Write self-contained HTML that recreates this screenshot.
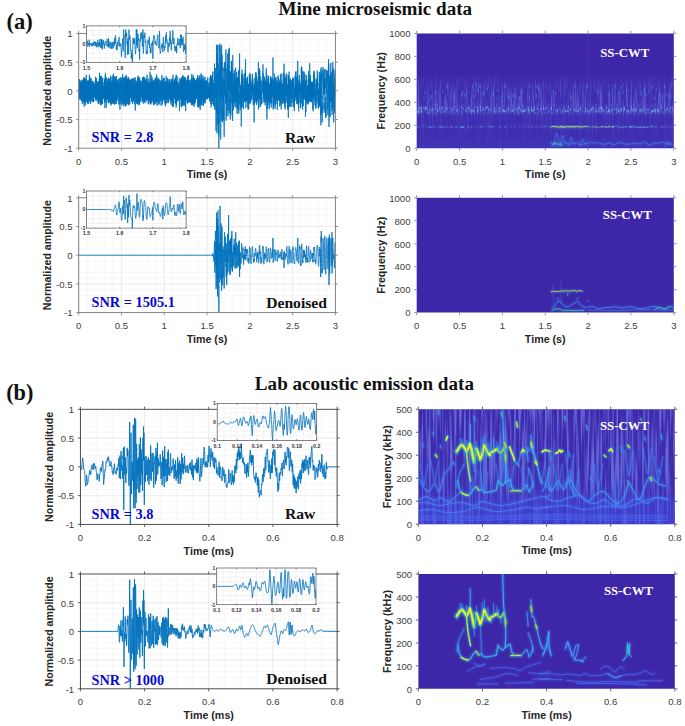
<!DOCTYPE html>
<html lang="en"><head><meta charset="utf-8"><title>Mine microseismic and lab acoustic emission data</title>
<style>html,body{margin:0;padding:0;background:#fff}svg{display:block}</style></head><body>
<svg width="685" height="726" viewBox="0 0 685 726" role="img" aria-label="Raw and denoised waveforms with SS-CWT spectrograms">
<rect width="685" height="726" fill="#fff"/>
<text x="375.3" y="14.8" font-family='"Liberation Serif", serif' font-size="19.1" font-weight="bold" fill="#111" text-anchor="middle" >Mine microseismic data</text>
<text x="364.4" y="390.4" font-family='"Liberation Serif", serif' font-size="19.1" font-weight="bold" fill="#111" text-anchor="middle" >Lab acoustic emission data</text>
<text x="6.5" y="28.6" font-family='"Liberation Serif", serif' font-size="22.5" font-weight="bold" fill="#111" text-anchor="start" >(a)</text>
<text x="6.2" y="400.1" font-family='"Liberation Serif", serif' font-size="22.3" font-weight="bold" fill="#111" text-anchor="start" >(b)</text>
<g>
<rect x="78.7" y="33.4" width="256.7" height="114.8" fill="#fff"/>
<path d="M87.26 33.4V148.2M95.81 33.4V148.2M104.37 33.4V148.2M112.93 33.4V148.2M121.48 33.4V148.2M130.04 33.4V148.2M138.6 33.4V148.2M147.15 33.4V148.2M155.71 33.4V148.2M164.27 33.4V148.2M172.82 33.4V148.2M181.38 33.4V148.2M189.94 33.4V148.2M198.49 33.4V148.2M207.05 33.4V148.2M215.61 33.4V148.2M224.16 33.4V148.2M232.72 33.4V148.2M241.28 33.4V148.2M249.83 33.4V148.2M258.39 33.4V148.2M266.95 33.4V148.2M275.5 33.4V148.2M284.06 33.4V148.2M292.62 33.4V148.2M301.17 33.4V148.2M309.73 33.4V148.2M318.29 33.4V148.2M326.84 33.4V148.2M78.7 39.14H335.4M78.7 44.88H335.4M78.7 50.62H335.4M78.7 56.36H335.4M78.7 62.1H335.4M78.7 67.84H335.4M78.7 73.58H335.4M78.7 79.32H335.4M78.7 85.06H335.4M78.7 90.8H335.4M78.7 96.54H335.4M78.7 102.28H335.4M78.7 108.02H335.4M78.7 113.76H335.4M78.7 119.5H335.4M78.7 125.24H335.4M78.7 130.98H335.4M78.7 136.72H335.4M78.7 142.46H335.4" stroke="#f3f3f3" stroke-width="0.6" fill="none"/>
<path d="M78.7 33.4V148.2M121.48 33.4V148.2M164.27 33.4V148.2M207.05 33.4V148.2M249.83 33.4V148.2M292.62 33.4V148.2M335.4 33.4V148.2M78.7 119.5H335.4M78.7 90.8H335.4M78.7 62.1H335.4" stroke="#e6e6e6" stroke-width="0.7" fill="none"/>
<clipPath id="c1"><rect x="78.7" y="32.9" width="256.7" height="115.8"/></clipPath>
<polyline points="78.7,99.3 78.74,97.66 78.79,91.56 78.83,87.16 78.87,90.26 78.91,96.17 78.96,96.64 79,89.96 79.04,83.84 79.09,88.43 79.13,99.9 79.17,99.47 79.21,84.32 79.26,79.04 79.3,86.59 79.34,89.85 79.38,81.25 79.43,80.07 79.47,87.92 79.51,90.86 79.56,88.73 79.6,93.35 79.64,97.01 79.68,91.93 79.73,86.59 79.77,85.19 79.81,82.68 79.86,83.06 79.9,88.64 79.94,87.95 79.98,81.64 80.03,83.61 80.07,93.58 80.11,97.29 80.15,97.22 80.2,98.26 80.24,92.5 80.28,81.84 80.33,83.59 80.37,97.41 80.41,99.42 80.45,86.38 80.5,80.52 80.54,88.63 80.58,97.95 80.63,96.35 80.67,90.9 80.71,90.11 80.75,91.65 80.8,91.31 80.84,88.66 80.88,84.6 80.92,82.93 80.97,86.76 81.01,91.94 81.05,91.76 81.1,90.15 81.14,90.15 81.18,88.71 81.22,90.59 81.27,99.06 81.31,101.02 81.35,91.53 81.4,85.79 81.44,94.06 81.48,99.18 81.52,96.34 81.57,97.73 81.61,100.92 81.65,93.56 81.69,82.57 81.74,86.09 81.78,95.06 81.82,91.09 81.87,82.02 81.91,80.41 81.95,82.23 81.99,84.58 82.04,90.83 82.08,98.68 82.12,98.98 82.17,89.4 82.21,83.57 82.25,93.94 82.29,103.92 82.34,98.49 82.38,80.52 82.42,79.74 82.46,93.89 82.51,100.01 82.55,95.04 82.59,91.09 82.64,90.64 82.68,88.71 82.72,89.28 82.76,93.06 82.81,90.84 82.85,82.68 82.89,80.05 82.94,82.58 82.98,83.97 83.02,86.36 83.06,96.93 83.11,101.81 83.15,91.86 83.19,81.17 83.24,89.32 83.28,101 83.32,93.74 83.36,79.32 83.41,79.26 83.45,84.42 83.49,83.94 83.53,88.09 83.58,100.87 83.62,101.82 83.66,87 83.71,80.17 83.75,91.47 83.79,101.24 83.83,91.46 83.88,77.32 83.92,79.3 83.96,96.92 84.01,102.49 84.05,98.57 84.09,101.95 84.13,106.61 84.18,103.97 84.22,87.9 84.26,83.35 84.3,90.93 84.35,89.83 84.39,80.45 84.43,78.66 84.48,84.36 84.52,91.65 84.56,96.91 84.6,102.72 84.65,103.39 84.69,90.47 84.73,77.65 84.78,81.78 84.82,97.01 84.86,93.59 84.9,79.21 84.95,79.33 84.99,94.12 85.03,102.83 85.07,101.79 85.12,95.34 85.16,85.41 85.2,80.11 85.25,81.79 85.29,88.05 85.33,91.42 85.37,89.51 85.42,88.37 85.46,94.86 85.5,103.45 85.55,105.2 85.59,101.58 85.63,93.7 85.67,84.94 85.72,78.81 85.76,80.26 85.8,91.83 85.84,95.74 85.89,86.25 85.93,85.66 85.97,99.39 86.02,101.73 86.06,86.86 86.1,80.01 86.14,87.22 86.19,85.26 86.23,75.07 86.27,74.77 86.32,88.39 86.36,101.6 86.4,98.83 86.44,95.43 86.49,97.36 86.53,96.41 86.57,92.38 86.61,89.37 86.66,86.58 86.7,85.08 86.74,85.93 86.79,86.41 86.83,88.53 86.87,95.89 86.91,100.04 86.96,95.59 87,86.96 87.04,82.83 87.09,82.31 87.13,84.45 87.17,88.32 87.21,91.77 87.26,96.36 87.3,100.08 87.34,98.68 87.39,96.29 87.43,100.58 87.47,102.64 87.51,93.62 87.56,82.56 87.6,85.48 87.64,90.93 87.68,88.8 87.73,94.63 87.77,104.14 87.81,100.19 87.86,81.11 87.9,81.07 87.94,99.44 87.98,102.49 88.03,87.56 88.07,79.91 88.11,88.71 88.16,99.46 88.2,98.53 88.24,93.89 88.28,94.51 88.33,93.87 88.37,85.22 88.41,80.8 88.45,87.52 88.5,95.1 88.54,89.18 88.58,83.59 88.63,93.52 88.67,103.66 88.71,100.75 88.75,87.61 88.8,84.51 88.84,90.29 88.88,92.25 88.93,88.93 88.97,85.6 89.01,85.14 89.05,90.55 89.1,98.15 89.14,99.92 89.18,99.39 89.22,99.9 89.27,93.99 89.31,82.09 89.35,82.58 89.4,74.61 89.44,95.38 89.48,82.68 89.52,78.64 89.57,85.23 89.61,97.39 89.65,100.72 89.7,91.76 89.74,79.95 89.78,80.79 89.82,89.74 89.87,90.29 89.91,83.67 89.95,81.01 89.99,81.87 90.04,88.93 90.08,100.88 90.12,102.1 90.17,90.94 90.21,85.68 90.25,95.01 90.29,99.51 90.34,95.12 90.38,91.83 90.42,90.31 90.47,86.27 90.51,88.98 90.55,101 90.59,104.12 90.64,92.36 90.68,77.65 90.72,79.37 90.76,94.6 90.81,99.36 90.85,90.22 90.89,84.29 90.94,87.82 90.98,92.96 91.02,97.7 91.06,101.53 91.11,98.41 91.15,85.5 91.19,78.86 91.24,79.84 91.28,83.63 91.32,87.73 91.36,90.07 91.41,87.94 91.45,85.89 91.49,90.49 91.53,96.46 91.58,94.88 91.62,89.92 91.66,89.21 91.71,88.15 91.75,84.41 91.79,85.85 91.83,93.78 91.88,98.11 91.92,97.58 91.96,98.09 92.01,100.59 92.05,100.69 92.09,94.36 92.13,84.87 92.18,84.93 92.22,94.49 92.26,97.35 92.31,87.97 92.35,81.97 92.39,87.21 92.43,95.73 92.48,99.49 92.52,101.36 92.56,98.4 92.6,86.26 92.65,81.18 92.69,89.28 92.73,98.16 92.78,97.28 92.82,93 92.86,88.18 92.9,83.91 92.95,88.49 92.99,100.69 93.03,102.19 93.08,89.93 93.12,81.21 93.16,86.31 93.2,93.38 93.25,90.36 93.29,86.24 93.33,87.86 93.37,87.42 93.42,82.98 93.46,86.14 93.5,98.96 93.55,101.84 93.59,93.36 93.63,90.2 93.67,99.37 93.72,102.05 93.76,96.03 93.8,90.47 93.85,88.95 93.89,86.09 93.93,86.44 93.97,91.77 94.02,93.34 94.06,91.29 94.1,94.05 94.14,97.57 94.19,94.07 94.23,88.78 94.27,90.5 94.32,92.1 94.36,87.17 94.4,86.28 94.44,94.29 94.49,96.81 94.53,90.16 94.57,89.72 94.62,97.11 94.66,97.09 94.7,89.38 94.74,84.83 94.79,83.36 94.83,83.28 94.87,88.1 94.91,94.14 94.96,94.85 95,93.69 95.04,91.32 95.09,85.71 95.13,85.31 95.17,94.47 95.21,97.89 95.26,87.42 95.3,80.41 95.34,86.58 95.39,95.29 95.43,90.61 95.47,83.48 95.51,87.17 95.56,91.77 95.6,82.6 95.64,76.84 95.68,84.11 95.73,100.44 95.77,100.46 95.81,93.73 95.86,96.5 95.9,98.03 95.94,86.62 95.98,81.35 96.03,92.71 96.07,99.68 96.11,87.78 96.16,78.47 96.2,82.94 96.24,93.75 96.28,97.74 96.33,99.22 96.37,95.78 96.41,82.92 96.46,78.47 96.5,86.29 96.54,95.41 96.58,93.2 96.63,92.9 96.67,98.66 96.71,99.01 96.75,93.25 96.8,91.97 96.84,96.54 96.88,97.26 96.93,91.49 96.97,85.81 97.01,85.09 97.05,87.08 97.1,91.57 97.14,98.94 97.18,101.34 97.23,93.62 97.27,84.41 97.31,89.38 97.35,98.82 97.4,96.64 97.44,87.9 97.48,86.36 97.52,87.97 97.57,86.5 97.61,89.84 97.65,99.01 97.7,98.72 97.74,85.76 97.78,81.37 97.82,90.09 97.87,94.17 97.91,87.7 97.95,86.87 98,89.69 98.04,84.41 98.08,82.02 98.12,92.73 98.17,102.77 98.21,103.54 98.25,100.41 98.29,93.02 98.34,85.88 98.38,90.59 98.42,101.27 98.47,101.15 98.51,89.05 98.55,81.76 98.59,85.92 98.64,96.23 98.68,103.3 98.72,104.17 98.77,95.33 98.81,81.76 98.85,84.12 98.89,95.7 98.94,92.75 98.98,81.88 99.02,85.06 99.06,96.12 99.11,92.89 99.15,86.08 99.19,94.76 99.24,100.84 99.28,88.73 99.32,78.46 99.36,83.79 99.41,92.87 99.45,87.15 99.49,81.6 99.54,72.88 99.58,95.61 99.62,97.46 99.66,96.42 99.71,95.39 99.75,91.26 99.79,85.16 99.83,86.64 99.88,98.05 99.92,101.87 99.96,90.83 100.01,80.44 100.05,88.12 100.09,102.58 100.13,103.56 100.18,93.88 100.22,81.02 100.26,77.1 100.31,79.65 100.35,90.22 100.39,96.83 100.43,90.51 100.48,78.99 100.52,75.98 100.56,81.92 100.61,100.69 100.65,105.28 100.69,95.13 100.73,76.78 100.78,75.67 100.82,90.86 100.86,104.56 100.9,99.7 100.95,84.2 100.99,82.69 101.03,86.09 101.08,84.93 101.12,92.08 101.16,104.1 101.2,102.3 101.25,81.62 101.29,76.32 101.33,89.22 101.38,104.8 101.42,104.55 101.46,93.69 101.5,83.04 101.55,83.52 101.59,92.14 101.63,100.28 101.67,98.56 101.72,83.55 101.76,76.66 101.8,81.5 101.85,92.93 101.89,91.69 101.93,86.77 101.97,87.63 102.02,85.16 102.06,81.64 102.1,90.68 102.15,102.88 102.19,98.43 102.23,80.62 102.27,79.58 102.32,95.82 102.36,104.15 102.4,101.09 102.44,92.29 102.49,86.87 102.53,85.33 102.57,87.8 102.62,93.95 102.66,93.57 102.7,82.7 102.74,77.91 102.79,83.78 102.83,94.83 102.87,95.01 102.92,90.56 102.96,90.67 103,92.16 103.04,91.9 103.09,92.69 103.13,92.9 103.17,88.88 103.21,86.51 103.26,92.6 103.3,98.84 103.34,95.39 103.39,88.36 103.43,91.88 103.47,98.7 103.51,95.01 103.56,85.86 103.6,88.22 103.64,97.53 103.69,97.07 103.73,88.54 103.77,86.35 103.81,91.39 103.86,94.95 103.9,94.68 103.94,91.36 103.98,85.42 104.03,82.25 104.07,85.19 104.11,91.92 104.16,95.76 104.2,95.45 104.24,91.72 104.28,85.96 104.33,85.07 104.37,94.61 104.41,102.63 104.46,98.52 104.5,83.35 104.54,79.51 104.58,87.02 104.63,97.48 104.67,101.11 104.71,97.4 104.76,84.57 104.8,79.32 104.84,87.63 104.88,108.12 104.93,98.63 104.97,93.37 105.01,89.68 105.05,82.38 105.1,78.6 105.14,87.63 105.18,101.45 105.23,94.95 105.27,76.38 105.31,74.82 105.35,86.31 105.4,101.36 105.44,99.72 105.48,72.75 105.53,93.99 105.57,96.41 105.61,95.8 105.65,95.58 105.7,97.53 105.74,96.87 105.78,89.02 105.82,81.66 105.87,84.48 105.91,94.79 105.95,95.86 106,86.57 106.04,80.95 106.08,80.56 106.12,81.8 106.17,86.46 106.21,90.11 106.25,82.59 106.3,77.29 106.34,85.63 106.38,107.44 106.42,104.39 106.47,92.84 106.51,85.73 106.55,91.92 106.59,98.08 106.64,98.74 106.68,95.59 106.72,89.31 106.77,87.05 106.81,92.85 106.85,97.4 106.89,96.3 106.94,96.38 106.98,94.86 107.02,83.57 107.07,78.62 107.11,88.64 107.15,100.04 107.19,93.71 107.24,83.35 107.28,86.21 107.32,94.29 107.36,95.18 107.41,91.36 107.45,88.89 107.49,88.74 107.54,87.35 107.58,83.39 107.62,82.77 107.66,90.83 107.71,99.58 107.75,97.92 107.79,87.47 107.84,82.05 107.88,86.47 107.92,96.03 107.96,97.86 108.01,88.28 108.05,79.88 108.09,83.63 108.13,98.37 108.18,102.9 108.22,96.21 108.26,85.85 108.31,83.2 108.35,84.72 108.39,90.2 108.43,96.71 108.48,92.6 108.52,79.93 108.56,77.89 108.61,88.35 108.65,99.42 108.69,97.93 108.73,90.89 108.78,85.21 108.82,80.94 108.86,80.81 108.91,91.64 108.95,103.37 108.99,101.41 109.03,84.48 109.08,78.62 109.12,88.94 109.16,102.08 109.2,102.33 109.25,92.91 109.29,81.19 109.33,78.67 109.38,87.39 109.42,101.57 109.46,101.23 109.5,86.44 109.55,80.79 109.59,90.91 109.63,97.7 109.68,88.84 109.72,82.67 109.76,89.7 109.8,94.5 109.85,87.03 109.89,84.83 109.93,94.56 109.97,98.44 110.02,92.85 110.06,93.11 110.1,99.29 110.15,95.93 110.19,83.9 110.23,82.88 110.27,94.29 110.32,99.91 110.36,92.83 110.4,83.68 110.45,84.81 110.49,90.01 110.53,89.84 110.57,91.65 110.62,99.41 110.66,96.4 110.7,78.09 110.74,75.64 110.79,94.68 110.83,105.5 110.87,91.36 110.92,77.22 110.96,85.79 111,97.07 111.04,88.1 111.09,88.08 111.13,103.76 111.17,104.25 111.22,85.29 111.26,81.11 111.3,99.53 111.34,103.89 111.39,92.39 111.43,85.86 111.47,91.35 111.51,89.42 111.56,85.93 111.6,95.82 111.64,102.44 111.69,95.84 111.73,88.83 111.77,95.72 111.81,97.19 111.86,86.98 111.9,84.26 111.94,88.46 111.99,84.35 112.03,82.25 112.07,95.04 112.11,102.65 112.16,95.6 112.2,87.52 112.24,92.43 112.28,96.77 112.33,95.15 112.37,91.09 112.41,83.84 112.46,81.49 112.5,93.03 112.54,103.44 112.58,101.37 112.63,96.33 112.67,100.65 112.71,100.5 112.76,83.79 112.8,75.64 112.84,78.71 112.88,86.3 112.93,82.4 112.97,79.6 113.01,89.29 113.06,100.5 113.1,97.87 113.14,90.72 113.18,95.83 113.23,101.81 113.27,90.9 113.31,74.63 113.35,73.78 113.4,85.03 113.44,103.8 113.48,103.94 113.53,99.35 113.57,98.93 113.61,99.78 113.65,98.75 113.7,97.29 113.74,90.79 113.78,79.87 113.83,77.12 113.87,81.41 113.91,87.55 113.95,90.62 114,98.17 114.04,103.72 114.08,99.67 114.12,83.67 114.17,78.2 114.21,82.23 114.25,84.56 114.3,78.59 114.34,78.06 114.38,92.65 114.42,104.77 114.47,103.18 114.51,93.94 114.55,90.94 114.6,94.63 114.64,93.89 114.68,83.88 114.72,76 114.77,75.99 114.81,87.7 114.85,101.71 114.89,101.29 114.94,96.91 114.98,99.25 115.02,101.52 115.07,95.04 115.11,83.02 115.15,80.72 115.19,87.95 115.24,96.47 115.28,96.72 115.32,93.02 115.37,94.05 115.41,98.81 115.45,99.26 115.49,92.97 115.54,85.09 115.58,81.06 115.62,78.32 115.66,77.06 115.71,82.1 115.75,98.85 115.79,103.94 115.84,95.97 115.88,86.8 115.92,93.24 115.96,97.19 116.01,87.14 116.05,82.29 116.09,92.53 116.14,98.83 116.18,89.15 116.22,81.57 116.26,90.38 116.31,103.18 116.35,103.68 116.39,91.53 116.43,78.05 116.48,75.91 116.52,78.55 116.56,87.29 116.61,98.36 116.65,100.18 116.69,89.08 116.73,79.75 116.78,85.67 116.82,100.36 116.86,101.16 116.91,89.02 116.95,80.14 116.99,79.39 117.03,82.05 117.08,90.06 117.12,99.21 117.16,100.12 117.2,94.78 117.25,90.16 117.29,87.87 117.33,87.82 117.38,93.21 117.42,96.48 117.46,88.55 117.5,80.33 117.55,82.9 117.59,92.35 117.63,94.48 117.68,89.24 117.72,85.85 117.76,87.17 117.8,88.71 117.85,85.82 117.89,81.94 117.93,82.65 117.98,87.29 118.02,89.34 118.06,86.99 118.1,84.24 118.15,84.34 118.19,89.81 118.23,95.07 118.27,90.03 118.32,82.8 118.36,85.68 118.4,89.95 118.45,84.75 118.49,85.35 118.53,97.04 118.57,96.46 118.62,81.98 118.66,83.06 118.7,101.91 118.75,104.59 118.79,88.76 118.83,78.9 118.87,86.99 118.92,96.95 118.96,94.67 119,92.71 119.04,97.08 119.09,99.17 119.13,97.64 119.17,96.35 119.22,95.06 119.26,92.59 119.3,90.68 119.34,87.38 119.39,81.03 119.43,78.1 119.47,82.81 119.52,96.46 119.56,101.97 119.6,97.28 119.64,87.48 119.69,85.33 119.73,90.41 119.77,93.24 119.81,89.37 119.86,85.41 119.9,86.81 119.94,109.76 119.99,99.07 120.03,103.56 120.07,103.86 120.11,98.45 120.16,89.46 120.2,86.6 120.24,87.64 120.29,85.05 120.33,79.71 120.37,80.08 120.41,93.04 120.46,103.1 120.5,99.44 120.54,90.09 120.58,94.97 120.63,101.56 120.67,93.85 120.71,79.06 120.76,77.32 120.8,83.72 120.84,92.88 120.88,97.59 120.93,99.15 120.97,98.55 121.01,98.25 121.06,99.94 121.1,100.17 121.14,95.1 121.18,85.03 121.23,78.6 121.27,77.76 121.31,81.4 121.35,89.01 121.4,96 121.44,98.88 121.48,96.04 121.53,88.2 121.57,84.19 121.61,86.98 121.65,90.02 121.7,86.09 121.74,79.92 121.78,79.41 121.83,89.54 121.87,103.18 121.91,105.44 121.95,102.87 122,102.51 122.04,104.44 122.08,99.28 122.13,83.9 122.17,81.05 122.21,87.96 122.25,91.39 122.3,92.2 122.34,98.53 122.38,102.4 122.42,99.16 122.47,93.73 122.51,97.94 122.55,103.32 122.6,96.72 122.64,76.87 122.68,74.08 122.72,81.96 122.77,101.5 122.81,102.45 122.85,94.89 122.9,91.36 122.94,93.54 122.98,95.55 123.02,95.85 123.07,91.65 123.11,82.51 123.15,77.32 123.19,77.23 123.24,82.26 123.28,95.63 123.32,104 123.37,101.75 123.41,88.82 123.45,87.66 123.49,100.53 123.54,101.69 123.58,87.92 123.62,83.64 123.67,93.62 123.71,93.45 123.75,85.5 123.79,95.69 123.84,106.24 123.88,102.79 123.92,85.43 123.96,87.8 124.01,99.14 124.05,91.62 124.09,78.27 124.14,78.55 124.18,86.79 124.22,93.37 124.26,94.07 124.31,88.21 124.35,83.03 124.39,89.85 124.44,99.61 124.48,94.33 124.52,82.23 124.56,80.94 124.61,80.76 124.65,77.97 124.69,84.93 124.73,102.69 124.78,101.59 124.82,83.2 124.86,82.47 124.91,100.66 124.95,104.05 124.99,93.51 125.03,85.55 125.08,86.44 125.12,80.7 125.16,76.59 125.21,86.3 125.25,105.08 125.29,102.87 125.33,79.1 125.38,76.88 125.42,99.94 125.46,106.54 125.5,93.36 125.55,77.65 125.59,79.65 125.63,84.35 125.68,85.06 125.72,93.41 125.76,102.12 125.8,99.48 125.85,89.2 125.89,87.43 125.93,94.69 125.98,100.48 126.02,97.51 126.06,81.79 126.1,75.42 126.15,79.24 126.19,91.8 126.23,94.59 126.28,97.2 126.32,102.91 126.36,98.37 126.4,83.41 126.45,89.08 126.49,105.27 126.53,103.18 126.57,79.2 126.62,75.54 126.66,89.21 126.7,100.4 126.75,94.44 126.79,93.1 126.83,101.84 126.87,102.26 126.92,88.89 126.96,80.71 127,89.52 127.05,99.58 127.09,91.7 127.13,78.75 127.17,79.29 127.22,91.57 127.26,102.02 127.3,103.92 127.34,97.73 127.39,82.76 127.43,80.78 127.47,93.29 127.52,98.77 127.56,88.31 127.6,80.78 127.64,83.77 127.69,90.16 127.73,95.84 127.77,101.36 127.82,100.8 127.86,87.73 127.9,78.4 127.94,83.21 127.99,97.41 128.03,99.06 128.07,90.03 128.11,83.3 128.16,82.08 128.2,86.04 128.24,98.91 128.29,104.78 128.33,96.7 128.37,78.08 128.41,77.03 128.46,90.06 128.5,101.27 128.54,101.74 128.59,97.54 128.63,85.4 128.67,77.74 128.71,84.15 128.76,102.36 128.8,104.36 128.84,92.75 128.88,79.83 128.93,79.57 128.97,92.5 129.01,105.09 129.06,105.28 129.1,93.07 129.14,79.83 129.18,80.06 129.23,87.84 129.27,93.72 129.31,90.78 129.36,83.35 129.4,79.68 129.44,81.44 129.48,90.97 129.53,101.98 129.57,103.06 129.61,92.14 129.65,83.55 129.7,94.19 129.74,103.86 129.78,99.97 129.83,88.21 129.87,87.6 129.91,92.16 129.95,91.79 130,90.67 130.04,90.43 130.08,86.52 130.13,84.31 130.17,91.07 130.21,97.46 130.25,91.23 130.3,83.16 130.34,88.78 130.38,97.64 130.43,91.06 130.47,79.8 130.51,80.43 130.55,88.51 130.6,91.43 130.64,89.14 130.68,87.78 130.72,87.98 130.77,92.1 130.81,96.85 130.85,93.07 130.9,84.58 130.94,83.99 130.98,86.96 131.02,85.7 131.07,87.1 131.11,94.64 131.15,96.63 131.2,92.09 131.24,92.99 131.28,98.81 131.32,97.82 131.37,87.8 131.41,80.07 131.45,79.05 131.49,83.64 131.54,92.94 131.58,95.63 131.62,90.41 131.67,90.15 131.71,98.31 131.75,101.98 131.79,99.95 131.84,96.35 131.88,89.74 131.92,80.43 131.97,78.89 132.01,89.63 132.05,101.13 132.09,97.96 132.14,86.48 132.18,86.24 132.22,95.67 132.26,99.82 132.31,99.86 132.35,99.41 132.39,90.48 132.44,78.17 132.48,80.21 132.52,99.74 132.56,104.09 132.61,89.93 132.65,78.35 132.69,81.15 132.74,90.15 132.78,97.46 132.82,101.9 132.86,99.2 132.91,86.15 132.95,81.87 132.99,91.63 133.03,98.96 133.08,93.29 133.12,82.49 133.16,78.38 133.21,79.58 133.25,85.9 133.29,93.55 133.33,96.28 133.38,94.7 133.42,91.83 133.46,93.23 133.51,97.67 133.55,95.32 133.59,87.61 133.63,91.31 133.68,100.29 133.72,95.79 133.76,84.5 133.8,89.69 133.85,99.35 133.89,93.64 133.93,84.03 133.98,86.45 134.02,88.95 134.06,83.16 134.1,81.23 134.15,87.68 134.19,97.48 134.23,101.6 134.28,97.04 134.32,84.99 134.36,86.58 134.4,102.21 134.45,104.25 134.49,88.27 134.53,78.23 134.58,85.6 134.62,96.1 134.66,92.54 134.7,87.4 134.75,91.77 134.79,97.13 134.83,93.66 134.87,85.68 134.92,87 134.96,96.57 135,95.31 135.05,80.59 135.09,77.08 135.13,85.96 135.17,93.78 135.22,86.71 135.26,110.47 135.3,92.1 135.35,97.99 135.39,98.43 135.43,97.95 135.47,94.14 135.52,87.4 135.56,85.02 135.6,87 135.64,89.86 135.69,89.67 135.73,83.64 135.77,79.85 135.82,85.69 135.86,96.55 135.9,95.26 135.94,86.55 135.99,84.8 136.03,86.77 136.07,83.86 136.12,82.1 136.16,91.32 136.2,102.48 136.24,100.61 136.29,87.67 136.33,88.09 136.37,101.94 136.41,103.61 136.46,91.57 136.5,83.37 136.54,86.34 136.59,85.13 136.63,81.95 136.67,89.29 136.71,99.82 136.76,98.89 136.8,93.94 136.84,96.79 136.89,100.31 136.93,98.26 136.97,95.23 137.01,93.2 137.06,86.14 137.1,80.85 137.14,87.59 137.18,101.25 137.23,101.65 137.27,88.56 137.31,82.06 137.36,92.71 137.4,103.84 137.44,102.91 137.48,88.29 137.53,76.84 137.57,76.71 137.61,85.8 137.66,95.97 137.7,91.83 137.74,83.59 137.78,84.5 137.83,87.96 137.87,84.81 137.91,87 137.95,101.38 138,104.45 138.04,87.95 138.08,75.7 138.13,81.48 138.17,101.38 138.21,103.32 138.25,93.96 138.3,86.43 138.34,85.65 138.38,86.73 138.43,92.07 138.47,97.77 138.51,95.23 138.55,85.89 138.6,80.05 138.64,78.77 138.68,81.99 138.73,92.82 138.77,100.88 138.81,99.87 138.85,92.92 138.9,90.12 138.94,97.7 138.98,104.67 139.02,104.73 139.07,97.21 139.11,84.65 139.15,78.44 139.2,78.85 139.24,91.99 139.28,105.13 139.32,104.02 139.37,87.94 139.41,81.53 139.45,94.9 139.5,104.29 139.54,100.09 139.58,83.67 139.62,77.26 139.67,78.48 139.71,84.04 139.75,92.2 139.79,98.38 139.84,99.89 139.88,99.09 139.92,99.29 139.97,97.99 140.01,90.57 140.05,83.89 140.09,85.19 140.14,88.21 140.18,84.96 140.22,80.78 140.27,81.35 140.31,87.65 140.35,97.37 140.39,101.52 140.44,97.57 140.48,89 140.52,85.95 140.56,84.66 140.61,82.39 140.65,86.89 140.69,97.4 140.74,96.1 140.78,83.16 140.82,81.26 140.86,94.71 140.91,102.09 140.95,96.69 140.99,88.59 141.04,86.86 141.08,83.39 141.12,80.48 141.16,85.37 141.21,93.17 141.25,90.88 141.29,85.91 141.33,88.57 141.38,94.64 141.42,96.84 141.46,95.63 141.51,93.86 141.55,94.38 141.59,94.87 141.63,90.25 141.68,84.74 141.72,85.49 141.76,89.46 141.81,91.19 141.85,92.12 141.89,92.95 141.93,93.46 141.98,96.08 142.02,97.14 142.06,92.11 142.1,89.43 142.15,95.85 142.19,98.43 142.23,90.75 142.28,85.4 142.32,91.51 142.36,99.28 142.4,100.41 142.45,98.62 142.49,97.34 142.53,92.82 142.58,81.95 142.62,77.53 142.66,83.95 142.7,95.95 142.75,90.3 142.79,78.42 142.83,78.83 142.88,90.75 142.92,100.07 142.96,101.69 143,100.72 143.05,94.41 143.09,81.46 143.13,77.2 143.17,86.68 143.22,103.69 143.26,102.8 143.3,85.65 143.35,81.13 143.39,93.41 143.43,100.32 143.47,98.49 143.52,98.2 143.56,95.02 143.6,81.53 143.65,76.62 143.69,84.38 143.73,100.27 143.77,101.75 143.82,94.33 143.86,86.66 143.9,85.58 143.94,93.48 143.99,102.41 144.03,100.84 144.07,85.74 144.12,78.33 144.16,82.23 144.2,91.76 144.24,97.44 144.29,99.26 144.33,96.95 144.37,91.08 144.42,90.48 144.46,97.66 144.5,101.5 144.54,97.13 144.59,86.6 144.63,79.61 144.67,77.15 144.71,79.41 144.76,91.57 144.8,99.23 144.84,90.54 144.89,80.12 144.93,84.35 144.97,99.59 145.01,103.16 145.06,93.95 145.1,80.83 145.14,79.56 145.19,85.44 145.23,90.16 145.27,90.52 145.31,91.61 145.36,92.66 145.4,92.07 145.44,92.67 145.48,93.84 145.53,92.51 145.57,89.23 145.61,85.1 145.66,82.78 145.7,87.63 145.74,97.69 145.78,100.07 145.83,96.91 145.87,97.39 145.91,99.61 145.96,96.56 146,91.13 146.04,88.72 146.08,84.23 146.13,78.71 146.17,78.69 146.21,86.14 146.25,92.72 146.3,88.49 146.34,84.13 146.38,90.74 146.43,100.63 146.47,99.31 146.51,85.92 146.55,79.58 146.6,86.3 146.64,99.09 146.68,101.45 146.73,96.07 146.77,90.25 146.81,89.92 146.85,92.33 146.9,94.21 146.94,92.25 146.98,83.06 147.02,75.72 147.07,74.78 147.11,80.12 147.15,95.61 147.2,99.82 147.24,91.7 147.28,85.24 147.32,90.8 147.37,97.97 147.41,96.36 147.45,89.36 147.5,84.09 147.54,82.09 147.58,84.04 147.62,90 147.67,94.95 147.71,97.69 147.75,99.53 147.8,96.19 147.84,86.62 147.88,84.02 147.92,88.74 147.97,87.89 148.01,84.55 148.05,91.41 148.09,98.1 148.14,91.67 148.18,86.9 148.22,97.89 148.27,104.25 148.31,99.25 148.35,85.47 148.39,79.04 148.44,78.87 148.48,85.65 148.52,96.51 148.57,97.03 148.61,90.7 148.65,89.43 148.69,91.91 148.74,93.6 148.78,97.77 148.82,100.11 148.86,92.78 148.91,81.78 148.95,82.56 148.99,95.09 149.04,103.19 149.08,103.03 149.12,97.77 149.16,91.26 149.21,89.92 149.25,92.61 149.29,92.39 149.34,87.89 149.38,86.36 149.42,87.38 149.46,84.09 149.51,82.79 149.55,92.72 149.59,100.88 149.63,94.91 149.68,83.86 149.72,83.93 149.76,88.41 149.81,89.35 149.85,92.19 149.89,97.28 149.93,94.08 149.98,83.9 150.02,71.66 150.06,98.53 150.11,100.28 150.15,88.65 150.19,86.6 150.23,95.33 150.28,91.52 150.32,83.56 150.36,94.44 150.4,104.58 150.45,98.82 150.49,84.22 150.53,85.25 150.58,91.95 150.62,93.54 150.66,95.01 150.7,93.45 150.75,85.5 150.79,83.29 150.83,89.71 150.88,91.82 150.92,85.28 150.96,82.15 151,85.35 151.05,74.8 151.09,89.67 151.13,88.78 151.17,92.44 151.22,100.49 151.26,103.58 151.3,97.84 151.35,85.19 151.39,85.12 151.43,97.36 151.47,101.25 151.52,91.17 151.56,81.46 151.6,85.52 151.65,97.09 151.69,102.31 151.73,101.61 151.77,91.18 151.82,77.71 151.86,77.14 151.9,90.39 151.95,99.83 151.99,90.12 152.03,78.43 152.07,79.34 152.12,92.27 152.16,100.89 152.2,95.97 152.24,84.55 152.29,81.73 152.33,82.64 152.37,80.48 152.42,80.63 152.46,89.17 152.5,96.03 152.54,90.93 152.59,85.29 152.63,89.68 152.67,97.24 152.72,99.03 152.76,97.21 152.8,93.22 152.84,86.18 152.89,81.92 152.93,86.62 152.97,98.21 153.01,101.04 153.06,91.68 153.1,80.85 153.14,82.38 153.19,95.46 153.23,102.86 153.27,100.01 153.31,89 153.36,84.51 153.4,94.01 153.44,104.55 153.49,105.37 153.53,97.17 153.57,86.56 153.61,91.24 153.66,100.4 153.7,99.25 153.74,88.67 153.78,81.46 153.83,80.22 153.87,82.67 153.91,91.21 153.96,97.65 154,92.09 154.04,83.55 154.08,88.31 154.13,101.32 154.17,104.87 154.21,102.17 154.26,92.16 154.3,81.43 154.34,81.61 154.38,93.53 154.43,98.42 154.47,88.57 154.51,81.74 154.55,85.07 154.6,88.83 154.64,89.76 154.68,94.11 154.73,96.66 154.77,90.35 154.81,81.11 154.85,79.13 154.9,87.28 154.94,101.93 154.98,104.08 155.03,93.1 155.07,82.65 155.11,90.81 155.15,101.11 155.2,96.25 155.24,84.43 155.28,86.17 155.32,92.49 155.37,84.4 155.41,77.58 155.45,85.96 155.5,102.76 155.54,101.73 155.58,88.08 155.62,84.1 155.67,89.99 155.71,94.04 155.75,96.21 155.8,96.37 155.84,89.18 155.88,84.3 155.92,93.76 155.97,102.7 156.01,98.67 156.05,87.99 156.1,88.74 156.14,92.55 156.18,88.13 156.22,85.58 156.27,90.17 156.31,89.07 156.35,80.39 156.39,79.18 156.44,90.93 156.48,102.13 156.52,98.23 156.57,80.27 156.61,74.53 156.65,76.65 156.69,92.44 156.74,101.84 156.78,92.4 156.82,77.24 156.87,76.58 156.91,91.76 156.95,105.87 156.99,105.9 157.04,93.55 157.08,79.32 157.12,79.81 157.16,88.95 157.21,98.06 157.25,101.77 157.29,98.55 157.34,86.19 157.38,81.78 157.42,91.21 157.46,100.28 157.51,97.94 157.55,87.04 157.59,79.09 157.64,78.79 157.68,87.26 157.72,97.5 157.76,98.55 157.81,98.23 157.85,100.11 157.89,96.12 157.93,87.05 157.98,89.46 158.02,97.67 158.06,94.28 158.11,85.71 158.15,87.63 158.19,92.94 158.23,94.1 158.28,99.79 158.32,104.4 158.36,98.91 158.41,83.84 158.45,84.44 158.49,93.31 158.53,87.5 158.58,78.14 158.62,80.79 158.66,93.57 158.7,95.24 158.75,86.91 158.79,86.14 158.83,92.12 158.88,90.78 158.92,86.73 158.96,93.75 159,99.41 159.05,88.41 159.09,79.42 159.13,90.71 159.18,104.54 159.22,102.83 159.26,92.98 159.3,89.61 159.35,88.24 159.39,86.53 159.43,93.93 159.47,101.73 159.52,98.9 159.56,88.69 159.6,86.08 159.65,90.42 159.69,92.8 159.73,90.52 159.77,87.07 159.82,85.2 159.86,82.95 159.9,80.02 159.95,81.68 159.99,93 160.03,100.6 160.07,95.49 160.12,85.31 160.16,84.99 160.2,90.49 160.25,91.15 160.29,88.54 160.33,91.2 160.37,95.53 160.42,90.98 160.46,83.46 160.5,88.23 160.54,99.96 160.59,99.5 160.63,88.05 160.67,81.89 160.72,81.1 160.76,80.85 160.8,86.59 160.84,97.69 160.89,96.54 160.93,84.66 160.97,86.14 161.02,102.58 161.06,105.77 161.1,95.31 161.14,82.79 161.19,91.18 161.23,101.23 161.27,95.23 161.31,83.7 161.36,86.93 161.4,95.6 161.44,94.52 161.49,93.42 161.53,98.53 161.57,94.9 161.61,80.91 161.66,79.98 161.7,93.08 161.74,95.47 161.79,83.34 161.83,82.96 161.87,96.39 161.91,75.01 161.96,95.55 162,95.48 162.04,98.21 162.08,92.56 162.13,84.1 162.17,86.72 162.21,98.03 162.26,101.31 162.3,93.92 162.34,87.74 162.38,96.79 162.43,104.56 162.47,102.35 162.51,90.82 162.56,83.46 162.6,81.42 162.64,80.66 162.68,84.38 162.73,93.42 162.77,97.73 162.81,95.09 162.85,90.94 162.9,90.09 162.94,91.17 162.98,90.64 163.03,86.48 163.07,80.93 163.11,78.43 163.15,80.62 163.2,89.84 163.24,98.75 163.28,99.03 163.33,94.33 163.37,92.32 163.41,91.76 163.45,87.37 163.5,83.62 163.54,83.67 163.58,85.23 163.62,89.78 163.67,97.26 163.71,99.55 163.75,97.24 163.8,98.19 163.84,99.78 163.88,91.64 163.92,79.46 163.97,77.99 164.01,84.15 164.05,91.66 164.1,93.91 164.14,93.8 164.18,93.98 164.22,97.38 164.27,101.88 164.31,99.98 164.35,86.16 164.4,77.84 164.44,79.21 164.48,84.57 164.52,89.75 164.57,96.14 164.61,97.84 164.65,91.8 164.69,91.05 164.74,99.4 164.78,98.84 164.82,85.7 164.87,81.31 164.91,85.16 164.95,82.56 164.99,81.09 165.04,95.71 165.08,104.71 165.12,97.53 165.17,84.84 165.21,90.43 165.25,95.58 165.29,87.43 165.34,86.28 165.38,96.59 165.42,95.51 165.46,83.44 165.51,85.98 165.55,102.68 165.59,106.15 165.64,100.44 165.68,88.18 165.72,84.63 165.76,87 165.81,92.6 165.85,97.88 165.89,96.96 165.94,90.21 165.98,86.9 166.02,89.93 166.06,95.07 166.11,99.47 166.15,97.83 166.19,83.01 166.23,76.14 166.28,85.45 166.32,103.56 166.36,99.44 166.41,81.87 166.45,84.64 166.49,98.9 166.53,96.77 166.58,86.05 166.62,87.49 166.66,92.19 166.71,86.5 166.75,82.23 166.79,89.48 166.83,99.14 166.88,97.87 166.92,88.27 166.96,83 167,86.03 167.05,94.11 167.09,98.78 167.13,95.14 167.18,85.92 167.22,84.66 167.26,93.9 167.3,100.17 167.35,96.96 167.39,86.14 167.43,78.26 167.48,77.9 167.52,86.37 167.56,94.11 167.6,86.67 167.65,81.3 167.69,91.12 167.73,102.46 167.77,103.02 167.82,100.73 167.86,98.14 167.9,91.36 167.95,88.7 167.99,96.59 168.03,99.76 168.07,92.73 168.12,88.4 168.16,93 168.2,95.27 168.25,94.04 168.29,94.46 168.33,92.99 168.37,88.96 168.42,87.94 168.46,86.5 168.5,83.81 168.55,91.02 168.59,102.94 168.63,101.92 168.67,87.71 168.72,83.42 168.76,93.16 168.8,98.73 168.84,92.58 168.89,81.65 168.93,79.23 168.97,86.61 169.02,94.72 169.06,91.37 169.1,89.81 169.14,97.69 169.19,97.49 169.23,83.57 169.27,79.52 169.32,89.49 169.36,96.05 169.4,87.25 169.44,79.76 169.49,81.54 169.53,90.97 169.57,98.64 169.61,96.56 169.66,86.38 169.7,81.96 169.74,86.18 169.79,91.43 169.83,91.29 169.87,90.2 169.91,92.71 169.96,97.49 170,100.35 170.04,98.71 170.09,91.63 170.13,85.48 170.17,85.76 170.21,87.64 170.26,84.95 170.3,81.88 170.34,83.62 170.38,89.97 170.43,97.48 170.47,101.16 170.51,98.03 170.56,90.2 170.6,88.46 170.64,88.17 170.68,82.62 170.73,82.96 170.77,94.4 170.81,97.2 170.86,86.2 170.9,84.93 170.94,99.67 170.98,104.73 171.03,97.44 171.07,82.4 171.11,78.63 171.15,81.85 171.2,89.4 171.24,95.18 171.28,96.06 171.33,93.64 171.37,92.24 171.41,96.08 171.45,101.14 171.5,101.64 171.54,97.21 171.58,88.61 171.63,80.39 171.67,79.46 171.71,89.79 171.75,98.71 171.8,91.8 171.84,83.32 171.88,86.62 171.92,89.46 171.97,83.79 172.01,83.06 172.05,91.57 172.1,96.87 172.14,93.41 172.18,87.95 172.22,87.55 172.27,95.31 172.31,104.75 172.35,106.63 172.4,99.66 172.44,80.72 172.48,79.54 172.52,94.21 172.57,101.07 172.61,95.01 172.65,91.23 172.69,92.18 172.74,84.28 172.78,81.52 172.82,99.03 172.87,106.07 172.91,91.31 172.95,74.87 172.99,77.35 173.04,90.43 173.08,88.04 173.12,83.48 173.17,91.84 173.21,94.3 173.25,82.06 173.29,81.21 173.34,100.78 173.38,106.77 173.42,99.52 173.47,81.66 173.51,81.26 173.55,90.66 173.59,97.2 173.64,97.59 173.68,91.88 173.72,84.86 173.76,88.87 173.81,100.99 173.85,103.26 173.89,96.85 173.94,91.17 173.98,90.3 174.02,85.72 174.06,83.22 174.11,90.33 174.15,97.11 174.19,90.9 174.24,81.15 174.28,82.53 174.32,93.56 174.36,96.95 174.41,87.83 174.45,79.98 174.49,78.85 174.53,80.86 174.58,88.44 174.62,98.02 174.66,96.55 174.71,87.87 174.75,89.98 174.79,98.44 174.83,96.74 174.88,87.75 174.92,84.77 174.96,86.92 175.01,91.14 175.05,97.17 175.09,99.39 175.13,95.61 175.18,91.27 175.22,90.84 175.26,90.9 175.3,89.74 175.35,86.3 175.39,80.25 175.43,77.17 175.48,79.43 175.52,90.5 175.56,102.22 175.6,104.21 175.65,95.62 175.69,81.2 175.73,81.83 175.78,95.37 175.82,100.97 175.86,96.07 175.9,91.53 175.95,91.99 175.99,89.58 176.03,91.82 176.07,104.82 176.12,107.47 176.16,94.44 176.2,74.63 176.25,76.61 176.29,95.58 176.33,100.7 176.37,99.16 176.42,101.36 176.46,96.04 176.5,85.21 176.55,94.62 176.59,105.4 176.63,99.42 176.67,80.03 176.72,79.63 176.76,85.35 176.8,82.07 176.84,85.6 176.89,101.92 176.93,101.82 176.97,81.23 177.02,75.97 177.06,82.93 177.1,90.1 177.14,86.04 177.19,82.7 177.23,82.73 177.27,87.76 177.32,98.34 177.36,100.5 177.4,92.23 177.44,89.55 177.49,96.24 177.53,92.86 177.57,81.86 177.62,83.24 177.66,94.84 177.7,98.25 177.74,96.37 177.79,97.58 177.83,97.31 177.87,93.62 177.91,92.41 177.96,90.51 178,84.96 178.04,85.31 178.09,92.07 178.13,91.74 178.17,85.93 178.21,88.46 178.26,96.61 178.3,97.34 178.34,90.97 178.39,85.95 178.43,86.12 178.47,90.44 178.51,96.91 178.56,100.7 178.6,98.43 178.64,90.35 178.68,88.31 178.73,96.31 178.77,99.07 178.81,89.35 178.86,82.25 178.9,88.01 178.94,94.95 178.98,93.49 179.03,93.13 179.07,93.6 179.11,86.86 179.16,84.25 179.2,92.74 179.24,93.3 179.28,80.5 179.33,78.42 179.37,90.59 179.41,99.59 179.45,111.15 179.5,93.72 179.54,90.32 179.58,84.34 179.63,84.57 179.67,92.13 179.71,93.84 179.75,87.66 179.8,84.71 179.84,86.51 179.88,89.94 179.93,96.04 179.97,100.04 180.01,95.96 180.05,87.43 180.1,87.57 180.14,94.54 180.18,98.43 180.22,98.45 180.27,95.05 180.31,88.5 180.35,87.7 180.4,94.14 180.44,94.74 180.48,88.66 180.52,90.09 180.57,96.55 180.61,95.85 180.65,94.11 180.7,98.43 180.74,97.55 180.78,85.63 180.82,80.41 180.87,87.16 180.91,92.6 180.95,83.36 180.99,78.08 181.04,90.18 181.08,106.31 181.12,106.05 181.17,89.35 181.21,79.37 181.25,86.79 181.29,92.87 181.34,86.31 181.38,84.15 181.42,88.59 181.47,86.93 181.51,85.97 181.55,100.04 181.59,107.21 181.64,105.6 181.68,90.76 181.72,78.53 181.77,77.29 181.81,84.23 181.85,98.29 181.89,97.23 181.94,81.54 181.98,79.19 182.02,96.23 182.06,105.28 182.11,98.5 182.15,79.94 182.19,77.39 182.24,86.88 182.28,97.08 182.32,92.21 182.36,83.35 182.41,86.98 182.45,100.58 182.49,105.49 182.54,103.9 182.58,93.19 182.62,78.32 182.66,75.52 182.71,83.85 182.75,101.42 182.79,100.32 182.83,84.1 182.88,78.28 182.92,83.24 182.96,94.95 183.01,102.9 183.05,102.53 183.09,86.84 183.13,75.64 183.18,78.52 183.22,98.41 183.26,105.74 183.31,104.3 183.35,97.53 183.39,86.24 183.43,80.96 183.48,87.22 183.52,97.27 183.56,92.69 183.6,80.53 183.65,79.11 183.69,86.36 183.73,95.87 183.78,102.47 183.82,104.62 183.86,98.29 183.9,81.28 183.95,77.33 183.99,81.88 184.03,84.55 184.08,80.2 184.12,80.5 184.16,89.86 184.2,97.51 184.25,97.23 184.29,96.88 184.33,98.84 184.37,95.92 184.42,84.7 184.46,77.75 184.5,77.1 184.55,78.5 184.59,81.37 184.63,91.63 184.67,103.65 184.72,105.26 184.76,98.28 184.8,90.48 184.85,97 184.89,100.87 184.93,88.74 184.97,76.86 185.02,78.02 185.06,87.91 185.1,92.63 185.14,94.03 185.19,102.27 185.23,106.21 185.27,102.42 185.32,87.04 185.36,81.84 185.4,85.51 185.44,84.98 185.49,79.97 185.53,77.98 185.57,78.78 185.62,83.76 185.66,111.04 185.7,101.14 185.74,98.23 185.79,94.91 185.83,97.18 185.87,95.48 185.92,87.08 185.96,86.11 186,95.91 186.04,100.11 186.09,93.06 186.13,86.42 186.17,92.51 186.21,100.62 186.26,100.18 186.3,93.4 186.34,86.02 186.39,81.42 186.43,80.97 186.47,86.09 186.51,91.88 186.56,90.72 186.6,87.18 186.64,88.47 186.69,93.12 186.73,96.09 186.77,98.08 186.81,100.1 186.86,97.93 186.9,87.54 186.94,80.28 186.98,83.14 187.03,93.7 187.07,99.71 187.11,98.01 187.16,88.18 187.2,79.36 187.24,81.22 187.28,96.56 187.33,103.56 187.37,96.81 187.41,81.11 187.46,75.96 187.5,76.66 187.54,85.48 187.58,99.04 187.63,97.93 187.67,84.4 187.71,79.91 187.75,86.71 187.8,95.61 187.84,99.12 187.88,101.26 187.93,100.03 187.97,90.87 188.01,82.98 188.05,85.8 188.1,94.98 188.14,100.89 188.18,103.07 188.23,100.28 188.27,87.29 188.31,81.17 188.35,92.42 188.4,74.96 188.44,93.71 188.48,79.91 188.52,80.36 188.57,85.36 188.61,83.81 188.65,83.69 188.7,91.31 188.74,96.79 188.78,94.43 188.82,87.78 188.87,81.81 188.91,82.05 188.95,93.33 189,102.22 189.04,98.76 189.08,90.04 189.12,94.39 189.17,102.56 189.21,102.14 189.25,96.84 189.29,95.08 189.34,92.62 189.38,83.81 189.42,80.04 189.47,85.15 189.51,90.72 189.55,87.02 189.59,84.39 189.64,89.04 189.68,91.61 189.72,87.35 189.77,85.9 189.81,89.04 189.85,89.65 189.89,89.67 189.94,93.65 189.98,95.01 190.02,91.77 190.07,93.74 190.11,99.49 190.15,95.76 190.19,82.29 190.24,79.83 190.28,89.63 190.32,94.82 190.36,86.58 190.41,84.63 190.45,96.77 190.49,102.51 190.54,96.56 190.58,88.91 190.62,89.87 190.66,90.04 190.71,86.89 190.75,85.67 190.79,83.95 190.84,83.01 190.88,91.59 190.92,102.3 190.96,101.81 191.01,93.25 191.05,89.48 191.09,90.75 191.13,88.07 191.18,83.92 191.22,81.19 191.26,78.74 191.31,80.66 191.35,95.48 191.39,105.14 191.43,102.79 191.48,92.2 191.52,95.23 191.56,104.58 191.61,100.97 191.65,77.9 191.69,74.24 191.73,82.98 191.78,96.53 191.82,87.71 191.86,82.92 191.9,94.93 191.95,101.78 191.99,96.6 192.03,88.48 192.08,85.77 192.12,84.64 192.16,83.44 192.2,83.15 192.25,86.34 192.29,95.18 192.33,102.34 192.38,103.94 192.42,101.33 192.46,91.63 192.5,81.63 192.55,82.2 192.59,89.43 192.63,86.36 192.67,77.55 192.72,78.96 192.76,97.43 192.8,105.47 192.85,101.43 192.89,92.48 192.93,94.94 192.97,96.86 193.02,83.51 193.06,74.74 193.1,75.75 193.15,91.44 193.19,102.91 193.23,97.6 193.27,84.82 193.32,85.47 193.36,98.22 193.4,104.11 193.44,100.99 193.49,86.95 193.53,77.31 193.57,78.21 193.62,92.32 193.66,102.97 193.7,101.24 193.74,95.21 193.79,91.48 193.83,84.17 193.87,79.12 193.92,106.63 193.96,99 194,96.41 194.04,82.11 194.09,80.08 194.13,92.78 194.17,102.82 194.22,100.83 194.26,90.79 194.3,84.72 194.34,81.93 194.39,77.94 194.43,79.11 194.47,93.89 194.51,101.79 194.56,91.72 194.6,82.91 194.64,94.2 194.69,104.64 194.73,102.68 194.77,88.99 194.81,80.66 194.86,84.79 194.9,96.04 194.94,98.57 194.99,91.71 195.03,87.59 195.07,92.19 195.11,96.15 195.16,95.17 195.2,94.68 195.24,93.73 195.28,86.33 195.33,82.13 195.37,92.04 195.41,102.76 195.46,98.68 195.5,84.38 195.54,83.45 195.58,91.99 195.63,91.75 195.67,83.11 195.71,79.98 195.76,82.47 195.8,86.1 195.84,89.19 195.88,94.01 195.93,96.68 195.97,92.25 196.01,87.58 196.05,93.25 196.1,99.34 196.14,93 196.18,81.98 196.23,82.49 196.27,90.61 196.31,95.07 196.35,94.03 196.4,87.18 196.44,79 196.48,78.71 196.53,86.84 196.57,89.14 196.61,81.66 196.65,81.98 196.7,92.36 196.74,97.65 196.78,96.31 196.82,96.15 196.87,95.31 196.91,90.51 196.95,86.76 197,86.36 197.04,86.28 197.08,87.69 197.12,93.06 197.17,97.39 197.21,97.34 197.25,97.77 197.3,99.65 197.34,93.41 197.38,78.43 197.42,75.22 197.47,80.03 197.51,85.87 197.55,79.27 197.59,78.27 197.64,95.72 197.68,106.77 197.72,104.93 197.77,89.62 197.81,81.93 197.85,88.93 197.89,95.95 197.94,89.26 197.98,78.36 198.02,76.99 198.07,87.52 198.11,104.44 198.15,107.31 198.19,104.96 198.24,94.52 198.28,84.7 198.32,82.02 198.36,83.84 198.41,89.5 198.45,91.98 198.49,85.64 198.54,81.98 198.58,93.97 198.62,106.33 198.66,106.53 198.71,96.12 198.75,83.66 198.79,81.36 198.84,78.11 198.88,77.63 198.92,88 198.96,96.62 199.01,85.28 199.05,79.66 199.09,96.55 199.14,107.37 199.18,105.4 199.22,83.34 199.26,75.27 199.31,80.46 199.35,94.27 199.39,93.19 199.43,85.6 199.48,86.15 199.52,91.63 199.56,97.53 199.61,102.34 199.65,100.8 199.69,90.83 199.73,87.68 199.78,91.59 199.82,86.84 199.86,83.33 199.91,95.34 199.95,102.14 199.99,89.72 200.03,80.37 200.08,94.99 200.12,105.08 200.16,94.82 200.2,109.88 200.25,81.77 200.29,98.64 200.33,98.44 200.38,86.66 200.42,84.66 200.46,90.59 200.5,93.42 200.55,96.35 200.59,100.02 200.63,93.84 200.68,80.22 200.72,81.3 200.76,99.03 200.8,103.83 200.85,93.81 200.89,83.97 200.93,85.87 200.97,73.42 201.02,90.68 201.06,101.34 201.1,104.57 201.15,92.81 201.19,77.36 201.23,79.53 201.27,98.38 201.32,104.9 201.36,97 201.4,78.95 201.45,75.03 201.49,77.07 201.53,87.25 201.57,98.66 201.62,98.74 201.66,88.27 201.7,80.44 201.74,83.34 201.79,98.21 201.83,105.56 201.87,101.12 201.92,81.78 201.96,79.19 202,93.05 202.04,98.33 202.09,89.4 202.13,87.5 202.17,92.45 202.22,88.26 202.26,82.74 202.3,85.24 202.34,85.77 202.39,80.85 202.43,82.43 202.47,92.14 202.51,96.56 202.56,95.95 202.6,95.5 202.64,92.42 202.69,92.75 202.73,100.62 202.77,98.54 202.81,78.68 202.86,75.33 202.9,92.22 202.94,104.72 202.99,93.61 203.03,80.06 203.07,88.48 203.11,100.51 203.16,98.23 203.2,91.44 203.24,88.67 203.29,83.89 203.33,80.51 203.37,87.74 203.41,102.38 203.46,105.94 203.5,103.82 203.54,96.96 203.58,90.2 203.63,90.9 203.67,97.74 203.71,99.43 203.76,89.4 203.8,78.43 203.84,77.79 203.88,87.41 203.93,100.39 203.97,100.98 204.01,90.05 204.06,83.62 204.1,91.84 204.14,97.32 204.18,86.39 204.23,79.43 204.27,87.93 204.31,98.72 204.35,95.47 204.4,89.54 204.44,91.8 204.48,95.6 204.53,97.14 204.57,98.91 204.61,100.12 204.65,97.9 204.7,89.41 204.74,82.78 204.78,90.33 204.83,103.49 204.87,101.26 204.91,80.69 204.95,76.83 205,92.16 205.04,102.81 205.08,94.21 205.12,83.9 205.17,89.42 205.21,94.58 205.25,86.43 205.3,81.22 205.34,88.65 205.38,96.18 205.42,89.54 205.47,83.26 205.51,90.83 205.55,100.29 205.6,99.13 205.64,93.97 205.68,94.09 205.72,93.93 205.77,86.53 205.81,80.39 205.85,82.3 205.89,90.75 205.94,95.17 205.98,91.56 206.02,85.9 206.07,86.2 206.11,93.74 206.15,97.55 206.19,89.79 206.24,80.96 206.28,81.62 206.32,86.97 206.37,89.63 206.41,91.83 206.45,96.16 206.49,99.12 206.54,99.31 206.58,96.76 206.62,92.84 206.66,91.99 206.71,94.21 206.75,94.61 206.79,92.75 206.84,92.46 206.88,93.73 206.92,93.93 206.96,94.62 207.01,96.37 207.05,92.58 207.09,82.51 207.14,79.75 207.18,85.09 207.22,86.86 207.26,81.59 207.31,83.87 207.35,95.71 207.39,99.17 207.44,94.47 207.48,91.69 207.52,90.31 207.56,87.99 207.61,91.03 207.65,93.62 207.69,84.05 207.73,77.32 207.78,82.91 207.82,97.95 207.86,98.71 207.91,90.34 207.95,88.75 207.99,92.82 208.03,92.53 208.08,89.95 208.12,90.93 208.16,91.97 208.21,89.32 208.25,87.88 208.29,90.99 208.33,94.69 208.38,96.85 208.42,97.71 208.46,94 208.5,86.97 208.55,87.03 208.59,94.23 208.63,96.68 208.68,91.69 208.72,87.23 208.76,88.45 208.8,92.91 208.85,95.44 208.89,92.44 208.93,85.55 208.98,82.32 209.02,84.83 209.06,88.4 209.1,86.25 209.15,82.91 209.19,87.46 209.23,97.48 209.27,97.24 209.32,87.16 209.36,85.72 209.4,93.56 209.45,91.9 209.49,83.93 209.53,88.27 209.57,97.81 209.62,94.95 209.66,90.24 209.7,97.16 209.75,101.29 209.79,98.63 209.83,97.88 209.87,95.48 209.92,82.53 209.96,77.58 210,84.62 210.04,93.29 210.09,89.29 210.13,87.7 210.17,95.94 210.22,100.17 210.26,93.97 210.3,84.45 210.34,85.89 210.39,96.3 210.43,96.49 210.47,80.69 210.52,75.25 210.56,82.17 210.6,100.35 210.64,101.53 210.69,96.53 210.73,99.43 210.77,99.18 210.81,82.64 210.86,76.1 210.9,87.76 210.94,103.99 210.99,95.37 211.03,75.82 211.07,76.8 211.11,100.53 211.16,107.38 211.2,103.19 211.24,88.42 211.29,85.89 211.33,87.96 211.37,82.1 211.41,78.64 211.46,84.47 211.5,92.83 211.54,90.74 211.59,90.78 211.63,100.32 211.67,104.56 211.71,101.67 211.76,93.54 211.8,86.96 211.84,83.29 211.88,81.64 211.93,82.37 211.97,84.93 212.01,88.04 212.06,92.12 212.1,96.13 212.14,96.25 212.18,93.61 212.23,93.17 212.27,89.88 212.31,79.16 212.36,75.1 212.4,79.13 212.44,89.21 212.48,90.5 212.53,93.28 212.57,100.63 212.61,99.33 212.65,91.5 212.7,71.77 212.74,100.66 212.78,90.87 212.83,80.55 212.87,87.45 212.91,96.96 212.95,92.45 213,89.14 213.04,98.8 213.08,104 213.13,99.17 213.17,89.47 213.21,87.46 213.25,89.05 213.3,86.63 213.34,83.4 213.38,90.01 213.42,102.71 213.47,104.69 213.51,95.05 213.55,88.81 213.6,98.3 213.64,106.13 213.68,102.61 213.72,90.06 213.77,84.97 213.81,89.53 213.85,95.42 213.9,98.45 213.94,102.29 213.98,102.03 214.02,91.29 214.07,82.75 214.11,84.44 214.15,93.56 214.19,95.36 214.24,89.46 214.28,77.78 214.32,71.01 214.37,76.87 214.41,89.88 214.45,87.65 214.49,70.07 214.54,63.55 214.58,69.67 214.62,80.76 214.67,89.93 214.71,101.57 214.75,108.25 214.79,101.11 214.84,94.95 214.88,99.05 214.92,109.97 214.96,107.55 215.01,93.03 215.05,83.44 215.09,85.2 215.14,93.35 215.18,96.48 215.22,91.35 215.26,82.64 215.31,76.32 215.35,73.39 215.39,70.93 215.44,68.12 215.48,70.33 215.52,81.55 215.56,93.6 215.61,98 215.65,91.51 215.69,91.94 215.74,97.63 215.78,96.53 215.82,90.35 215.86,88.83 215.91,89.73 215.95,94 215.99,109.86 216.03,128.73 216.08,130.9 216.12,115.61 216.16,108.12 216.21,107.27 216.25,104.05 216.29,91.27 216.33,79.32 216.38,73.41 216.42,78.7 216.46,99.39 216.51,114.17 216.55,109.98 216.59,60.36 216.63,44.88 216.68,66.77 216.72,63.36 216.76,66.27 216.8,75.28 216.85,77.18 216.89,78.68 216.93,98.03 216.98,123.5 217.02,133.3 217.06,125.76 217.1,65.54 217.15,44.88 217.19,67.84 217.23,54.92 217.28,65.03 217.32,66.67 217.36,60.03 217.4,57.04 217.45,67.7 217.49,85 217.53,92.09 217.57,80.99 217.62,104.2 217.66,124.75 217.7,112.6 217.75,71.87 217.79,76.89 217.83,97.06 217.87,117.49 217.92,122.56 217.96,68.76 218,44.88 218.05,65.23 218.09,76.19 218.13,68.51 218.17,65.23 218.22,63.9 218.26,64.74 218.3,69.27 218.34,81.23 218.39,98.35 218.43,111.03 218.47,114.24 218.52,112.69 218.56,110.34 218.6,136.54 218.64,118.05 218.69,130.1 218.73,134.64 218.77,130.65 218.82,122.37 218.86,148.2 218.9,119.5 218.94,109.67 218.99,96.69 219.03,79.8 219.07,70.98 219.11,77.21 219.16,89.65 219.2,90.49 219.24,79.63 219.29,76.9 219.33,85.33 219.37,88.51 219.41,78.7 219.46,72.7 219.5,80.71 219.54,95.41 219.59,107.94 219.63,118.2 219.67,122.49 219.71,117.15 219.76,110.25 219.8,107.44 219.84,64.91 219.88,43.73 219.93,67.27 219.97,94.58 220.01,57.83 220.06,45.78 220.1,78.66 220.14,103.1 220.18,92.39 220.23,85.74 220.27,72.23 220.31,58.98 220.36,62.97 220.4,78.95 220.44,78.2 220.48,72.01 220.53,89.34 220.57,111.1 220.61,114.11 220.66,106.9 220.7,117.63 220.74,139.59 220.78,115.19 220.83,82.49 220.87,75.05 220.91,82.28 220.95,77.76 221,64.18 221.04,58.1 221.08,59.47 221.13,56.13 221.17,58.1 221.21,71.92 221.25,73.9 221.3,55.62 221.34,52.66 221.38,72.93 221.43,92.64 221.47,99.14 221.51,99.87 221.55,65.54 221.6,44.88 221.64,67.84 221.68,120.75 221.72,120.13 221.77,108.22 221.81,84.25 221.85,65.43 221.9,62.53 221.94,70.68 221.98,71.45 222.02,61.58 222.07,54.85 222.11,59.62 222.15,73.88 222.2,86.09 222.24,87.06 222.28,81.39 222.32,79.98 222.37,89.21 222.41,105.07 222.45,117.63 222.49,122.06 222.54,118.51 222.58,112.29 222.62,111.63 222.67,119.63 222.71,122.27 222.75,108.91 222.79,88.04 222.84,78.36 222.88,77.26 222.92,78.07 222.97,81.84 223.01,84.19 223.05,81.49 223.09,83.7 223.14,92.03 223.18,91.18 223.22,67.57 223.26,92.16 223.31,102.52 223.35,96.02 223.39,92.07 223.44,101.72 223.48,119.69 223.52,116.26 223.56,104.86 223.61,110.43 223.65,118.98 223.69,115.53 223.74,105.72 223.78,99.54 223.82,94.41 223.86,88 223.91,87.69 223.95,93.83 223.99,91.01 224.03,80.57 224.08,82.63 224.12,116.06 224.16,136.72 224.21,113.76 224.25,78.66 224.29,77.96 224.33,73.04 224.38,64.68 224.42,62.38 224.46,68.11 224.51,72.27 224.55,69.26 224.59,67.38 224.63,74.77 224.68,85.92 224.72,91.06 224.76,87.3 224.81,80.71 224.85,80.52 224.89,86.67 224.93,92.45 224.98,92.77 225.02,91.47 225.06,93.34 225.1,96.31 225.15,95.28 225.19,89.46 225.23,81.9 225.28,74.93 225.32,69.51 225.36,64.72 225.4,60.87 225.45,62.32 225.49,73.85 225.53,88.46 225.58,95.62 225.62,96.92 225.66,99.29 225.7,103.53 225.75,103.85 225.79,100.39 225.83,68.07 225.87,49.47 225.92,70.14 225.96,100.21 226,109.52 226.05,118.9 226.09,120.65 226.13,116.45 226.17,113 226.22,111.15 226.26,106.27 226.3,99.23 226.35,95.06 226.39,96.82 226.43,100.56 226.47,97.4 226.52,88.7 226.56,89.9 226.6,98.83 226.64,96.57 226.69,107.15 226.73,116.29 226.77,105.85 226.82,74.31 226.86,68.77 226.9,76.98 226.94,96.34 226.99,103.04 227.03,97.38 227.07,97.69 227.12,105.74 227.16,110.71 227.2,105.89 227.24,99.27 227.29,100.03 227.33,100.58 227.37,82.67 227.41,64.09 227.46,65.83 227.5,88.75 227.54,88.38 227.59,68.34 227.63,53.56 227.67,60.08 227.71,77.34 227.76,79.11 227.8,77.3 227.84,80.65 227.89,81.92 227.93,84.41 227.97,95.88 228.01,111.34 228.06,116.32 228.1,113.56 228.14,106.63 228.18,95.41 228.23,86.84 228.27,86.88 228.31,98.8 228.36,99.05 228.4,83.95 228.44,69.64 228.48,71.2 228.53,79.84 228.57,71.32 228.61,49.47 228.66,75.42 228.7,88.96 228.74,82.13 228.78,76.84 228.83,88.92 228.87,109.27 228.91,110.89 228.96,96.31 229,86.59 229.04,89.28 229.08,89.82 229.13,82.1 229.17,78.25 229.21,66.43 229.25,67.12 229.3,47.75 229.34,69.28 229.38,79.22 229.43,80.37 229.47,88.55 229.51,89.78 229.55,81.2 229.6,71.69 229.64,79.12 229.68,95.47 229.73,101.96 229.77,98.9 229.81,101.16 229.85,109.99 229.9,113.7 229.94,106.98 229.98,99.15 230.02,101.06 230.07,109.32 230.11,112.39 230.15,103.98 230.2,95.85 230.24,103.6 230.28,119.43 230.32,115.18 230.37,95.69 230.41,90.08 230.45,93.52 230.5,85.7 230.54,71.16 230.58,72.79 230.62,83.91 230.67,86.38 230.71,85.26 230.75,88.24 230.79,92.31 230.84,94.93 230.88,92.63 230.92,83.91 230.97,75 231.01,81.37 231.05,92.51 231.09,92.62 231.14,87.97 231.18,94.47 231.22,102.95 231.27,95.62 231.31,83.79 231.35,60.72 231.39,84.9 231.44,72.78 231.48,62.01 231.52,71.2 231.56,89.61 231.61,94.68 231.65,86.13 231.69,77.87 231.74,74.92 231.78,80.99 231.82,91.49 231.86,81.32 231.91,73.29 231.95,67.72 231.99,81.91 232.04,108.34 232.08,115.69 232.12,111.18 232.16,100.86 232.21,91.98 232.25,90.24 232.29,102.2 232.33,109.39 232.38,108.96 232.42,102.85 232.46,95.07 232.51,95.21 232.55,107.18 232.59,120.96 232.63,119.22 232.68,71.23 232.72,55.21 232.76,73.01 232.81,94.49 232.85,100.07 232.89,96.94 232.93,92.08 232.98,89.55 233.02,89.05 233.06,93.83 233.11,101.49 233.15,100.93 233.19,91.72 233.23,83.1 233.28,81.67 233.32,85.69 233.36,95.25 233.4,106.17 233.45,110.16 233.49,102.41 233.53,88.74 233.58,84 233.62,88.96 233.66,98.23 233.7,92.7 233.75,78.15 233.79,73.04 233.83,79.6 233.88,88.1 233.92,92.81 233.96,95.52 234,95.68 234.05,89.92 234.09,79.35 234.13,74.35 234.17,80.89 234.22,85.72 234.26,79.98 234.3,69.87 234.35,70.7 234.39,74.57 234.43,74.62 234.47,79.23 234.52,91.73 234.56,94.11 234.6,85.82 234.65,78.05 234.69,81.06 234.73,92.57 234.77,102.95 234.82,102.26 234.86,92.38 234.9,91.9 234.94,100.6 234.99,106.98 235.03,104.42 235.07,98.82 235.12,89.44 235.16,79.08 235.2,80.8 235.24,91.56 235.29,95.53 235.33,89.19 235.37,84.12 235.42,86.31 235.46,96.12 235.5,101.67 235.54,99.96 235.59,88.75 235.63,79.57 235.67,67.76 235.71,71.14 235.76,85.96 235.8,98.43 235.84,93.34 235.89,99.63 235.93,106.6 235.97,106.93 236.01,107.83 236.06,107.84 236.1,97.53 236.14,86.03 236.19,86.35 236.23,96.03 236.27,101.49 236.31,88.75 236.36,80.31 236.4,101.98 236.44,88.12 236.48,79.61 236.53,77.18 236.57,88.29 236.61,92.8 236.66,81.25 236.7,72.14 236.74,79.06 236.78,95.69 236.83,96.23 236.87,88.67 236.91,91.79 236.96,97.04 237,89.96 237.04,88.11 237.08,101.54 237.13,113.84 237.17,103.48 237.21,89.01 237.26,94.04 237.3,106.21 237.34,101.39 237.38,86.51 237.43,78.87 237.47,82.54 237.51,82.6 237.55,77.39 237.6,77.03 237.64,84.04 237.68,87.66 237.73,81.3 237.77,82.29 237.81,101.58 237.85,109.44 237.9,96.31 237.94,83.95 237.98,91.19 238.03,109.59 238.07,104.59 238.11,90.7 238.15,87.97 238.2,85.03 238.24,79.74 238.28,87.33 238.32,93.7 238.37,91.53 238.41,77.61 238.45,70.41 238.5,80.2 238.54,92.59 238.58,96.53 238.62,91.08 238.67,81.83 238.71,87.3 238.75,106.29 238.8,113.53 238.84,105.11 238.88,92.31 238.92,92.01 238.97,95.86 239.01,92.3 239.05,84.64 239.09,80.88 239.14,82.38 239.18,84.71 239.22,80.89 239.27,78.21 239.31,83.81 239.35,86.52 239.39,76.75 239.44,67.03 239.48,73.92 239.52,70.28 239.57,53.49 239.61,72.14 239.65,83.44 239.69,102.49 239.74,104.64 239.78,100.53 239.82,99.39 239.86,97.44 239.91,95.05 239.95,98.34 239.99,100.23 240.04,95.32 240.08,94.51 240.12,102.6 240.16,110.24 240.21,108.9 240.25,104.49 240.29,100.12 240.34,93.89 240.38,91.09 240.42,95.91 240.46,98.68 240.51,91.02 240.55,85.87 240.59,92.44 240.63,104.51 240.68,104.26 240.72,96.52 240.76,87.94 240.81,84.46 240.85,86.31 240.89,96.41 240.93,106.82 240.98,107.98 241.02,96.95 241.06,91.72 241.11,99.03 241.15,103.56 241.19,99.76 241.23,110.37 241.28,126.39 241.32,108.59 241.36,81.32 241.41,97.13 241.45,101.27 241.49,94.2 241.53,76.91 241.58,74.02 241.62,78.87 241.66,79.84 241.7,79.67 241.75,82.16 241.79,80.37 241.83,74.04 241.88,75.93 241.92,90.26 241.96,95.63 242,82.51 242.05,69.59 242.09,70.32 242.13,80.56 242.18,91.79 242.22,94.79 242.26,92.87 242.3,87.21 242.35,89.64 242.39,103.97 242.43,107.38 242.47,94.86 242.52,79.7 242.56,80.1 242.6,88.84 242.65,93.4 242.69,92.52 242.73,91.91 242.77,92.81 242.82,93.05 242.86,87.42 242.9,76.4 242.95,74.36 242.99,81.23 243.03,82.69 243.07,77.53 243.12,79.29 243.16,88.16 243.2,95.56 243.24,97.45 243.29,97.33 243.33,95.57 243.37,94.78 243.42,95.38 243.46,93.19 243.5,92.72 243.54,101.2 243.59,109.07 243.63,105.42 243.67,96.73 243.72,96.79 243.76,98.52 243.8,92.07 243.84,85.67 243.89,89.53 243.93,96.09 243.97,95.41 244.01,90.77 244.06,90.26 244.1,94.56 244.14,100.21 244.19,102.18 244.23,96.36 244.27,85.3 244.31,82.18 244.36,90.01 244.4,99.61 244.44,100.49 244.49,92.45 244.53,84.32 244.57,84.18 244.61,91.89 244.66,93.68 244.7,80.45 244.74,73.32 244.78,78.57 244.83,91.95 244.87,93.22 244.91,92.4 244.96,96.42 245,95.8 245.04,86.38 245.08,82.46 245.13,88.95 245.17,90.21 245.21,78.76 245.26,69.73 245.3,73.3 245.34,91.49 245.38,100.64 245.43,93.68 245.47,85.66 245.51,73.44 245.56,59.23 245.6,75.02 245.64,86.13 245.68,96.91 245.73,101.15 245.77,91.89 245.81,91.56 245.85,105.29 245.9,108.16 245.94,100.19 245.98,96.43 246.03,99.99 246.07,93.8 246.11,84.53 246.15,86.88 246.2,90.16 246.24,86.06 246.28,90.9 246.33,101.81 246.37,98.39 246.41,82.83 246.45,82.54 246.5,93.45 246.54,91.35 246.58,80.46 246.62,78.49 246.67,81.07 246.71,81.98 246.75,87.35 246.8,94.51 246.84,94.95 246.88,90.33 246.92,85.49 246.97,80.98 247.01,80.13 247.05,87.15 247.1,94.84 247.14,91.68 247.18,83.71 247.22,84.85 247.27,94.52 247.31,97.59 247.35,91.32 247.39,78.91 247.44,76.66 247.48,79.69 247.52,77.92 247.57,77.17 247.61,89.91 247.65,100.77 247.69,98.9 247.74,84.54 247.78,86.26 247.82,102.82 247.87,107.04 247.91,97.49 247.95,85.54 247.99,85.39 248.04,94.16 248.08,107.66 248.12,109.85 248.16,104.54 248.21,95.34 248.25,91.27 248.29,88.51 248.34,86.32 248.38,88.54 248.42,94.54 248.46,96.01 248.51,89.12 248.55,83.96 248.59,90.03 248.64,105.5 248.68,108.98 248.72,102.53 248.76,85.23 248.81,83.57 248.85,88.45 248.89,101.01 248.93,103.48 248.98,98.76 249.02,96.71 249.06,94.76 249.11,90.31 249.15,92.89 249.19,103.52 249.23,103.29 249.28,85.12 249.32,74.85 249.36,74.8 249.41,89.51 249.45,96.71 249.49,92.31 249.53,81.24 249.58,77.21 249.62,80.58 249.66,86.79 249.7,93.32 249.75,96.2 249.79,91.2 249.83,76.91 249.88,72.89 249.92,82.69 249.96,96.05 250,95.86 250.05,82.99 250.09,74.56 250.13,76.52 250.18,84.01 250.22,91.48 250.26,91.37 250.3,82.7 250.35,77.97 250.39,83.18 250.43,90.24 250.48,92.81 250.52,98.44 250.56,103.4 250.6,100.15 250.65,92.64 250.69,95.51 250.73,101.57 250.77,99.72 250.82,95.75 250.86,97.16 250.9,99.55 250.95,98.84 250.99,96.83 251.03,96.15 251.07,98.75 251.12,100.45 251.16,92.34 251.2,83.36 251.25,82.83 251.29,90.59 251.33,92.53 251.37,87.19 251.42,88.94 251.46,95.8 251.5,97.25 251.54,95.96 251.59,96.34 251.63,94.93 251.67,91.75 251.72,92.67 251.76,95.09 251.8,91.9 251.84,86.76 251.89,87.71 251.93,91.96 251.97,89.81 252.02,82.66 252.06,79.62 252.1,80.44 252.14,80.47 252.19,82.18 252.23,87.05 252.27,85.65 252.31,76 252.36,73.79 252.4,83.36 252.44,88.79 252.49,80.95 252.53,74.61 252.57,78.22 252.61,84.66 252.66,85.04 252.7,82.62 252.74,84.44 252.79,91.72 252.83,94.51 252.87,85.24 252.91,79.05 252.96,87.26 253,99.46 253.04,98.2 253.08,91.75 253.13,91.27 253.17,89.83 253.21,89.81 253.26,100.38 253.3,105.11 253.34,93.83 253.38,85.55 253.43,91.69 253.47,98.37 253.51,97.37 253.56,101.25 253.6,104.79 253.64,98.04 253.68,92.35 253.73,97.89 253.77,101.01 253.81,94.57 253.85,92.91 253.9,100.45 253.94,102.89 253.98,96.99 254.03,91.74 254.07,108.16 254.11,122.37 254.15,106.58 254.2,92.38 254.24,85.32 254.28,84.97 254.33,91.56 254.37,92.22 254.41,84.91 254.45,87.71 254.5,101.72 254.54,103.58 254.58,90.3 254.63,83.48 254.67,93.96 254.71,100.75 254.75,94.29 254.8,89.04 254.84,94.03 254.88,94.14 254.92,88.99 254.97,95.14 255.01,102.87 255.05,97.02 255.1,79.91 255.14,77.92 255.18,85.4 255.22,88.07 255.27,79.86 255.31,77.22 255.35,81.66 255.4,82.81 255.44,80.9 255.48,85.22 255.52,88.16 255.57,78.47 255.61,72.21 255.65,76.69 255.69,86.87 255.74,84.5 255.78,81.78 255.82,88.75 255.87,90.89 255.91,88.34 255.95,96.2 255.99,100.16 256.04,84.59 256.08,72.7 256.12,80.67 256.17,101.24 256.21,93.43 256.25,75.47 256.29,81.05 256.34,100.54 256.38,100.42 256.42,94.07 256.46,100.59 256.51,103.14 256.55,90.08 256.59,85.26 256.64,94.91 256.68,104.95 256.72,97.71 256.76,88.09 256.81,89.1 256.85,94.04 256.89,95.27 256.94,97.34 256.98,99.17 257.02,93.19 257.06,82.96 257.11,80.64 257.15,85.05 257.19,91.14 257.23,91.52 257.28,86.53 257.32,81.78 257.36,82.65 257.41,90.59 257.45,99.56 257.49,101.51 257.53,95.2 257.58,88.3 257.62,88.75 257.66,91.26 257.71,90.49 257.75,90.05 257.79,91.48 257.83,91.09 257.88,89.94 257.92,90.39 257.96,89.99 258,89.32 258.05,91.7 258.09,91.12 258.13,82.11 258.18,77.54 258.22,80.92 258.26,85.84 258.3,85.65 258.35,75.02 258.39,62.1 258.43,76.45 258.48,90.11 258.52,93.06 258.56,108.87 258.6,109.48 258.65,97.19 258.69,90.85 258.73,90.36 258.78,88.94 258.82,93.51 258.86,104.84 258.9,107.08 258.95,99.82 258.99,92.97 259.03,94.08 259.07,92.98 259.12,86.99 259.16,88.45 259.2,94.5 259.25,87.04 259.29,69.23 259.33,68.25 259.37,89.41 259.42,97.26 259.46,93.46 259.5,75.21 259.55,70.76 259.59,74.85 259.63,84.07 259.67,90.47 259.72,86.57 259.76,72.46 259.8,70.35 259.84,80.4 259.89,92.91 259.93,97.12 259.97,99.65 260.02,95.94 260.06,80.61 260.1,76.45 260.14,89.89 260.19,98.96 260.23,91.27 260.27,79.82 260.32,84.02 260.36,93.74 260.4,98.09 260.44,103.66 260.49,106.73 260.53,98.11 260.57,86.75 260.61,90.13 260.66,97.67 260.7,93.16 260.74,90.21 260.79,96.55 260.83,100.08 260.87,97.92 260.91,101.55 260.96,104.71 261,97.67 261.04,91 261.09,96.11 261.13,98.27 261.17,86.35 261.21,80.76 261.26,89.75 261.3,104.2 261.34,103.22 261.38,95 261.43,95.17 261.47,99.12 261.51,97.57 261.56,93.8 261.6,92.25 261.64,92.76 261.68,96.36 261.73,100.45 261.77,99.9 261.81,98.16 261.86,100.93 261.9,103.73 261.94,101.5 261.98,96.71 262.03,94.63 262.07,94.49 262.11,91.03 262.15,84.43 262.2,83.51 262.24,90.84 262.28,93.06 262.33,83.96 262.37,76.35 262.41,77.97 262.45,81.93 262.5,84.18 262.54,88.26 262.58,89.1 262.63,83.49 262.67,82.03 262.71,88.05 262.75,89.45 262.8,86 262.84,85.95 262.88,84.05 262.93,76.79 262.97,64.43 263.01,85.13 263.05,83.5 263.1,73.13 263.14,74.32 263.18,86.91 263.22,89.54 263.27,82.26 263.31,79.77 263.35,82.8 263.4,86.01 263.44,92.99 263.48,98.48 263.52,94.18 263.57,83.84 263.61,84.84 263.65,92.77 263.7,97.81 263.74,98.45 263.78,98.19 263.82,96.34 263.87,96.38 263.91,100.26 263.95,101.58 263.99,99.96 264.04,101.58 264.08,102.61 264.12,97.46 264.17,92.26 264.21,91.84 264.25,90.95 264.29,91.79 264.34,97.16 264.38,94.8 264.42,79.89 264.47,76.66 264.51,90.7 264.55,100.16 264.59,93.58 264.64,88.67 264.68,96.11 264.72,95.75 264.76,87.08 264.81,90.08 264.85,99.88 264.89,95.8 264.94,87.66 264.98,93.3 265.02,79.16 265.06,100.71 265.11,101.88 265.15,105.32 265.19,99.25 265.24,84.18 265.28,84.42 265.32,93.57 265.36,90.36 265.41,81.89 265.45,85.09 265.49,97.98 265.53,102.22 265.58,96.08 265.62,89.16 265.66,93.9 265.71,97.62 265.75,88.62 265.79,82.82 265.83,90.21 265.88,100.3 265.92,99.53 265.96,97.2 266.01,98.53 266.05,96.84 266.09,92.96 266.13,90.82 266.18,82.77 266.22,70.41 266.26,68.36 266.3,78.31 266.35,91.83 266.39,85.75 266.43,73.9 266.48,76.51 266.52,86.16 266.56,83.4 266.6,76.01 266.65,77.84 266.69,82.12 266.73,78.39 266.78,78.56 266.82,93.03 266.86,108.79 266.9,106.58 266.95,119.5 266.99,105.15 267.03,89.61 267.08,100.03 267.12,102.23 267.16,96.39 267.2,90.11 267.25,89.44 267.29,96.6 267.33,106.58 267.37,108.88 267.42,102.59 267.46,88.54 267.5,82.23 267.55,83.1 267.59,96.04 267.63,105.73 267.67,103.07 267.72,92.28 267.76,90.99 267.8,100.76 267.85,105.53 267.89,100.81 267.93,84.8 267.97,76.12 268.02,75.42 268.06,76.1 268.1,78.1 268.14,89.58 268.19,96.77 268.23,91.48 268.27,79.73 268.32,83.86 268.36,92.52 268.4,88.14 268.44,79.44 268.49,80.68 268.53,81.66 268.57,76 268.62,77.39 268.66,91.96 268.7,100.28 268.74,97.72 268.79,91.7 268.83,90.01 268.87,87.18 268.91,85.58 268.96,93.18 269,102.81 269.04,102.02 269.09,92.45 269.13,89.24 269.17,95.78 269.21,105.18 269.26,109.22 269.3,106.58 269.34,91.21 269.39,83.51 269.43,89.52 269.47,102.83 269.51,101.86 269.56,94.65 269.6,98.08 269.64,104.37 269.68,100.07 269.73,93.02 269.77,96.8 269.81,102.06 269.86,96.26 269.9,86.59 269.94,84.32 269.98,84.8 270.03,83.77 270.07,85.5 270.11,89.8 270.16,90.19 270.2,89.38 270.24,91.06 270.28,88.14 270.33,78.55 270.37,78.32 270.41,91.38 270.45,96.14 270.5,88.07 270.54,76.02 270.58,76.32 270.63,88.2 270.67,100.77 270.71,102.48 270.75,95.19 270.8,80.59 270.84,77.28 270.88,84.86 270.93,100.78 270.97,102.87 271.01,86.22 271.05,77.98 271.1,81.49 271.14,100.17 271.18,107.58 271.22,106.71 271.27,97.63 271.31,83.57 271.35,82.29 271.4,93.49 271.44,101.72 271.48,95.67 271.52,84.14 271.57,80.25 271.61,82.71 271.65,96.62 271.7,104 271.74,101.13 271.78,91.03 271.82,85.77 271.87,86.11 271.91,86.09 271.95,87.23 272,86.48 272.04,80.57 272.08,77.74 272.12,81.76 272.17,88.03 272.21,91.35 272.25,92.75 272.29,89.49 272.34,81.87 272.38,79.88 272.42,82.72 272.47,82.42 272.51,80.42 272.55,81.21 272.59,81.96 272.64,83.5 272.68,90.78 272.72,96.38 272.77,94.64 272.81,91.75 272.85,95.15 272.89,72.49 272.94,57.51 272.98,74.15 273.02,97.91 273.06,94.99 273.11,95.21 273.15,106.2 273.19,109.4 273.24,96.63 273.28,86.59 273.32,94.44 273.36,106.46 273.41,100.58 273.45,88.69 273.49,88.92 273.54,93.56 273.58,92.3 273.62,95.72 273.66,106.33 273.71,107.24 273.75,94.16 273.79,82.25 273.83,86.9 273.88,97.07 273.92,96.3 273.96,89.06 274.01,82.65 274.05,79.55 274.09,80.63 274.13,84.41 274.18,85.88 274.22,86.86 274.26,89.42 274.31,85.73 274.35,75.74 274.39,73.58 274.43,82.09 274.48,91.71 274.52,90.63 274.56,86.87 274.6,85.19 274.65,81.33 274.69,80.32 274.73,91.1 274.78,101.96 274.82,100.69 274.86,83.5 274.9,78.26 274.95,85.24 274.99,105.24 275.03,108.85 275.08,101.69 275.12,91.26 275.16,96.08 275.2,103.55 275.25,103.69 275.29,104.22 275.33,105.26 275.37,98.14 275.42,86.18 275.46,87.77 275.5,98.96 275.55,100.66 275.59,92.64 275.63,81.59 275.67,78.11 275.72,80.36 275.76,86.36 275.8,89.67 275.85,84.27 275.89,76.99 275.93,81.45 275.97,97.2 276.02,100.48 276.06,89.5 276.1,79.69 276.15,85.8 276.19,93.72 276.23,90.76 276.27,87.13 276.32,87.33 276.36,86.37 276.4,89.05 276.44,97.68 276.49,99.88 276.53,91.3 276.57,81.47 276.62,81.69 276.66,86.81 276.7,90.74 276.74,93.47 276.79,94.78 276.83,93.44 276.87,94.25 276.92,100.64 276.96,103.71 277,96.53 277.04,87.89 277.09,88.84 277.13,91.75 277.17,90.43 277.21,94.55 277.26,106.45 277.3,109.83 277.34,106.65 277.39,101.86 277.43,102 277.47,99.67 277.51,91.58 277.56,87.28 277.6,88.18 277.64,86.69 277.69,81.88 277.73,83.25 277.77,93.7 277.81,97.61 277.86,91.23 277.9,79.91 277.94,75.77 277.98,75.37 278.03,76.28 278.07,79.32 278.11,83.91 278.16,87.83 278.2,91.66 278.24,94.58 278.28,94.97 278.33,94.89 278.37,96.78 278.41,95.23 278.46,83.33 278.5,77.1 278.54,79.73 278.58,91.03 278.63,94.46 278.67,92.26 278.71,97.34 278.75,100.06 278.8,91.19 278.84,86.33 278.88,95.89 278.93,100.81 278.97,87.65 279.01,79.54 279.05,84.94 279.1,98.19 279.14,97.3 279.18,91.42 279.23,95.09 279.27,99.18 279.31,93.9 279.35,86.21 279.4,88.27 279.44,91.46 279.48,85.92 279.52,82.58 279.57,90.25 279.61,97.66 279.65,92.52 279.7,87.66 279.74,98.58 279.78,106.73 279.82,104.11 279.87,88.91 279.91,83.17 279.95,87.48 280,89.54 280.04,87.39 280.08,87.9 280.12,86.17 280.17,79.78 280.21,81.58 280.25,96.94 280.3,101.78 280.34,93.5 280.38,76.36 280.42,74.04 280.47,79.03 280.51,90.11 280.55,94.47 280.59,88.36 280.64,81.81 280.68,88.54 280.72,102.86 280.77,105.06 280.81,96.55 280.85,85.79 280.89,84.41 280.94,82.04 280.98,80.61 281.02,89.98 281.07,101.46 281.11,98.94 281.15,92.12 281.19,101.3 281.24,109.48 281.28,108.05 281.32,92.78 281.36,82.65 281.41,84.62 281.45,90.93 281.49,91.48 281.54,89.38 281.58,89.88 281.62,89.99 281.66,88.8 281.71,91.41 281.75,93.68 281.79,85.86 281.84,74.49 281.88,73.49 281.92,77.83 281.96,78.16 282.01,79.76 282.05,93.6 282.09,101.48 282.13,95.7 282.18,84.38 282.22,88.57 282.26,99.32 282.31,99.9 282.35,92.34 282.39,85.19 282.43,83.81 282.48,91.36 282.52,103.16 282.56,103.68 282.61,97.42 282.65,95.74 282.69,96.74 282.73,93.68 282.78,92.66 282.82,96.03 282.86,94.94 282.9,89.81 282.95,90.87 282.99,96.26 283.03,95.93 283.08,93.49 283.12,96.86 283.16,98.46 283.2,91.62 283.25,86.59 283.29,88.34 283.33,90.36 283.38,90.45 283.42,93.78 283.46,94.4 283.5,85.4 283.55,80.68 283.59,91.28 283.63,103.24 283.67,101.81 283.72,87.53 283.76,80.21 283.8,89.44 283.85,73.3 283.89,97.11 283.93,91.56 283.97,85.72 284.02,75.96 284.06,63.82 284.1,77.31 284.15,94.63 284.19,97.98 284.23,95.13 284.27,81.44 284.32,74.26 284.36,80.92 284.4,98.7 284.45,101.38 284.49,88.65 284.53,76.49 284.57,78.18 284.62,91.91 284.66,101.85 284.7,103.5 284.74,95.62 284.79,76.68 284.83,75.24 284.87,82.24 284.92,104.99 284.96,106.81 285,91.16 285.04,79.98 285.09,86.04 285.13,106.35 285.17,109.36 285.22,103.38 285.26,89.34 285.3,85.47 285.34,84.63 285.39,83.99 285.43,89.21 285.47,101.77 285.51,104 285.56,92.3 285.6,79.88 285.64,83.7 285.69,100.37 285.73,101.62 285.77,85.53 285.81,77.47 285.86,86.1 285.9,95.6 285.94,92.36 285.99,94.37 286.03,102.78 286.07,101.84 286.11,88.98 286.16,84.14 286.2,89.37 286.24,93.03 286.28,88.59 286.33,79.03 286.37,73.62 286.41,74.54 286.46,90.2 286.5,95.57 286.54,84.18 286.58,76 286.63,83.54 286.67,91.05 286.71,90.12 286.76,89.22 286.8,88.97 286.84,81.79 286.88,74.51 286.93,79.76 286.97,92.49 287.01,95.93 287.05,92.69 287.1,87.98 287.14,86.36 287.18,85.15 287.23,84.58 287.27,87.56 287.31,92.64 287.35,91.53 287.4,84.57 287.44,83.96 287.48,95.82 287.53,109.56 287.57,107.95 287.61,94.54 287.65,89.09 287.7,90.83 287.74,91.78 287.78,94.62 287.82,100.06 287.87,99.17 287.91,96.59 287.95,102.79 288,107.73 288.04,103.02 288.08,98.44 288.12,100.19 288.17,95.08 288.21,86.57 288.25,85.82 288.3,105.64 288.34,117.78 288.38,104.29 288.42,97.06 288.47,102.65 288.51,75.23 288.55,85.5 288.6,79.62 288.64,86.46 288.68,95.15 288.72,93.01 288.77,81.45 288.81,76.36 288.85,81 288.89,88.11 288.94,91.21 288.98,88.83 289.02,78.89 289.07,71.69 289.11,73.83 289.15,85.06 289.19,91.62 289.24,88.31 289.28,79.99 289.32,80.31 289.37,87.94 289.41,89.77 289.45,86.13 289.49,87.35 289.54,91.1 289.58,89.48 289.62,90.02 289.66,100.39 289.71,107.29 289.75,103.73 289.79,93.78 289.84,94.12 289.88,102.99 289.92,106.06 289.96,98.24 290.01,89.47 290.05,92.3 290.09,104.63 290.14,106.38 290.18,94.5 290.22,85.18 290.26,88.77 290.31,97.53 290.35,95.74 290.39,84.45 290.43,78.47 290.48,83.6 290.52,95.17 290.56,95.98 290.61,86.72 290.65,80.45 290.69,85.53 290.73,89.82 290.78,87.32 290.82,87.6 290.86,92.99 290.91,93.22 290.95,87.53 290.99,87.45 291.03,94.1 291.08,96.07 291.12,90.88 291.16,83.81 291.2,80.23 291.25,80.58 291.29,86.72 291.33,95.28 291.38,96.47 291.42,92.47 291.46,90.66 291.5,91.54 291.55,93.72 291.59,98.53 291.63,81.35 291.68,99.25 291.72,92.32 291.76,89.9 291.8,94.48 291.85,103.57 291.89,106.87 291.93,100.3 291.97,89.54 292.02,87.6 292.06,94.4 292.1,102.7 292.15,100.69 292.19,91.9 292.23,87.08 292.27,88.29 292.32,89.24 292.36,86.04 292.4,82.88 292.45,81.82 292.49,79.82 292.53,78.49 292.57,83.24 292.62,90.9 292.66,92.33 292.7,87.89 292.75,83.14 292.79,83.18 292.83,84.26 292.87,81.62 292.92,77.89 292.96,78.64 293,82.14 293.04,83.25 293.09,84.96 293.13,89.04 293.17,87.87 293.22,80.01 293.26,77.88 293.3,83.16 293.34,88.01 293.39,86.89 293.43,81.73 293.47,79.58 293.52,88.34 293.56,101.89 293.6,102.73 293.64,89.17 293.69,85.14 293.73,94.42 293.77,102.81 293.81,99.31 293.86,95.8 293.9,101.11 293.94,106.68 293.99,104.87 294.03,98.78 294.07,100.29 294.11,107.23 294.16,105.22 294.2,92.25 294.24,90.62 294.29,105.33 294.33,110.97 294.37,105.78 294.41,99.7 294.46,100.47 294.5,96.31 294.54,91.15 294.58,92.44 294.63,92.13 294.67,87.8 294.71,89.09 294.76,98.63 294.8,100.18 294.84,93.61 294.88,95.26 294.93,101.2 294.97,94.45 295.01,78.67 295.06,75.9 295.1,84 295.14,96.42 295.18,92.82 295.23,84.47 295.27,85.46 295.31,92.35 295.35,96.13 295.4,95.46 295.44,86.86 295.48,74.08 295.53,71.88 295.57,76.97 295.61,82.92 295.65,84.95 295.7,87.79 295.74,88.96 295.78,83.01 295.83,78.33 295.87,86.03 295.91,94 295.95,88.57 296,72.98 296.04,71.2 296.08,83.44 296.12,97.19 296.17,97.75 296.21,90.55 296.25,82.36 296.3,83.08 296.34,91.96 296.38,98.08 296.42,95.16 296.47,81.09 296.51,77.4 296.55,83.95 296.6,96.91 296.64,99.7 296.68,91.66 296.72,83.86 296.77,82.97 296.81,89.55 296.85,101.17 296.89,103.93 296.94,99.38 296.98,95.23 297.02,96.09 297.07,99.21 297.11,102.07 297.15,102.92 297.19,99.94 297.24,92.83 297.28,85.11 297.32,81.84 297.37,88.3 297.41,102.61 297.45,104.18 297.49,87.2 297.54,74.83 297.58,79.09 297.62,98.5 297.67,98.03 297.71,74.38 297.75,60.95 297.79,75.88 297.84,90.76 297.88,93.86 297.92,101.44 297.96,102.19 298.01,89.48 298.05,79.62 298.09,84.7 298.14,93.85 298.18,94.08 298.22,93.29 298.26,96.26 298.31,95.45 298.35,91.81 298.39,96.06 298.44,106.35 298.48,107.12 298.52,94.58 298.56,84.93 298.61,86.72 298.65,101.89 298.69,111.37 298.73,108.2 298.78,93.5 298.82,89.63 298.86,98.13 298.91,103.31 298.95,97.33 298.99,86.1 299.03,80.91 299.08,82.78 299.12,86.48 299.16,87.85 299.21,88.98 299.25,88.16 299.29,81.71 299.33,75.66 299.38,75.01 299.42,75.86 299.46,75.52 299.5,75.55 299.55,75.96 299.59,79.31 299.63,88.23 299.68,92.81 299.72,89.07 299.76,86.39 299.8,89.58 299.85,87.75 299.89,80.97 299.93,83.35 299.98,91.67 300.02,91.57 300.06,84.75 300.1,87.63 300.15,99.24 300.19,102.64 300.23,94.75 300.27,86.05 300.32,88.76 300.36,96.49 300.4,93.88 300.45,87.56 300.49,93.1 300.53,108.16 300.57,105.75 300.62,90.88 300.66,92.11 300.7,107.38 300.75,107.23 300.79,94.44 300.83,92.92 300.87,99.12 300.92,96.72 300.96,92.53 301,97.11 301.04,103.63 301.09,98.15 301.13,86.89 301.17,83.12 301.22,91.11 301.26,95.84 301.3,67.64 301.34,73.33 301.39,74.82 301.43,82.84 301.47,85.21 301.52,87.43 301.56,91.83 301.6,87.18 301.64,70.09 301.69,66.52 301.73,82.01 301.77,94.61 301.82,93.17 301.86,76.75 301.9,69.72 301.94,73.18 301.99,88.06 302.03,98.76 302.07,98.76 302.11,84.43 302.16,71.38 302.2,73.79 302.24,93.46 302.29,102.98 302.33,101.1 302.37,92.69 302.41,92.75 302.46,94.19 302.5,94.87 302.54,103.82 302.59,109.7 302.63,102.75 302.67,84.75 302.71,82.52 302.76,90.44 302.8,102.33 302.84,105.96 302.88,103.07 302.93,93.39 302.97,87.38 303.01,91.62 303.06,104.94 303.1,106.31 303.14,93.52 303.18,80.06 303.23,80.93 303.27,91.48 303.31,97.47 303.36,96.02 303.4,94.88 303.44,94.85 303.48,91.51 303.53,86 303.57,86.66 303.61,95.15 303.65,95.82 303.7,79.01 303.74,71.42 303.78,78.66 303.83,99.33 303.87,99.86 303.91,88.51 303.95,84.79 304,87.49 304.04,91.89 304.08,97.62 304.13,95.52 304.17,76.54 304.21,72.5 304.25,82.31 304.3,96.05 304.34,89.45 304.38,83.22 304.42,88.32 304.47,94.52 304.51,94.65 304.55,93.53 304.6,91.21 304.64,86.87 304.68,84.67 304.72,86.56 304.77,90.35 304.81,93.51 304.85,94.02 304.9,94.68 304.94,74.26 304.98,99.74 305.02,92.76 305.07,84.01 305.11,85.45 305.15,90.38 305.19,89.88 305.24,89.93 305.28,95.06 305.32,97.34 305.37,95.27 305.41,105.01 305.45,116.63 305.49,103.72 305.54,90.02 305.58,80.31 305.62,81.67 305.67,89.17 305.71,97.98 305.75,101.32 305.79,97.68 305.84,91.26 305.88,93.67 305.92,107.68 305.97,111.83 306.01,108.52 306.05,91.99 306.09,88.38 306.14,98.57 306.18,102.63 306.22,97.34 306.26,92.62 306.31,90.51 306.35,84.41 306.39,79.05 306.44,82.06 306.48,84.53 306.52,78.57 306.56,75.04 306.61,79.1 306.65,81.79 306.69,80.73 306.74,85.29 306.78,91.42 306.82,89.14 306.86,85.29 306.91,89.6 306.95,92.06 306.99,86.44 307.03,85.57 307.08,93.43 307.12,101.64 307.16,99.14 307.21,91.77 307.25,90.78 307.29,97.94 307.33,102.54 307.38,99.44 307.42,93.8 307.46,91.45 307.51,88.51 307.55,87.48 307.59,95.45 307.63,103.69 307.68,96.67 307.72,85.71 307.76,87.14 307.8,99.58 307.85,104.55 307.89,96.45 307.93,89.55 307.98,93.84 308.02,102.36 308.06,99.71 308.1,92.6 308.15,97.76 308.19,103.81 308.23,96.77 308.28,80.36 308.32,79.91 308.36,92.46 308.4,94.54 308.45,83.23 308.49,70.95 308.53,71.38 308.57,84.35 308.62,92.13 308.66,84.5 308.7,73.6 308.75,77.44 308.79,88.93 308.83,87.78 308.87,78.44 308.92,79.93 308.96,87.94 309,84.05 309.05,77.81 309.09,84.98 309.13,98.68 309.17,97.02 309.22,89.4 309.26,95.15 309.3,100.36 309.34,92.88 309.39,85.55 309.43,90.99 309.47,93.6 309.52,87.63 309.56,90.22 309.6,101 309.64,100.63 309.69,75.65 309.73,63.25 309.77,77.02 309.82,101.92 309.86,86.28 309.9,83.19 309.94,88.1 309.99,94.55 310.03,94.56 310.07,95.06 310.12,98.38 310.16,99.5 310.2,98.35 310.24,99.84 310.29,101.34 310.33,92.82 310.37,78.3 310.41,75.3 310.46,82.84 310.5,93.6 310.54,87.18 310.59,80.83 310.63,87.25 310.67,93.09 310.71,91.83 310.76,91.9 310.8,92.85 310.84,87.45 310.89,81.36 310.93,83.09 310.97,90.28 311.01,97.85 311.06,101.68 311.1,99.57 311.14,88.2 311.18,82.56 311.23,91.12 311.27,97.94 311.31,92.17 311.36,81.98 311.4,81.97 311.44,87.99 311.48,93.14 311.53,98.87 311.57,102.28 311.61,98.93 311.66,88 311.7,87.28 311.74,94.59 311.78,95.58 311.83,90.87 311.87,89.17 311.91,90.11 311.95,90.6 312,89.21 312.04,85.27 312.08,83.26 312.13,88.63 312.17,95.38 312.21,90.46 312.25,81.56 312.3,85.15 312.34,97.97 312.38,97.91 312.43,87.66 312.47,87.82 312.51,96.09 312.55,92.57 312.6,82.78 312.64,85.36 312.68,100.6 312.72,109.19 312.77,107.05 312.81,97.82 312.85,92.92 312.9,94.79 312.94,96.15 312.98,94.9 313.02,93.51 313.07,88.15 313.11,83 313.15,84.73 313.2,104.93 313.24,111.38 313.28,104.79 313.32,86.89 313.37,90.09 313.41,97.43 313.45,85.46 313.49,75.23 313.54,77.82 313.58,85.04 313.62,83.5 313.67,83.8 313.71,93.5 313.75,95.62 313.79,91.54 313.84,92.22 313.88,92.07 313.92,79.09 313.97,70.73 314.01,74.52 314.05,81.69 314.09,76.32 314.14,73.84 314.18,88.37 314.22,97.42 314.27,90.74 314.31,74.88 314.35,79.24 314.39,89.56 314.44,81.18 314.48,71.74 314.52,75.71 314.56,86.08 314.61,85.1 314.65,84.66 314.69,96.05 314.74,100.08 314.78,93.29 314.82,78.9 314.86,81.86 314.91,93.25 314.95,92.2 314.99,84.12 315.04,84.32 315.08,95.9 315.12,105.16 315.16,100.67 315.21,95.91 315.25,101.54 315.29,104.87 315.33,99.53 315.38,93.39 315.42,94.28 315.46,97.42 315.51,99.44 315.55,101.48 315.59,105.03 315.63,108.49 315.68,107.36 315.72,98.57 315.76,92.1 315.81,94.88 315.85,99.25 315.89,95.73 315.93,90.63 315.98,91.08 316.02,95.51 316.06,100.84 316.1,106.37 316.15,107.44 316.19,98.85 316.23,82.18 316.28,79.64 316.32,88.24 316.36,95.26 316.4,91.1 316.45,86.4 316.49,85.49 316.53,87.82 316.58,95.85 316.62,100.93 316.66,97.98 316.7,85.97 316.75,78.52 316.79,79.43 316.83,85.88 316.87,93.42 316.92,94.76 316.96,88.24 317,80.15 317.05,85.66 317.09,93.2 317.13,91.22 317.17,80.89 317.22,73.94 317.26,71.26 317.3,70.56 317.35,75.47 317.39,84.45 317.43,84.99 317.47,78.61 317.52,75.88 317.56,77.86 317.6,81.5 317.64,84.2 317.69,85.36 317.73,87.01 317.77,87.3 317.82,83.21 317.86,84.05 317.9,96.8 317.94,103.39 317.99,101.77 318.03,94.96 318.07,92.56 318.12,91.99 318.16,96.08 318.2,106.17 318.24,108.08 318.29,95.89 318.33,88.68 318.37,95.77 318.42,103.04 318.46,102.11 318.5,105.39 318.54,108.59 318.59,100.4 318.63,92.92 318.67,97.54 318.71,103.75 318.76,99.69 318.8,94.35 318.84,92.24 318.89,90.26 318.93,92.35 318.97,99.17 319.01,98.41 319.06,91.35 319.1,88.23 319.14,85.53 319.19,79.33 319.23,77.18 319.27,76.01 319.31,71.82 319.36,76.54 319.4,96.71 319.44,100.15 319.48,82.25 319.53,78.04 319.57,98.36 319.61,106.66 319.66,99.32 319.7,79.92 319.74,76.25 319.78,79.83 319.83,97.9 319.87,105.53 319.91,101.68 319.96,87.17 320,84.93 320.04,92.83 320.08,95.85 320.13,92.04 320.17,81.42 320.21,72.67 320.25,72.63 320.3,82.33 320.34,98.29 320.38,102.95 320.43,98.76 320.47,91.88 320.51,89.46 320.55,90.69 320.6,94.96 320.64,108.99 320.68,115.43 320.73,95.42 320.77,75.41 320.81,109.74 320.85,125.24 320.9,108.02 320.94,85.42 320.98,73.32 321.02,67.49 321.07,71.16 321.11,79.01 321.15,81.13 321.2,77.18 321.24,78.43 321.28,69.52 321.32,81.93 321.37,78.67 321.41,83.55 321.45,95.12 321.5,96.75 321.54,88.21 321.58,88.93 321.62,101.83 321.67,113.9 321.71,113.06 321.75,107.13 321.79,103.56 321.84,101.75 321.88,103.32 321.92,109.39 321.97,112.66 322.01,109.64 322.05,104.19 322.09,103.88 322.14,112.34 322.18,122.28 322.22,117.46 322.27,107.11 322.31,101.61 322.35,102.74 322.39,102.34 322.44,100.86 322.48,99.66 322.52,97.08 322.56,96.56 322.61,99.78 322.65,98.68 322.69,91.73 322.74,86.42 322.78,82.3 322.82,74.85 322.86,70.47 322.91,75.15 322.95,79.67 322.99,72.53 323.04,67.17 323.08,78.04 323.12,88.4 323.16,88.23 323.21,81.35 323.25,78 323.29,77.1 323.34,73.05 323.38,74.01 323.42,82.78 323.46,85.64 323.51,78.04 323.55,75.62 323.59,85.28 323.63,94.59 323.68,94.84 323.72,93.29 323.76,90.68 323.81,84.13 323.85,82.93 323.89,90.19 323.93,106.09 323.98,109.53 324.02,105.41 324.06,102.94 324.11,103.95 324.15,109.29 324.19,112.74 324.23,102.54 324.28,85.78 324.32,82.19 324.36,91.95 324.4,92.13 324.45,79.33 324.49,80.43 324.53,93.27 324.58,93.97 324.62,87.72 324.66,82.2 324.7,80.49 324.75,74.54 324.79,69.21 324.83,72.22 324.88,76.05 324.92,72.57 324.96,69.06 325,74.12 325.05,81.91 325.09,81.68 325.13,79.1 325.17,84.27 325.22,87.91 325.26,80.16 325.3,76.8 325.35,90.11 325.39,104.96 325.43,105.68 325.47,103.33 325.52,112.17 325.56,117.62 325.6,111.62 325.65,104.58 325.69,108.41 325.73,113.23 325.77,110.53 325.82,104.93 325.86,100.12 325.9,97.99 325.94,104.7 325.99,116.9 326.03,117.5 326.07,108.25 326.12,102.3 326.16,103.09 326.2,100.29 326.24,97.43 326.29,99.04 326.33,96.03 326.37,86.91 326.42,84.58 326.46,90.73 326.5,92.84 326.54,86.91 326.59,83.14 326.63,81.74 326.67,75.43 326.71,69.88 326.76,71.9 326.8,74.31 326.84,71.41 326.89,72.69 326.93,81.02 326.97,84.47 327.01,80.19 327.06,74.43 327.1,73.36 327.14,77 327.19,83.21 327.23,84.15 327.27,74.99 327.31,70.86 327.36,80.15 327.4,94.96 327.44,96.42 327.49,91.64 327.53,93.33 327.57,95.39 327.61,94.73 327.66,101.41 327.7,109.37 327.74,108.37 327.78,103.48 327.83,110.62 327.87,115.24 327.91,104.51 327.96,93.22 328,98.36 328.04,107.1 328.08,101.24 328.13,93.5 328.17,91.29 328.21,85.84 328.26,81.29 328.3,87.41 328.34,96.67 328.38,88.79 328.43,69.18 328.47,64.55 328.51,73.44 328.55,59.23 328.6,75.02 328.64,82.9 328.68,77.32 328.73,70.78 328.77,64.23 328.81,67.78 328.85,82.03 328.9,83.05 328.94,110.69 328.98,126.96 329.03,108.88 329.07,84.04 329.11,90.42 329.15,92.98 329.2,92.37 329.24,82.54 329.28,80.1 329.32,89.03 329.37,85.13 329.41,75.5 329.45,80.34 329.5,108.4 329.54,110.47 329.58,106.98 329.62,108.52 329.67,115.88 329.71,117.33 329.75,110.3 329.8,99.44 329.84,93.3 329.88,94.13 329.92,108.73 329.97,116.77 330.01,111.33 330.05,94.03 330.09,90.89 330.14,97.93 330.18,102.55 330.22,99.64 330.27,94.45 330.31,87.68 330.35,82.11 330.39,85.39 330.44,98.61 330.48,101.76 330.52,93.9 330.57,75.53 330.61,76.23 330.65,89.21 330.69,84.52 330.74,66.13 330.78,62.97 330.82,73.13 330.86,78.86 330.91,75.17 330.95,80.27 330.99,88.08 331.04,85.97 331.08,75.19 331.12,76.17 331.16,86.76 331.21,87.12 331.25,75.12 331.29,71.74 331.34,79.3 331.38,95.88 331.42,101.23 331.46,98.32 331.51,94.71 331.55,97.84 331.59,100.69 331.64,97.15 331.68,92.27 331.72,90.08 331.76,87.95 331.81,87.89 331.85,96.68 331.89,110.72 331.93,90.33 331.98,76.29 332.02,85.12 332.06,115 332.11,111.31 332.15,105.59 332.19,106.45 332.23,107.06 332.28,97.99 332.32,88.22 332.36,89.23 332.41,100.82 332.45,105.78 332.49,102.31 332.53,88.2 332.58,73.69 332.62,69.91 332.66,73.69 332.7,78.39 332.75,78.93 332.79,75.02 332.83,62.1 332.88,76.45 332.92,78.59 332.96,92.79 333,97.5 333.05,91.39 333.09,70.49 333.13,68.44 333.18,75.59 333.22,87.45 333.26,85.28 333.3,83 333.35,86.26 333.39,88.24 333.43,90.96 333.47,101.18 333.52,107.58 333.56,104.5 333.6,87.91 333.65,108.16 333.69,122.37 333.73,106.58 333.77,100.8 333.82,94.34 333.86,89.7 333.9,93.16 333.95,101.09 333.99,106.43 334.03,104.99 334.07,92.87 334.12,86.92 334.16,94.19 334.2,103.38 334.24,98.58 334.29,93.39 334.33,100.25 334.37,111.32 334.42,113.01 334.46,109.09 334.5,105.45 334.54,104.62 334.59,103.28 334.63,97.35 334.67,89.58 334.72,86.88 334.76,87.36 334.8,83.38 334.84,78.51 334.89,82.72 334.93,89.79 334.97,86.65 335.01,72.96 335.06,69.39 335.1,79.89 335.14,86.41 335.19,79.1 335.23,72.18 335.27,76.39 335.31,85.47 335.36,89.76 335.4,91.68" fill="none" stroke="#0072bd" stroke-width="0.8" stroke-linejoin="round" clip-path="url(#c1)"/>
<path d="M78.7 148.2v2.6M78.7 33.4v-2.6M121.48 148.2v2.6M121.48 33.4v-2.6M164.27 148.2v2.6M164.27 33.4v-2.6M207.05 148.2v2.6M207.05 33.4v-2.6M249.83 148.2v2.6M249.83 33.4v-2.6M292.62 148.2v2.6M292.62 33.4v-2.6M335.4 148.2v2.6M335.4 33.4v-2.6M78.7 148.2h-2.6M335.4 148.2h2.6M78.7 119.5h-2.6M335.4 119.5h2.6M78.7 90.8h-2.6M335.4 90.8h2.6M78.7 62.1h-2.6M335.4 62.1h2.6M78.7 33.4h-2.6M335.4 33.4h2.6" stroke="#7a7a7a" stroke-width="0.8" fill="none"/>
<rect x="78.7" y="33.4" width="256.7" height="114.8" fill="none" stroke="#7a7a7a" stroke-width="0.9"/>
<text x="78.7" y="164.5" font-family='"Liberation Sans", sans-serif' font-size="9.6" font-weight="normal" fill="#404040" text-anchor="middle" >0</text>
<text x="121.48" y="164.5" font-family='"Liberation Sans", sans-serif' font-size="9.6" font-weight="normal" fill="#404040" text-anchor="middle" >0.5</text>
<text x="164.27" y="164.5" font-family='"Liberation Sans", sans-serif' font-size="9.6" font-weight="normal" fill="#404040" text-anchor="middle" >1</text>
<text x="207.05" y="164.5" font-family='"Liberation Sans", sans-serif' font-size="9.6" font-weight="normal" fill="#404040" text-anchor="middle" >1.5</text>
<text x="249.83" y="164.5" font-family='"Liberation Sans", sans-serif' font-size="9.6" font-weight="normal" fill="#404040" text-anchor="middle" >2</text>
<text x="292.62" y="164.5" font-family='"Liberation Sans", sans-serif' font-size="9.6" font-weight="normal" fill="#404040" text-anchor="middle" >2.5</text>
<text x="335.4" y="164.5" font-family='"Liberation Sans", sans-serif' font-size="9.6" font-weight="normal" fill="#404040" text-anchor="middle" >3</text>
<text x="72.5" y="152" font-family='"Liberation Sans", sans-serif' font-size="9.6" font-weight="normal" fill="#404040" text-anchor="end" >-1</text>
<text x="72.5" y="123.3" font-family='"Liberation Sans", sans-serif' font-size="9.6" font-weight="normal" fill="#404040" text-anchor="end" >-0.5</text>
<text x="72.5" y="94.6" font-family='"Liberation Sans", sans-serif' font-size="9.6" font-weight="normal" fill="#404040" text-anchor="end" >0</text>
<text x="72.5" y="65.9" font-family='"Liberation Sans", sans-serif' font-size="9.6" font-weight="normal" fill="#404040" text-anchor="end" >0.5</text>
<text x="72.5" y="37.2" font-family='"Liberation Sans", sans-serif' font-size="9.6" font-weight="normal" fill="#404040" text-anchor="end" >1</text>
<text x="207.05" y="178.4" font-family='"Liberation Sans", sans-serif' font-size="10.7" font-weight="bold" fill="#262626" text-anchor="middle" >Time (s)</text>
<text x="51.5" y="90.8" font-family='"Liberation Sans", sans-serif' font-size="10.6" font-weight="bold" fill="#262626" text-anchor="middle" transform="rotate(-90 51.5 90.8)">Normalized amplitude</text>
</g>
<g>
<rect x="78.7" y="197.8" width="256.7" height="114.8" fill="#fff"/>
<path d="M87.26 197.8V312.6M95.81 197.8V312.6M104.37 197.8V312.6M112.93 197.8V312.6M121.48 197.8V312.6M130.04 197.8V312.6M138.6 197.8V312.6M147.15 197.8V312.6M155.71 197.8V312.6M164.27 197.8V312.6M172.82 197.8V312.6M181.38 197.8V312.6M189.94 197.8V312.6M198.49 197.8V312.6M207.05 197.8V312.6M215.61 197.8V312.6M224.16 197.8V312.6M232.72 197.8V312.6M241.28 197.8V312.6M249.83 197.8V312.6M258.39 197.8V312.6M266.95 197.8V312.6M275.5 197.8V312.6M284.06 197.8V312.6M292.62 197.8V312.6M301.17 197.8V312.6M309.73 197.8V312.6M318.29 197.8V312.6M326.84 197.8V312.6M78.7 203.54H335.4M78.7 209.28H335.4M78.7 215.02H335.4M78.7 220.76H335.4M78.7 226.5H335.4M78.7 232.24H335.4M78.7 237.98H335.4M78.7 243.72H335.4M78.7 249.46H335.4M78.7 255.2H335.4M78.7 260.94H335.4M78.7 266.68H335.4M78.7 272.42H335.4M78.7 278.16H335.4M78.7 283.9H335.4M78.7 289.64H335.4M78.7 295.38H335.4M78.7 301.12H335.4M78.7 306.86H335.4" stroke="#f3f3f3" stroke-width="0.6" fill="none"/>
<path d="M78.7 197.8V312.6M121.48 197.8V312.6M164.27 197.8V312.6M207.05 197.8V312.6M249.83 197.8V312.6M292.62 197.8V312.6M335.4 197.8V312.6M78.7 283.9H335.4M78.7 255.2H335.4M78.7 226.5H335.4" stroke="#e6e6e6" stroke-width="0.7" fill="none"/>
<clipPath id="c3"><rect x="78.7" y="197.3" width="256.7" height="115.8"/></clipPath>
<polyline points="78.7,255.2 211.84,255.19 211.88,255.17 211.93,255.13 211.97,255.1 212.01,255.09 212.06,255.12 212.1,255.17 212.14,255.24 212.18,255.29 212.23,255.29 212.27,255.21 212.31,255.05 212.36,254.86 212.4,254.69 212.44,254.59 212.48,254.59 212.53,254.71 212.57,254.96 212.61,255.28 212.65,255.59 212.7,255.79 212.74,255.74 212.78,255.35 212.83,254.7 212.87,254.01 212.91,253.53 212.95,253.42 213,253.78 213.04,254.59 213.08,255.63 213.13,256.52 213.17,256.98 213.21,256.92 213.25,256.41 213.3,255.68 213.34,255.1 213.38,254.98 213.42,255.43 213.47,256.33 213.51,257.38 213.55,258.21 213.6,258.61 213.64,258.58 213.68,258.25 213.72,257.95 213.77,258.01 213.81,258.62 213.85,259.66 213.9,260.77 213.94,261.63 213.98,261.82 214.02,261.06 214.07,259.16 214.11,256.29 214.15,253.12 214.19,250.42 214.24,248.5 214.28,247.21 214.32,246.2 214.37,245.11 214.41,243.81 214.45,242.44 214.49,241.4 214.54,241.13 214.58,242.24 214.62,245.64 214.67,252.1 214.71,260.36 214.75,267.2 214.79,271.12 214.84,272.59 214.88,272.06 214.92,269.56 214.96,265.38 215.01,260.83 215.05,257.55 215.09,256.15 215.14,255.93 215.18,255.42 215.22,253.09 215.26,248.21 215.31,241.73 215.35,235.9 215.39,232.25 215.44,230.93 215.48,232 215.52,236.29 215.56,244.6 215.61,254.88 215.65,262.55 215.69,265.33 215.74,263.44 215.78,258.32 215.82,252.98 215.86,251.01 215.91,254.74 215.95,264.44 215.99,276.08 216.03,284.19 216.08,288.01 216.12,289.05 216.16,287.68 216.21,282.32 216.25,270.62 216.29,255.6 216.33,245.36 216.38,242.94 216.42,247.5 216.46,256.68 216.51,265.41 216.55,269.14 216.59,231.84 216.63,212.72 216.68,233.96 216.72,230.9 216.76,226.31 216.8,227.29 216.85,235.07 216.89,252.04 216.93,271.67 216.98,283.14 217.02,286.56 217.06,284.06 217.1,273.26 217.15,251.75 217.19,231.33 217.23,221.74 217.28,218.86 217.32,219.2 217.36,222.47 217.4,229.7 217.45,239.74 217.49,247.47 217.53,248.99 217.57,244.69 217.62,277.93 217.66,296.53 217.7,275.86 217.75,236.35 217.79,246.56 217.83,261.01 217.87,273.21 217.92,279.18 217.96,230.58 218,210.43 218.05,232.81 218.09,242.21 218.13,230.64 218.17,225.67 218.22,225.46 218.26,229.56 218.3,238.88 218.34,252.4 218.39,265.2 218.43,273.5 218.47,277.53 218.52,279 218.56,279.56 218.6,280.5 218.64,282.4 218.69,284.88 218.73,287.05 218.77,288.16 218.82,286.77 218.86,312.6 218.9,283.9 218.94,270.41 218.99,259.16 219.03,249.67 219.07,244.29 219.11,242.99 219.16,244.6 219.2,247.54 219.24,250 219.29,250.65 219.33,249.28 219.37,246.83 219.41,244.91 219.46,245.12 219.5,248.57 219.54,255.52 219.59,264.68 219.63,273.31 219.67,279.28 219.71,282.17 219.76,282.44 219.8,280.44 219.84,276.54 219.88,271.58 219.93,266.92 219.97,263.72 220.01,228.05 220.06,205.84 220.1,230.52 220.14,258.3 220.18,253.85 220.23,247.65 220.27,241.08 220.31,235.81 220.36,232.91 220.4,232.77 220.44,235.75 220.48,242.3 220.53,252.1 220.57,263 220.61,271.92 220.66,277.31 220.7,279.18 220.74,277.71 220.78,272.49 220.83,263.24 220.87,251.11 220.91,239.43 220.95,231.03 221,226.22 221.04,223.99 221.08,223.4 221.13,223.88 221.17,225.07 221.21,226.63 221.25,228.27 221.3,229.95 221.34,231.99 221.38,235.14 221.43,240.5 221.47,249.05 221.51,260.26 221.55,274.77 221.6,290.79 221.64,272.99 221.68,281.94 221.72,278.34 221.77,269.49 221.81,255.08 221.85,240.53 221.9,231.48 221.94,227.61 221.98,226.86 222.02,228.18 222.07,231.23 222.11,235.41 222.15,239.46 222.2,242.28 222.24,243.92 222.28,245.61 222.32,249.06 222.37,255.71 222.41,265.37 222.45,274.99 222.49,281.37 222.54,284.37 222.58,285.22 222.62,284.59 222.67,282.14 222.71,276.66 222.75,267.42 222.79,257 222.84,249.52 222.88,246.24 222.92,246.24 222.97,248.07 223.01,250.2 223.05,251.4 223.09,251.28 223.14,250.35 223.18,249.78 223.22,250.75 223.26,254.08 223.31,259.72 223.35,266.39 223.39,272.07 223.44,275.66 223.48,277.25 223.52,277.25 223.56,275.9 223.61,273.43 223.65,270.36 223.69,267.54 223.74,265.66 223.78,264.79 223.82,264.4 223.86,263.73 223.91,262.16 223.95,259.44 223.99,255.85 224.03,252.11 224.08,249.08 224.12,273.51 224.16,288.49 224.21,271.85 224.25,245.45 224.29,244 224.33,241.44 224.38,238.22 224.42,235.23 224.46,233.13 224.51,232.16 224.55,232.36 224.59,233.83 224.63,236.79 224.68,241.13 224.72,245.95 224.76,249.9 224.81,252.11 224.85,252.66 224.89,252.37 224.93,252.26 224.98,253.13 225.02,255.22 225.06,258.07 225.1,260.62 225.15,261.68 225.19,260.4 225.23,256.4 225.28,250.26 225.32,243.83 225.36,239.1 225.4,236.79 225.45,236.83 225.49,239.27 225.53,244.33 225.58,251.42 225.62,258.47 225.66,263.45 225.7,265.82 225.75,266.1 225.79,265.18 225.83,264.18 225.87,264.19 225.92,265.79 225.96,268.72 226,272.04 226.05,274.75 226.09,276.35 226.13,276.8 226.17,276.1 226.22,274.24 226.26,271.25 226.3,267.51 226.35,263.8 226.39,260.83 226.43,258.83 226.47,257.53 226.52,256.38 226.56,254.86 226.6,252.66 226.64,249.87 226.69,271.62 226.73,285.05 226.77,270.12 226.82,243.22 226.86,244.99 226.9,248.71 226.94,254.28 226.99,260.79 227.03,266.75 227.07,271.06 227.12,273.47 227.16,274.18 227.2,273.28 227.24,270.52 227.29,265.53 227.33,258.46 227.37,250.62 227.41,243.84 227.46,239.07 227.5,236.16 227.54,234.58 227.59,233.89 227.63,233.84 227.67,234.35 227.71,235.49 227.76,237.47 227.8,240.65 227.84,245.38 227.89,251.59 227.93,258.39 227.97,264.39 228.01,268.62 228.06,270.92 228.1,271.52 228.14,270.62 228.18,268.31 228.23,264.74 228.27,260.31 228.31,255.65 228.36,251.34 228.4,247.69 228.44,244.74 228.48,242.48 228.53,240.91 228.57,233.1 228.61,215.02 228.66,235.11 228.7,244.38 228.74,248.52 228.78,253.49 228.83,258.16 228.87,261.39 228.91,262.64 228.96,261.89 229,259.47 229.04,256.15 229.08,253.01 229.13,251.02 229.17,250.59 229.21,251.53 229.25,253.14 229.3,254.39 229.34,254.27 229.38,252.27 229.43,248.7 229.47,244.7 229.51,241.69 229.55,240.57 229.6,241.89 229.64,246.31 229.68,254.07 229.73,263.1 229.77,269.96 229.81,273.52 229.85,274.51 229.9,273.57 229.94,270.91 229.98,267.13 230.02,263.88 230.07,263 230.11,265.07 230.15,268.91 230.2,272.46 230.24,274.41 230.28,274.44 230.32,272.07 230.37,265.97 230.41,255.86 230.45,245.9 230.5,240.19 230.54,238.57 230.58,240.16 230.62,244.95 230.67,252.1 230.71,258.41 230.75,261.04 230.79,259.29 230.84,253.7 230.88,246.7 230.92,241.65 230.97,239.8 231.01,241.16 231.05,246.26 231.09,254.84 231.14,263.16 231.18,267.63 231.22,267.83 231.27,263.6 231.31,254.78 231.35,244.89 231.39,238.7 231.44,236.31 231.48,236.35 231.52,238.47 231.56,242.88 231.61,248.54 231.65,252.67 231.69,253.33 231.74,250.63 231.78,246.37 231.82,241.94 231.86,231.09 231.91,243.15 231.95,247.79 231.99,255.77 232.04,263.99 232.08,269.21 232.12,271.29 232.16,271.09 232.21,269.01 232.25,265.41 232.29,261.59 232.33,259.46 232.38,260.09 232.42,263.12 232.46,266.97 232.51,269.96 232.55,271.43 232.59,271.38 232.63,269.73 232.68,266.24 232.72,261.2 232.76,256.12 232.81,252.73 232.85,251.71 232.89,252.82 232.93,255.3 232.98,258.01 233.02,259.84 233.06,260.21 233.11,259.06 233.15,256.83 233.19,254.39 233.23,252.79 233.28,252.76 233.32,254.57 233.36,257.87 233.4,261.61 233.45,264.54 233.49,265.89 233.53,265.36 233.58,262.73 233.62,258.08 233.66,252.52 233.7,247.9 233.75,245.34 233.79,244.94 233.83,246.44 233.88,249.38 233.92,252.69 233.96,254.83 234,254.7 234.05,252.03 234.09,247.63 234.13,243.25 234.17,240.27 234.22,238.9 234.26,238.86 234.3,240.05 234.35,242.45 234.39,245.63 234.43,248.42 234.47,249.67 234.52,249.15 234.56,247.6 234.6,246.22 234.65,246.06 234.69,247.84 234.73,251.99 234.77,257.91 234.82,263.53 234.86,267.04 234.9,268.19 234.94,267.16 234.99,263.85 235.03,258.54 235.07,252.92 235.12,249.11 235.16,247.83 235.2,248.85 235.24,251.6 235.29,254.93 235.33,257.46 235.37,258.31 235.42,257.4 235.46,255.33 235.5,253.21 235.54,252.24 235.59,253.15 235.63,256.1 235.67,242.57 235.71,232.24 235.76,243.72 235.8,268.53 235.84,268.42 235.89,267.18 235.93,265.17 235.97,263.13 236.01,261.95 236.06,262.12 236.1,263.33 236.14,264.79 236.19,265.64 236.23,265.26 236.27,263.19 236.31,259.17 236.36,253.73 236.4,248.51 236.44,244.92 236.48,243.19 236.53,242.97 236.57,243.91 236.61,245.69 236.66,247.8 236.7,249.6 236.74,250.73 236.78,251.3 236.83,251.78 236.87,252.79 236.91,254.83 236.96,257.96 237,261.65 237.04,264.89 237.08,267.02 237.13,267.85 237.17,267.38 237.21,265.46 237.26,261.94 237.3,257.14 237.34,252.26 237.38,248.56 237.43,246.44 237.47,245.65 237.51,245.83 237.55,246.63 237.6,247.8 237.64,249.11 237.68,250.5 237.73,252.07 237.77,253.97 237.81,256.34 237.85,259.06 237.9,261.74 237.94,263.88 237.98,265.13 238.03,265.26 238.07,264.07 238.11,261.31 238.15,256.95 238.2,251.79 238.24,247.24 238.28,244.18 238.32,242.48 238.37,241.72 238.41,241.58 238.45,241.94 238.5,242.89 238.54,244.66 238.58,247.58 238.62,251.72 238.67,256.47 238.71,260.74 238.75,263.77 238.8,265.55 238.84,266.39 238.88,266.56 238.92,266.18 238.97,265.2 239.01,263.48 239.05,260.88 239.09,257.43 239.14,253.47 239.18,249.56 239.22,246.21 239.27,243.66 239.31,241.94 239.35,240.93 239.39,240.5 239.44,240.57 239.48,241.19 239.52,267.2 239.57,277.01 239.61,266.11 239.65,252.07 239.69,255.29 239.74,257.51 239.78,258.83 239.82,259.64 239.86,260.39 239.91,261.51 239.95,263.22 239.99,265.3 240.04,267.21 240.08,268.53 240.12,269.16 240.16,269.16 240.21,268.54 240.25,267.2 240.29,265.15 240.34,262.87 240.38,261.14 240.42,260.39 240.46,260.52 240.51,260.96 240.55,261.09 240.59,260.43 240.63,258.78 240.68,256.45 240.72,254.2 240.76,252.79 240.81,252.56 240.85,253.66 240.89,256.12 240.93,259.41 240.98,262.2 241.02,263.55 241.06,263.45 241.11,262.22 241.15,260.11 241.19,257.4 241.23,254.72 241.28,252.7 241.32,251.57 241.36,251.12 241.41,250.87 241.45,250.28 241.49,249.02 241.53,247.17 241.58,245.32 241.62,244.07 241.66,243.59 241.7,243.71 241.75,244.16 241.79,244.8 241.83,245.6 241.88,246.51 241.92,247.39 241.96,248.06 242,248.48 242.05,248.81 242.09,249.32 242.13,250.2 242.18,251.59 242.22,253.44 242.26,255.36 242.3,256.89 242.35,257.8 242.39,258.14 242.43,258.05 242.47,257.64 242.52,257.01 242.56,256.24 242.6,255.4 242.65,254.47 242.69,253.38 242.73,252.07 242.77,250.61 242.82,249.21 242.86,248.11 242.9,247.5 242.95,247.52 242.99,248.27 243.03,249.82 243.07,252.08 243.12,254.53 243.16,256.52 243.2,257.77 243.24,258.45 243.29,258.83 243.33,259.18 243.37,259.74 243.42,260.68 243.46,262 243.5,263.4 243.54,264.43 243.59,264.74 243.63,264.17 243.67,262.55 243.72,260.04 243.76,257.4 243.8,255.53 243.84,254.59 243.89,254.34 243.93,254.6 243.97,255.35 244.01,256.58 244.06,258.05 244.1,259.23 244.14,259.63 244.19,259.07 244.23,257.75 244.27,256.23 244.31,255.26 244.36,255.32 244.4,256.29 244.44,257.56 244.49,258.5 244.53,258.92 244.57,258.84 244.61,258.17 244.66,256.64 244.7,254.07 244.74,251.27 244.78,249.53 244.83,249.08 244.87,249.49 244.91,250.32 244.96,251.15 245,251.54 245.04,251.11 245.08,249.9 245.13,248.36 245.17,247.07 245.21,246.36 245.26,246.41 245.3,247.55 245.34,250.3 245.38,254.04 245.43,256.86 245.47,258.33 245.51,259.02 245.56,259.23 245.6,259.06 245.64,258.51 245.68,257.79 245.73,257.46 245.77,257.86 245.81,258.77 245.85,259.7 245.9,260.25 245.94,260.17 245.98,259.42 246.03,258.14 246.07,256.66 246.11,255.31 246.15,254.38 246.2,254.11 246.24,254.51 246.28,255.27 246.33,255.83 246.37,255.81 246.41,255.15 246.45,253.95 246.5,252.45 246.54,250.98 246.58,249.84 246.62,249.19 246.67,249 246.71,249.2 246.75,249.66 246.8,250.26 246.84,250.88 246.88,251.46 246.92,252.01 246.97,252.55 247.01,253.03 247.05,253.36 247.1,253.45 247.14,253.25 247.18,252.69 247.22,251.77 247.27,250.73 247.31,249.91 247.35,249.43 247.39,249.23 247.44,249.26 247.48,249.51 247.52,249.89 247.57,250.32 247.61,250.76 247.65,251.31 247.69,252.11 247.74,253.21 247.78,254.61 247.82,256.36 247.87,258.42 247.91,260.3 247.95,261.48 247.99,262.04 248.04,262.18 248.08,261.9 248.12,261.09 248.16,259.96 248.21,259.11 248.25,258.79 248.29,258.89 248.34,259.29 248.38,259.74 248.42,259.95 248.46,259.74 248.51,259.18 248.55,258.53 248.59,258.15 248.64,258.25 248.68,258.87 248.72,260.11 248.76,261.8 248.81,263.04 248.85,263.48 248.89,263.47 248.93,263.28 248.98,263 249.02,262.59 249.06,261.95 249.11,261.09 249.15,260.17 249.19,259.18 249.23,257.88 249.28,256.16 249.32,254.21 249.36,252.27 249.41,250.31 249.45,248.48 249.49,247.31 249.53,246.81 249.58,246.69 249.62,246.79 249.66,247.18 249.7,247.94 249.75,248.77 249.79,249.24 249.83,249.24 249.88,248.88 249.92,248.44 249.96,248.3 250,248.55 250.05,249.11 250.09,249.92 250.13,250.79 250.18,251.37 250.22,251.53 250.26,251.38 250.3,250.97 250.35,250.64 250.39,251.11 250.43,252.44 250.48,254.18 250.52,255.91 250.56,257.42 250.6,258.77 250.65,259.96 250.69,260.85 250.73,261.34 250.77,261.52 250.82,261.58 250.86,261.69 250.9,261.95 250.95,262.46 250.99,263.24 251.03,263.79 251.07,263.69 251.12,263 251.16,261.85 251.2,260.44 251.25,258.96 251.29,257.51 251.33,256.36 251.37,255.73 251.42,255.53 251.46,255.6 251.5,255.82 251.54,256.05 251.59,256.23 251.63,256.42 251.67,256.63 251.72,256.82 251.76,256.92 251.8,256.83 251.84,256.44 251.89,255.62 251.93,254.29 251.97,252.63 252.02,251.02 252.06,249.78 252.1,248.92 252.14,248.27 252.19,247.66 252.23,247.06 252.27,246.6 252.31,246.36 252.36,246.32 252.4,246.42 252.44,246.62 252.49,246.94 252.53,247.4 252.57,248.04 252.61,248.91 252.66,250.06 252.7,251.4 252.74,252.69 252.79,253.67 252.83,254.19 252.87,254.25 252.91,254.01 252.96,253.74 253,253.71 253.04,254.09 253.08,254.91 253.13,256.05 253.17,257.32 253.21,258.48 253.26,259.33 253.3,259.8 253.34,260 253.38,260.05 253.43,260.13 253.47,260.36 253.51,260.79 253.56,261.37 253.6,261.97 253.64,262.42 253.68,262.59 253.73,262.4 253.77,261.81 253.81,260.91 253.85,259.94 253.9,259.17 253.94,258.81 253.98,259.01 254.03,259.69 254.07,260.56 254.11,261.29 254.15,261.64 254.2,261.52 254.24,260.91 254.28,259.85 254.33,258.54 254.37,257.31 254.41,256.47 254.45,256.17 254.5,256.31 254.54,256.64 254.58,256.88 254.63,256.84 254.67,256.4 254.71,255.52 254.75,254.41 254.8,253.49 254.84,253.02 254.88,253.03 254.92,253.49 254.97,254.31 255.01,255.23 255.05,255.83 255.1,255.84 255.14,255.22 255.18,254.02 255.22,252.44 255.27,250.89 255.31,249.7 255.35,248.92 255.4,248.51 255.44,248.41 255.48,248.58 255.52,248.87 255.57,249.1 255.61,249.18 255.65,249.09 255.69,248.94 255.74,248.83 255.78,248.83 255.82,248.97 255.87,249.31 255.91,249.89 255.95,250.56 255.99,251.16 256.04,251.68 256.08,252.15 256.12,252.54 256.17,252.74 256.21,252.89 256.25,253.23 256.29,253.81 256.34,254.57 256.38,255.54 256.42,256.77 256.46,258.22 256.51,259.72 256.55,260.97 256.59,261.82 256.64,262.22 256.68,262.23 256.72,261.91 256.76,261.29 256.81,260.38 256.85,259.27 256.89,258.15 256.94,257.24 256.98,256.63 257.02,256.28 257.06,256.01 257.11,255.61 257.15,254.95 257.19,254.11 257.23,253.34 257.28,252.89 257.32,252.91 257.36,253.46 257.41,254.5 257.45,255.83 257.49,257.12 257.53,258.07 257.58,258.51 257.62,258.37 257.66,257.63 257.71,256.38 257.75,254.85 257.79,253.42 257.83,252.37 257.88,251.82 257.92,251.73 257.96,251.99 258,252.44 258.05,252.92 258.09,253.3 258.13,253.56 258.18,253.79 258.22,254.1 258.26,254.6 258.3,255.49 258.35,256.93 258.39,258.73 258.43,260.38 258.48,261.58 258.52,262.36 258.56,262.87 258.6,263.17 258.65,263.2 258.69,262.9 258.73,262.34 258.78,261.7 258.82,261.19 258.86,261 258.9,261.03 258.95,260.9 258.99,260.2 259.03,258.74 259.07,256.57 259.12,253.97 259.16,251.5 259.2,249.43 259.25,247.69 259.29,246.43 259.33,245.83 259.37,245.74 259.42,245.94 259.46,246.22 259.5,246.37 259.55,246.24 259.59,245.88 259.63,245.5 259.67,245.29 259.72,245.37 259.76,245.88 259.8,247 259.84,248.84 259.89,251.04 259.93,252.85 259.97,253.87 260.02,254.01 260.06,253.39 260.1,252.35 260.14,251.45 260.19,251.22 260.23,251.9 260.27,253.49 260.32,255.68 260.36,257.87 260.4,259.49 260.44,260.35 260.49,260.61 260.53,260.59 260.57,260.57 260.61,260.72 260.66,261.09 260.7,261.67 260.74,262.39 260.79,263.1 260.83,263.59 260.87,263.68 260.91,263.31 260.96,262.44 261,261.11 261.04,259.55 261.09,258.17 261.13,257.35 261.17,257.22 261.21,257.6 261.26,258.19 261.3,258.73 261.34,259.1 261.38,259.28 261.43,259.36 261.47,259.46 261.51,259.7 261.56,260.16 261.6,260.78 261.64,261.45 261.68,262.03 261.73,262.43 261.77,262.6 261.81,262.5 261.86,262.09 261.9,261.32 261.94,260.2 261.98,258.83 262.03,257.33 262.07,255.84 262.11,254.44 262.15,253.17 262.2,252.03 262.24,251.03 262.28,250.2 262.33,249.54 262.37,249.03 262.41,248.58 262.45,248.15 262.5,247.73 262.54,247.39 262.58,247.27 262.63,247.34 262.67,247.54 262.71,247.79 262.75,248.09 262.8,248.36 262.84,248.45 262.88,248.23 262.93,247.72 262.97,246.99 263.01,246.36 263.05,246.05 263.1,245.96 263.14,245.98 263.18,246.11 263.22,246.4 263.27,246.99 263.31,247.86 263.35,248.77 263.4,249.7 263.44,250.86 263.48,252.48 263.52,254.64 263.57,257.04 263.61,259.23 263.65,261.08 263.7,262.58 263.74,263.6 263.78,264.11 263.82,264.27 263.87,264.17 263.91,263.81 263.95,263.19 263.99,262.47 264.04,261.81 264.08,261.22 264.12,260.56 264.17,259.62 264.21,258.27 264.25,256.7 264.29,255.24 264.34,254.1 264.38,253.26 264.42,252.74 264.47,252.68 264.51,253.15 264.55,254 264.59,255.06 264.64,256.12 264.68,257.04 264.72,257.73 264.76,258.22 264.81,258.57 264.85,258.86 264.89,259.15 264.94,259.45 264.98,259.69 265.02,259.75 265.06,259.47 265.11,258.82 265.15,257.84 265.19,256.67 265.24,255.45 265.28,254.42 265.32,253.9 265.36,253.94 265.41,254.34 265.45,254.92 265.49,255.53 265.53,256.11 265.58,256.55 265.62,256.79 265.66,256.88 265.71,256.94 265.75,257.07 265.79,257.32 265.83,257.63 265.88,257.87 265.92,257.8 265.96,257.14 266.01,255.78 266.05,253.91 266.09,251.91 266.13,250.04 266.18,248.47 266.22,247.4 266.26,246.87 266.3,246.69 266.35,246.78 266.39,247.18 266.43,247.84 266.48,248.36 266.52,248.6 266.56,248.75 266.6,248.94 266.65,249.34 266.69,250.2 266.73,251.91 266.78,254.49 266.82,257.31 266.86,259.56 266.9,260.97 266.95,261.69 266.99,261.9 267.03,261.72 267.08,261.18 267.12,260.74 267.16,260.71 267.2,260.89 267.25,261.07 267.29,261.2 267.33,261.34 267.37,261.52 267.42,261.45 267.46,260.92 267.5,260.07 267.55,259.19 267.59,258.59 267.63,258.43 267.67,258.57 267.72,258.78 267.76,258.87 267.8,258.64 267.85,257.82 267.89,256.32 267.93,254.38 267.97,252.42 268.02,250.83 268.06,249.78 268.1,249.19 268.14,248.92 268.19,248.9 268.23,249.11 268.27,249.28 268.32,249.25 268.36,249.09 268.4,248.87 268.44,248.6 268.49,248.41 268.53,248.56 268.57,249.21 268.62,250.35 268.66,251.79 268.7,253.23 268.74,254.41 268.79,255.27 268.83,255.87 268.87,256.32 268.91,256.74 268.96,257.28 269,257.99 269.04,258.83 269.09,259.69 269.13,260.36 269.17,260.77 269.21,260.99 269.26,261.11 269.3,261.09 269.34,260.83 269.39,260.56 269.43,260.54 269.47,260.73 269.51,261.04 269.56,261.53 269.6,262.09 269.64,262.42 269.68,262.39 269.73,262.03 269.77,261.29 269.81,260.17 269.86,258.84 269.9,257.38 269.94,255.81 269.98,254.29 270.03,253.05 270.07,252.06 270.11,251.24 270.16,250.56 270.2,249.88 270.24,249.04 270.28,248.27 270.33,247.89 270.37,247.82 270.41,247.96 270.45,248.44 270.5,249.4 270.54,250.48 270.58,251.33 270.63,252.07 270.67,252.76 270.71,253.16 270.75,253.19 270.8,253.3 270.84,253.64 270.88,254.09 270.93,254.68 270.97,255.5 271.01,256.54 271.05,257.49 271.1,258.1 271.14,258.29 271.18,258.2 271.22,258.06 271.27,257.89 271.31,257.68 271.35,257.54 271.4,257.75 271.44,258.19 271.48,258.25 271.52,258.01 271.57,257.64 271.61,257.12 271.65,256.29 271.7,255.11 271.74,253.93 271.78,253.09 271.82,252.61 271.87,252.47 271.91,252.56 271.95,252.63 272,252.52 272.04,252.15 272.08,251.49 272.12,250.71 272.17,250.05 272.21,249.53 272.25,249.2 272.29,249.19 272.34,249.5 272.38,249.84 272.42,250 272.47,250.04 272.51,250 272.55,249.84 272.59,249.74 272.64,249.97 272.68,250.65 272.72,251.84 272.77,253.56 272.81,255.58 272.85,257.57 272.89,245.73 272.94,237.98 272.98,246.59 273.02,262.03 273.06,262.04 273.11,261.97 273.15,262.02 273.19,262.21 273.24,262.48 273.28,262.68 273.32,262.72 273.36,262.54 273.41,262.11 273.45,261.45 273.49,260.81 273.54,260.34 273.58,259.94 273.62,259.49 273.66,258.98 273.71,258.48 273.75,258 273.79,257.3 273.83,256.41 273.88,255.5 273.92,254.62 273.96,253.72 274.01,252.8 274.05,251.95 274.09,251.29 274.13,250.84 274.18,250.57 274.22,250.38 274.26,250.23 274.31,250.08 274.35,249.89 274.39,249.57 274.43,249.2 274.48,249.09 274.52,249.3 274.56,249.69 274.6,250.21 274.65,250.89 274.69,251.76 274.73,252.77 274.78,253.85 274.82,254.94 274.86,256.02 274.9,257.05 274.95,257.98 274.99,258.74 275.03,259.33 275.08,259.83 275.12,260.33 275.16,260.73 275.2,260.86 275.25,260.66 275.29,260.15 275.33,259.36 275.37,258.37 275.42,257.34 275.46,256.28 275.5,255.18 275.55,254.12 275.59,253.18 275.63,252.33 275.67,251.59 275.72,251 275.76,250.57 275.8,250.24 275.85,250.05 275.89,250.07 275.93,250.39 275.97,251.03 276.02,251.9 276.06,252.8 276.1,253.55 276.15,254.02 276.19,254.16 276.23,254 276.27,253.69 276.32,253.46 276.36,253.41 276.4,253.5 276.44,253.65 276.49,253.81 276.53,253.88 276.57,253.8 276.62,253.54 276.66,253.21 276.7,252.94 276.74,252.94 276.79,253.37 276.83,254.31 276.87,255.72 276.92,257.37 276.96,258.9 277,260.06 277.04,260.79 277.09,261.15 277.13,261.24 277.17,261.16 277.21,261.04 277.26,260.95 277.3,260.95 277.34,261.02 277.39,261.14 277.43,261.21 277.47,261.07 277.51,260.58 277.56,259.61 277.6,258.13 277.64,256.33 277.69,254.54 277.73,253.07 277.77,252.04 277.81,251.4 277.86,251.04 277.9,250.85 277.94,250.7 277.98,250.54 278.03,250.36 278.07,250.16 278.11,249.99 278.16,249.9 278.2,250.02 278.24,250.42 278.28,251.14 278.33,252.09 278.37,253.13 278.41,254.09 278.46,254.87 278.5,255.44 278.54,255.83 278.58,256.12 278.63,256.41 278.67,256.76 278.71,257.16 278.75,257.54 278.8,257.89 278.84,258.17 278.88,258.26 278.93,258.06 278.97,257.62 279.01,257.03 279.05,256.35 279.1,255.69 279.14,255.18 279.18,254.86 279.23,254.71 279.27,254.66 279.31,254.7 279.35,254.76 279.4,254.78 279.48,254.76 279.52,254.84 279.57,255.1 279.61,255.52 279.65,256.01 279.7,256.5 279.74,256.93 279.78,257.25 279.82,257.28 279.87,256.94 279.91,256.24 279.95,255.26 280,254.19 280.04,253.22 280.08,252.49 280.12,252.04 280.17,251.9 280.21,252 280.25,252.16 280.3,252.24 280.34,252.23 280.38,252.16 280.42,252.07 280.47,252.02 280.51,252.13 280.55,252.5 280.59,253.16 280.64,254.02 280.68,254.92 280.72,255.66 280.77,256.11 280.81,256.19 280.85,255.94 280.89,255.55 280.94,255.25 280.98,255.24 281.02,255.59 281.07,256.34 281.11,257.35 281.15,258.36 281.19,259.12 281.24,259.47 281.28,259.4 281.32,258.97 281.36,258.24 281.41,257.29 281.45,256.24 281.49,255.25 281.54,254.42 281.58,253.69 281.62,253.01 281.66,252.31 281.71,251.54 281.75,250.71 281.79,249.99 281.84,249.51 281.88,249.35 281.92,249.49 281.96,249.87 282.01,250.57 282.05,251.71 282.09,253.36 282.13,255.24 282.18,256.86 282.22,257.93 282.26,258.45 282.31,258.62 282.35,258.67 282.39,258.82 282.43,258.99 282.48,259.09 282.52,259.14 282.56,259.08 282.61,258.89 282.65,258.62 282.69,258.35 282.73,258.12 282.78,257.89 282.82,257.63 282.86,257.59 282.9,258.01 282.95,258.88 282.99,259.79 283.03,260.11 283.08,259.95 283.12,259.86 283.16,259.73 283.2,259.41 283.25,258.93 283.29,258.37 283.33,257.74 283.38,257.07 283.42,256.45 283.46,256.01 283.5,255.75 283.55,255.42 283.59,254.79 283.63,253.9 283.67,253.21 283.72,253.06 283.76,252.72 283.8,252.38 283.85,252.33 283.89,252.56 283.93,252.9 283.97,253.09 284.02,262.15 284.06,267.83 284.1,261.51 284.15,251.56 284.19,251.27 284.23,251.1 284.27,251 284.32,251.01 284.36,251.32 284.4,252 284.45,252.77 284.49,253.31 284.53,253.49 284.57,253.36 284.62,253.14 284.66,253.19 284.7,253.7 284.74,254.38 284.79,255.07 284.83,255.8 284.87,256.53 284.92,257.14 284.96,257.57 285,257.86 285.04,258.07 285.09,258.29 285.13,258.53 285.17,258.79 285.22,259.05 285.26,259.29 285.3,259.44 285.34,259.44 285.39,259.23 285.43,258.78 285.47,258.12 285.51,257.3 285.56,256.41 285.6,255.54 285.64,254.78 285.69,254.2 285.73,253.87 285.77,253.75 285.81,253.76 285.86,253.79 285.9,253.98 285.94,254.52 285.99,255.24 286.03,255.92 286.07,256.43 286.11,256.76 286.16,256.91 286.2,256.78 286.24,256.24 286.28,255.29 286.33,254.04 286.37,252.66 286.41,251.31 286.46,250.12 286.5,249.17 286.54,248.49 286.58,248.02 286.63,247.65 286.67,247.27 286.71,246.86 286.76,246.5 286.8,246.31 286.84,246.3 286.88,246.48 286.93,246.87 286.97,247.52 287.01,248.5 287.05,249.75 287.1,251.04 287.14,252.19 287.18,253.22 287.23,254.28 287.27,255.51 287.31,256.93 287.35,258.45 287.4,259.83 287.44,260.91 287.48,261.65 287.53,262.09 287.57,262.31 287.61,262.39 287.65,262.43 287.7,262.49 287.74,262.63 287.78,262.87 287.82,263.2 287.87,263.58 287.91,263.94 287.95,264.2 288,264.34 288.04,264.37 288.08,264.27 288.12,264.04 288.17,263.62 288.21,263.01 288.25,262.25 288.3,261.41 288.34,260.55 288.38,259.63 288.42,258.54 288.47,257.19 288.51,255.53 288.55,253.68 288.6,251.87 288.64,250.39 288.68,249.37 288.72,248.75 288.77,248.39 288.81,248.16 288.85,247.93 288.89,247.66 288.94,247.33 288.98,246.98 289.02,246.68 289.07,246.48 289.11,246.39 289.15,246.4 289.19,246.48 289.24,246.61 289.28,246.79 289.32,247.11 289.37,247.69 289.41,248.68 289.45,250.08 289.49,251.7 289.54,253.38 289.58,255.09 289.62,256.89 289.66,258.75 289.71,260.5 289.75,261.88 289.79,262.75 289.84,263.16 289.88,263.25 289.92,263.18 289.96,263.04 290.01,262.85 290.05,262.54 290.09,262.01 290.14,261.2 290.18,260.22 290.22,259.23 290.26,258.3 290.31,257.32 290.35,256.13 290.39,254.68 290.43,253.06 290.48,251.55 290.52,250.43 290.56,249.78 290.61,249.52 290.65,249.56 290.69,249.86 290.73,250.43 290.78,251.24 290.82,252.15 290.86,252.91 290.91,253.3 290.95,253.26 290.99,252.96 291.03,252.63 291.08,252.49 291.12,252.61 291.16,252.97 291.2,253.52 291.25,254.16 291.29,254.79 291.33,255.32 291.38,255.74 291.42,256.09 291.46,256.52 291.5,257.16 291.55,258.08 291.59,259.21 291.63,260.38 291.68,261.35 291.72,261.98 291.76,262.33 291.8,262.53 291.85,262.7 291.89,262.88 291.93,263.09 291.97,263.22 292.02,263.07 292.06,262.54 292.1,261.64 292.15,260.42 292.19,258.96 292.23,257.26 292.27,255.39 292.32,253.44 292.36,251.63 292.4,250.16 292.45,249.14 292.49,248.5 292.53,248.09 292.57,247.79 292.62,247.5 292.66,247.17 292.7,246.84 292.75,246.61 292.79,246.52 292.83,246.52 292.87,246.55 292.92,246.57 292.96,246.54 293,246.49 293.04,246.51 293.09,246.71 293.13,247.2 293.17,248 293.22,249 293.26,250.01 293.3,250.79 293.34,251.28 293.39,251.59 293.43,251.94 293.47,252.58 293.52,253.66 293.56,255.2 293.6,257.05 293.64,258.9 293.69,260.44 293.73,261.52 293.77,262.16 293.81,262.48 293.86,262.65 293.9,262.8 293.94,263 293.99,263.23 294.03,263.36 294.07,263.33 294.11,263.21 294.16,263.08 294.2,262.99 294.24,262.91 294.29,262.86 294.33,262.84 294.37,262.88 294.41,263.02 294.46,263.26 294.5,263.55 294.54,263.82 294.58,264.02 294.63,264.05 294.67,263.86 294.71,263.34 294.76,262.45 294.8,261.23 294.84,259.87 294.88,258.59 294.93,257.53 294.97,256.67 295.01,255.87 295.06,254.98 295.1,253.87 295.14,252.57 295.18,251.24 295.23,250.07 295.27,249.17 295.31,248.52 295.35,248.07 295.4,247.77 295.44,247.59 295.48,247.5 295.53,247.48 295.57,247.51 295.61,247.59 295.65,247.66 295.7,247.69 295.74,247.66 295.78,247.61 295.83,247.55 295.87,247.52 295.91,247.58 295.95,247.78 296,248.11 296.04,248.5 296.08,248.88 296.12,249.2 296.17,249.49 296.21,249.73 296.25,249.93 296.3,250.08 296.34,250.29 296.38,250.8 296.42,251.75 296.47,253.11 296.51,254.76 296.55,256.43 296.6,257.88 296.64,258.9 296.68,259.47 296.72,259.68 296.77,259.77 296.81,259.9 296.85,260.1 296.89,260.38 296.94,260.72 296.98,261.08 297.02,261.35 297.07,261.34 297.11,260.94 297.15,260.12 297.19,259.03 297.24,257.86 297.28,256.8 297.32,255.99 297.37,255.49 297.41,255.22 297.45,255.02 297.49,254.68 297.54,254.08 297.58,253.22 297.62,252.29 297.67,251.5 297.71,245.73 297.75,237.98 297.79,246.59 297.84,252.02 297.88,252.83 297.92,253.53 297.96,254.01 298.01,254.29 298.05,254.53 298.09,254.9 298.14,255.61 298.18,256.74 298.22,258.22 298.26,259.8 298.31,261.15 298.35,262.05 298.39,262.45 298.44,262.43 298.48,262.2 298.52,262.02 298.56,262 298.61,262.2 298.65,262.6 298.69,263.06 298.73,263.37 298.78,263.31 298.82,262.74 298.86,261.51 298.91,259.58 298.95,257.09 298.99,254.54 299.03,252.49 299.08,251.23 299.12,250.54 299.16,250.06 299.21,249.52 299.25,248.81 299.29,247.91 299.33,246.91 299.38,246.03 299.42,245.51 299.46,245.43 299.5,245.78 299.55,246.47 299.59,247.33 299.63,248.2 299.68,248.95 299.72,249.31 299.76,249 299.8,248.17 299.85,247.39 299.89,247 299.93,247.15 299.98,248.02 300.02,249.75 300.06,252.05 300.1,254.33 300.15,256.15 300.19,257.22 300.23,257.52 300.27,257.37 300.32,257.49 300.36,258.45 300.4,260.34 300.45,262.6 300.49,264.46 300.53,265.53 300.57,265.87 300.62,265.62 300.66,264.92 300.7,264.23 300.75,263.84 300.79,263.62 300.83,263.47 300.87,263.45 300.92,263.77 300.96,264.59 301,265.31 301.04,265.36 301.09,264.62 301.13,262.67 301.17,258.98 301.22,254.14 301.26,250.13 301.3,247.94 301.34,247.19 301.39,247.28 301.43,247.63 301.47,247.77 301.52,247.39 301.56,246.4 301.6,245.23 301.64,244.38 301.69,243.91 301.73,243.76 301.77,243.93 301.82,244.63 301.86,245.85 301.9,246.96 301.94,247.85 301.99,248.67 302.03,249.29 302.07,249.49 302.11,249.36 302.16,249.36 302.2,249.92 302.24,251.31 302.29,253.64 302.33,256.6 302.37,259.46 302.41,261.47 302.46,262.41 302.5,262.49 302.54,262.08 302.59,261.51 302.63,260.93 302.67,260.58 302.71,260.64 302.76,261.02 302.8,261.58 302.84,262.21 302.88,262.75 302.93,262.96 302.97,262.67 303.01,261.75 303.06,260.33 303.1,258.72 303.14,257.29 303.18,256.34 303.23,256.08 303.27,256.46 303.31,257.17 303.36,257.8 303.4,257.99 303.44,257.49 303.48,256.24 303.53,254.44 303.57,252.5 303.61,250.91 303.65,250.05 303.7,250.04 303.74,250.71 303.78,251.7 303.83,252.72 303.87,253.5 303.91,253.74 303.95,253.15 304,251.97 304.04,250.85 304.08,250.14 304.13,249.96 304.17,250.43 304.21,251.64 304.25,253.39 304.3,255.05 304.34,256.03 304.38,256.04 304.42,255.21 304.47,254.16 304.51,253.14 304.55,252.27 304.6,251.75 304.64,251.77 304.68,252.64 304.72,254.4 304.77,255.9 304.81,256.73 304.85,256.96 304.9,256.57 304.94,255.63 304.98,254.69 305.02,254.28 305.07,254.64 305.11,255.7 305.15,256.8 305.19,257.7 305.24,258.41 305.28,258.86 305.32,258.84 305.37,257.9 305.41,256.43 305.45,255.73 305.49,255.61 305.54,255.95 305.58,256.85 305.62,258.44 305.67,260.3 305.71,261.65 305.75,262.33 305.79,262.41 305.84,262 305.88,261.44 305.92,261.03 305.97,260.88 306.01,261.01 306.05,261.08 306.09,260.61 306.14,259.62 306.18,258.14 306.22,256.07 306.26,253.33 306.31,250.19 306.35,247.8 306.39,246.5 306.44,245.9 306.48,245.76 306.52,246.01 306.56,246.61 306.61,247.3 306.65,247.91 306.69,248.47 306.74,249.06 306.78,249.84 306.82,250.93 306.86,252.45 306.91,254.43 306.95,256.64 306.99,258.7 307.03,260.41 307.08,261.62 307.12,262.22 307.16,262.09 307.21,261.24 307.25,260.23 307.29,259.36 307.33,258.59 307.38,258.03 307.42,257.9 307.46,258.33 307.51,259.17 307.55,260.06 307.59,260.78 307.63,261.22 307.68,261.45 307.72,261.6 307.76,261.78 307.8,262.04 307.85,262.3 307.89,262.49 307.93,262.6 307.98,262.61 308.02,262.4 308.06,261.77 308.1,260.54 308.15,258.77 308.19,256.55 308.23,253.9 308.28,251.23 308.32,249.18 308.36,247.96 308.4,247.37 308.45,247.09 308.49,246.9 308.53,246.71 308.57,246.55 308.62,246.45 308.66,246.43 308.7,246.53 308.75,246.79 308.79,247.26 308.83,247.89 308.87,248.57 308.92,249.32 308.96,250.25 309,251.41 309.05,252.69 309.09,253.83 309.13,254.64 309.17,255.07 309.22,255.2 309.26,255.17 309.3,255.15 309.34,255.26 309.39,255.55 309.43,255.99 309.47,256.51 309.52,257.05 309.56,257.54 309.6,257.94 309.64,258.28 309.69,258.63 309.73,259.07 309.77,259.63 309.82,260.27 309.86,260.9 309.9,261.44 309.94,261.82 309.99,262.04 310.03,262.12 310.07,262.09 310.12,261.9 310.16,261.49 310.2,260.78 310.24,259.75 310.29,258.47 310.33,257.06 310.37,255.65 310.41,254.33 310.46,253.14 310.5,252.13 310.54,251.32 310.59,250.72 310.63,250.34 310.67,250.15 310.71,250.14 310.76,250.31 310.8,250.67 310.84,251.21 310.89,251.85 310.93,252.49 310.97,253.02 311.01,253.35 311.06,253.46 311.1,253.42 311.14,253.29 311.18,253.17 311.23,253.12 311.27,253.15 311.31,253.24 311.36,253.34 311.4,253.42 311.44,253.44 311.48,253.47 311.53,253.57 311.57,253.87 311.61,254.46 311.66,255.36 311.7,256.47 311.74,257.59 311.78,258.48 311.83,258.98 311.87,259.01 311.91,258.58 311.95,257.74 312,256.69 312.04,255.76 312.08,255.17 312.13,254.9 312.17,254.85 312.21,254.9 312.25,254.91 312.3,254.7 312.34,254.23 312.38,253.65 312.43,253.24 312.47,253.31 312.51,254.09 312.55,255.58 312.6,257.52 312.64,259.51 312.68,261.09 312.72,262.02 312.77,262.32 312.81,262.16 312.85,261.64 312.9,260.92 312.94,260.35 312.98,260.24 313.02,260.54 313.07,261.11 313.11,261.7 313.15,261.96 313.2,261.53 313.24,260.29 313.28,258.33 313.32,256.09 313.37,254.21 313.41,253.15 313.45,253.05 313.49,253.71 313.54,254.69 313.58,255.37 313.62,255.28 313.67,254.16 313.71,252.22 313.75,250.1 313.79,248.48 313.84,247.57 313.88,247.28 313.92,247.46 313.97,248.01 314.01,248.74 314.05,249.31 314.09,249.36 314.14,248.89 314.18,248.22 314.22,247.66 314.27,247.28 314.31,247.05 314.35,246.99 314.39,247.16 314.44,247.69 314.48,248.58 314.52,249.59 314.56,250.3 314.61,250.46 314.65,250.22 314.69,249.97 314.74,250.08 314.78,250.85 314.82,252.53 314.86,255.13 314.91,257.98 314.95,260.12 314.99,261.28 315.04,261.68 315.08,261.53 315.12,260.97 315.16,260.18 315.21,259.56 315.25,259.51 315.29,260.18 315.33,261.29 315.38,262.35 315.42,263.07 315.46,263.45 315.51,263.65 315.55,263.77 315.59,263.84 315.68,263.86 315.72,263.97 315.76,264.14 315.81,264.23 315.85,264.07 315.89,263.71 315.93,263.32 315.98,262.97 316.02,262.58 316.06,261.97 316.1,260.97 316.15,259.61 316.19,258.2 316.23,257.09 316.28,256.44 316.32,256.18 316.36,256.09 316.4,255.94 316.45,255.6 316.49,255.08 316.53,254.45 316.58,253.72 316.62,252.94 316.66,252.23 316.7,251.58 316.75,250.89 316.79,250.05 316.83,249.09 316.87,248.14 316.92,247.31 316.96,246.71 317,246.38 317.05,246.23 317.09,246.13 317.13,245.97 317.17,245.73 317.22,245.47 317.26,245.29 317.3,245.28 317.35,245.48 317.39,245.93 317.43,246.6 317.47,247.3 317.52,247.91 317.56,248.43 317.6,248.89 317.64,249.27 317.69,249.54 317.73,249.74 317.77,250.07 317.82,250.69 317.86,251.57 317.9,252.64 317.94,253.83 317.99,255.05 318.03,256.22 318.07,257.32 318.12,258.37 318.16,259.41 318.2,260.48 318.24,261.52 318.29,262.46 318.33,263.36 318.37,264.22 318.42,265.05 318.46,265.75 318.5,266.22 318.54,266.47 318.59,266.52 318.63,266.34 318.67,265.9 318.71,265.26 318.76,264.65 318.8,264.16 318.84,263.71 318.89,263.11 318.93,262.12 318.97,260.42 319.01,257.87 319.06,254.84 319.1,251.92 319.14,249.53 319.19,247.87 319.23,247 319.27,246.82 319.31,247.28 319.36,248.49 319.4,250.28 319.44,251.94 319.48,253.28 319.53,254.47 319.57,255.5 319.61,256.11 319.66,256 319.7,255.59 319.74,255.4 319.78,255.3 319.83,255.28 319.87,255.44 319.91,255.44 319.96,254.94 320,254.02 320.04,252.73 320.08,251.07 320.13,249.69 320.17,249.14 320.21,249.3 320.25,250.17 320.3,252.17 320.34,255.04 320.38,257.35 320.43,259.04 320.47,260.27 320.51,260.85 320.55,260.35 320.6,258.35 320.64,267.2 320.68,277.01 320.73,266.11 320.77,246.78 320.81,245.28 320.85,244.12 320.9,243.1 320.94,241.99 320.98,240.34 321.02,238.37 321.07,237.18 321.11,236.71 321.15,236.55 321.2,236.63 321.24,241.94 321.28,231.09 321.32,243.15 321.37,244.16 321.41,248.99 321.45,254.94 321.5,260.25 321.54,263.89 321.58,266.2 321.62,267.83 321.67,269.31 321.71,270.88 321.75,272.24 321.79,273.1 321.84,273.42 321.88,273.25 321.92,272.58 321.97,271.52 322.01,270.51 322.05,269.85 322.09,269.6 322.14,269.78 322.18,270.38 322.22,271.25 322.27,272.07 322.31,272.56 322.35,272.62 322.39,272.24 322.44,271.44 322.48,270.25 322.52,268.61 322.56,266.41 322.61,263.55 322.65,260.1 322.69,256.29 322.74,252.42 322.78,248.74 322.82,245.49 322.86,242.77 322.91,240.65 322.95,239.19 322.99,238.37 323.04,238.13 323.08,238.39 323.12,239.02 323.16,239.84 323.21,240.64 323.25,241.29 323.29,241.74 323.34,242.03 323.38,242.33 323.42,242.86 323.46,243.85 323.51,245.41 323.55,247.58 323.59,250.29 323.63,253.29 323.68,256.16 323.72,258.47 323.76,259.98 323.81,260.94 323.85,261.99 323.89,263.45 323.93,265.18 323.98,266.89 324.02,268.35 324.06,269.39 324.11,269.83 324.15,269.54 324.19,268.41 324.23,266.37 324.28,263.31 324.32,259.34 324.36,255.07 324.4,251.42 324.45,248.94 324.49,247.3 324.53,245.82 324.58,244.23 324.62,242.55 324.66,240.74 324.7,238.81 324.75,237.16 324.79,236.21 324.83,236 324.88,236.42 324.92,237.48 324.96,239.11 325,241.05 325.05,242.84 325.09,244.14 325.13,244.94 325.17,245.56 325.22,246.41 325.26,247.89 325.3,250.45 325.35,254.52 325.39,259.65 325.43,264.34 325.47,267.94 325.52,270.56 325.56,272.35 325.6,273.51 325.65,274.17 325.69,274.33 325.73,273.93 325.77,273.17 325.82,272.5 325.86,272.11 325.9,271.9 325.94,271.7 325.99,271.41 326.03,270.97 326.07,270.34 326.12,269.4 326.16,267.95 326.2,265.87 326.24,263.3 326.29,260.91 326.33,259.35 326.37,258.36 326.42,257.16 326.46,255.58 326.5,253.6 326.54,251.24 326.59,248.56 326.63,245.63 326.67,242.56 326.71,239.91 326.76,238.32 326.8,237.76 326.84,237.91 326.89,238.49 326.93,239.23 326.97,239.89 327.01,240.31 327.06,240.48 327.1,240.52 327.14,240.66 327.19,241.12 327.23,242.09 327.27,243.74 327.31,246.18 327.36,249.32 327.4,252.75 327.44,255.88 327.49,258.22 327.53,259.62 327.57,260.24 327.61,260.62 327.66,261.43 327.7,262.89 327.74,264.66 327.78,266.28 327.83,267.51 327.87,268.32 327.91,268.77 327.96,268.87 328,268.49 328.04,267.44 328.08,265.7 328.13,263.49 328.17,261.13 328.21,258.8 328.26,256.48 328.3,254.04 328.34,251.38 328.38,248.62 328.43,246.03 328.47,243.84 328.51,242.11 328.55,240.75 328.6,239.66 328.64,238.79 328.68,238.16 328.73,237.75 328.77,237.51 328.81,237.37 328.85,237.35 328.9,237.48 328.94,271.62 328.98,285.05 329.03,270.12 329.07,242 329.11,244.68 329.15,247.89 329.2,251.32 329.24,254.71 329.28,257.96 329.32,261.09 329.37,243.83 329.41,234.54 329.45,244.87 329.5,271.82 329.54,273.25 329.58,274.07 329.62,274.38 329.67,274.26 329.71,273.74 329.75,272.85 329.8,271.68 329.84,270.43 329.88,269.3 329.92,268.4 329.97,267.73 330.01,267.21 330.05,266.72 330.09,266.11 330.14,265.1 330.18,263.41 330.22,261.13 330.27,258.64 330.31,256.34 330.35,254.47 330.39,253.08 330.44,252.1 330.48,251.34 330.52,250.55 330.57,249.46 330.61,247.94 330.65,246.03 330.69,243.9 330.74,241.78 330.78,239.94 330.82,238.73 330.86,238.31 330.91,238.6 330.95,239.48 330.99,240.86 331.04,242.66 331.08,244.7 331.12,246.59 331.16,247.92 331.21,248.66 331.25,249.05 331.29,249.55 331.34,250.63 331.38,252.4 331.42,254.63 331.46,257.02 331.51,259.33 331.55,261.33 331.59,262.64 331.64,263.04 331.68,262.7 331.72,262.02 331.76,261.61 331.81,262.02 331.85,263.42 331.89,265.6 331.93,242.57 331.98,232.24 332.02,243.72 332.06,273.39 332.11,273.15 332.15,272.05 332.19,270.08 332.23,267.36 332.28,264.4 332.32,261.86 332.36,259.96 332.41,258.49 332.45,256.95 332.49,254.77 332.53,251.71 332.58,248.14 332.62,244.6 332.66,241.5 332.7,239.22 332.75,238.03 332.79,237.89 332.83,238.63 332.88,240.22 332.92,242.54 332.96,244.93 333,246.64 333.05,247.55 333.09,248 333.13,248.31 333.18,248.8 333.22,249.75 333.26,251.4 333.3,253.66 333.35,256.08 333.39,258.03 333.43,259.11 333.47,259.3 333.52,258.79 333.56,257.79 333.6,256.42 333.65,255.08 333.69,254.5 333.73,254.77 333.77,255.47 333.82,256.28 333.86,257.11 333.9,257.94 333.95,258.74 333.99,259.45 334.03,260.14 334.07,260.93 334.12,261.92 334.16,263.07 334.2,264.25 334.24,265.4 334.29,266.52 334.33,267.51 334.37,268.1 334.42,268.17 334.46,267.74 334.5,266.84 334.54,265.5 334.59,263.77 334.63,261.72 334.67,259.29 334.72,256.44 334.76,253.32 334.8,250.27 334.84,247.67 334.89,245.63 334.93,244.12 334.97,243.07 335.01,242.46 335.06,242.26 335.1,242.45 335.14,242.96 335.19,243.67 335.23,244.47 335.27,245.29 335.31,246.16 335.36,247.21 335.4,248.57" fill="none" stroke="#0072bd" stroke-width="0.85" stroke-linejoin="round" clip-path="url(#c3)"/>
<path d="M78.7 312.6v2.6M78.7 197.8v-2.6M121.48 312.6v2.6M121.48 197.8v-2.6M164.27 312.6v2.6M164.27 197.8v-2.6M207.05 312.6v2.6M207.05 197.8v-2.6M249.83 312.6v2.6M249.83 197.8v-2.6M292.62 312.6v2.6M292.62 197.8v-2.6M335.4 312.6v2.6M335.4 197.8v-2.6M78.7 312.6h-2.6M335.4 312.6h2.6M78.7 283.9h-2.6M335.4 283.9h2.6M78.7 255.2h-2.6M335.4 255.2h2.6M78.7 226.5h-2.6M335.4 226.5h2.6M78.7 197.8h-2.6M335.4 197.8h2.6" stroke="#7a7a7a" stroke-width="0.8" fill="none"/>
<rect x="78.7" y="197.8" width="256.7" height="114.8" fill="none" stroke="#7a7a7a" stroke-width="0.9"/>
<text x="78.7" y="328.9" font-family='"Liberation Sans", sans-serif' font-size="9.6" font-weight="normal" fill="#404040" text-anchor="middle" >0</text>
<text x="121.48" y="328.9" font-family='"Liberation Sans", sans-serif' font-size="9.6" font-weight="normal" fill="#404040" text-anchor="middle" >0.5</text>
<text x="164.27" y="328.9" font-family='"Liberation Sans", sans-serif' font-size="9.6" font-weight="normal" fill="#404040" text-anchor="middle" >1</text>
<text x="207.05" y="328.9" font-family='"Liberation Sans", sans-serif' font-size="9.6" font-weight="normal" fill="#404040" text-anchor="middle" >1.5</text>
<text x="249.83" y="328.9" font-family='"Liberation Sans", sans-serif' font-size="9.6" font-weight="normal" fill="#404040" text-anchor="middle" >2</text>
<text x="292.62" y="328.9" font-family='"Liberation Sans", sans-serif' font-size="9.6" font-weight="normal" fill="#404040" text-anchor="middle" >2.5</text>
<text x="335.4" y="328.9" font-family='"Liberation Sans", sans-serif' font-size="9.6" font-weight="normal" fill="#404040" text-anchor="middle" >3</text>
<text x="72.5" y="316.4" font-family='"Liberation Sans", sans-serif' font-size="9.6" font-weight="normal" fill="#404040" text-anchor="end" >-1</text>
<text x="72.5" y="287.7" font-family='"Liberation Sans", sans-serif' font-size="9.6" font-weight="normal" fill="#404040" text-anchor="end" >-0.5</text>
<text x="72.5" y="259" font-family='"Liberation Sans", sans-serif' font-size="9.6" font-weight="normal" fill="#404040" text-anchor="end" >0</text>
<text x="72.5" y="230.3" font-family='"Liberation Sans", sans-serif' font-size="9.6" font-weight="normal" fill="#404040" text-anchor="end" >0.5</text>
<text x="72.5" y="201.6" font-family='"Liberation Sans", sans-serif' font-size="9.6" font-weight="normal" fill="#404040" text-anchor="end" >1</text>
<text x="207.05" y="342.8" font-family='"Liberation Sans", sans-serif' font-size="10.7" font-weight="bold" fill="#262626" text-anchor="middle" >Time (s)</text>
<text x="51.5" y="255.2" font-family='"Liberation Sans", sans-serif' font-size="10.6" font-weight="bold" fill="#262626" text-anchor="middle" transform="rotate(-90 51.5 255.2)">Normalized amplitude</text>
</g>
<g>
<rect x="80.4" y="409.3" width="256.7" height="115.1" fill="#fff"/>
<path d="M96.44 409.3V524.4M112.49 409.3V524.4M128.53 409.3V524.4M144.58 409.3V524.4M160.62 409.3V524.4M176.66 409.3V524.4M192.71 409.3V524.4M208.75 409.3V524.4M224.79 409.3V524.4M240.84 409.3V524.4M256.88 409.3V524.4M272.93 409.3V524.4M288.97 409.3V524.4M305.01 409.3V524.4M321.06 409.3V524.4M80.4 415.06H337.1M80.4 420.81H337.1M80.4 426.56H337.1M80.4 432.32H337.1M80.4 438.07H337.1M80.4 443.83H337.1M80.4 449.58H337.1M80.4 455.34H337.1M80.4 461.09H337.1M80.4 466.85H337.1M80.4 472.61H337.1M80.4 478.36H337.1M80.4 484.12H337.1M80.4 489.87H337.1M80.4 495.62H337.1M80.4 501.38H337.1M80.4 507.13H337.1M80.4 512.89H337.1M80.4 518.64H337.1" stroke="#f3f3f3" stroke-width="0.6" fill="none"/>
<path d="M80.4 409.3V524.4M144.58 409.3V524.4M208.75 409.3V524.4M272.93 409.3V524.4M337.1 409.3V524.4M80.4 495.62H337.1M80.4 466.85H337.1M80.4 438.07H337.1" stroke="#e6e6e6" stroke-width="0.7" fill="none"/>
<clipPath id="c5"><rect x="80.4" y="408.8" width="256.7" height="116.1"/></clipPath>
<polyline points="80.4,466.9 80.53,467.08 80.66,467.39 80.79,467.73 80.91,468.08 81.04,468.43 81.17,468.77 81.3,469.12 81.43,469.47 81.56,469.64 81.68,469.1 81.81,467.69 81.94,465.92 82.07,464.15 82.2,462.38 82.33,460.61 82.45,458.88 82.58,457.85 82.71,458.13 82.84,459.05 82.97,459.97 83.1,461.23 83.22,462.29 83.35,463.86 83.48,465.95 83.61,468.01 83.74,469.1 83.87,469.21 83.99,469.02 84.12,469.32 84.25,469.88 84.38,470.43 84.51,470.95 84.64,471.68 84.76,472.94 84.89,475.64 85.02,478.55 85.15,480.13 85.28,481.76 85.41,483.53 85.53,485.18 85.66,486.24 85.79,486.18 85.92,485.27 86.05,483.99 86.18,482.11 86.3,478.7 86.43,475.74 86.56,474.86 86.69,475.41 86.82,476.66 86.95,478.88 87.07,482.5 87.2,484.39 87.33,484.84 87.46,484.26 87.59,483.55 87.72,483.24 87.84,483.15 87.97,482.5 88.1,481.12 88.23,479.62 88.36,478.59 88.49,477.97 88.61,477.46 88.74,476.84 88.87,476.25 89,475.84 89.13,475.26 89.26,473.89 89.38,471.89 89.51,470.51 89.64,470.07 89.77,470.65 89.9,472.72 90.03,474.33 90.15,474.48 90.28,473.62 90.41,472.69 90.54,472.8 90.67,473.74 90.8,474.18 90.92,473.25 91.05,471.28 91.18,469.15 91.31,467.86 91.44,467.68 91.57,467.84 91.69,467.25 91.82,466.1 91.95,464.96 92.08,464.62 92.21,465.53 92.34,467.07 92.46,468.25 92.59,468.64 92.72,467.88 92.85,467.19 92.98,467.8 93.11,469.16 93.24,469.88 93.36,468.8 93.49,466.28 93.62,464.36 93.75,463.53 93.88,464.07 94.01,465.73 94.13,465.64 94.26,464.91 94.39,463.94 94.52,463.46 94.65,464.44 94.78,466.46 94.9,468.15 95.03,468.83 95.16,468.27 95.29,466.97 95.42,466.29 95.55,466.25 95.67,466.49 95.8,466.96 95.93,467.79 96.06,469.08 96.19,470.47 96.32,471.6 96.44,472.45 96.57,473.11 96.7,474.15 96.83,475.9 96.96,478.2 97.09,479.77 97.21,479.55 97.34,478.09 97.47,476.22 97.6,474.69 97.73,473.89 97.86,473.75 97.98,474.09 98.11,474.81 98.24,475.56 98.37,475.9 98.5,475.77 98.63,475.7 98.75,476.48 98.88,478.4 99.01,480.49 99.14,481.39 99.27,480.95 99.4,479.09 99.52,476.27 99.65,474.61 99.78,474.4 99.91,474.56 100.04,473.63 100.17,471.19 100.29,468.64 100.42,467.68 100.55,467.82 100.68,469.05 100.81,470.13 100.94,469.7 101.06,468.46 101.19,468.01 101.32,469.15 101.45,471.02 101.58,471.51 101.71,470.99 101.83,468.51 101.96,465.78 102.09,464.79 102.22,464.61 102.35,464.88 102.48,464.09 102.6,462.33 102.73,461.18 102.86,461.17 102.99,463.31 103.12,468.21 103.25,474.6 103.37,479.49 103.5,483.21 103.63,484.67 103.76,483.28 103.89,481.22 104.02,479.97 104.14,479.17 104.27,478.04 104.4,476.57 104.53,475.08 104.66,473.24 104.79,471.06 104.91,469.66 105.04,469.53 105.17,470.14 105.3,470.07 105.43,469.37 105.56,468.55 105.68,467.58 105.81,465.14 105.94,462.67 106.07,461.95 106.2,461.87 106.33,462.35 106.46,462.76 106.58,462.23 106.71,461.31 106.84,460.73 106.97,460.56 107.1,460.52 107.23,459.89 107.35,458.79 107.48,458.03 107.61,457.81 107.74,459.11 107.87,461.19 108,461.3 108.12,460.5 108.25,458.33 108.38,456.61 108.51,456.85 108.64,457.93 108.77,459.3 108.89,460.18 109.02,460.55 109.15,461.09 109.28,462.33 109.41,464.25 109.54,465.7 109.66,466.09 109.79,465.87 109.92,465.38 110.05,465.12 110.18,465.4 110.31,465.74 110.43,465.75 110.56,465.19 110.69,463.39 110.82,461.56 110.95,461.4 111.08,462.33 111.2,464.02 111.33,465.78 111.46,466.55 111.59,466.35 111.72,466.23 111.85,466.76 111.97,467.92 112.1,469.95 112.23,471.94 112.36,472.78 112.49,472.69 112.62,471.92 112.74,471.54 112.87,472.25 113,473.71 113.13,474.64 113.26,474.11 113.39,472.08 113.51,469.86 113.64,468.67 113.77,468.64 113.9,468.94 114.03,468.35 114.16,466.87 114.28,464.78 114.41,463.73 114.54,464.89 114.67,467.6 114.8,469.98 114.93,471.51 115.05,472.6 115.18,472.9 115.31,471.87 115.44,471.35 115.57,471.64 115.7,472.51 115.82,473.78 115.95,474.41 116.08,474.22 116.21,473.36 116.34,471.8 116.47,469.92 116.59,468.48 116.72,467.77 116.85,467.86 116.98,468.8 117.11,469.91 117.24,470.42 117.36,470.4 117.49,470.16 117.62,469.79 117.75,468.91 117.88,466.82 118.01,464.94 118.13,464.49 118.26,465.11 118.39,465.94 118.52,464.66 118.65,461.12 118.78,457.88 118.91,458.31 119.03,463.4 119.16,472.21 119.29,478 119.42,476.77 119.55,471.35 119.68,467.19 119.8,461.25 119.93,455.63 120.06,456.53 120.19,468.18 120.32,476.32 120.45,479.11 120.57,475.59 120.7,465.14 120.83,455.59 120.96,451.58 121.09,451.07 121.22,454.01 121.34,459.71 121.47,464.01 121.6,467.41 121.73,470.9 121.86,470.6 121.99,467.72 122.11,465.37 122.24,467.52 122.37,471.73 122.5,478.53 122.63,477.53 122.76,470.78 122.88,463.78 123.01,456.34 123.14,459.13 123.27,449.64 123.4,447.92 123.53,475.48 123.65,497.06 123.78,510.01 123.91,494.91 124.04,462.82 124.17,452.75 124.3,446.71 124.42,453.76 124.55,463.83 124.68,473.53 124.81,474.87 124.94,470.39 125.07,462.8 125.19,459.2 125.32,457.43 125.45,458.97 125.58,468.92 125.71,479.72 125.84,482.92 125.96,480.97 126.09,477.35 126.22,471.75 126.35,468.63 126.48,471.13 126.61,473.17 126.73,472.7 126.86,466.06 126.99,455.11 127.12,448.59 127.25,447.87 127.38,451.19 127.5,455.35 127.63,456.11 127.76,453.07 127.89,450.23 128.02,450.87 128.15,455.74 128.27,464.03 128.4,471.61 128.53,475.64 128.66,479 128.79,482.15 128.92,485.53 129.04,485.64 129.17,479.63 129.3,469.5 129.43,457.87 129.56,435.43 129.69,421.96 129.81,437.67 129.94,460.12 130.07,478.36 130.2,507.13 130.33,524.4 130.46,504.26 130.58,475.48 130.71,469.07 130.84,449.21 130.97,432.81 131.1,441.7 131.23,459.18 131.35,488.14 131.48,494.1 131.61,491.46 131.74,485.3 131.87,479 132,473.05 132.13,465.83 132.25,461.97 132.38,462.3 132.51,466.74 132.64,475.87 132.77,480.58 132.9,474.38 133.02,453.64 133.15,431.24 133.28,424.76 133.41,428.48 133.54,475.14 133.67,495.86 133.79,508.29 133.92,493.78 134.05,473.07 134.18,490.06 134.31,457.07 134.44,432.61 134.56,417.93 134.69,435.05 134.82,459.51 134.95,499.79 135.08,508.2 135.21,497.64 135.33,459.96 135.46,429.45 135.59,418.89 135.72,421.13 135.85,442.18 135.98,485.58 136.1,503 136.23,500.5 136.36,482.63 136.49,454.14 136.62,444.1 136.75,451.8 136.87,471.87 137,487.44 137.13,488.8 137.26,482.41 137.39,469.1 137.52,459.77 137.64,459.54 137.77,467 137.9,475.83 138.03,474.09 138.16,464.67 138.29,456.96 138.41,458.49 138.54,467.99 138.67,483.58 138.8,492.64 138.93,490.18 139.06,473.47 139.18,452.51 139.31,444.6 139.44,448.55 139.57,470.22 139.7,490.42 139.83,492.51 139.95,483.6 140.08,463.85 140.21,442.94 140.34,437.48 140.47,443.21 140.6,463.82 140.72,482.86 140.85,484.64 140.98,473.31 141.11,456.78 141.24,449.59 141.37,454.14 141.49,466.16 141.62,474.83 141.75,473.38 141.88,463.72 142.01,458.18 142.14,464.27 142.26,476.51 142.39,486.82 142.52,490.78 142.65,477.12 142.78,452.66 142.91,440.43 143.03,437.82 143.16,451.73 143.29,458.79 143.42,438.65 143.55,426.56 143.68,440.66 143.8,460.81 143.93,432.75 144.06,474.45 144.19,493.44 144.32,504.83 144.45,491.54 144.58,472.55 144.7,468.29 144.83,456.93 144.96,456.99 145.09,464.75 145.22,477.82 145.35,481.72 145.47,479.53 145.6,474.28 145.73,465.57 145.86,459.71 145.99,456.85 146.12,455.99 146.24,460.28 146.37,465.98 146.5,472.07 146.63,474.78 146.76,473.1 146.89,467.69 147.01,461.37 147.14,459.66 147.27,459.32 147.4,462.32 147.53,470.06 147.66,476.89 147.78,481.02 147.91,481.04 148.04,476.46 148.17,467.68 148.3,459.6 148.43,457.13 148.55,458.58 148.68,464.59 148.81,476.75 148.94,484.61 149.07,483.65 149.2,479.71 149.32,472.09 149.45,463.25 149.58,459.9 149.71,462.05 149.84,470.26 149.97,478.05 150.09,479.14 150.22,475.28 150.35,463.77 150.48,450.17 150.61,445.43 150.74,447 150.86,454.61 150.99,468.09 151.12,478.07 151.25,480.96 151.38,478.69 151.51,472.75 151.63,465.6 151.76,459.47 151.89,455.02 152.02,453.11 152.15,454.49 152.28,458.75 152.4,465.28 152.53,470.7 152.66,471.77 152.79,467.75 152.92,458.47 153.05,452.94 153.17,455.9 153.3,462.72 153.43,475.23 153.56,485.48 153.69,487.59 153.82,484.78 153.94,476.16 154.07,466.67 154.2,462.7 154.33,462.62 154.46,463.8 154.59,463.89 154.71,461.31 154.84,457.49 154.97,456.41 155.1,460.94 155.23,470.42 155.36,480.62 155.48,484.23 155.61,477.56 155.74,462.27 155.87,449.97 156,448.03 156.13,455.94 156.25,471.05 156.38,480.72 156.51,480.34 156.64,471.2 156.77,458.68 156.9,454.23 157.02,457.3 157.15,462.02 157.28,449.93 157.41,442.68 157.54,451.14 157.67,463.22 157.8,474.4 157.92,465.21 158.05,459.84 158.18,458.02 158.31,460.37 158.44,464.73 158.57,466.69 158.69,465.57 158.82,462.69 158.95,461.45 159.08,462.31 159.21,463.14 159.34,463.64 159.46,464.52 159.59,465.44 159.72,465.83 159.85,464.47 159.98,459.91 160.11,455.02 160.23,454.34 160.36,455.73 160.49,457.4 160.62,461.99 160.75,471.93 160.88,477.06 161,479.08 161.13,477.4 161.26,471.31 161.39,464.65 161.52,462.06 161.65,464.79 161.77,469.78 161.9,478.59 162.03,485.28 162.16,484.63 162.29,476.88 162.42,461.86 162.54,452.06 162.67,450.64 162.8,453.41 162.93,466.25 163.06,475.25 163.19,476.63 163.31,474.93 163.44,462.62 163.57,457.03 163.7,459 163.83,463.39 163.96,477.83 164.08,487.05 164.21,486.85 164.34,478.67 164.47,457.57 164.6,446.89 164.73,446.23 164.85,454.5 164.98,468.62 165.11,474.07 165.24,475.37 165.37,470.32 165.5,459.75 165.62,459.4 165.75,461.87 165.88,467.28 166.01,477.67 166.14,481.96 166.27,479.16 166.39,475.35 166.52,469.58 166.65,464.13 166.78,461.39 166.91,459.11 167.04,459.41 167.16,467.26 167.29,463.14 167.42,473.05 167.55,480.79 167.68,476.73 167.81,467.8 167.93,452.14 168.06,463.4 168.19,454.76 168.32,449.58 168.45,455.63 168.58,464.26 168.7,474.69 168.83,472.75 168.96,470.24 169.09,468.53 169.22,467.36 169.35,468.01 169.47,470.82 169.6,474.2 169.73,476.09 169.86,475.72 169.99,471.9 170.12,465.36 170.25,459.3 170.37,454.88 170.5,453.11 170.63,454 170.76,457.93 170.89,464.13 171.02,468.99 171.14,472.31 171.27,473.06 171.4,470.51 171.53,468.59 171.66,467.92 171.79,467.78 171.91,467.39 172.04,466.58 172.17,467.03 172.3,468.96 172.43,470.13 172.56,470.25 172.68,469.64 172.81,465.93 172.94,460.96 173.07,459.33 173.2,458.5 173.33,458.58 173.45,460.84 173.58,464.6 173.71,469.05 173.84,473.44 173.97,477.15 174.1,478.72 174.22,477.24 174.35,474.48 174.48,470.46 174.61,465 174.74,464.54 174.87,469.15 174.99,475.21 175.12,477.03 175.25,473.24 175.38,464.75 175.51,460.07 175.64,460.86 175.76,467.11 175.89,476.28 176.02,480.32 176.15,480.66 176.28,478.96 176.41,475.48 176.53,473.33 176.66,471.79 176.79,470.06 176.92,471.23 177.05,475.46 177.18,477.83 177.3,476.46 177.43,467.53 177.56,458.8 177.69,457.3 177.82,458.38 177.95,465.03 178.07,479.5 178.2,483.6 178.33,482.26 178.46,473.31 178.59,464.13 178.72,463.13 178.84,467.86 178.97,473.63 179.1,474.82 179.23,469.19 179.36,464.65 179.49,461.73 179.61,460.66 179.74,462.97 179.87,472.71 180,481.6 180.13,483.83 180.26,482.84 180.38,478.23 180.51,469.82 180.64,463.86 180.77,464.89 180.9,471.24 181.03,478.01 181.15,479.29 181.28,474.49 181.41,461.9 181.54,454.6 181.67,453.21 181.8,454.96 181.92,462.04 182.05,470.75 182.18,472.38 182.31,469.47 182.44,464.73 182.57,459.28 182.69,457.72 182.82,462.69 182.95,470.83 183.08,474.08 183.21,474.16 183.34,472.94 183.47,469.63 183.59,464.62 183.72,463.63 183.85,466.17 183.98,468.84 184.11,468.1 184.24,463.4 184.36,457.93 184.49,455.84 184.62,456.81 184.75,459.29 184.88,462.54 185.01,466.53 185.13,470.15 185.26,472.19 185.39,472.52 185.52,471.39 185.65,469.29 185.78,467.16 185.9,466.07 186.03,465.69 186.16,466.3 186.29,468.49 186.42,470.47 186.55,471.05 186.67,470.95 186.8,471.36 186.93,472.32 187.06,472.49 187.19,471.66 187.32,469.59 187.44,466.69 187.57,465.17 187.7,465.79 187.83,467.63 187.96,469.6 188.09,471.1 188.21,472.2 188.34,473.03 188.47,473.36 188.6,472.83 188.73,471.24 188.86,468.93 188.98,466.76 189.11,465.31 189.24,464.53 189.37,463.94 189.5,463.54 189.63,463.83 189.75,465.84 189.88,468.19 190.01,468.94 190.14,467.83 190.27,464.45 190.4,462.14 190.52,462.57 190.65,466.81 190.78,470.57 190.91,470.73 191.04,469.81 191.17,467.66 191.29,468.06 191.42,471.28 191.55,474.43 191.68,473.44 191.81,466.38 191.94,460.18 192.06,459.58 192.19,463.62 192.32,472.33 192.45,477.34 192.58,475.15 192.71,469.3 192.83,466.07 192.96,465.81 193.09,470.95 193.22,477.72 193.35,480.08 193.48,479.61 193.6,474.91 193.73,468.51 193.86,465.73 193.99,465.2 194.12,466.3 194.25,467.87 194.37,467.75 194.5,466.22 194.63,465.47 194.76,466.67 194.89,468.93 195.02,470.29 195.14,469.4 195.27,466.86 195.4,464.55 195.53,463.6 195.66,463.52 195.79,463.27 195.92,462.8 196.04,462.97 196.17,465.52 196.3,470.01 196.43,472.54 196.56,471.61 196.69,464.69 196.81,460.18 196.94,458.52 197.07,460.68 197.2,469.97 197.33,473.23 197.46,471.33 197.58,463.05 197.71,460.75 197.84,460.63 197.97,467.41 198.1,471.55 198.23,470.53 198.35,464.17 198.48,457.34 198.61,457.97 198.74,459.6 198.87,468.45 199,473.16 199.12,473.72 199.25,474.22 199.38,473.87 199.51,474.35 199.64,478.04 199.77,481.26 199.89,480.54 200.02,478.84 200.15,477.98 200.28,476.35 200.41,470.18 200.54,465.32 200.66,463.22 200.79,461.06 200.92,458.25 201.05,458.75 201.18,463.88 201.31,470.58 201.43,475.54 201.56,476.94 201.69,475.73 201.82,473.13 201.95,470.57 202.08,469.8 202.2,468.63 202.33,466.44 202.46,464.95 202.59,463.47 202.72,462.12 202.85,460.48 202.97,458.25 203.1,458.17 203.23,460.79 203.36,463.73 203.49,464.37 203.62,459.85 203.74,454.7 203.87,451.97 204,448.92 204.13,447.01 204.26,447.81 204.39,449.6 204.51,450.41 204.64,452.28 204.77,456.1 204.9,462.96 205.03,466.43 205.16,465.58 205.28,464.24 205.41,463.3 205.54,462.11 205.67,463.37 205.8,465.94 205.93,467.32 206.05,467.25 206.18,464.94 206.31,461.58 206.44,461.04 206.57,462.3 206.7,463.84 206.82,465.08 206.95,464.31 207.08,463.5 207.21,464.55 207.34,466.21 207.47,467.24 207.59,467.04 207.72,464.38 207.85,458.63 207.98,455.09 208.11,455.66 208.24,459.55 208.36,462.28 208.49,461.45 208.62,457.04 208.75,450.69 208.88,447.1 209.01,445.89 209.14,446.12 209.26,447.63 209.39,450.42 209.52,454.19 209.65,457.39 209.78,458.72 209.91,459.24 210.03,460.61 210.16,463.51 210.29,466.77 210.42,466.7 210.55,461.99 210.68,454.74 210.8,450.38 210.93,448.51 211.06,448.98 211.19,452.98 211.32,456.67 211.45,457.08 211.57,455.11 211.7,453.32 211.83,453.97 211.96,456.97 212.09,459.89 212.22,460.44 212.34,457.88 212.47,453.71 212.6,451.74 212.73,452.24 212.86,455.04 212.99,459.59 213.11,463.13 213.24,464.96 213.37,466.08 213.5,466.86 213.63,466.75 213.76,464.55 213.88,460.1 214.01,457.28 214.14,458.02 214.27,462.55 214.4,467.52 214.53,468.76 214.65,466.27 214.78,460.95 214.91,457.87 215.04,457.88 215.17,459.77 215.3,461.75 215.42,462.12 215.55,461.19 215.68,460.11 215.81,459.43 215.94,459.26 216.07,460.17 216.19,463.52 216.32,469.14 216.45,472.65 216.58,473.71 216.71,473.55 216.84,471.51 216.96,468.14 217.09,467.5 217.22,469.71 217.35,471.71 217.48,471.99 217.61,471.24 217.73,471.4 217.86,473.25 217.99,475.06 218.12,475.47 218.25,474.17 218.38,471.87 218.5,470.69 218.63,470.65 218.76,469.29 218.89,465.36 219.02,462.33 219.15,461.69 219.27,462.92 219.4,468.98 219.53,476.22 219.66,477.77 219.79,475.59 219.92,469.99 220.04,466.55 220.17,466.75 220.3,468.8 220.43,470.11 220.56,469.45 220.69,468.48 220.81,469.27 220.94,472.47 221.07,476.25 221.2,478.17 221.33,478.3 221.46,477.58 221.59,477.32 221.71,478.28 221.84,479.81 221.97,480.86 222.1,480.87 222.23,479.2 222.36,474.93 222.48,470.02 222.61,467.62 222.74,467.09 222.87,467.54 223,469.08 223.13,471.99 223.25,474.96 223.38,476.2 223.51,475.41 223.64,473.27 223.77,471.03 223.9,469.75 224.02,469.57 224.15,470.68 224.28,474.15 224.41,479.46 224.54,482.44 224.67,482.06 224.79,478.87 224.92,475.51 225.05,474.4 225.18,474.87 225.31,475.36 225.44,474.84 225.56,474.06 225.69,474.31 225.82,476.5 225.95,481 226.08,484.98 226.21,486.35 226.33,485.88 226.46,485.01 226.59,485.26 226.72,486.61 226.85,487.68 226.98,487.7 227.1,486.68 227.23,485.07 227.36,483.79 227.49,483.31 227.62,483.15 227.75,482.86 227.87,482.63 228,482.88 228.13,483.24 228.26,482.57 228.39,479.34 228.52,473.54 228.64,469.96 228.77,469.29 228.9,470.17 229.03,473.58 229.16,479.27 229.29,482.47 229.41,482.77 229.54,481.88 229.67,481.22 229.8,480.81 229.93,479.36 230.06,476.43 230.18,473.86 230.31,472.93 230.44,473.15 230.57,474.33 230.7,476.58 230.83,479.2 230.95,481.28 231.08,482.8 231.21,484.03 231.34,484.85 231.47,485.01 231.6,484.2 231.72,481.81 231.85,477.28 231.98,472.66 232.11,470.49 232.24,470.93 232.37,474.89 232.49,480.22 232.62,482.1 232.75,481.06 232.88,477.51 233.01,475.14 233.14,477.76 233.26,482.52 233.39,484.35 233.52,484.22 233.65,481.97 233.78,477.67 233.91,476.66 234.03,479.66 234.16,481.94 234.29,481.58 234.42,477.72 234.55,471.02 234.68,467.25 234.81,465.98 234.93,465.66 235.06,465.59 235.19,465.34 235.32,465.41 235.45,467.03 235.58,470.51 235.7,473.1 235.83,473.26 235.96,471.26 236.09,466.31 236.22,460.74 236.35,459.02 236.47,462.07 236.6,467.58 236.73,469.77 236.86,469.11 236.99,463.99 237.12,455.78 237.24,453.2 237.37,453.63 237.5,457.13 237.63,461.08 237.76,459.26 237.89,453.6 238.01,450.81 238.14,450.15 238.27,451.64 238.4,456.09 238.53,456.38 238.66,450.78 238.78,447.03 238.91,446.04 239.04,447.32 239.17,455.04 239.3,459.8 239.43,459.09 239.55,455.07 239.68,451.35 239.81,453.01 239.94,457.37 240.07,459.26 240.2,459.1 240.32,456.48 240.45,452.75 240.58,452.86 240.71,456.16 240.84,458 240.97,456.07 241.09,449.81 241.22,444.87 241.35,443.74 241.48,445.48 241.61,450.23 241.74,453.8 241.86,454.75 241.99,455.04 242.12,456.57 242.25,459.33 242.38,461.64 242.51,462.72 242.63,462.22 242.76,460.1 242.89,458.14 243.02,457.5 243.15,457.55 243.28,457.79 243.4,458.56 243.53,460.37 243.66,462.93 243.79,464.65 243.92,464.43 244.05,463.05 244.17,462.33 244.3,463.05 244.43,465.01 244.56,467.6 244.69,470.19 244.82,472.38 244.94,473.69 245.07,473.73 245.2,472.67 245.33,471.65 245.46,471.88 245.59,472.9 245.71,472.73 245.84,469.83 245.97,465.66 246.1,463.93 246.23,465.68 246.36,471.92 246.48,476.78 246.61,477.6 246.74,474.94 246.87,468.55 247,465.39 247.13,466.14 247.26,469.61 247.38,472.22 247.51,470.32 247.64,465.64 247.77,463.17 247.9,462.88 248.03,465.26 248.15,472.61 248.28,476.61 248.41,476.6 248.54,475.11 248.67,472.07 248.8,468.44 248.92,466.38 249.05,465.52 249.18,464.1 249.31,461.25 249.44,458.06 249.57,456.16 249.69,455.73 249.82,455.74 249.95,454.57 250.08,452.17 250.21,450.4 250.34,450.05 250.46,451.45 250.59,455.87 250.72,460.95 250.85,462.69 250.98,461.33 251.11,457.96 251.23,455.44 251.36,455.69 251.49,458.98 251.62,463.25 251.75,465.24 251.88,464.6 252,460.84 252.13,456.24 252.26,454.98 252.39,456.88 252.52,460.49 252.65,462.32 252.77,460.46 252.9,456.98 253.03,455.49 253.16,456.02 253.29,459.14 253.42,466.83 253.54,472.81 253.67,474.91 253.8,475.82 253.93,476.32 254.06,476.83 254.19,477.73 254.31,478.75 254.44,479.44 254.57,479.36 254.7,477.92 254.83,476.12 254.96,476.44 255.08,478.86 255.21,481.26 255.34,482.42 255.47,482.16 255.6,480.18 255.73,476.82 255.85,473.92 255.98,472.67 256.11,472.84 256.24,474.13 256.37,476.14 256.5,477.73 256.62,477.99 256.75,477.54 256.88,477.79 257.01,479.65 257.14,482.96 257.27,485.47 257.39,484.76 257.52,480.69 257.65,477.57 257.78,477.03 257.91,477.85 258.04,481.55 258.16,489.34 258.29,492.63 258.42,489.63 258.55,481.89 258.68,479.33 258.81,479.42 258.93,481.35 259.06,489.42 259.19,495.96 259.32,497.21 259.45,496.44 259.58,494.67 259.7,493.59 259.96,493.59 260.09,492.87 260.22,491.68 260.35,490.67 260.48,490.25 260.6,490.57 260.73,491.83 260.86,493.78 260.99,495.26 261.12,495.15 261.25,492.86 261.37,488.66 261.5,485.13 261.63,483.83 261.76,484.26 261.89,484.94 262.02,484.19 262.14,481.8 262.27,478.87 262.4,476.42 262.53,474.78 262.66,474.19 262.79,475.49 262.91,479.18 263.04,481.99 263.17,481.58 263.3,477.77 263.43,471.65 263.56,468.57 263.68,470.42 263.81,475.44 263.94,477.2 264.07,476.04 264.2,472.57 264.33,468.64 264.45,468.69 264.58,471.58 264.71,472.93 264.84,471.53 264.97,465.37 265.1,458.74 265.22,456.89 265.35,457.65 265.48,462.15 265.61,468.08 265.74,469.85 265.87,468.07 265.99,462.62 266.12,456.71 266.25,453.9 266.38,452.97 266.51,453.03 266.64,453.43 266.76,453.15 266.89,451.94 267.02,450.51 267.15,449.43 267.28,448.93 267.41,449.32 267.53,451.2 267.66,455.16 267.79,459.66 267.92,462.25 268.05,462.99 268.18,463.57 268.3,466.02 268.43,469.35 268.56,471.23 268.69,472.17 268.82,472.49 268.95,470.17 269.07,463.3 269.2,460.43 269.33,461.94 269.46,466.07 269.59,469.69 269.72,470.66 269.84,470.19 269.97,470.91 270.1,474.12 270.23,477.46 270.36,478.76 270.49,477.77 270.61,472.6 270.74,466.53 270.87,464.77 271,465.91 271.13,469.9 271.26,473.17 271.38,471.84 271.51,465.7 271.64,460.39 271.77,458.56 271.9,458.89 272.03,465.89 272.15,472.71 272.28,472.89 272.41,470.61 272.54,460.59 272.67,453.22 272.8,451.71 272.93,452 273.05,454.55 273.18,455.54 273.31,452.71 273.44,450.09 273.57,449.41 273.7,450.34 273.82,452.81 273.95,455.63 274.08,458.34 274.21,461.61 274.34,464.24 274.47,464.83 274.59,461.94 274.72,453.69 274.85,449.81 274.98,449.67 275.11,452.16 275.24,461.82 275.36,468.57 275.49,470.54 275.62,470.59 275.75,468.6 275.88,468.03 276.01,471.03 276.13,474.76 276.26,476.53 276.39,475.33 276.52,470.87 276.65,467.92 276.78,467.9 276.9,469.37 277.03,471.77 277.16,474.56 277.29,477.61 277.42,481.77 277.55,486.63 277.67,489.91 277.8,491.47 277.93,491.81 278.06,489.76 278.19,485.08 278.32,482.79 278.44,484.47 278.57,488.13 278.7,489.48 278.83,487.32 278.96,480.86 279.09,475.21 279.21,473.46 279.34,474.32 279.47,478.15 279.6,481.08 279.73,480.08 279.86,476.32 279.98,472.98 280.11,471.9 280.24,472.66 280.37,473.93 280.5,474.26 280.63,473.43 280.75,471.92 280.88,470.22 281.01,468.72 281.14,468 281.27,468.53 281.4,469.74 281.52,469.96 281.65,467.85 281.78,464.47 281.91,462.86 282.04,464.47 282.17,470.33 282.29,475.15 282.42,476.19 282.55,474.94 282.68,470.47 282.81,465.37 282.94,463.22 283.06,462.83 283.19,462.31 283.32,460.99 283.45,460.09 283.58,461.19 283.71,464.81 283.83,467.95 283.96,468.73 284.09,468.34 284.22,468.12 284.35,468.54 284.48,468.78 284.6,467.87 284.73,463.05 284.86,454.71 284.99,451.9 285.12,452.53 285.25,456.93 285.37,461.88 285.5,462.34 285.63,459.88 285.76,458.51 285.89,460.82 286.02,464.2 286.15,465.19 286.27,464.04 286.4,460.66 286.53,457.06 286.66,456.26 286.79,457.25 286.92,457.11 287.04,454.3 287.17,450.33 287.3,448 287.43,447.36 287.56,447.49 287.69,447.45 287.81,447.13 287.94,447.77 288.07,451.09 288.2,455.93 288.33,458.02 288.46,457.12 288.58,452.02 288.71,448.38 288.84,449.54 288.97,452.52 289.1,458.11 289.23,466.61 289.35,470.65 289.48,469.9 289.61,466.86 289.74,463.08 289.87,459.5 290,456.24 290.12,453.31 290.25,451.58 290.38,452.23 290.51,455.06 290.64,459.16 290.77,462.86 290.89,464.92 291.02,465.75 291.15,466.25 291.28,466.39 291.41,465.35 291.54,462.81 291.66,460.22 291.79,459.78 291.92,463.66 292.05,469.47 292.18,472.42 292.31,472.15 292.43,466.89 292.56,463.69 292.69,464.97 292.82,469.98 292.95,479.22 293.08,484.14 293.2,485.12 293.33,483.06 293.46,477.23 293.59,473.85 293.72,474.67 293.85,479.44 293.97,485.66 294.1,488.39 294.23,487.86 294.36,483.38 294.49,478.21 294.62,476.59 294.74,477.47 294.87,481.04 295,486.09 295.13,488.77 295.26,488.35 295.39,484.9 295.51,480.69 295.64,479.25 295.77,481.39 295.9,487.77 296.03,492.31 296.16,493.15 296.28,491.86 296.41,487.21 296.54,482.15 296.67,481.07 296.8,483.22 296.93,486.23 297.05,487.58 297.18,487.05 297.31,485.15 297.44,482.4 297.57,479.47 297.7,477.29 297.82,476.52 297.95,477.81 298.08,482.24 298.21,487.34 298.34,489.37 298.47,488.98 298.6,485.14 298.72,477.82 298.85,474.16 298.98,473.51 299.11,474.4 299.24,476.91 299.37,479.19 299.49,478.98 299.62,476.64 299.75,473.84 299.88,471.78 300.01,470.67 300.14,470.79 300.26,474.01 300.39,480.8 300.52,483.53 300.65,483.18 300.78,481.04 300.91,474.8 301.03,469.55 301.16,471.29 301.29,477.15 301.42,479.05 301.55,478.51 301.68,475.32 301.8,467.58 301.93,463.44 302.06,463.95 302.19,466.85 302.32,468.03 302.45,465.28 302.57,461.31 302.7,459.65 302.83,460.34 302.96,464.82 303.09,471.09 303.22,473.06 303.34,471.23 303.47,465.54 303.6,461.34 303.73,461.77 303.86,466.61 303.99,471.04 304.11,471.24 304.24,467.08 304.37,461.31 304.5,459.39 304.63,460.82 304.76,464.32 304.88,466.22 305.01,465.36 305.14,464.3 305.27,465.8 305.4,469.06 305.53,470.39 305.65,467.58 305.78,460.04 305.91,456.23 306.04,455.67 306.17,456.46 306.3,459.66 306.42,463.58 306.55,464.59 306.68,464.26 306.81,465.35 306.94,467.96 307.07,469.39 307.19,467.52 307.32,463.1 307.45,460.4 307.58,460.19 307.71,461.66 307.84,463.47 307.96,463.99 308.09,464.4 308.22,467.5 308.35,472.61 308.48,474.63 308.61,474.48 308.73,472.83 308.86,466.41 308.99,459.17 309.12,457.45 309.25,459.2 309.38,462.57 309.5,463.41 309.63,460.84 309.76,457.6 309.89,456.89 310.02,460.17 310.15,465.67 310.27,467.89 310.4,467.86 310.53,466.99 310.66,465.18 310.79,461.84 310.92,457.81 311.04,454.91 311.17,453.34 311.3,452.21 311.43,450.6 311.56,448.43 311.69,446.71 311.82,446.24 311.94,447.55 312.07,451.67 312.2,457.31 312.33,460.67 312.46,461.34 312.59,460.46 312.71,460.24 312.84,462.31 312.97,465.96 313.1,469.03 313.23,470.54 313.36,470.34 313.48,468.28 313.61,465.83 313.74,464.98 313.87,465.82 314,467.47 314.13,468.52 314.25,468.07 314.38,466.83 314.51,466.43 314.64,467.99 314.77,472.29 314.9,477.15 315.02,479.46 315.15,479.72 315.28,478.72 315.41,477.6 315.54,477.55 315.67,477.82 315.79,476.66 315.92,473.08 316.05,469.1 316.18,467.46 316.31,468.04 316.44,470.23 316.56,472.25 316.69,472.34 316.82,470.79 316.95,469.21 317.08,468.79 317.21,469.9 317.33,472.43 317.46,475.24 317.59,476.96 317.72,477.24 317.85,476.06 317.98,473.09 318.1,468.78 318.23,465.36 318.36,464.01 318.49,464.68 318.62,467.64 318.75,470.66 318.87,470.32 319,466.19 319.13,461.86 319.26,460.18 319.39,460.44 319.52,462.49 319.64,464.59 319.77,464.3 319.9,462.67 320.03,462.45 320.16,465.45 320.29,469.74 320.41,471.52 320.54,471.58 320.67,470.76 320.8,468.57 320.93,465.51 321.06,464.77 321.18,466.74 321.31,468.26 321.44,466.36 321.57,458.5 321.7,454.37 321.83,454.12 321.95,454.46 322.08,456.15 322.21,465.97 322.34,472.73 322.47,473.7 322.6,472.53 322.72,469.11 322.85,467.43 322.98,469.95 323.11,473.95 323.24,476.28 323.37,477.06 323.49,476.48 323.62,473.87 323.75,469.79 323.88,466.59 324.01,465.09 324.14,464.77 324.27,465.13 324.39,466.07 324.52,468.25 324.65,472.65 324.78,477.26 324.91,479.12 325.04,478.29 325.16,475.36 325.29,472.32 325.42,472 325.55,474.96 325.68,477.82 325.81,478.27 325.93,476.22 326.06,470 326.19,463.44 326.32,461.94 326.45,462.53 326.58,464.88 326.7,468.23 326.83,469.38 326.96,469.13 327.09,468.59 327.22,468.09 327.35,467.52 327.47,466.85 337.1,466.85" fill="none" stroke="#0072bd" stroke-width="0.9" stroke-linejoin="round" clip-path="url(#c5)"/>
<path d="M80.4 524.4v2.6M80.4 409.3v-2.6M144.58 524.4v2.6M144.58 409.3v-2.6M208.75 524.4v2.6M208.75 409.3v-2.6M272.93 524.4v2.6M272.93 409.3v-2.6M337.1 524.4v2.6M337.1 409.3v-2.6M80.4 524.4h-2.6M337.1 524.4h2.6M80.4 495.62h-2.6M337.1 495.62h2.6M80.4 466.85h-2.6M337.1 466.85h2.6M80.4 438.07h-2.6M337.1 438.07h2.6M80.4 409.3h-2.6M337.1 409.3h2.6" stroke="#3c3c3c" stroke-width="0.8" fill="none"/>
<rect x="80.4" y="409.3" width="256.7" height="115.1" fill="none" stroke="#3c3c3c" stroke-width="0.9"/>
<text x="80.4" y="540.7" font-family='"Liberation Sans", sans-serif' font-size="9.6" font-weight="normal" fill="#404040" text-anchor="middle" >0</text>
<text x="144.58" y="540.7" font-family='"Liberation Sans", sans-serif' font-size="9.6" font-weight="normal" fill="#404040" text-anchor="middle" >0.2</text>
<text x="208.75" y="540.7" font-family='"Liberation Sans", sans-serif' font-size="9.6" font-weight="normal" fill="#404040" text-anchor="middle" >0.4</text>
<text x="272.93" y="540.7" font-family='"Liberation Sans", sans-serif' font-size="9.6" font-weight="normal" fill="#404040" text-anchor="middle" >0.6</text>
<text x="337.1" y="540.7" font-family='"Liberation Sans", sans-serif' font-size="9.6" font-weight="normal" fill="#404040" text-anchor="middle" >0.8</text>
<text x="74.2" y="528.2" font-family='"Liberation Sans", sans-serif' font-size="9.6" font-weight="normal" fill="#404040" text-anchor="end" >-1</text>
<text x="74.2" y="499.43" font-family='"Liberation Sans", sans-serif' font-size="9.6" font-weight="normal" fill="#404040" text-anchor="end" >-0.5</text>
<text x="74.2" y="470.65" font-family='"Liberation Sans", sans-serif' font-size="9.6" font-weight="normal" fill="#404040" text-anchor="end" >0</text>
<text x="74.2" y="441.88" font-family='"Liberation Sans", sans-serif' font-size="9.6" font-weight="normal" fill="#404040" text-anchor="end" >0.5</text>
<text x="74.2" y="413.1" font-family='"Liberation Sans", sans-serif' font-size="9.6" font-weight="normal" fill="#404040" text-anchor="end" >1</text>
<text x="208.75" y="554.6" font-family='"Liberation Sans", sans-serif' font-size="10.7" font-weight="bold" fill="#262626" text-anchor="middle" >Time (ms)</text>
<text x="53.2" y="466.85" font-family='"Liberation Sans", sans-serif' font-size="10.6" font-weight="bold" fill="#262626" text-anchor="middle" transform="rotate(-90 53.2 466.85)">Normalized amplitude</text>
</g>
<g>
<rect x="80.4" y="574" width="256.7" height="114.8" fill="#fff"/>
<path d="M96.44 574V688.8M112.49 574V688.8M128.53 574V688.8M144.58 574V688.8M160.62 574V688.8M176.66 574V688.8M192.71 574V688.8M208.75 574V688.8M224.79 574V688.8M240.84 574V688.8M256.88 574V688.8M272.93 574V688.8M288.97 574V688.8M305.01 574V688.8M321.06 574V688.8M80.4 579.74H337.1M80.4 585.48H337.1M80.4 591.22H337.1M80.4 596.96H337.1M80.4 602.7H337.1M80.4 608.44H337.1M80.4 614.18H337.1M80.4 619.92H337.1M80.4 625.66H337.1M80.4 631.4H337.1M80.4 637.14H337.1M80.4 642.88H337.1M80.4 648.62H337.1M80.4 654.36H337.1M80.4 660.1H337.1M80.4 665.84H337.1M80.4 671.58H337.1M80.4 677.32H337.1M80.4 683.06H337.1" stroke="#f3f3f3" stroke-width="0.6" fill="none"/>
<path d="M80.4 574V688.8M144.58 574V688.8M208.75 574V688.8M272.93 574V688.8M337.1 574V688.8M80.4 660.1H337.1M80.4 631.4H337.1M80.4 602.7H337.1" stroke="#e6e6e6" stroke-width="0.7" fill="none"/>
<clipPath id="c7"><rect x="80.4" y="573.5" width="256.7" height="115.8"/></clipPath>
<polyline points="80.4,631.4 117.75,631.4 117.88,630.48 118.01,629.32 118.13,628.31 118.26,627.03 118.39,626.29 118.52,625.33 118.65,624.65 118.78,624.78 118.91,626.44 119.03,630.51 119.16,636.27 119.29,640.54 119.42,642.26 119.55,642.19 119.68,639.87 119.8,634.12 119.93,628.19 120.06,626.28 120.19,628.46 120.32,632.9 120.45,635.59 120.57,634.05 120.7,628.32 120.83,622.65 120.96,620.43 121.09,621.33 121.22,625.82 121.34,632.47 121.47,636.34 121.6,636.18 121.73,633.34 121.86,630.83 121.99,631.44 122.11,635.28 122.24,639.55 122.37,641.38 122.5,639.71 122.63,634.07 122.76,626.66 122.88,621.64 123.01,620.13 123.14,626.58 123.27,614.52 123.4,607.29 123.53,615.73 123.65,627.78 123.78,638.52 123.91,656.31 124.04,666.99 124.17,654.53 124.3,636.74 124.42,632.91 124.55,639.3 124.68,642.09 124.81,639.57 124.94,630.22 125.07,620.05 125.19,616.45 125.32,616.77 125.45,620.75 125.58,629.94 125.71,637.46 125.84,638.95 125.96,636.68 126.09,634.11 126.22,634.8 126.35,639.43 126.48,644.04 126.61,645.79 126.73,643.87 126.86,636.13 126.99,625.49 127.12,619.74 127.25,619.22 127.38,621.92 127.5,624.62 127.63,623.85 127.76,619.88 127.89,616.22 128.02,615.6 128.15,619.53 128.27,628.89 128.4,639.81 128.53,646.88 128.66,651.12 128.79,652.72 128.92,652.46 129.04,650.68 129.17,646.88 129.3,639.98 129.43,621.07 129.56,595.24 129.69,579.74 129.81,597.82 129.94,623.65 130.07,642.88 130.2,671.58 130.33,688.8 130.46,668.71 130.58,640.01 130.71,625.09 130.84,609.3 130.97,599.83 131.1,610.88 131.23,626.66 131.35,653.35 131.48,659.5 131.61,659.69 131.74,654.55 131.87,644.5 132,632 132.13,621.94 132.25,618.33 132.38,622.87 132.51,634.79 132.64,647.78 132.77,653.46 132.9,646.91 133.02,624.71 133.15,599.62 133.28,588.57 133.41,587.25 133.54,639.44 133.67,659.53 133.79,671.58 133.92,657.52 134.05,637.43 134.18,664.02 134.31,620.95 134.44,594.84 134.56,579.17 134.69,597.45 134.82,623.56 134.95,665.81 135.08,669.15 135.21,656.36 135.33,617.83 135.46,590.18 135.59,584.43 135.72,588.54 135.85,608.79 135.98,650.16 136.1,665.9 136.23,664.14 136.36,648.57 136.49,620.82 136.62,609.42 136.75,614.49 136.87,633.57 137,650.77 137.13,654.72 137.26,648.63 137.39,631.03 137.52,616.57 137.64,614.67 137.77,622.65 137.9,634.24 138.03,637.94 138.16,631.04 138.29,620.55 138.41,617.03 138.54,624.2 138.67,639.85 138.8,649.49 138.93,647.76 139.06,632.2 139.18,613.27 139.31,607.55 139.44,612.14 139.57,633.43 139.7,653.52 139.83,657.74 139.95,654.36 140.08,637.44 140.21,616.24 140.34,610.49 140.47,615.36 140.6,629.99 140.72,642.11 140.85,642.72 140.98,633.38 141.11,621.71 141.24,617.2 141.37,620.45 141.49,628.52 141.62,634.89 141.75,634.8 141.88,630.74 142.01,629.88 142.14,637.42 142.26,649.38 142.39,655.93 142.52,653.65 142.65,636.4 142.78,610.97 142.91,600.77 143.03,602.24 143.16,620.09 143.29,623.13 143.42,602.47 143.55,590.07 143.68,604.54 143.8,625.2 143.93,600.28 144.06,638.86 144.19,657.52 144.32,668.71 144.45,655.65 144.58,637 144.7,628.19 144.83,612.68 144.96,611.86 145.09,620.43 145.22,636.77 145.35,646.18 145.47,646.35 145.6,638.48 145.73,625.46 145.86,618.19 145.99,618.06 146.12,623.24 146.24,630.81 146.37,635.47 146.5,635.7 146.63,633.52 146.76,631.7 146.89,631.62 147.01,632.47 147.14,632.68 147.27,631.78 147.4,631.06 147.53,632.43 147.66,636.39 147.78,640.73 147.91,642.31 148.04,639.01 148.17,629.71 148.3,619.25 148.43,614.19 148.55,614.27 148.68,620.28 148.81,633.94 148.94,645.26 149.07,648.49 149.2,645.56 149.32,634.87 149.45,621.97 149.58,616.91 149.71,619.69 149.84,631.1 149.97,643.7 150.09,648.15 150.22,645.52 150.35,633.69 150.48,619.05 150.61,613.29 150.74,613.81 150.86,620.51 150.99,633.4 151.12,642.93 151.25,645.74 151.38,644.35 151.51,640.33 151.63,635.2 151.76,630.01 151.89,625.18 152.02,621.61 152.15,620.8 152.28,624.26 152.4,632.5 152.53,640.92 152.66,643.95 152.79,640.15 152.92,629.04 153.05,618.66 153.17,615.72 153.3,620.01 153.43,632.81 153.56,644.56 153.69,647.82 153.82,644.41 153.94,633.95 154.07,623.25 154.2,619.6 154.33,621.91 154.46,627.4 154.59,631.3 154.71,630.99 154.84,628.54 154.97,628.23 155.1,632.66 155.23,639.98 155.36,644.74 155.48,644.32 155.61,637.37 155.74,625.58 155.87,618.15 156,617.91 156.13,624.69 156.25,636.51 156.38,643.77 156.51,643.69 156.64,636.16 156.77,623.76 156.9,616.76 157.02,616.16 157.15,621.21 157.28,632.97 157.41,642.67 157.54,645.23 157.67,642.61 157.8,634.63 157.92,625.67 158.05,622.08 158.18,623.97 158.31,630.32 158.44,637.06 158.57,639.8 158.69,638.23 158.82,633.22 158.95,627.86 159.08,625.51 159.21,626.68 159.34,630.34 159.46,633.91 159.59,635.02 159.72,633.32 159.85,630.06 159.98,627.48 160.11,626.84 160.23,627.93 160.36,629.64 160.49,630.84 160.62,631.45 160.75,632.32 160.88,634.19 161,636.47 161.13,637.45 161.26,635.56 161.39,630.27 161.52,624.62 161.65,622.59 161.77,625.52 161.9,634.34 162.03,641.92 162.16,643.69 162.29,640.35 162.42,628.2 162.54,619.05 162.67,617.6 162.8,620.63 162.93,634.62 163.06,644.45 163.19,645.58 163.31,642.41 163.44,626.95 163.57,617.86 163.7,617.06 163.83,619.88 163.96,634.23 164.08,643.83 164.21,644.56 164.34,639.9 164.47,625.82 164.6,619.11 164.73,619.36 164.85,628 164.98,642.07 165.11,646.09 165.24,645.66 165.37,638.55 165.5,623.41 165.62,617.22 165.75,617.1 165.88,622.34 166.01,633.99 166.14,641.64 166.27,642.42 166.39,637.32 166.52,627.53 166.65,620.14 166.78,617.88 166.91,620.01 167.04,627.88 167.16,639.14 167.29,634.61 167.42,642.65 167.55,647.47 167.68,641.85 167.81,633.81 167.93,620.09 168.06,626.81 168.19,615.33 168.32,608.44 168.45,616.48 168.58,627.96 168.7,636.28 168.83,630.85 168.96,627.69 169.09,627.57 169.22,629.39 169.35,631.61 169.47,633.05 169.6,633.72 169.73,634.22 169.86,634.68 169.99,634.47 170.12,632.8 170.25,629.43 170.37,625.71 170.5,623.83 170.63,624.2 170.76,627.32 170.89,632.21 171.02,634.69 171.14,634.53 171.27,631.86 171.4,627.18 171.53,624.68 171.66,625.01 171.79,628.01 171.91,631.95 172.04,633.44 172.17,632.77 172.3,629.94 172.43,626.46 172.56,625.14 172.68,625.63 172.81,627.52 172.94,629.56 173.07,630.18 173.2,629.38 173.33,628.24 173.45,628.12 173.58,629.37 173.71,631.84 173.84,633.86 173.97,634.5 174.1,633.74 174.22,631.34 174.35,629.01 174.48,628.18 174.61,628.68 174.74,630.76 174.87,632.91 174.99,633.6 175.12,633.08 175.25,631.07 175.38,628.93 175.51,628.46 175.64,629.26 175.76,631.71 175.89,634.94 176.02,636.3 176.15,636.3 176.28,634.8 176.41,631.14 176.53,628.93 176.66,628.3 176.79,628.42 176.92,630.68 177.05,633.78 177.18,634.63 177.3,634.4 177.43,632.32 177.56,629.32 177.69,628.77 177.82,629.77 177.95,633.37 178.07,637.09 178.2,638.2 178.33,638.39 178.46,636.77 178.59,632.86 178.72,631.61 178.84,631.87 178.97,633.51 179.1,636.43 179.23,637.66 179.36,636.6 179.49,634.17 179.61,632.86 179.74,633.12 179.87,635.34 180,638.1 180.13,638.85 180.26,637.96 180.38,635.17 180.51,632.68 180.64,632.29 180.77,634.17 180.9,636.75 181.03,637.14 181.15,636.22 181.28,633.36 181.41,628.72 181.54,626.49 181.67,625.87 181.8,626.94 181.92,629.29 182.05,630.01 182.18,628.85 182.31,626.1 182.44,624.17 182.57,623.8 182.69,624.53 182.82,626.62 182.95,628.78 183.08,629.56 183.21,629.28 183.34,628.6 183.47,628.45 183.59,629.2 183.72,630.19 183.85,630.66 183.98,630.42 184.11,629.18 184.24,627.39 184.36,626.68 184.49,627.35 184.62,629.05 184.75,631.05 184.88,632.18 185.01,632.09 185.13,631.73 185.26,631.86 185.39,632.49 185.52,634.25 185.65,637.14 185.78,638.5 185.9,638.46 186.03,637.63 186.16,635.97 186.29,634.16 186.42,633.34 186.55,633.54 186.67,633.98 186.8,633.96 186.93,633.1 187.06,631.64 187.19,630.77 187.32,630.76 187.44,631.22 187.57,632.03 187.7,633 187.83,633.67 187.96,633.84 188.09,633.72 188.21,633.51 188.34,633.15 188.47,632.47 188.6,631.38 188.73,629.9 188.86,628.48 188.98,627.82 189.11,628.19 189.24,629.17 189.37,629.83 189.5,629.47 189.63,627.84 189.75,626.17 189.88,625.63 190.01,625.97 190.14,627.89 190.27,631.02 190.4,632.2 190.52,632.11 190.65,630.61 190.78,627.22 190.91,625.57 191.04,625.61 191.17,627.28 191.29,630.81 191.42,632.71 191.55,633.16 191.68,632.23 191.81,629.66 191.94,628.75 192.06,629.39 192.19,631.14 192.32,634.38 192.45,637.05 192.58,638.06 192.71,637.9 192.83,636.74 192.96,635.41 193.09,634.8 193.22,634.93 193.35,635.53 193.48,636.17 193.6,636.49 193.73,636.37 193.86,635.84 193.99,634.88 194.12,633.61 194.25,632.46 194.37,631.85 194.5,631.87 194.63,632.54 194.76,633.67 194.89,634.5 195.02,634.44 195.14,633.51 195.27,632.25 195.4,631.41 195.53,631.42 195.66,631.92 195.79,632.15 195.92,631.79 196.04,630.72 196.17,629.35 196.3,628.81 196.43,629.49 196.56,630.95 196.69,632.08 196.81,631.88 196.94,630.45 197.07,629.26 197.2,628.85 197.33,629.29 197.46,631.64 197.58,633.49 197.71,633.32 197.84,632.25 197.97,629.71 198.1,626.59 198.23,625.55 198.35,626.49 198.48,629 198.61,630.69 198.74,631.03 198.87,629.8 199,627.91 199.12,627.89 199.25,629.06 199.38,631.52 199.51,634.99 199.64,636.79 199.77,636.79 199.89,635.13 200.02,633.35 200.15,632.94 200.28,634.08 200.41,636.19 200.54,636.9 200.66,636.4 200.79,634.57 200.92,631.28 201.05,629.82 201.18,629.95 201.31,631.61 201.43,635 201.56,636.95 201.69,637.39 201.82,636.13 201.95,633.65 202.08,632.85 202.2,633.07 202.33,634.5 202.46,637.27 202.59,638.31 202.72,637.9 202.85,636.27 202.97,633.14 203.1,630.84 203.23,629.97 203.36,630.44 203.49,632.04 203.62,632.67 203.74,632.19 203.87,630.74 204,627.76 204.13,625.3 204.26,624.33 204.39,624.04 204.51,624.73 204.64,626.82 204.77,628.02 204.9,628.13 205.03,627.61 205.16,625.92 205.28,624.65 205.41,624.74 205.54,625.61 205.67,627.94 205.8,629.79 205.93,630.42 206.05,630.65 206.18,629.85 206.31,628.28 206.44,628.16 206.57,628.32 206.7,628.8 206.82,630.22 206.95,630.65 207.08,630.57 207.21,630.21 207.34,629.31 207.47,629 207.59,629.04 207.72,629.17 207.85,629.47 207.98,629.34 208.11,628.81 208.24,628.11 208.36,627.24 208.49,626.38 208.62,625.63 208.75,624.88 208.88,624.4 209.01,624.21 209.14,624.67 209.26,625.91 209.39,627.66 209.52,629.58 209.65,631.49 209.78,633.41 209.91,635.25 210.03,636.63 210.16,637.01 210.29,636.24 210.42,634.7 210.55,632.93 210.68,631.17 210.8,629.4 210.93,627.68 211.06,626.25 211.19,625.41 211.32,625.26 211.45,625.55 211.57,625.97 211.7,626.39 211.83,626.81 211.96,627.23 212.09,627.65 212.22,628.08 212.34,628.49 212.47,628.89 212.6,629.22 212.73,629.48 212.86,629.68 212.99,629.86 213.11,630.05 213.24,630.23 213.37,630.41 213.5,630.6 213.63,630.78 213.76,630.97 213.88,631.15 214.01,631.33 214.14,631.46 214.27,631.5 214.4,631.46 214.53,631.35 214.65,631.24 214.78,631.12 214.91,631 215.04,630.88 215.17,630.77 215.3,630.65 215.42,630.53 215.55,630.41 215.68,630.29 215.81,630.18 215.94,630.06 216.07,629.95 216.19,629.87 216.32,629.85 216.45,629.89 216.58,629.97 216.71,630.06 216.84,630.15 216.96,630.24 217.09,630.33 217.22,630.41 217.35,630.5 217.48,630.59 217.61,630.68 217.73,630.77 217.86,630.86 217.99,630.94 218.12,631.02 218.25,631.06 218.38,631.03 218.5,630.93 218.63,630.8 218.76,630.65 218.89,630.5 219.02,630.35 219.15,630.21 219.27,630.06 219.4,629.91 219.53,629.76 219.66,629.62 219.79,629.47 219.92,629.32 220.04,629.17 220.17,629.04 220.3,628.95 220.43,628.93 220.56,628.99 220.69,629.08 220.81,629.18 220.94,629.29 221.07,629.39 221.2,629.49 221.33,629.6 221.46,629.7 221.59,629.8 221.71,629.91 221.84,630.01 221.97,630.11 222.1,630.22 222.23,630.32 222.36,630.4 222.48,630.48 222.61,630.53 222.74,630.58 222.87,630.62 223,630.67 223.13,630.71 223.25,630.75 223.38,630.8 223.51,630.84 223.64,630.89 223.77,630.93 223.9,630.97 224.02,631.02 224.15,631.06 224.28,631.1 224.41,631.11 224.54,631.08 224.67,631.01 224.79,630.93 224.92,630.84 225.05,630.75 225.18,630.66 225.31,630.57 225.44,630.48 225.56,630.4 225.69,630.31 225.82,630.22 225.95,630.13 226.08,630.04 226.21,629.95 226.33,629.86 226.46,629.74 226.59,629.58 226.72,629.39 226.85,629.19 226.98,628.98 227.1,628.77 227.23,628.57 227.36,628.36 227.49,628.16 227.62,627.95 227.75,627.74 227.87,627.54 228,627.33 228.13,627.12 228.26,626.92 228.39,626.75 228.52,626.72 228.64,626.88 228.77,627.2 228.9,627.59 229.03,627.99 229.16,628.38 229.29,628.78 229.41,629.18 229.54,629.58 229.67,629.98 229.8,630.37 229.93,630.77 230.06,631.17 230.18,631.57 230.31,631.97 230.44,632.32 230.57,632.53 230.7,632.54 230.83,632.39 230.95,632.17 231.08,631.95 231.21,631.73 231.34,631.51 231.47,631.29 231.6,631.07 231.72,630.85 231.85,630.62 231.98,630.4 232.11,630.18 232.24,629.96 232.37,629.74 232.49,629.56 232.62,629.5 232.75,629.62 232.88,629.86 233.01,630.15 233.14,630.45 233.26,630.74 233.39,631.04 233.52,631.33 233.65,631.63 233.78,631.92 233.91,632.22 234.03,632.51 234.16,632.81 234.29,633.1 234.42,633.4 234.55,633.63 234.68,633.69 234.81,633.52 234.93,633.17 235.06,632.76 235.19,632.36 235.32,631.95 235.45,631.55 235.58,631.14 235.7,630.74 235.83,630.33 235.96,629.93 236.09,629.54 236.22,629.22 236.35,629.07 236.47,629.12 236.6,629.29 236.73,629.5 236.86,629.71 236.99,629.92 237.12,630.13 237.24,630.34 237.37,630.55 237.5,630.76 237.63,630.91 237.76,630.92 237.89,630.75 238.01,630.45 238.14,630.11 238.27,629.77 238.4,629.44 238.53,629.1 238.66,628.76 238.78,628.42 238.91,628.08 239.04,627.74 239.17,627.4 239.3,627.06 239.43,626.72 239.55,626.4 239.68,626.17 239.81,626.2 239.94,626.51 240.07,627.04 240.2,627.63 240.32,628.22 240.45,628.81 240.58,629.38 240.71,629.79 240.84,629.85 240.97,629.49 241.09,628.84 241.22,628.1 241.35,627.37 241.48,626.63 241.61,625.92 241.74,625.41 241.86,625.32 241.99,625.72 242.12,626.46 242.25,627.31 242.38,628.15 242.51,628.99 242.63,629.83 242.76,630.68 242.89,631.52 243.02,632.36 243.15,633.14 243.28,633.78 243.4,634.24 243.53,634.56 243.66,634.83 243.79,635.11 243.92,635.39 244.05,635.66 244.17,635.94 244.3,636.22 244.43,636.49 244.56,636.77 244.69,637.03 244.82,637.2 244.94,637.19 245.07,636.98 245.2,636.65 245.33,636.28 245.46,635.91 245.59,635.55 245.71,635.18 245.84,634.81 245.97,634.44 246.1,634.07 246.23,633.7 246.36,633.37 246.48,633.15 246.61,633.14 246.74,633.33 246.87,633.62 247,633.94 247.13,634.25 247.26,634.57 247.38,634.89 247.51,635.2 247.64,635.52 247.77,635.81 247.9,635.98 248.03,635.94 248.15,635.67 248.28,635.26 248.41,634.82 248.54,634.38 248.67,633.94 248.8,633.49 248.92,633.05 249.05,632.61 249.18,632.17 249.31,631.73 249.44,631.28 249.57,630.84 249.69,630.4 249.82,629.96 249.95,629.55 250.08,629.18 250.21,628.86 250.34,628.55 250.46,628.26 250.59,627.96 250.72,627.67 250.85,627.38 250.98,627.08 251.11,626.79 251.23,626.49 251.36,626.2 251.49,625.9 251.62,625.61 251.75,625.31 251.88,625.03 252,624.83 252.13,624.74 252.26,624.77 252.39,624.86 252.52,624.96 252.65,625.07 252.77,625.17 252.9,625.28 253.03,625.38 253.16,625.49 253.29,625.6 253.42,625.75 253.54,625.98 253.67,626.29 253.8,626.64 253.93,627.01 254.06,627.38 254.19,627.75 254.31,628.12 254.44,628.48 254.57,628.85 254.7,629.22 254.83,629.59 254.96,629.95 255.08,630.28 255.21,630.57 255.34,630.82 255.47,631.04 255.6,631.27 255.73,631.49 255.85,631.71 255.98,631.93 256.11,632.15 256.24,632.37 256.37,632.59 256.5,632.81 256.62,633.03 256.75,633.25 256.88,633.48 257.01,633.69 257.14,633.88 257.27,634.03 257.39,634.15 257.52,634.25 257.65,634.35 257.78,634.45 257.91,634.54 258.04,634.64 258.16,634.74 258.29,634.84 258.42,634.94 258.55,635.04 258.68,635.13 258.81,635.23 258.93,635.33 259.06,635.43 259.19,635.53 259.32,635.63 259.45,635.72 259.58,635.82 259.7,635.92 259.83,636.02 259.96,636.12 260.09,636.19 260.22,636.18 260.35,636.04 260.48,635.8 260.6,635.51 260.73,635.21 260.86,634.92 260.99,634.62 261.12,634.33 261.25,634.03 261.37,633.74 261.5,633.44 261.63,633.15 261.76,632.86 261.89,632.56 262.02,632.27 262.14,631.97 262.27,631.65 262.4,631.31 262.53,630.95 262.66,630.58 262.79,630.21 262.91,629.84 263.04,629.48 263.17,629.11 263.3,628.74 263.43,628.37 263.56,628 263.68,627.63 263.81,627.26 263.94,626.9 264.07,626.53 264.2,626.2 264.33,626.02 264.45,626.02 264.58,626.17 264.71,626.38 264.84,626.59 264.97,626.8 265.1,627.01 265.22,627.22 265.35,627.43 265.48,627.64 265.61,627.82 265.74,627.9 265.87,627.82 265.99,627.61 266.12,627.35 266.25,627.07 266.38,626.79 266.51,626.52 266.64,626.24 266.76,625.96 266.89,625.69 267.02,625.41 267.15,625.14 267.28,624.92 267.41,624.89 267.53,625.1 267.66,625.48 267.79,625.92 267.92,626.36 268.05,626.81 268.18,627.25 268.3,627.69 268.43,628.13 268.56,628.58 268.69,629.02 268.82,629.46 268.95,629.9 269.07,630.34 269.2,630.79 269.33,631.21 269.46,631.59 269.59,631.92 269.72,632.21 269.84,632.49 269.97,632.76 270.1,633.04 270.23,633.32 270.36,633.59 270.49,633.87 270.61,634.14 270.74,634.42 270.87,634.68 271,634.82 271.13,634.74 271.26,634.43 271.38,633.96 271.51,633.44 271.64,632.92 271.77,632.41 271.9,631.89 272.03,631.38 272.15,630.86 272.28,630.34 272.41,629.83 272.54,629.31 272.67,628.8 272.8,628.28 272.93,627.77 273.05,627.3 273.18,626.9 273.31,626.58 273.44,626.3 273.57,626.04 273.7,625.77 273.82,625.51 273.95,625.24 274.08,624.97 274.21,624.71 274.34,624.44 274.47,624.18 274.59,623.91 274.72,623.65 274.85,623.38 274.98,623.17 275.11,623.15 275.24,623.51 275.36,624.24 275.49,625.19 275.62,626.2 275.75,627.22 275.88,628.23 276.01,629.24 276.13,630.25 276.26,631.26 276.39,632.27 276.52,633.26 276.65,634.21 276.78,635.13 276.9,636.02 277.03,636.91 277.16,637.79 277.29,638.67 277.42,639.56 277.55,640.44 277.67,641.33 277.8,642.21 277.93,643.1 278.06,643.9 278.19,644.41 278.32,644.43 278.44,643.95 278.57,643.22 278.7,642.42 278.83,641.62 278.96,640.82 279.09,640.02 279.21,639.22 279.34,638.42 279.47,637.63 279.6,636.89 279.73,636.25 279.86,635.71 279.98,635.23 280.11,634.77 280.24,634.31 280.37,633.85 280.5,633.39 280.63,632.93 280.75,632.46 280.88,632 281.01,631.54 281.14,631.12 281.27,630.85 281.4,630.82 281.52,631 281.65,631.3 281.78,631.61 281.91,631.93 282.04,632.24 282.17,632.56 282.29,632.88 282.42,633.19 282.55,633.48 282.68,633.64 282.81,633.59 282.94,633.32 283.06,632.93 283.19,632.51 283.32,632.09 283.45,631.67 283.58,631.25 283.71,630.83 283.83,630.41 283.96,630 284.09,629.67 284.22,629.47 284.35,629.44 284.48,629.5 284.6,629.59 284.73,629.69 284.86,629.78 284.99,629.87 285.12,629.96 285.25,630.05 285.37,630.15 285.5,630.24 285.63,630.3 285.76,630.27 285.89,630.07 286.02,629.71 286.15,629.27 286.27,628.81 286.4,628.35 286.53,627.89 286.66,627.43 286.79,626.97 286.92,626.5 287.04,626.04 287.17,625.58 287.3,625.12 287.43,624.67 287.56,624.22 287.69,623.78 287.81,623.33 287.94,622.89 288.07,622.45 288.2,622.01 288.33,621.78 288.46,622.25 288.58,623.69 288.71,625.92 288.84,628.47 288.97,631.05 289.1,633.4 289.23,634.88 289.35,634.8 289.48,633.15 289.61,630.61 289.74,627.85 289.87,625.13 290,622.92 290.12,621.96 290.25,622.55 290.38,624.26 290.51,626.33 290.64,628.39 290.77,630.46 290.89,632.47 291.02,634.03 291.15,634.53 291.28,633.71 291.41,631.97 291.54,629.95 291.66,627.92 291.79,626.11 291.92,625.01 292.05,624.97 292.18,625.83 292.31,627.1 292.43,628.42 292.56,629.75 292.69,631.08 292.82,632.33 292.95,633.34 293.08,633.99 293.2,634.35 293.33,634.58 293.46,634.79 293.59,635 293.72,635.21 293.85,635.42 293.97,635.63 294.1,635.84 294.23,636.02 294.36,636.11 294.49,636.06 294.62,635.86 294.74,635.6 294.87,635.32 295,635.05 295.13,634.77 295.26,634.49 295.39,634.22 295.51,633.94 295.64,633.67 295.77,633.39 295.9,633.12 296.03,632.89 296.16,632.69 296.28,632.53 296.41,632.38 296.54,632.23 296.67,632.09 296.8,631.94 296.93,631.79 297.05,631.64 297.18,631.5 297.31,631.35 297.44,631.2 297.57,631.05 297.7,630.91 297.82,630.76 297.95,630.63 298.08,630.57 298.21,630.58 298.34,630.66 298.47,630.77 298.6,630.87 298.72,630.97 298.85,631.08 298.98,631.18 299.11,631.28 299.24,631.39 299.37,631.49 299.49,631.59 299.62,631.7 299.75,631.8 299.88,631.9 300.01,631.98 300.14,631.99 300.26,631.9 300.39,631.75 300.52,631.57 300.65,631.39 300.78,631.22 300.91,631.04 301.03,630.86 301.16,630.68 301.29,630.51 301.42,630.33 301.55,630.15 301.68,629.98 301.8,629.8 301.93,629.63 302.06,629.48 302.19,629.41 302.32,629.44 302.45,629.53 302.57,629.65 302.7,629.77 302.83,629.89 302.96,630 303.09,630.12 303.22,630.24 303.34,630.36 303.47,630.48 303.6,630.59 303.73,630.71 303.86,630.83 303.99,630.94 304.11,631.03 304.24,631.05 304.37,630.98 304.5,630.85 304.63,630.7 304.76,630.55 304.88,630.41 305.01,630.26 305.14,630.11 305.27,629.96 305.4,629.82 305.53,629.67 305.65,629.52 305.78,629.37 305.91,629.23 306.04,629.09 306.17,628.99 306.3,629.01 306.42,629.15 306.55,629.37 306.68,629.62 306.81,629.87 306.94,630.12 307.07,630.37 307.19,630.63 307.32,630.88 307.45,631.13 307.58,631.38 307.71,631.63 307.84,631.88 307.96,632.13 308.09,632.37 308.22,632.56 308.35,632.64 308.48,632.6 308.61,632.47 308.73,632.33 308.86,632.18 308.99,632.03 309.12,631.88 309.25,631.74 309.38,631.59 309.5,631.44 309.63,631.29 309.76,631.15 309.89,631 310.02,630.85 310.15,630.7 310.27,630.49 310.4,630.21 310.53,629.82 310.66,629.38 310.79,628.92 310.92,628.46 311.04,628 311.17,627.54 311.3,627.08 311.43,626.62 311.56,626.16 311.69,625.69 311.82,625.29 311.94,625.09 312.07,625.21 312.2,625.65 312.33,626.26 312.46,626.91 312.59,627.55 312.71,628.2 312.84,628.84 312.97,629.49 313.1,630.13 313.23,630.78 313.36,631.42 313.48,632.03 313.61,632.5 313.74,632.8 313.87,632.95 314,633.04 314.13,633.12 314.25,633.21 314.38,633.29 314.51,633.37 314.64,633.45 314.77,633.53 314.9,633.62 315.02,633.7 315.15,633.78 315.28,633.85 315.41,633.87 315.54,633.8 315.67,633.64 315.79,633.43 315.92,633.21 316.05,632.99 316.18,632.77 316.31,632.55 316.44,632.32 316.56,632.1 316.69,631.88 316.82,631.66 316.95,631.44 317.08,631.22 317.21,631 317.33,630.79 317.46,630.63 317.59,630.55 317.72,630.54 317.85,630.57 317.98,630.62 318.1,630.66 318.23,630.71 318.36,630.75 318.49,630.79 318.62,630.84 318.75,630.88 318.87,630.93 319,630.97 319.13,631.02 319.26,631.06 319.39,631.09 319.52,631.09 319.64,631.01 319.77,630.88 319.9,630.72 320.03,630.55 320.16,630.39 320.29,630.22 320.41,630.05 320.54,629.88 320.67,629.71 320.8,629.56 320.93,629.45 321.06,629.44 321.18,629.52 321.31,629.65 321.44,629.8 321.57,629.95 321.7,630.09 321.83,630.24 321.95,630.39 322.08,630.53 322.21,630.68 322.34,630.83 322.47,630.97 322.6,631.08 322.72,631.15 322.85,631.19 337.1,631.4" fill="none" stroke="#0072bd" stroke-width="0.9" stroke-linejoin="round" clip-path="url(#c7)"/>
<path d="M80.4 688.8v2.6M80.4 574v-2.6M144.58 688.8v2.6M144.58 574v-2.6M208.75 688.8v2.6M208.75 574v-2.6M272.93 688.8v2.6M272.93 574v-2.6M337.1 688.8v2.6M337.1 574v-2.6M80.4 688.8h-2.6M337.1 688.8h2.6M80.4 660.1h-2.6M337.1 660.1h2.6M80.4 631.4h-2.6M337.1 631.4h2.6M80.4 602.7h-2.6M337.1 602.7h2.6M80.4 574h-2.6M337.1 574h2.6" stroke="#3c3c3c" stroke-width="0.8" fill="none"/>
<rect x="80.4" y="574" width="256.7" height="114.8" fill="none" stroke="#3c3c3c" stroke-width="0.9"/>
<text x="80.4" y="705.1" font-family='"Liberation Sans", sans-serif' font-size="9.6" font-weight="normal" fill="#404040" text-anchor="middle" >0</text>
<text x="144.58" y="705.1" font-family='"Liberation Sans", sans-serif' font-size="9.6" font-weight="normal" fill="#404040" text-anchor="middle" >0.2</text>
<text x="208.75" y="705.1" font-family='"Liberation Sans", sans-serif' font-size="9.6" font-weight="normal" fill="#404040" text-anchor="middle" >0.4</text>
<text x="272.93" y="705.1" font-family='"Liberation Sans", sans-serif' font-size="9.6" font-weight="normal" fill="#404040" text-anchor="middle" >0.6</text>
<text x="337.1" y="705.1" font-family='"Liberation Sans", sans-serif' font-size="9.6" font-weight="normal" fill="#404040" text-anchor="middle" >0.8</text>
<text x="74.2" y="692.6" font-family='"Liberation Sans", sans-serif' font-size="9.6" font-weight="normal" fill="#404040" text-anchor="end" >-1</text>
<text x="74.2" y="663.9" font-family='"Liberation Sans", sans-serif' font-size="9.6" font-weight="normal" fill="#404040" text-anchor="end" >-0.5</text>
<text x="74.2" y="635.2" font-family='"Liberation Sans", sans-serif' font-size="9.6" font-weight="normal" fill="#404040" text-anchor="end" >0</text>
<text x="74.2" y="606.5" font-family='"Liberation Sans", sans-serif' font-size="9.6" font-weight="normal" fill="#404040" text-anchor="end" >0.5</text>
<text x="74.2" y="577.8" font-family='"Liberation Sans", sans-serif' font-size="9.6" font-weight="normal" fill="#404040" text-anchor="end" >1</text>
<text x="208.75" y="719" font-family='"Liberation Sans", sans-serif' font-size="10.7" font-weight="bold" fill="#262626" text-anchor="middle" >Time (ms)</text>
<text x="53.2" y="631.4" font-family='"Liberation Sans", sans-serif' font-size="10.6" font-weight="bold" fill="#262626" text-anchor="middle" transform="rotate(-90 53.2 631.4)">Normalized amplitude</text>
</g>
<g>
<rect x="86.5" y="25.9" width="99.6" height="36.4" fill="#fff"/>
<path d="M93.14 25.9V62.3M99.78 25.9V62.3M106.42 25.9V62.3M113.06 25.9V62.3M119.7 25.9V62.3M126.34 25.9V62.3M132.98 25.9V62.3M139.62 25.9V62.3M146.26 25.9V62.3M152.9 25.9V62.3M159.54 25.9V62.3M166.18 25.9V62.3M172.82 25.9V62.3M179.46 25.9V62.3M86.5 30.45H186.1M86.5 35H186.1M86.5 39.55H186.1M86.5 44.1H186.1M86.5 48.65H186.1M86.5 53.2H186.1M86.5 57.75H186.1" stroke="#ececec" stroke-width="0.6" fill="none"/>
<clipPath id="cia"><rect x="86.5" y="25.9" width="99.6" height="36.4"/></clipPath>
<polyline points="86.5,44.66 86.67,41.47 86.83,40.6 87,42.29 87.16,42.85 87.33,41.18 87.5,41.9 87.66,45.66 87.83,46.75 87.99,45.26 88.16,44.38 88.33,43.95 88.49,43.21 88.66,44.17 88.82,44.99 88.99,41.96 89.16,39.82 89.32,41.6 89.49,46.37 89.65,46.61 89.82,43.95 89.99,43.45 90.15,44.74 90.32,44.65 90.48,43.83 90.65,44.14 90.82,44.47 90.98,43.63 91.15,43.17 91.31,44.16 91.48,45.33 91.65,46.02 91.81,46.29 91.98,45.11 92.14,42.89 92.31,42.9 92.48,45.19 92.64,45.96 92.81,44.38 92.97,42.97 93.14,43.35 93.31,44.77 93.47,45.57 93.64,44.62 93.8,42.43 93.97,41.41 94.14,42.21 94.3,43.34 94.47,42.66 94.63,41.6 94.8,43.04 94.97,46.22 95.13,46.14 95.3,42.95 95.46,42.49 95.63,44.97 95.8,44.45 95.96,41.92 96.13,43.3 96.29,46.32 96.46,45.42 96.63,43.92 96.79,46.12 96.96,47.43 97.12,46.58 97.29,46.35 97.46,45.58 97.62,41.48 97.79,39.91 97.95,42.14 98.12,44.89 98.29,43.62 98.45,43.12 98.62,45.73 98.78,47.07 98.95,45.11 99.12,42.09 99.28,42.54 99.45,45.84 99.61,45.9 99.78,40.9 99.95,39.17 100.11,41.36 100.28,47.13 100.44,47.5 100.61,45.92 100.78,46.84 100.94,46.76 101.11,41.51 101.27,39.44 101.44,43.13 101.61,48.28 101.77,45.55 101.94,39.35 102.1,39.66 102.27,47.19 102.44,49.36 102.6,48.03 102.77,43.34 102.93,42.54 103.1,43.2 103.27,41.34 103.43,40.24 103.6,42.09 103.76,44.74 103.93,44.08 104.1,44.09 104.26,47.12 104.43,48.46 104.59,47.55 104.76,44.97 104.93,42.88 105.09,41.72 105.26,41.2 105.42,41.43 105.59,42.24 105.76,43.22 105.92,44.52 106.09,45.79 106.25,45.83 106.42,44.99 106.59,44.85 106.75,43.81 106.92,40.41 107.08,39.12 107.25,40.4 107.42,43.6 107.58,44 107.75,44.89 107.91,47.22 108.08,46.8 108.25,44.32 108.41,38.07 108.58,47.23 108.74,44.12 108.91,40.85 109.08,43.04 109.24,46.05 109.41,44.62 109.57,43.57 109.74,46.64 109.91,48.29 110.07,46.75 110.24,43.68 110.4,43.04 110.57,43.54 110.74,42.78 110.9,41.75 111.07,43.85 111.23,47.88 111.4,48.5 111.57,45.45 111.73,43.47 111.9,46.48 112.06,48.96 112.23,47.85 112.4,43.87 112.56,42.25 112.73,43.7 112.89,45.57 113.06,46.52 113.23,47.74 113.39,47.66 113.56,44.25 113.72,41.55 113.89,42.08 114.06,44.97 114.22,45.54 114.39,43.68 114.55,39.97 114.72,37.82 114.89,39.68 115.05,43.81 115.22,43.1 115.38,37.53 115.55,35.46 115.72,37.4 115.88,40.92 116.05,43.83 116.21,47.52 116.38,49.63 116.55,47.37 116.71,45.42 116.88,46.72 117.04,50.18 117.21,49.41 117.38,44.81 117.54,41.77 117.71,42.32 117.87,44.91 118.04,45.9 118.21,44.27 118.37,41.51 118.54,39.51 118.7,38.58 118.87,37.8 119.04,36.91 119.2,37.61 119.37,41.17 119.53,44.99 119.7,46.38 119.87,44.32 120.03,44.46 120.2,46.26 120.36,45.92 120.53,43.96 120.7,43.48 120.86,43.76 121.03,45.12 121.19,50.14 121.36,56.13 121.53,56.81 121.69,51.97 121.86,49.59 122.02,49.32 122.19,48.3 122.36,44.25 122.52,40.46 122.69,38.59 122.85,40.26 123.02,46.82 123.19,51.51 123.35,50.18 123.52,34.45 123.68,29.54 123.85,36.48 124.02,35.4 124.18,36.32 124.35,39.18 124.51,39.78 124.68,40.26 124.85,46.39 125.01,54.47 125.18,57.58 125.34,55.19 125.51,36.09 125.68,29.54 125.84,36.82 126.01,32.72 126.17,35.93 126.34,36.45 126.51,34.34 126.67,33.4 126.84,36.77 127,42.26 127.17,44.51 127.34,40.99 127.5,48.35 127.67,54.87 127.83,51.01 128,38.1 128.17,39.69 128.33,46.09 128.5,52.56 128.66,54.17 128.83,37.11 129,29.54 129.16,35.99 129.33,39.47 129.49,37.03 129.66,35.99 129.83,35.57 129.99,35.84 130.16,37.27 130.32,41.07 130.49,46.49 130.66,50.52 130.82,51.53 130.99,51.04 131.15,50.3 131.32,58.6 131.49,52.74 131.65,56.56 131.82,58 131.98,56.74 132.15,54.11 132.32,62.3 132.48,53.2 132.65,50.08 132.81,45.97 132.98,40.61 133.15,37.82 133.31,39.79 133.48,43.73 133.64,44 133.81,40.56 133.98,39.69 134.14,42.36 134.31,43.38 134.47,40.26 134.64,38.36 134.81,40.9 134.97,45.56 135.14,49.53 135.3,52.79 135.47,54.15 135.64,52.46 135.8,50.27 135.97,49.38 136.13,35.89 136.3,29.18 136.47,36.64 136.63,45.3 136.8,33.65 136.96,29.83 137.13,40.25 137.3,48 137.46,44.6 137.63,42.5 137.79,38.21 137.96,34.01 138.13,35.28 138.29,40.34 138.46,40.1 138.62,38.14 138.79,43.64 138.96,50.54 139.12,51.49 139.29,49.21 139.45,52.61 139.62,59.57 139.79,51.83 139.95,41.46 140.12,39.11 140.28,41.4 140.45,39.96 140.62,35.66 140.78,33.73 140.95,34.17 141.11,33.11 141.28,33.73 141.45,38.11 141.61,38.74 141.78,32.95 141.94,32.01 142.11,38.43 142.28,44.68 142.44,46.74 142.61,46.98 142.77,36.09 142.94,29.54 143.11,36.82 143.27,53.6 143.44,53.4 143.6,49.62 143.77,42.02 143.94,36.05 144.1,35.14 144.27,37.72 144.43,37.97 144.6,34.84 144.77,32.7 144.93,34.21 145.1,38.73 145.26,42.61 145.43,42.91 145.6,41.12 145.76,40.67 145.93,43.59 146.09,48.62 146.26,52.61 146.43,54.01 146.59,52.89 146.76,50.91 146.92,50.7 147.09,53.24 147.26,54.08 147.42,49.84 147.59,43.22 147.75,40.16 147.92,39.81 148.09,40.06 148.25,41.26 148.42,42.01 148.58,41.15 148.75,41.85 148.92,44.49 149.08,44.22 149.25,36.73 149.41,44.53 149.58,47.82 149.75,45.75 149.91,44.5 150.08,47.56 150.24,53.26 150.41,52.17 150.58,48.56 150.74,50.32 150.91,53.04 151.07,51.94 151.24,48.83 151.41,46.87 151.57,45.25 151.74,43.21 151.9,43.11 152.07,45.06 152.24,44.17 152.4,40.86 152.57,41.51 152.73,52.11 152.9,58.66 153.07,51.38 153.23,40.25 153.4,40.03 153.56,38.47 153.73,35.82 153.9,35.09 154.06,36.9 154.23,38.23 154.39,37.27 154.56,36.67 154.73,39.02 154.89,42.55 155.06,44.18 155.22,42.99 155.39,40.9 155.56,40.84 155.72,42.79 155.89,44.62 156.05,44.72 156.22,44.31 156.39,44.91 156.55,45.85 156.72,45.52 156.88,43.67 157.05,41.28 157.22,39.07 157.38,37.35 157.55,35.83 157.71,34.61 157.88,35.07 158.05,38.72 158.21,43.36 158.38,45.63 158.54,46.04 158.71,46.79 158.88,48.14 159.04,48.24 159.21,47.14 159.37,36.89 159.54,31 159.71,37.55 159.87,47.08 160.04,50.04 160.2,53.01 160.37,53.57 160.54,52.23 160.7,51.14 160.87,50.55 161.03,49 161.2,46.77 161.37,45.45 161.53,46.01 161.7,47.2 161.86,46.19 162.03,43.43 162.2,43.81 162.36,46.65 162.53,45.93 162.69,49.28 162.86,52.18 163.03,48.87 163.19,38.87 163.36,37.11 163.52,39.72 163.69,45.86 163.86,47.98 164.02,46.19 164.19,46.28 164.35,48.84 164.52,50.41 164.69,48.89 164.85,46.79 165.02,47.03 165.18,47.2 165.35,41.52 165.52,35.63 165.68,36.18 165.85,43.45 166.01,43.33 166.18,36.98 166.35,32.29 166.51,34.36 166.68,39.83 166.84,40.39 167.01,39.82 167.18,40.88 167.34,41.28 167.51,42.07 167.67,45.71 167.84,50.61 168.01,52.19 168.17,51.32 168.34,49.12 168.5,45.56 168.67,42.85 168.84,42.86 169,46.64 169.17,46.72 169.33,41.93 169.5,37.39 169.67,37.89 169.83,40.63 170,37.92 170.16,31 170.33,39.22 170.5,43.52 170.66,41.35 170.83,39.68 170.99,43.51 171.16,49.96 171.33,50.47 171.49,45.85 171.66,42.77 171.82,43.62 171.99,43.79 172.16,41.34 172.32,40.12 172.49,36.37 172.65,36.59 172.82,30.45 172.99,37.27 173.15,40.43 173.32,40.79 173.48,43.39 173.65,43.78 173.82,41.06 173.98,38.04 174.15,40.4 174.31,45.58 174.48,47.64 174.65,46.67 174.81,47.39 174.98,50.19 175.14,51.36 175.31,49.23 175.48,46.75 175.64,47.35 175.81,49.97 175.97,50.94 176.14,48.28 176.31,45.7 176.47,48.16 176.64,53.18 176.8,51.83 176.97,45.65 177.14,43.87 177.3,44.96 177.47,42.48 177.63,37.87 177.8,38.39 177.97,41.91 178.13,42.7 178.3,42.34 178.46,43.29 178.63,44.58 178.8,45.41 178.96,44.68 179.13,41.92 179.29,39.09 179.46,41.11 179.63,44.64 179.79,44.68 179.96,43.2 180.12,45.26 180.29,47.95 180.46,45.63 180.62,41.88 180.79,34.56 180.95,42.23 181.12,38.39 181.29,34.97 181.45,37.88 181.62,43.72 181.78,45.33 181.95,42.62 182.12,40 182.28,39.07 182.45,40.99 182.61,44.32 182.78,41.09 182.95,38.55 183.11,36.78 183.28,41.28 183.44,49.66 183.61,51.99 183.78,50.56 183.94,47.29 184.11,44.47 184.27,43.92 184.44,47.71 184.61,49.99 184.77,49.86 184.94,47.92 185.1,45.45 185.27,45.5 185.44,49.29 185.6,53.66 185.77,53.11 185.93,37.89 186.1,32.82" fill="none" stroke="#0072bd" stroke-width="0.8" stroke-linejoin="round" clip-path="url(#cia)"/>
<path d="M86.5 62.3v-1.2M86.5 25.9v1.2M119.7 62.3v-1.2M119.7 25.9v1.2M152.9 62.3v-1.2M152.9 25.9v1.2M186.1 62.3v-1.2M186.1 25.9v1.2" stroke="#333" stroke-width="0.6" fill="none"/>
<rect x="86.5" y="25.9" width="99.6" height="36.4" fill="none" stroke="#505050" stroke-width="0.7"/>
<text x="86.5" y="69.8" font-family='"Liberation Sans", sans-serif' font-size="5.3" font-weight="bold" fill="#333" text-anchor="middle" >1.5</text>
<text x="119.7" y="69.8" font-family='"Liberation Sans", sans-serif' font-size="5.3" font-weight="bold" fill="#333" text-anchor="middle" >1.6</text>
<text x="152.9" y="69.8" font-family='"Liberation Sans", sans-serif' font-size="5.3" font-weight="bold" fill="#333" text-anchor="middle" >1.7</text>
<text x="186.1" y="69.8" font-family='"Liberation Sans", sans-serif' font-size="5.3" font-weight="bold" fill="#333" text-anchor="middle" >1.8</text>
<text x="85.3" y="27.8" font-family='"Liberation Sans", sans-serif' font-size="5.2" font-weight="bold" fill="#333" text-anchor="end" >1</text>
<text x="85.3" y="46" font-family='"Liberation Sans", sans-serif' font-size="5.2" font-weight="bold" fill="#333" text-anchor="end" >0</text>
<text x="85.3" y="64.2" font-family='"Liberation Sans", sans-serif' font-size="5.2" font-weight="bold" fill="#333" text-anchor="end" >-1</text>
</g>
<g>
<rect x="86.5" y="191" width="99.6" height="37.1" fill="#fff"/>
<path d="M93.14 191V228.1M99.78 191V228.1M106.42 191V228.1M113.06 191V228.1M119.7 191V228.1M126.34 191V228.1M132.98 191V228.1M139.62 191V228.1M146.26 191V228.1M152.9 191V228.1M159.54 191V228.1M166.18 191V228.1M172.82 191V228.1M179.46 191V228.1M86.5 195.64H186.1M86.5 200.28H186.1M86.5 204.91H186.1M86.5 209.55H186.1M86.5 214.19H186.1M86.5 218.82H186.1M86.5 223.46H186.1" stroke="#ececec" stroke-width="0.6" fill="none"/>
<clipPath id="cib"><rect x="86.5" y="191" width="99.6" height="37.1"/></clipPath>
<polyline points="86.5,209.55 106.09,209.54 106.25,209.56 106.59,209.58 106.75,209.55 106.92,209.5 107.08,209.44 107.25,209.38 107.42,209.35 107.58,209.35 107.75,209.39 107.91,209.47 108.08,209.57 108.25,209.68 108.41,209.74 108.58,209.73 108.74,209.6 108.91,209.39 109.08,209.16 109.24,209.01 109.41,208.98 109.57,209.09 109.74,209.35 109.91,209.69 110.07,209.98 110.24,210.12 110.4,210.1 110.57,209.94 110.74,209.71 110.9,209.52 111.07,209.48 111.23,209.62 111.4,209.92 111.57,210.25 111.73,210.52 111.9,210.65 112.06,210.64 112.23,210.54 112.4,210.44 112.56,210.46 112.73,210.66 112.89,210.99 113.06,211.35 113.23,211.63 113.39,211.69 113.56,211.44 113.72,210.83 113.89,209.9 114.06,208.88 114.22,208.01 114.39,207.39 114.55,206.97 114.72,206.64 114.89,206.29 115.05,205.87 115.22,205.43 115.38,205.09 115.55,205 115.72,205.36 115.88,206.46 116.05,208.55 116.21,211.22 116.38,213.43 116.55,214.7 116.71,215.17 116.88,215 117.04,214.19 117.21,212.84 117.38,211.37 117.54,210.31 117.71,209.86 117.87,209.79 118.04,209.62 118.21,208.87 118.37,207.29 118.54,205.2 118.7,203.31 118.87,202.13 119.04,201.71 119.2,202.05 119.37,203.44 119.53,206.13 119.7,209.45 119.87,211.93 120.03,212.82 120.2,212.21 120.36,210.56 120.53,208.83 120.7,208.19 120.86,209.4 121.03,212.53 121.19,216.3 121.36,218.92 121.53,220.15 121.69,220.49 121.86,220.05 122.02,218.31 122.19,214.53 122.36,209.68 122.52,206.37 122.69,205.59 122.85,207.06 123.02,210.03 123.19,212.85 123.35,214.06 123.52,202 123.68,195.82 123.85,202.69 124.02,201.7 124.18,200.21 124.35,200.53 124.51,203.04 124.68,208.53 124.85,214.87 125.01,218.58 125.18,219.68 125.34,218.88 125.51,215.39 125.68,208.43 125.84,201.84 126.01,198.74 126.17,197.81 126.34,197.92 126.51,198.97 126.67,201.31 126.84,204.55 127,207.05 127.17,207.54 127.34,206.15 127.5,216.9 127.67,222.91 127.83,216.23 128,203.46 128.17,206.76 128.33,211.43 128.5,215.37 128.66,217.3 128.83,201.59 129,195.08 129.16,202.32 129.33,205.35 129.49,201.61 129.66,200.01 129.83,199.94 129.99,201.26 130.16,204.27 130.32,208.65 130.49,212.78 130.66,215.46 130.82,216.77 130.99,217.24 131.15,217.42 131.32,217.73 131.49,218.34 131.65,219.14 131.82,219.84 131.98,220.2 132.15,219.75 132.32,228.1 132.48,218.83 132.65,214.46 132.81,210.83 132.98,207.76 133.15,206.03 133.31,205.6 133.48,206.13 133.64,207.08 133.81,207.87 133.98,208.08 134.14,207.64 134.31,206.84 134.47,206.22 134.64,206.29 134.81,207.41 134.97,209.65 135.14,212.61 135.3,215.4 135.47,217.33 135.64,218.27 135.8,218.35 135.97,217.71 136.13,216.45 136.3,214.84 136.47,213.34 136.63,212.3 136.8,200.78 136.96,193.6 137.13,201.57 137.3,210.55 137.46,209.11 137.63,207.11 137.79,204.99 137.96,203.28 138.13,202.35 138.29,202.3 138.46,203.27 138.62,205.38 138.79,208.55 138.96,212.07 139.12,214.95 139.29,216.7 139.45,217.3 139.62,216.83 139.79,215.14 139.95,212.15 140.12,208.23 140.28,204.45 140.45,201.74 140.62,200.19 140.78,199.47 140.95,199.27 141.11,199.43 141.28,199.81 141.45,200.32 141.61,200.85 141.78,201.39 141.94,202.05 142.11,203.07 142.28,204.8 142.44,207.56 142.61,211.18 142.77,215.88 142.94,221.05 143.11,215.3 143.27,218.19 143.44,217.03 143.6,214.17 143.77,209.51 143.94,204.81 144.1,201.88 144.27,200.63 144.43,200.39 144.6,200.82 144.77,201.81 144.93,203.15 145.1,204.46 145.26,205.37 145.43,205.91 145.6,206.45 145.76,207.57 145.93,209.72 146.09,212.84 146.26,215.95 146.43,218.01 146.59,218.98 146.76,219.25 146.92,219.05 147.09,218.26 147.26,216.48 147.42,213.5 147.59,210.13 147.75,207.71 147.92,206.65 148.09,206.65 148.25,207.25 148.42,207.93 148.58,208.32 148.75,208.28 148.92,207.98 149.08,207.8 149.25,208.11 149.41,209.19 149.58,211.01 149.75,213.17 149.91,215 150.08,216.16 150.24,216.68 150.41,216.68 150.58,216.24 150.74,215.44 150.91,214.45 151.07,213.54 151.24,212.93 151.41,212.65 151.57,212.52 151.74,212.31 151.9,211.8 152.07,210.92 152.24,209.76 152.4,208.55 152.57,207.57 152.73,215.47 152.9,220.31 153.07,214.93 153.23,206.4 153.4,205.93 153.56,205.1 153.73,204.06 153.9,203.1 154.06,202.42 154.23,202.11 154.39,202.17 154.56,202.65 154.73,203.6 154.89,205 155.06,206.56 155.22,207.84 155.39,208.55 155.56,208.73 155.72,208.64 155.89,208.6 156.05,208.88 156.22,209.56 156.39,210.48 156.55,211.3 156.72,211.64 156.88,211.23 157.05,209.94 157.22,207.95 157.38,205.88 157.55,204.35 157.71,203.6 157.88,203.61 158.05,204.4 158.21,206.04 158.38,208.33 158.54,210.61 158.71,212.21 158.88,212.98 159.04,213.07 159.21,212.78 159.37,212.45 159.54,212.46 159.71,212.97 159.87,213.92 160.04,214.99 160.2,215.87 160.37,216.39 160.54,216.53 160.7,216.31 160.87,215.7 161.03,214.74 161.2,213.53 161.37,212.33 161.53,211.37 161.7,210.72 161.86,210.3 162.03,209.93 162.2,209.44 162.36,208.73 162.53,207.83 162.69,214.86 162.86,219.2 163.03,214.37 163.19,205.68 163.36,206.25 163.52,207.45 163.69,209.25 163.86,211.36 164.02,213.28 164.19,214.68 164.35,215.46 164.52,215.69 164.69,215.39 164.85,214.5 165.02,212.89 165.18,210.6 165.35,208.07 165.52,205.88 165.68,204.34 165.85,203.4 166.01,202.89 166.18,202.66 166.35,202.65 166.51,202.81 166.68,203.18 166.84,203.82 167.01,204.85 167.18,206.38 167.34,208.38 167.51,210.58 167.67,212.52 167.84,213.89 168.01,214.63 168.17,214.83 168.34,214.53 168.5,213.79 168.67,212.63 168.84,211.2 169,209.69 169.17,208.3 169.33,207.12 169.5,206.17 169.67,205.44 169.83,204.93 170,202.41 170.16,196.57 170.33,203.06 170.5,206.05 170.66,207.39 170.83,209 170.99,210.51 171.16,211.55 171.33,211.96 171.49,211.71 171.66,210.93 171.82,209.86 171.99,208.84 172.16,208.2 172.32,208.06 172.49,208.36 172.65,208.89 172.82,209.29 172.99,209.25 173.15,208.6 173.32,207.45 173.48,206.16 173.65,205.18 173.82,204.82 173.98,205.25 174.15,206.68 174.31,209.18 174.48,212.1 174.65,214.32 174.81,215.47 174.98,215.79 175.14,215.49 175.31,214.63 175.48,213.41 175.64,212.35 175.81,212.07 175.97,212.74 176.14,213.98 176.31,215.13 176.47,215.76 176.64,215.77 176.8,215 176.97,213.03 177.14,209.76 177.3,206.54 177.47,204.7 177.63,204.18 177.8,204.69 177.97,206.24 178.13,208.55 178.3,210.59 178.46,211.44 178.63,210.87 178.8,209.07 178.96,206.8 179.13,205.17 179.29,204.57 179.46,205.01 179.63,206.66 179.79,209.43 179.96,212.12 180.12,213.57 180.29,213.63 180.46,212.27 180.62,209.41 180.79,206.22 180.95,204.22 181.12,203.45 181.29,203.46 181.45,204.14 181.62,205.57 181.78,207.4 181.95,208.73 182.12,208.95 182.28,208.07 182.45,206.7 182.61,205.26 182.78,201.76 182.95,205.65 183.11,207.15 183.28,209.74 183.44,212.39 183.61,214.08 183.78,214.75 183.94,214.69 184.11,214.01 184.27,212.85 184.44,211.61 184.61,210.93 184.77,211.13 184.94,212.11 185.1,213.35 185.27,214.32 185.44,214.8 185.6,214.78 185.77,214.25 185.93,213.12 186.1,211.49" fill="none" stroke="#0072bd" stroke-width="0.8" stroke-linejoin="round" clip-path="url(#cib)"/>
<path d="M86.5 228.1v-1.2M86.5 191v1.2M119.7 228.1v-1.2M119.7 191v1.2M152.9 228.1v-1.2M152.9 191v1.2M186.1 228.1v-1.2M186.1 191v1.2" stroke="#333" stroke-width="0.6" fill="none"/>
<rect x="86.5" y="191" width="99.6" height="37.1" fill="none" stroke="#505050" stroke-width="0.7"/>
<text x="86.5" y="234.8" font-family='"Liberation Sans", sans-serif' font-size="5.3" font-weight="bold" fill="#333" text-anchor="middle" >1.5</text>
<text x="119.7" y="234.8" font-family='"Liberation Sans", sans-serif' font-size="5.3" font-weight="bold" fill="#333" text-anchor="middle" >1.6</text>
<text x="152.9" y="234.8" font-family='"Liberation Sans", sans-serif' font-size="5.3" font-weight="bold" fill="#333" text-anchor="middle" >1.7</text>
<text x="186.1" y="234.8" font-family='"Liberation Sans", sans-serif' font-size="5.3" font-weight="bold" fill="#333" text-anchor="middle" >1.8</text>
<text x="85.3" y="192.9" font-family='"Liberation Sans", sans-serif' font-size="5.2" font-weight="bold" fill="#333" text-anchor="end" >1</text>
<text x="85.3" y="211.45" font-family='"Liberation Sans", sans-serif' font-size="5.2" font-weight="bold" fill="#333" text-anchor="end" >0</text>
<text x="85.3" y="230" font-family='"Liberation Sans", sans-serif' font-size="5.2" font-weight="bold" fill="#333" text-anchor="end" >-1</text>
</g>
<g>
<rect x="217.2" y="403.5" width="99.5" height="36.9" fill="#fff"/>
<path d="M223.83 403.5V440.4M230.47 403.5V440.4M237.1 403.5V440.4M243.73 403.5V440.4M250.37 403.5V440.4M257 403.5V440.4M263.63 403.5V440.4M270.27 403.5V440.4M276.9 403.5V440.4M283.53 403.5V440.4M290.17 403.5V440.4M296.8 403.5V440.4M303.43 403.5V440.4M310.07 403.5V440.4M217.2 408.11H316.7M217.2 412.73H316.7M217.2 417.34H316.7M217.2 421.95H316.7M217.2 426.56H316.7M217.2 431.17H316.7M217.2 435.79H316.7" stroke="#ececec" stroke-width="0.6" fill="none"/>
<clipPath id="cic"><rect x="217.2" y="403.5" width="99.5" height="36.9"/></clipPath>
<polyline points="217.2,423.82 217.6,423.57 218,423.45 218.39,423.68 218.79,424.15 219.19,424.45 219.59,424.28 219.99,423.63 220.38,422.91 220.78,422.53 221.18,422.52 221.58,422.62 221.98,422.43 222.37,421.96 222.77,421.29 223.17,420.95 223.57,421.32 223.97,422.19 224.36,422.95 224.76,423.44 225.16,423.79 225.56,423.89 225.96,423.56 226.35,423.39 226.75,423.49 227.15,423.77 227.55,424.17 227.95,424.37 228.34,424.31 228.74,424.04 229.14,423.54 229.54,422.93 229.94,422.47 230.33,422.24 230.73,422.27 231.13,422.58 231.53,422.93 231.93,423.1 232.32,423.09 232.72,423.01 233.12,422.89 233.52,422.61 233.92,421.94 234.31,421.34 234.71,421.19 235.11,421.39 235.51,421.66 235.91,421.25 236.3,420.11 236.7,419.08 237.1,419.21 237.5,420.84 237.9,423.67 238.29,425.52 238.69,425.13 239.09,423.39 239.49,422.06 239.89,420.16 240.28,418.35 240.68,418.64 241.08,422.38 241.48,424.99 241.88,425.88 242.27,424.75 242.67,421.4 243.07,418.34 243.47,417.06 243.87,416.89 244.26,417.83 244.66,419.66 245.06,421.04 245.46,422.13 245.86,423.25 246.25,423.15 246.65,422.23 247.05,421.48 247.45,422.17 247.85,423.51 248.24,425.69 248.64,425.37 249.04,423.21 249.44,420.97 249.84,418.58 250.23,419.47 250.63,416.43 251.03,415.88 251.43,424.72 251.83,431.64 252.22,435.79 252.62,430.94 253.02,420.66 253.42,417.43 253.82,415.49 254.21,417.75 254.61,420.98 255.01,424.09 255.41,424.52 255.81,423.09 256.2,420.65 256.6,419.5 257,418.93 257.4,419.42 257.8,422.61 258.19,426.08 258.59,427.1 258.99,426.48 259.39,425.32 259.79,423.52 260.18,422.52 260.58,423.32 260.98,423.97 261.38,423.83 261.78,421.7 262.17,418.19 262.57,416.1 262.97,415.86 263.37,416.93 263.77,418.26 264.16,418.51 264.56,417.53 264.96,416.62 265.36,416.83 265.76,418.39 266.15,421.05 266.55,423.47 266.95,424.77 267.35,425.85 267.75,426.85 268.14,427.94 268.54,427.97 268.94,426.05 269.34,422.8 269.74,419.07 270.13,411.88 270.53,407.56 270.93,412.6 271.33,419.79 271.73,425.64 272.12,434.87 272.52,440.4 272.92,433.94 273.32,424.72 273.72,422.66 274.11,416.3 274.51,411.04 274.91,413.89 275.31,419.49 275.71,428.78 276.1,430.69 276.5,429.84 276.9,427.87 277.3,425.85 277.7,423.94 278.09,421.62 278.49,420.39 278.89,420.49 279.29,421.91 279.69,424.84 280.08,426.35 280.48,424.36 280.88,417.71 281.28,410.53 281.68,408.46 282.07,409.65 282.47,424.61 282.87,431.25 283.27,435.23 283.67,430.58 284.06,423.94 284.46,429.39 284.86,418.81 285.26,410.97 285.66,406.27 286.05,411.76 286.45,419.6 286.85,432.51 287.25,435.21 287.65,431.82 288.04,419.74 288.44,409.96 288.84,406.57 289.24,407.29 289.64,414.04 290.03,427.96 290.43,433.54 290.83,432.74 291.23,427.01 291.63,417.87 292.02,414.66 292.42,417.13 292.82,423.56 293.22,428.55 293.62,428.99 294.01,426.94 294.41,422.67 294.81,419.68 295.21,419.61 295.61,422 296,424.83 296.4,424.27 296.8,421.25 297.2,418.78 297.6,419.27 297.99,422.32 298.39,427.31 298.79,430.22 299.19,429.43 299.59,424.07 299.98,417.35 300.38,414.82 300.78,416.08 301.18,423.03 301.58,429.51 301.97,430.18 302.37,427.32 302.77,420.99 303.17,414.28 303.57,412.53 303.96,414.37 304.36,420.98 304.76,427.08 305.16,427.65 305.56,424.02 305.95,418.72 306.35,416.42 306.75,417.88 307.15,421.73 307.55,424.51 307.94,424.04 308.34,420.95 308.74,419.17 309.14,421.12 309.54,425.05 309.93,428.35 310.33,429.62 310.73,425.24 311.13,417.4 311.53,413.48 311.92,412.64 312.32,417.1 312.72,419.37 313.12,412.91 313.52,409.03 313.91,413.56 314.31,420.01 314.71,411.02 315.11,424.39 315.51,430.47 315.9,434.13 316.3,429.87 316.7,423.78" fill="none" stroke="#0072bd" stroke-width="0.8" stroke-linejoin="round" clip-path="url(#cic)"/>
<path d="M217.2 440.4v-1.2M217.2 403.5v1.2M237.1 440.4v-1.2M237.1 403.5v1.2M257 440.4v-1.2M257 403.5v1.2M276.9 440.4v-1.2M276.9 403.5v1.2M296.8 440.4v-1.2M296.8 403.5v1.2M316.7 440.4v-1.2M316.7 403.5v1.2" stroke="#333" stroke-width="0.6" fill="none"/>
<rect x="217.2" y="403.5" width="99.5" height="36.9" fill="none" stroke="#505050" stroke-width="0.7"/>
<text x="217.2" y="447.8" font-family='"Liberation Sans", sans-serif' font-size="5.3" font-weight="bold" fill="#333" text-anchor="middle" >0.1</text>
<text x="237.1" y="447.8" font-family='"Liberation Sans", sans-serif' font-size="5.3" font-weight="bold" fill="#333" text-anchor="middle" >0.12</text>
<text x="257" y="447.8" font-family='"Liberation Sans", sans-serif' font-size="5.3" font-weight="bold" fill="#333" text-anchor="middle" >0.14</text>
<text x="276.9" y="447.8" font-family='"Liberation Sans", sans-serif' font-size="5.3" font-weight="bold" fill="#333" text-anchor="middle" >0.16</text>
<text x="296.8" y="447.8" font-family='"Liberation Sans", sans-serif' font-size="5.3" font-weight="bold" fill="#333" text-anchor="middle" >0.18</text>
<text x="316.7" y="447.8" font-family='"Liberation Sans", sans-serif' font-size="5.3" font-weight="bold" fill="#333" text-anchor="middle" >0.2</text>
<text x="216" y="405.4" font-family='"Liberation Sans", sans-serif' font-size="5.2" font-weight="bold" fill="#333" text-anchor="end" >1</text>
<text x="216" y="423.85" font-family='"Liberation Sans", sans-serif' font-size="5.2" font-weight="bold" fill="#333" text-anchor="end" >0</text>
<text x="216" y="442.3" font-family='"Liberation Sans", sans-serif' font-size="5.2" font-weight="bold" fill="#333" text-anchor="end" >-1</text>
</g>
<g>
<rect x="216.7" y="568" width="99.3" height="36.7" fill="#fff"/>
<path d="M223.32 568V604.7M229.94 568V604.7M236.56 568V604.7M243.18 568V604.7M249.8 568V604.7M256.42 568V604.7M263.04 568V604.7M269.66 568V604.7M276.28 568V604.7M282.9 568V604.7M289.52 568V604.7M296.14 568V604.7M302.76 568V604.7M309.38 568V604.7M216.7 572.59H316M216.7 577.17H316M216.7 581.76H316M216.7 586.35H316M216.7 590.94H316M216.7 595.53H316M216.7 600.11H316" stroke="#ececec" stroke-width="0.6" fill="none"/>
<clipPath id="cid"><rect x="216.7" y="568" width="99.3" height="36.7"/></clipPath>
<polyline points="216.7,586.35 232.99,586.35 233.38,586.06 233.78,585.69 234.18,585.36 234.57,584.95 234.97,584.72 235.37,584.41 235.77,584.19 236.16,584.24 236.56,584.76 236.96,586.06 237.35,587.91 237.75,589.27 238.15,589.82 238.55,589.8 238.94,589.06 239.34,587.22 239.74,585.32 240.13,584.71 240.53,585.41 240.93,586.83 241.33,587.69 241.72,587.2 242.12,585.36 242.52,583.55 242.92,582.84 243.31,583.13 243.71,584.57 244.11,586.69 244.5,587.93 244.9,587.88 245.3,586.97 245.7,586.17 246.09,586.36 246.49,587.59 246.89,588.96 247.28,589.54 247.68,589.01 248.08,587.2 248.48,584.83 248.87,583.23 249.27,582.75 249.67,584.81 250.06,580.96 250.46,578.64 250.86,581.34 251.26,585.19 251.65,588.63 252.05,594.31 252.45,597.73 252.85,593.75 253.24,588.06 253.64,586.83 254.04,588.88 254.43,589.77 254.83,588.96 255.23,585.97 255.63,582.72 256.02,581.57 256.42,581.67 256.82,582.95 257.21,585.88 257.61,588.29 258.01,588.76 258.41,588.04 258.8,587.22 259.2,587.44 259.6,588.92 259.99,590.39 260.39,590.95 260.79,590.34 261.19,587.86 261.58,584.46 261.98,582.62 262.38,582.46 262.78,583.32 263.17,584.18 263.57,583.94 263.97,582.67 264.36,581.5 264.76,581.3 265.16,582.55 265.56,585.55 265.95,589.04 266.35,591.3 266.75,592.65 267.14,593.16 267.54,593.08 267.94,592.51 268.34,591.3 268.73,589.09 269.13,583.05 269.53,574.79 269.92,569.84 270.32,575.62 270.72,583.87 271.12,590.02 271.51,599.2 271.91,604.7 272.31,598.28 272.71,589.1 273.1,584.33 273.5,579.29 273.9,576.26 274.29,579.79 274.69,584.84 275.09,593.37 275.49,595.33 275.88,595.39 276.28,593.75 276.68,590.54 277.07,586.54 277.47,583.33 277.87,582.17 278.27,583.62 278.66,587.43 279.06,591.59 279.46,593.4 279.85,591.31 280.25,584.21 280.65,576.19 281.05,572.66 281.44,572.23 281.84,588.92 282.24,595.34 282.64,599.2 283.03,594.7 283.43,588.28 283.83,596.78 284.22,583.01 284.62,574.66 285.02,569.65 285.42,575.5 285.81,583.85 286.21,597.35 286.61,598.42 287,594.33 287.4,582.01 287.8,573.17 288.2,571.33 288.59,572.65 288.99,579.12 289.39,592.35 289.78,597.38 290.18,596.82 290.58,591.84 290.98,582.97 291.37,579.32 291.77,580.94 292.17,587.05 292.57,592.54 292.96,593.81 293.36,591.86 293.76,586.23 294.15,581.61 294.55,581 294.95,583.55 295.35,587.26 295.74,588.44 296.14,586.23 296.54,582.88 296.93,581.76 297.33,584.05 297.73,589.05 298.13,592.13 298.52,591.58 298.92,586.6 299.32,580.55 299.71,578.73 300.11,580.19 300.51,587 300.91,593.42 301.3,594.77 301.7,593.69 302.1,588.28 302.5,581.5 302.89,579.66 303.29,581.22 303.69,585.9 304.08,589.77 304.48,589.97 304.88,586.98 305.28,583.25 305.67,581.81 306.07,582.85 306.47,585.43 306.86,587.46 307.26,587.44 307.66,586.14 308.06,585.86 308.45,588.28 308.85,592.1 309.25,594.19 309.64,593.46 310.04,587.95 310.44,579.82 310.84,576.56 311.23,577.03 311.63,582.73 312.03,583.71 312.43,577.1 312.82,573.14 313.22,577.76 313.62,584.37 314.01,576.4 314.41,588.74 314.81,594.7 315.21,598.28 315.6,594.1 316,588.14" fill="none" stroke="#0072bd" stroke-width="0.8" stroke-linejoin="round" clip-path="url(#cid)"/>
<path d="M216.7 604.7v-1.2M216.7 568v1.2M236.56 604.7v-1.2M236.56 568v1.2M256.42 604.7v-1.2M256.42 568v1.2M276.28 604.7v-1.2M276.28 568v1.2M296.14 604.7v-1.2M296.14 568v1.2M316 604.7v-1.2M316 568v1.2" stroke="#333" stroke-width="0.6" fill="none"/>
<rect x="216.7" y="568" width="99.3" height="36.7" fill="none" stroke="#505050" stroke-width="0.7"/>
<text x="216.7" y="611.6" font-family='"Liberation Sans", sans-serif' font-size="5.3" font-weight="bold" fill="#333" text-anchor="middle" >0.1</text>
<text x="236.56" y="611.6" font-family='"Liberation Sans", sans-serif' font-size="5.3" font-weight="bold" fill="#333" text-anchor="middle" >0.12</text>
<text x="256.42" y="611.6" font-family='"Liberation Sans", sans-serif' font-size="5.3" font-weight="bold" fill="#333" text-anchor="middle" >0.14</text>
<text x="276.28" y="611.6" font-family='"Liberation Sans", sans-serif' font-size="5.3" font-weight="bold" fill="#333" text-anchor="middle" >0.16</text>
<text x="296.14" y="611.6" font-family='"Liberation Sans", sans-serif' font-size="5.3" font-weight="bold" fill="#333" text-anchor="middle" >0.18</text>
<text x="316" y="611.6" font-family='"Liberation Sans", sans-serif' font-size="5.3" font-weight="bold" fill="#333" text-anchor="middle" >0.2</text>
<text x="215.5" y="569.9" font-family='"Liberation Sans", sans-serif' font-size="5.2" font-weight="bold" fill="#333" text-anchor="end" >1</text>
<text x="215.5" y="588.25" font-family='"Liberation Sans", sans-serif' font-size="5.2" font-weight="bold" fill="#333" text-anchor="end" >0</text>
<text x="215.5" y="606.6" font-family='"Liberation Sans", sans-serif' font-size="5.2" font-weight="bold" fill="#333" text-anchor="end" >-1</text>
</g>
<text x="91.6" y="142.4" font-family='"Liberation Serif", serif' font-size="14.3" font-weight="bold" fill="#0606d4" text-anchor="start" >SNR = 2.8</text>
<text x="91.6" y="306.8" font-family='"Liberation Serif", serif' font-size="14.3" font-weight="bold" fill="#0606d4" text-anchor="start" >SNR = 1505.1</text>
<text x="91.6" y="519.2" font-family='"Liberation Serif", serif' font-size="14.3" font-weight="bold" fill="#0606d4" text-anchor="start" >SNR = 3.8</text>
<text x="91.6" y="685.2" font-family='"Liberation Serif", serif' font-size="14.3" font-weight="bold" fill="#0606d4" text-anchor="start" >SNR &gt; 1000</text>
<text x="315.3" y="143" font-family='"Liberation Serif", serif' font-size="15.6" font-weight="bold" fill="#111" text-anchor="end" >Raw</text>
<text x="326.9" y="307.9" font-family='"Liberation Serif", serif' font-size="15.6" font-weight="bold" fill="#111" text-anchor="end" >Denoised</text>
<text x="315.3" y="519.1" font-family='"Liberation Serif", serif' font-size="15.6" font-weight="bold" fill="#111" text-anchor="end" >Raw</text>
<text x="326.9" y="684.3" font-family='"Liberation Serif", serif' font-size="15.6" font-weight="bold" fill="#111" text-anchor="end" >Denoised</text>
<defs><filter id="b0" x="-2%" y="-2%" width="104%" height="104%"><feGaussianBlur stdDeviation="0.5"/></filter><filter id="b1" x="-5%" y="-5%" width="110%" height="110%"><feGaussianBlur stdDeviation="0.9"/></filter><filter id="b2" x="-5%" y="-5%" width="110%" height="110%"><feGaussianBlur stdDeviation="1.6"/></filter><filter id="tx6" x="0" y="0" width="100%" height="100%"><feTurbulence type="fractalNoise" baseFrequency="0.42 0.014" numOctaves="2" seed="7"/><feColorMatrix type="matrix" values="0 0 0 0 0.24  0 0 0 0 0.34  0 0 0 0 0.9  0 0 0 3.4 -1.45"/></filter><filter id="tx6b" x="0" y="0" width="100%" height="100%"><feTurbulence type="fractalNoise" baseFrequency="0.33 0.05" numOctaves="2" seed="23"/><feColorMatrix type="matrix" values="0 0 0 0 0.2  0 0 0 0 0.6  0 0 0 0 0.95  0 0 0 6 -3.75"/></filter><filter id="tx2" x="0" y="0" width="100%" height="100%"><feTurbulence type="fractalNoise" baseFrequency="0.65 0.035" numOctaves="2" seed="11"/><feColorMatrix type="matrix" values="0 0 0 0 0.28  0 0 0 0 0.4  0 0 0 0 0.92  0 0 0 2.4 -1.05"/></filter><filter id="tx2b" x="0" y="0" width="100%" height="100%"><feTurbulence type="fractalNoise" baseFrequency="0.7 0.3" numOctaves="1" seed="5"/><feColorMatrix type="matrix" values="0 0 0 0 0.36  0 0 0 0 0.74  0 0 0 0 0.88  0 0 0 4 -1.95"/></filter></defs>
<clipPath id="s2"><rect x="416.7" y="33.4" width="257.1" height="114.8"/></clipPath>
<g clip-path="url(#s2)">
<rect x="415.7" y="32.4" width="259.1" height="116.8" fill="#3e26a8"/>
<linearGradient id="g2" x1="0" y1="0" x2="0" y2="1"><stop offset="0" stop-color="#4656e4" stop-opacity="0"/><stop offset="0.34" stop-color="#4656e4" stop-opacity="0"/><stop offset="0.4" stop-color="#4656e4" stop-opacity="0.06"/><stop offset="0.46" stop-color="#4656e4" stop-opacity="0.13"/><stop offset="0.58" stop-color="#4656e4" stop-opacity="0.17"/><stop offset="0.64" stop-color="#4656e4" stop-opacity="0.24"/><stop offset="0.67" stop-color="#4656e4" stop-opacity="0.38"/><stop offset="0.69" stop-color="#4656e4" stop-opacity="0.25"/><stop offset="0.73" stop-color="#4656e4" stop-opacity="0.15"/><stop offset="0.79" stop-color="#4656e4" stop-opacity="0.15"/><stop offset="0.81" stop-color="#4656e4" stop-opacity="0.26"/><stop offset="0.83" stop-color="#4656e4" stop-opacity="0.15"/><stop offset="0.88" stop-color="#4656e4" stop-opacity="0.13"/><stop offset="0.95" stop-color="#4656e4" stop-opacity="0.2"/><stop offset="1" stop-color="#4656e4" stop-opacity="0.24"/></linearGradient>
<rect x="416.7" y="33.4" width="257.1" height="114.8" fill="url(#g2)"/>
<linearGradient id="mk2g" x1="0" y1="0" x2="0" y2="1"><stop offset="0" stop-color="#fff" stop-opacity="0"/><stop offset="0.35" stop-color="#fff" stop-opacity="0"/><stop offset="0.4" stop-color="#fff" stop-opacity="0.3"/><stop offset="0.45" stop-color="#fff" stop-opacity="0.8"/><stop offset="0.6" stop-color="#fff" stop-opacity="1"/><stop offset="0.67" stop-color="#fff" stop-opacity="1"/><stop offset="0.71" stop-color="#fff" stop-opacity="0.6"/><stop offset="0.76" stop-color="#fff" stop-opacity="0.25"/><stop offset="0.81" stop-color="#fff" stop-opacity="0.35"/><stop offset="0.85" stop-color="#fff" stop-opacity="0.2"/><stop offset="0.92" stop-color="#fff" stop-opacity="0.2"/><stop offset="1" stop-color="#fff" stop-opacity="0.3"/></linearGradient>
<mask id="mk2" maskUnits="userSpaceOnUse" x="416.7" y="33.4" width="257.1" height="114.8"><rect x="416.7" y="33.4" width="257.1" height="114.8" fill="url(#mk2g)"/></mask>
<g mask="url(#mk2)"><rect x="416.7" y="33.4" width="257.1" height="114.8" filter="url(#tx2)" opacity="0.45"/></g>
<linearGradient id="mk2bg" x1="0" y1="0" x2="0" y2="1"><stop offset="0" stop-color="#fff" stop-opacity="0"/><stop offset="0.61" stop-color="#fff" stop-opacity="0"/><stop offset="0.64" stop-color="#fff" stop-opacity="0.6"/><stop offset="0.66" stop-color="#fff" stop-opacity="1"/><stop offset="0.69" stop-color="#fff" stop-opacity="0.6"/><stop offset="0.71" stop-color="#fff" stop-opacity="0"/><stop offset="0.8" stop-color="#fff" stop-opacity="0"/><stop offset="0.81" stop-color="#fff" stop-opacity="0.5"/><stop offset="0.81" stop-color="#fff" stop-opacity="0.6"/><stop offset="0.82" stop-color="#fff" stop-opacity="0.4"/><stop offset="0.83" stop-color="#fff" stop-opacity="0"/><stop offset="1" stop-color="#fff" stop-opacity="0"/></linearGradient>
<mask id="mk2b" maskUnits="userSpaceOnUse" x="416.7" y="33.4" width="257.1" height="114.8"><rect x="416.7" y="33.4" width="257.1" height="114.8" fill="url(#mk2bg)"/></mask>
<g mask="url(#mk2b)"><rect x="416.7" y="33.4" width="257.1" height="114.8" filter="url(#tx2b)" opacity="0.6"/></g>
<g filter="url(#b1)">
<path d="M551.25 127.32L552.19 126.35L553.13 126.82L554.08 126.42L555.02 126.07L555.96 126.68L556.91 126.73L557.85 127.32L558.79 127.05L559.73 126.73L560.68 126.49L561.62 126.31L562.56 126.9L563.5 127.33L564.45 127.02L565.39 126.17L566.33 127.13L567.27 126.8L568.22 126.14L569.16 127.39L570.1 126.59L571.05 126.11L571.99 127.1L572.93 126.67L573.87 126.17L574.82 127.24L575.76 126.7L576.7 126.39L577.64 126.5L578.59 126.78L579.53 127.14L580.47 126.75L581.42 126.91L582.36 126.76L583.3 126.92L584.24 126.27L585.19 126.36L586.13 126.99L587.07 126.63" fill="none" stroke="#27a8e2" stroke-width="2.2" stroke-opacity="0.5" stroke-linecap="round" stroke-linejoin="round" />
<path d="M550.39 142.8L551.1 143L552.11 143.29L553.24 143.61L554.27 143.9L555.17 144.19L556.04 144.5L556.89 144.75L557.73 144.83L558.55 144.71L559.34 144.44L560.13 144.09L560.94 143.73L561.74 143.28L562.53 142.73L563.39 142.28L564.41 142.13L565.69 142.45L567.16 143.1L568.63 143.77L569.94 144.15L571.02 144.1L571.96 143.81L572.84 143.44L573.71 143.16L574.56 142.96L575.36 142.76L576.17 142.66L577.03 142.74L577.97 143.13L578.95 143.76L579.96 144.37L580.95 144.69L581.91 144.61L582.86 144.28L583.82 143.87L584.85 143.53L586 143.28L587.24 143.05L588.45 142.85L589.55 142.72L590.44 142.67L591.19 142.68L591.97 142.73L592.94 142.77L594.19 142.79L595.61 142.8L597.1 142.84L598.53 142.97L599.88 143.28L601.21 143.7L602.55 144.08L603.92 144.26L605.37 144.09L606.87 143.69L608.34 143.31L609.68 143.17L610.82 143.49L611.81 144.08L612.8 144.63L613.92 144.83L615.22 144.44L616.62 143.67L618.06 142.9L619.49 142.5L620.91 142.65L622.36 143.14L623.76 143.69L625.04 144.06L626.11 144.19L627.05 144.21L627.97 144.15L629 144.06L630.17 143.89L631.41 143.64L632.71 143.41L634.03 143.3L635.4 143.4L636.81 143.65L638.24 143.86L639.65 143.87L641.09 143.47L642.56 142.81L643.97 142.23L645.23 142.07L646.23 142.63L647.05 143.65L647.88 144.66L648.9 145.18L650.27 144.96L651.85 144.28L653.42 143.52L654.76 143.02L655.77 142.94L656.58 143.06L657.34 143.21L658.17 143.22L659.07 142.93L659.97 142.48L660.96 142.1L662.09 142.01L663.47 142.41L665.03 143.14L666.58 143.87L667.91 144.3L669.01 144.27L669.97 143.97L670.75 143.6L671.31 143.36" fill="none" stroke="#3f78f4" stroke-width="2" stroke-opacity="0.3" stroke-linecap="round" stroke-linejoin="round" />
<path d="M553.82 145.9L554.14 144.35L554.6 142.11L555.1 139.72L555.53 137.75L555.88 136.11L556.18 134.59L556.48 133.52L556.82 133.28L557.21 134.21L557.62 136.06L558.06 138.19L558.53 139.99L559.09 141.43L559.71 142.79L560.28 143.95L560.68 144.76" fill="none" stroke="#3f78f4" stroke-width="1.6" stroke-opacity="0.3" stroke-linecap="round" stroke-linejoin="round" />
<path d="M559.82 145.9L560.14 144.66L560.6 142.87L561.09 140.96L561.53 139.36L561.87 138L562.18 136.7L562.48 135.79L562.82 135.57L563.21 136.38L563.62 137.96L564.06 139.77L564.53 141.25L565.09 142.37L565.71 143.36L566.28 144.18L566.67 144.76" fill="none" stroke="#3f78f4" stroke-width="1.6" stroke-opacity="0.3" stroke-linecap="round" stroke-linejoin="round" />
<path d="M568.39 145.9L568.71 144.9L569.17 143.44L569.66 141.88L570.1 140.57L570.44 139.41L570.75 138.29L571.05 137.49L571.39 137.29L571.78 138L572.19 139.38L572.63 140.95L573.1 142.2L573.66 143.07L574.28 143.79L574.85 144.35L575.25 144.76" fill="none" stroke="#3f78f4" stroke-width="1.6" stroke-opacity="0.3" stroke-linecap="round" stroke-linejoin="round" />
<path d="M579.53 145.9L579.85 145.13L580.31 144.01L580.81 142.8L581.24 141.77L581.59 140.82L581.89 139.88L582.19 139.19L582.53 139.02L582.92 139.62L583.33 140.81L583.77 142.13L584.24 143.15L584.8 143.77L585.42 144.21L585.99 144.53L586.39 144.76" fill="none" stroke="#3f78f4" stroke-width="1.6" stroke-opacity="0.3" stroke-linecap="round" stroke-linejoin="round" />
<path d="M665.23 145.9L665.55 145.44L666.01 144.77L666.51 144.04L666.94 143.38L667.29 142.71L667.59 141.99L667.89 141.45L668.23 141.31L668.62 141.79L669.03 142.71L669.47 143.71L669.94 144.41L670.5 144.7L671.12 144.78L671.69 144.76L672.09 144.76" fill="none" stroke="#3f78f4" stroke-width="1.6" stroke-opacity="0.3" stroke-linecap="round" stroke-linejoin="round" />
<path d="M552.53 145.33L552.89 144.76L553.39 143.92L554 143.13L554.68 142.69L555.42 142.76L556.26 143.14L557.16 143.64L558.11 144.07L559.22 144.4L560.46 144.73L561.6 145.01L562.39 145.22" fill="none" stroke="#27a8e2" stroke-width="2.2" stroke-opacity="0.4" stroke-linecap="round" stroke-linejoin="round" />
</g>
<g filter="url(#b0)">
<path d="M474.34 93.75v4.92M671.98 82.84v3.5M570.86 95.98v4.34M476.31 82.9v3.43M529.51 96.39v3.03M641.11 91.55v4.1M472.84 84.69v3.43M466.5 91.24v4.14M536.15 93.46v4.59M505.09 84v4.32M516.11 95.17v2.12M423.94 97.12v2.63M442.68 89.78v2.93M435.85 90.29v3.79M509.22 94.64v4.27M587.1 84.47v4.41M649.47 89.47v2.31M659.87 93.57v2.7M488.14 84.64v2.51M431.54 95.07v2.57M646.81 94.41v2.05M537.25 84.4v4.15M621.89 85.94v3.04M574.81 85.06v2.94M462.85 90.55v4.25M570.3 92.12v2.42M493 91.44v4.55M529.97 85.03v3.2M479.94 83.83v4.09M670.85 93.74v4.58M555.44 91.67v3.36M553.22 90.26v3.34M478.08 87.02v4.96M662.09 94.86v2.29M667.23 93.71v3.04M645 92.52v2.36M522.94 91.78v1.68M609.45 92.37v4.27M619.33 91.97v2.08M623.19 90.65v2.73M664.49 84.78v3.46M466.13 88.32v1.74M654.56 97.1v2.4M497.09 97.43v1.9M425.1 90.59v3.84M484.13 90.44v4.63M461.98 92.72v4.59M430.18 97.49v3.6M446.93 84.78v3.59M597.6 91.83v2.61M473.54 88.59v2.72M596.38 89.15v2.68M628.49 89.05v2.06M562.4 95.15v1.52M508.6 96.62v2.4M652 85.8v3.36M521.8 88.46v4.97M513.01 93.58v4.28M538.45 87.02v4.37M656.47 88.29v2.15M644.14 87.96v4.62M608.29 84.83v2.25M481.57 92.23v2.54M519.27 96.11v3.91M623.64 83.84v2.03M464.48 93.44v3.73M614.88 84.51v4.48M497.1 89.77v1.9M487.25 87.7v2.68M483.67 94.77v2.15" stroke="#4fa4ea" stroke-width="0.9" stroke-opacity="0.55" fill="none"/>
<path d="M441.61 111.82v1.52M455.88 110.5v1.4M669.87 110.57v1.17M602.54 109.33v2.25M533 108.93v1.78M588.49 110.11v2.1M493.58 110.22v1.5M490.43 109.78v1.57M628.25 110.57v1.5M608.58 108.24v1.4M632.69 109.44v1.56M616.37 111.25v2.23M622.85 110.53v1.49M529.89 108.96v1.51M628.68 110.05v2.44M633.33 108.23v2.05M421.93 110.25v2.46M512.35 109.5v1.5M563.3 109.53v1.43M616.87 108.07v1.42M532.07 109.43v2.17M611.48 110.31v1.89M504.13 110v2.49M666.92 109.42v1.64M528.28 109.15v1.42M617.02 107.89v1.73M552.94 112.82v1.72M658.47 110.33v2.55M645.71 108.03v1.65M567.29 109.47v2.59M669.8 108.14v1.6M418.71 110.6v2.37M641.79 109.15v2.15M666.33 111.8v1.4M452.19 110.79v2.03M631.99 110.45v1.05M432.52 108.84v1.44M519.37 112.57v2.37M566.11 110.08v1.54M651.27 111.95v2.45M426.84 106.64v1.42M428.17 112.28v2.11M520.61 109.48v1.1M503.57 109.5v1.87M420.36 110.4v2.1M477.47 110.31v2.1M533.56 109.2v2.01M456.42 108.77v2.02M661.66 110.74v2.05M655.31 109.12v2.34M494.76 110.67v2.54M471.63 111.69v2.31M510.75 110.25v1.75M420.73 110.12v1.51M620.45 108.17v1.91M656.96 109.42v1.39M578.02 109.49v2.43M430.22 108.7v1.02M419.1 111.96v1.98M517.61 109.41v1.88M660.43 106.94v1.16M644.8 110.9v2.55M480.92 108.91v2.26M466.39 111.15v1.45M468.7 108.77v2.56M621.91 107.27v1.37M535.5 112.43v1.23M611.97 109.06v1.58M658.79 109.87v2.13M452.32 109.71v1.16M642.77 109.47v1.95M654.39 109.83v2.49M522.68 110.14v1.73M529.83 111.5v1.57M607.86 111.3v2.37M499.5 110.13v1.53M655.27 110.05v2.57M600.85 110.74v1.91M471.86 109.64v1.17M431.23 110.23v1.87M564.92 106.55v1.97M489.36 108.21v1.97M487.69 105.71v1.77M666.69 108.99v1.72M564.6 111.37v1.12M506.76 107.27v1.8M424.6 108.6v1.48M567.03 109.79v1.94M648.63 108.47v1.48M614.47 108.83v1.12M484.56 109.47v1.53M640.03 110.23v1.93M598.95 109v2.06M517.22 108.96v1.48M559.1 107.48v1.2M590.49 109.59v1.23M420.19 107.27v2.06M597.28 111.16v1.03M494.15 110.29v1.32M576.36 109.6v2.06M635.8 110.1v2.05M528.24 110.9v1.77M432.7 109.93v1.88M640.03 109.34v2.49M522.09 111.09v1.01M596.93 110.14v1.95M646.19 111.82v2.2M658.11 109.59v1.39M565.02 109.75v2.2M493.97 107.12v2M472.8 109.22v1.97M644.36 108.55v1.2M561.3 111.01v2.38M429.65 108.38v2.14M633.18 108.56v1.76M567.96 110.79v1.03M599.11 110.8v1.4M544.36 109.55v1.41M652.1 109.89v2.5M417.02 111.2v2.04M622.16 109.27v1.04M531.57 109.18v1.21M437.56 109.69v2.3M470.24 110.28v1.79M557.16 112.28v1.25M599.06 110.96v2.14M560.39 108.19v2.15M658.83 108.88v2.21M480.84 109.67v1.6M478.02 106.26v2.31M423.98 106.28v1.5M534.64 108.06v2.38M513.15 108.02v1.12M611.41 108.6v1.11M589.04 110.89v2.53M526.48 108.64v2.1M556.2 109.08v2.59M425.35 108.66v2.55M607.79 110.88v2.35M470.95 108.5v1.68M454.89 106.07v1.46M593.27 108.27v2.11M474.31 110.82v1.81M440.95 109.73v1.25M628.18 111.25v2.38M458.4 109.68v2.26M641.35 109.95v2.53M651.19 111.28v1.39M469.06 107.22v1.56M466.47 107.71v1.35" stroke="#62c6d6" stroke-width="0.8" stroke-opacity="0.5" fill="none"/>
<path d="M593.01 127.04h1.64M612.35 126.65h1.66M445.46 127.41h1.07M569.75 127.49h1.2M559.81 126.22h1.83M429.1 127.5h1.61M543.8 126.19h2.34M460.58 127.42h2.22M460.81 127.31h2.97M557.46 126.22h1.06M488.21 126.62h2.28M461.61 126.63h2.97M641.18 126.88h1.63M600.38 126.45h2.76M637.66 127.49h2.47M651.43 126.26h2.4M433.08 126.93h2.15M607.36 126.56h1.94M440.53 127.22h2.68M490.56 126.87h2.92M604.02 126.48h2.63M553.52 126.97h1.08M571.93 126.74h1.54M563.67 126.61h1.33M451.36 126.75h1.25M461.22 126.77h2.65M429.54 126.98h2.47M608.94 127.42h1.91M480.3 126.34h1.84M619.84 127.31h1.34M600.49 127.37h2.35M428.45 127.45h2.02M612.04 126.39h2.38M623.67 127.04h1.73M629.37 126.89h1.34M629.43 126.87h2.98M573.69 126.78h1.47M563.38 127.16h2.14M442.27 127.23h1.48M588.24 126.29h2.04M630.32 126.46h1.11M612.04 126.7h1.71M570.62 126.94h1.9M631.51 126.97h1.52M560.82 127.34h2.72M560.44 127.36h1.71M594.63 127.01h2.72M455.12 127.38h1.17M438.35 127.1h2.71M634.46 126.98h2.79" stroke="#52b0e6" stroke-width="0.8" stroke-opacity="0.6" fill="none"/>
<path d="M551.25 127.32L552.19 126.35L553.13 126.82L554.08 126.42L555.02 126.07L555.96 126.68L556.91 126.73L557.85 127.32L558.79 127.05L559.73 126.73L560.68 126.49L561.62 126.31L562.56 126.9L563.5 127.33L564.45 127.02L565.39 126.17L566.33 127.13L567.27 126.8L568.22 126.14L569.16 127.39L570.1 126.59L571.05 126.11L571.99 127.1L572.93 126.67L573.87 126.17L574.82 127.24L575.76 126.7L576.7 126.39L577.64 126.5L578.59 126.78L579.53 127.14L580.47 126.75L581.42 126.91L582.36 126.76L583.3 126.92L584.24 126.27L585.19 126.36L586.13 126.99L587.07 126.63" fill="none" stroke="#f5ef22" stroke-width="0.8" stroke-opacity="0.95" stroke-linecap="round" stroke-linejoin="round" />
<path d="M588.1 126.94L589.81 127.22" fill="none" stroke="#c8d848" stroke-width="0.8" stroke-opacity="0.46" stroke-linecap="round" stroke-linejoin="round" />
<path d="M591.53 126.99L593.24 126.87" fill="none" stroke="#c8d848" stroke-width="0.8" stroke-opacity="0.64" stroke-linecap="round" stroke-linejoin="round" />
<path d="M594.96 126.55L596.67 126.63" fill="none" stroke="#c8d848" stroke-width="0.8" stroke-opacity="0.5" stroke-linecap="round" stroke-linejoin="round" />
<path d="M598.38 127.28L600.1 127.36" fill="none" stroke="#c8d848" stroke-width="0.8" stroke-opacity="0.48" stroke-linecap="round" stroke-linejoin="round" />
<path d="M601.81 126.78L603.53 126.3" fill="none" stroke="#c8d848" stroke-width="0.8" stroke-opacity="0.83" stroke-linecap="round" stroke-linejoin="round" />
<path d="M605.24 127.23L606.95 127.53" fill="none" stroke="#c8d848" stroke-width="0.8" stroke-opacity="0.8" stroke-linecap="round" stroke-linejoin="round" />
<path d="M608.67 126.29L610.38 126.19" fill="none" stroke="#c8d848" stroke-width="0.8" stroke-opacity="0.84" stroke-linecap="round" stroke-linejoin="round" />
<path d="M612.1 127.46L613.81 127.19" fill="none" stroke="#c8d848" stroke-width="0.8" stroke-opacity="0.56" stroke-linecap="round" stroke-linejoin="round" />
<path d="M615.52 126.26L617.24 126.23" fill="none" stroke="#5cc4dc" stroke-width="0.8" stroke-opacity="0.7" stroke-linecap="round" stroke-linejoin="round" />
<path d="M618.95 127.14L620.67 127.19" fill="none" stroke="#5cc4dc" stroke-width="0.8" stroke-opacity="0.59" stroke-linecap="round" stroke-linejoin="round" />
<path d="M622.38 127.34L624.09 127.04" fill="none" stroke="#5cc4dc" stroke-width="0.8" stroke-opacity="0.57" stroke-linecap="round" stroke-linejoin="round" />
<path d="M625.81 126.37L627.52 126.5" fill="none" stroke="#5cc4dc" stroke-width="0.8" stroke-opacity="0.52" stroke-linecap="round" stroke-linejoin="round" />
<path d="M629.24 127.26L630.95 126.99" fill="none" stroke="#5cc4dc" stroke-width="0.8" stroke-opacity="0.71" stroke-linecap="round" stroke-linejoin="round" />
<path d="M632.66 127.2L634.38 126.77" fill="none" stroke="#5cc4dc" stroke-width="0.8" stroke-opacity="0.6" stroke-linecap="round" stroke-linejoin="round" />
<path d="M636.09 127.53L637.81 127.44" fill="none" stroke="#5cc4dc" stroke-width="0.8" stroke-opacity="0.49" stroke-linecap="round" stroke-linejoin="round" />
<path d="M639.52 127.24L641.23 127.6" fill="none" stroke="#5cc4dc" stroke-width="0.8" stroke-opacity="0.7" stroke-linecap="round" stroke-linejoin="round" />
<path d="M642.95 127.44L644.66 127.28" fill="none" stroke="#5cc4dc" stroke-width="0.8" stroke-opacity="0.79" stroke-linecap="round" stroke-linejoin="round" />
<path d="M646.38 127.16L648.09 127.36" fill="none" stroke="#5cc4dc" stroke-width="0.8" stroke-opacity="0.77" stroke-linecap="round" stroke-linejoin="round" />
<path d="M649.8 126.19L651.52 125.91" fill="none" stroke="#5cc4dc" stroke-width="0.8" stroke-opacity="0.59" stroke-linecap="round" stroke-linejoin="round" />
<path d="M550.39 142.8L551.1 143L552.11 143.29L553.24 143.61L554.27 143.9L555.17 144.19L556.04 144.5L556.89 144.75L557.73 144.83L558.55 144.71L559.34 144.44L560.13 144.09L560.94 143.73L561.74 143.28L562.53 142.73L563.39 142.28L564.41 142.13L565.69 142.45L567.16 143.1L568.63 143.77L569.94 144.15L571.02 144.1L571.96 143.81L572.84 143.44L573.71 143.16L574.56 142.96L575.36 142.76L576.17 142.66L577.03 142.74L577.97 143.13L578.95 143.76L579.96 144.37L580.95 144.69L581.91 144.61L582.86 144.28L583.82 143.87L584.85 143.53L586 143.28L587.24 143.05L588.45 142.85L589.55 142.72L590.44 142.67L591.19 142.68L591.97 142.73L592.94 142.77L594.19 142.79L595.61 142.8L597.1 142.84L598.53 142.97L599.88 143.28L601.21 143.7L602.55 144.08L603.92 144.26L605.37 144.09L606.87 143.69L608.34 143.31L609.68 143.17L610.82 143.49L611.81 144.08L612.8 144.63L613.92 144.83L615.22 144.44L616.62 143.67L618.06 142.9L619.49 142.5L620.91 142.65L622.36 143.14L623.76 143.69L625.04 144.06L626.11 144.19L627.05 144.21L627.97 144.15L629 144.06L630.17 143.89L631.41 143.64L632.71 143.41L634.03 143.3L635.4 143.4L636.81 143.65L638.24 143.86L639.65 143.87L641.09 143.47L642.56 142.81L643.97 142.23L645.23 142.07L646.23 142.63L647.05 143.65L647.88 144.66L648.9 145.18L650.27 144.96L651.85 144.28L653.42 143.52L654.76 143.02L655.77 142.94L656.58 143.06L657.34 143.21L658.17 143.22L659.07 142.93L659.97 142.48L660.96 142.1L662.09 142.01L663.47 142.41L665.03 143.14L666.58 143.87L667.91 144.3L669.01 144.27L669.97 143.97L670.75 143.6L671.31 143.36" fill="none" stroke="#4ab8e0" stroke-width="0.7" stroke-opacity="0.55" stroke-linecap="round" stroke-linejoin="round" />
<path d="M553.82 145.9L554.14 144.35L554.6 142.11L555.1 139.72L555.53 137.75L555.88 136.11L556.18 134.59L556.48 133.52L556.82 133.28L557.21 134.21L557.62 136.06L558.06 138.19L558.53 139.99L559.09 141.43L559.71 142.79L560.28 143.95L560.68 144.76" fill="none" stroke="#46b0e2" stroke-width="0.6" stroke-opacity="0.55" stroke-linecap="round" stroke-linejoin="round" />
<path d="M559.82 145.9L560.14 144.66L560.6 142.87L561.09 140.96L561.53 139.36L561.87 138L562.18 136.7L562.48 135.79L562.82 135.57L563.21 136.38L563.62 137.96L564.06 139.77L564.53 141.25L565.09 142.37L565.71 143.36L566.28 144.18L566.67 144.76" fill="none" stroke="#46b0e2" stroke-width="0.6" stroke-opacity="0.55" stroke-linecap="round" stroke-linejoin="round" />
<path d="M568.39 145.9L568.71 144.9L569.17 143.44L569.66 141.88L570.1 140.57L570.44 139.41L570.75 138.29L571.05 137.49L571.39 137.29L571.78 138L572.19 139.38L572.63 140.95L573.1 142.2L573.66 143.07L574.28 143.79L574.85 144.35L575.25 144.76" fill="none" stroke="#46b0e2" stroke-width="0.6" stroke-opacity="0.55" stroke-linecap="round" stroke-linejoin="round" />
<path d="M579.53 145.9L579.85 145.13L580.31 144.01L580.81 142.8L581.24 141.77L581.59 140.82L581.89 139.88L582.19 139.19L582.53 139.02L582.92 139.62L583.33 140.81L583.77 142.13L584.24 143.15L584.8 143.77L585.42 144.21L585.99 144.53L586.39 144.76" fill="none" stroke="#46b0e2" stroke-width="0.6" stroke-opacity="0.55" stroke-linecap="round" stroke-linejoin="round" />
<path d="M665.23 145.9L665.55 145.44L666.01 144.77L666.51 144.04L666.94 143.38L667.29 142.71L667.59 141.99L667.89 141.45L668.23 141.31L668.62 141.79L669.03 142.71L669.47 143.71L669.94 144.41L670.5 144.7L671.12 144.78L671.69 144.76L672.09 144.76" fill="none" stroke="#46b0e2" stroke-width="0.6" stroke-opacity="0.55" stroke-linecap="round" stroke-linejoin="round" />
<path d="M552.53 145.33L552.89 144.76L553.39 143.92L554 143.13L554.68 142.69L555.42 142.76L556.26 143.14L557.16 143.64L558.11 144.07L559.22 144.4L560.46 144.73L561.6 145.01L562.39 145.22" fill="none" stroke="#45c8a0" stroke-width="0.9" stroke-opacity="0.8" stroke-linecap="round" stroke-linejoin="round" />
</g>
<path d="M588.1 33.4V148.2" stroke="#5565dc" stroke-width="0.6" stroke-opacity="0.45"/>
</g>
<clipPath id="s4"><rect x="416.7" y="197.8" width="257.1" height="114.8"/></clipPath>
<g clip-path="url(#s4)">
<rect x="415.7" y="196.8" width="259.1" height="116.8" fill="#3e26a8"/>
<g filter="url(#b1)">
<path d="M551.25 291.81L552.19 291.13L553.13 291.14L554.08 291.64L555.02 291.63L555.96 291.52L556.91 291.24L557.85 291.48L558.79 291.71L559.73 291.35L560.68 291.59L561.62 290.61L562.56 290.51L563.5 291.77L564.45 290.86L565.39 291.03L566.33 290.58L567.27 290.9L568.22 291.07L569.16 290.85L570.1 291.29L571.05 290.86L571.99 290.68L572.93 291.18L573.87 290.53L574.82 290.71L575.76 290.47L576.7 291.59L577.64 291.1L578.59 290.52L579.53 290.93L580.47 290.64L581.42 290.48L582.36 291.57" fill="none" stroke="#27a8e2" stroke-width="2.2" stroke-opacity="0.5" stroke-linecap="round" stroke-linejoin="round" />
<path d="M552.11 283.9L552.26 285.99L552.48 288.99L552.73 292.32L552.96 295.38L553.2 298.29L553.45 301.26L553.67 303.88L553.82 305.71" fill="none" stroke="#3f78f4" stroke-width="1.4" stroke-opacity="0.2" stroke-linecap="round" stroke-linejoin="round" />
<path d="M560.68 281.6L560.75 283.95L560.86 287.34L560.99 291.02L561.1 294.23L561.22 296.99L561.35 299.61L561.46 301.85L561.53 303.42" fill="none" stroke="#3f78f4" stroke-width="1.4" stroke-opacity="0.18" stroke-linecap="round" stroke-linejoin="round" />
<path d="M552.53 308.01L553.06 307.4L553.82 306.54L554.68 305.55L555.53 304.56L556.36 303.41L557.22 302.09L558.09 301L558.96 300.55L559.78 301.03L560.57 302.16L561.41 303.49L562.39 304.56L563.55 305.38L564.85 306.14L566.21 306.69L567.53 306.86L568.82 306.49L570.1 305.71L571.39 304.79L572.67 303.99L574 303.23L575.35 302.41L576.65 301.81L577.82 301.69L578.75 302.31L579.53 303.45L580.31 304.72L581.24 305.71L582.53 306.34L584.03 306.82L585.42 307.18L586.39 307.43" fill="none" stroke="#3f78f4" stroke-width="2" stroke-opacity="0.4" stroke-linecap="round" stroke-linejoin="round" />
<path d="M552.11 310.3L553.03 309.95L554.36 309.41L555.84 308.93L557.25 308.7L558.45 308.85L559.6 309.26L560.86 309.72L562.39 310.07L564.19 310.27L566.19 310.4L568.44 310.49L570.96 310.53L574.17 310.52L577.92 310.45L581.4 310.36L583.81 310.3" fill="none" stroke="#27a8e2" stroke-width="2.4" stroke-opacity="0.45" stroke-linecap="round" stroke-linejoin="round" />
<path d="M557.25 299.05L558.11 297.91" fill="none" stroke="#3f78f4" stroke-width="1.8" stroke-opacity="0.4" stroke-linecap="round" stroke-linejoin="round" />
<path d="M576.96 299.05L578.24 298.14" fill="none" stroke="#3f78f4" stroke-width="1.8" stroke-opacity="0.4" stroke-linecap="round" stroke-linejoin="round" />
<path d="M588.1 301.12L588.96 300.2" fill="none" stroke="#3f78f4" stroke-width="1.8" stroke-opacity="0.4" stroke-linecap="round" stroke-linejoin="round" />
<path d="M567.53 295.38L567.96 293.08" fill="none" stroke="#3f78f4" stroke-width="1.8" stroke-opacity="0.4" stroke-linecap="round" stroke-linejoin="round" />
<path d="M588.1 307.05L588.99 306.87L590.28 306.61L591.7 306.42L593.03 306.45L594.14 306.89L595.19 307.6L596.31 308.29L597.65 308.67L599.39 308.6L601.4 308.26L603.38 307.84L605.01 307.56L606.07 307.5L606.76 307.52L607.44 307.56L608.47 307.52L610.02 307.34L611.89 307.08L613.81 306.85L615.5 306.78L616.84 306.97L617.99 307.32L619.12 307.68L620.41 307.86L621.95 307.78L623.62 307.54L625.32 307.26L626.96 307.06L628.49 306.93L629.97 306.81L631.44 306.78L632.96 306.9L634.54 307.28L636.15 307.87L637.77 308.43L639.39 308.77L640.96 308.78L642.52 308.61L644.11 308.33L645.81 308.04L647.66 307.65L649.62 307.15L651.59 306.72L653.45 306.52L655.22 306.67L656.94 307.05L658.57 307.5L660.06 307.88L661.38 308.2L662.56 308.53L663.66 308.75L664.75 308.74L665.92 308.38L667.1 307.75L668.14 307.09L668.87 306.65" fill="none" stroke="#3f78f4" stroke-width="2" stroke-opacity="0.4" stroke-linecap="round" stroke-linejoin="round" />
<path d="M588.1 310.07L592.72 310.18L599.35 310.35L606.78 310.49L613.81 310.53L620.06 310.42L626.18 310.19L632.55 309.96L639.52 309.84L648.12 309.89L657.84 310.03L666.76 310.19L672.94 310.3" fill="none" stroke="#3f78f4" stroke-width="2" stroke-opacity="0.3" stroke-linecap="round" stroke-linejoin="round" />
<path d="M654.95 309.16L655.87 308.77L657.2 308.19L658.68 307.66L660.09 307.43L661.37 307.73L662.66 308.37L663.94 308.97L665.23 309.16L666.58 308.65L667.96 307.72L669.27 306.79L670.37 306.29L671.26 306.43L671.98 306.97L672.54 307.59L672.94 308.01" fill="none" stroke="#27a8e2" stroke-width="2.2" stroke-opacity="0.4" stroke-linecap="round" stroke-linejoin="round" />
</g>
<g filter="url(#b0)">
<path d="M551.25 291.81L552.19 291.13L553.13 291.14L554.08 291.64L555.02 291.63L555.96 291.52L556.91 291.24L557.85 291.48L558.79 291.71L559.73 291.35L560.68 291.59L561.62 290.61L562.56 290.51L563.5 291.77L564.45 290.86L565.39 291.03L566.33 290.58L567.27 290.9L568.22 291.07L569.16 290.85L570.1 291.29L571.05 290.86L571.99 290.68L572.93 291.18L573.87 290.53L574.82 290.71L575.76 290.47L576.7 291.59L577.64 291.1L578.59 290.52L579.53 290.93L580.47 290.64L581.42 290.48L582.36 291.57" fill="none" stroke="#f5ef22" stroke-width="0.8" stroke-opacity="0.95" stroke-linecap="round" stroke-linejoin="round" />
<path d="M552.11 283.9L552.26 285.99L552.48 288.99L552.73 292.32L552.96 295.38L553.2 298.29L553.45 301.26L553.67 303.88L553.82 305.71" fill="none" stroke="#4a90f0" stroke-width="0.5" stroke-opacity="0.35" stroke-linecap="round" stroke-linejoin="round" />
<path d="M560.68 281.6L560.75 283.95L560.86 287.34L560.99 291.02L561.1 294.23L561.22 296.99L561.35 299.61L561.46 301.85L561.53 303.42" fill="none" stroke="#4a90f0" stroke-width="0.5" stroke-opacity="0.3" stroke-linecap="round" stroke-linejoin="round" />
<path d="M552.53 308.01L553.06 307.4L553.82 306.54L554.68 305.55L555.53 304.56L556.36 303.41L557.22 302.09L558.09 301L558.96 300.55L559.78 301.03L560.57 302.16L561.41 303.49L562.39 304.56L563.55 305.38L564.85 306.14L566.21 306.69L567.53 306.86L568.82 306.49L570.1 305.71L571.39 304.79L572.67 303.99L574 303.23L575.35 302.41L576.65 301.81L577.82 301.69L578.75 302.31L579.53 303.45L580.31 304.72L581.24 305.71L582.53 306.34L584.03 306.82L585.42 307.18L586.39 307.43" fill="none" stroke="#3cb4e0" stroke-width="0.7" stroke-opacity="0.8" stroke-linecap="round" stroke-linejoin="round" />
<path d="M552.11 310.3L553.03 309.95L554.36 309.41L555.84 308.93L557.25 308.7L558.45 308.85L559.6 309.26L560.86 309.72L562.39 310.07L564.19 310.27L566.19 310.4L568.44 310.49L570.96 310.53L574.17 310.52L577.92 310.45L581.4 310.36L583.81 310.3" fill="none" stroke="#45c8a0" stroke-width="1" stroke-opacity="0.75" stroke-linecap="round" stroke-linejoin="round" />
<path d="M557.25 299.05L558.11 297.91" fill="none" stroke="#48b8e0" stroke-width="0.8" stroke-opacity="0.8" stroke-linecap="round" stroke-linejoin="round" />
<path d="M576.96 299.05L578.24 298.14" fill="none" stroke="#48b8e0" stroke-width="0.8" stroke-opacity="0.8" stroke-linecap="round" stroke-linejoin="round" />
<path d="M588.1 301.12L588.96 300.2" fill="none" stroke="#48b8e0" stroke-width="0.8" stroke-opacity="0.8" stroke-linecap="round" stroke-linejoin="round" />
<path d="M567.53 295.38L567.96 293.08" fill="none" stroke="#48b8e0" stroke-width="0.8" stroke-opacity="0.8" stroke-linecap="round" stroke-linejoin="round" />
<path d="M588.1 307.05L588.99 306.87L590.28 306.61L591.7 306.42L593.03 306.45L594.14 306.89L595.19 307.6L596.31 308.29L597.65 308.67L599.39 308.6L601.4 308.26L603.38 307.84L605.01 307.56L606.07 307.5L606.76 307.52L607.44 307.56L608.47 307.52L610.02 307.34L611.89 307.08L613.81 306.85L615.5 306.78L616.84 306.97L617.99 307.32L619.12 307.68L620.41 307.86L621.95 307.78L623.62 307.54L625.32 307.26L626.96 307.06L628.49 306.93L629.97 306.81L631.44 306.78L632.96 306.9L634.54 307.28L636.15 307.87L637.77 308.43L639.39 308.77L640.96 308.78L642.52 308.61L644.11 308.33L645.81 308.04L647.66 307.65L649.62 307.15L651.59 306.72L653.45 306.52L655.22 306.67L656.94 307.05L658.57 307.5L660.06 307.88L661.38 308.2L662.56 308.53L663.66 308.75L664.75 308.74L665.92 308.38L667.1 307.75L668.14 307.09L668.87 306.65" fill="none" stroke="#44b4e2" stroke-width="0.7" stroke-opacity="0.8" stroke-linecap="round" stroke-linejoin="round" />
<path d="M588.1 310.07L592.72 310.18L599.35 310.35L606.78 310.49L613.81 310.53L620.06 310.42L626.18 310.19L632.55 309.96L639.52 309.84L648.12 309.89L657.84 310.03L666.76 310.19L672.94 310.3" fill="none" stroke="#4a84f2" stroke-width="0.8" stroke-opacity="0.6" stroke-linecap="round" stroke-linejoin="round" />
<path d="M654.95 309.16L655.87 308.77L657.2 308.19L658.68 307.66L660.09 307.43L661.37 307.73L662.66 308.37L663.94 308.97L665.23 309.16L666.58 308.65L667.96 307.72L669.27 306.79L670.37 306.29L671.26 306.43L671.98 306.97L672.54 307.59L672.94 308.01" fill="none" stroke="#45c8a0" stroke-width="0.9" stroke-opacity="0.8" stroke-linecap="round" stroke-linejoin="round" />
</g>
</g>
<clipPath id="s6"><rect x="418.4" y="409.3" width="256.4" height="114.9"/></clipPath>
<g clip-path="url(#s6)">
<rect x="417.4" y="408.3" width="258.4" height="116.9" fill="#3e26a8"/>
<rect x="418.4" y="409.3" width="256.4" height="114.9" filter="url(#tx6)" opacity="0.62"/>
<linearGradient id="g6" x1="0" y1="0" x2="0" y2="1"><stop offset="0" stop-color="#3f4ae0" stop-opacity="0.08"/><stop offset="0.2" stop-color="#3f4ae0" stop-opacity="0.1"/><stop offset="0.4" stop-color="#3f4ae0" stop-opacity="0.12"/><stop offset="0.6" stop-color="#3f4ae0" stop-opacity="0.16"/><stop offset="0.74" stop-color="#3f4ae0" stop-opacity="0.28"/><stop offset="0.82" stop-color="#3f4ae0" stop-opacity="0.5"/><stop offset="0.9" stop-color="#3f4ae0" stop-opacity="0.58"/><stop offset="0.96" stop-color="#3f4ae0" stop-opacity="0.6"/><stop offset="1" stop-color="#3f4ae0" stop-opacity="0.5"/></linearGradient>
<rect x="418.4" y="409.3" width="256.4" height="114.9" fill="url(#g6)"/>
<g filter="url(#b1)">
<path d="M415 480.88L415.69 480.27L416.66 479.34L417.79 478.68L418.94 478.91L420.13 480.48L421.41 482.97L422.68 485.65L423.87 487.77L424.92 489.29L425.9 490.55L426.85 491.4L427.81 491.72L428.82 491.31L429.84 490.3L430.84 489.01L431.75 487.77L432.54 486.29L433.23 484.51L433.92 483.13L434.71 482.85L435.65 484.49L436.68 487.47L437.71 490.35L438.65 491.72L439.46 490.99L440.19 489.01L440.89 486.4L441.61 483.83L442.35 481.12L443.08 478.04L443.82 475.15L444.56 472.99L445.28 471.99L445.98 471.76L446.71 471.65L447.52 471.02L448.48 469.53L449.55 467.57L450.59 465.62L451.46 464.12L452.14 463.24L452.69 462.71L453.12 462.39L453.43 462.15" fill="none" stroke="#3f78f4" stroke-width="2.6" stroke-opacity="0.5" stroke-linecap="round" stroke-linejoin="round" />
<path d="M418.94 499.6L420.36 498.91L422.39 497.88L424.67 496.97L426.82 496.64L428.84 497.31L430.89 498.61L432.88 499.92L434.71 500.59L436.28 500.17L437.66 499.11L439.05 498.04L440.62 497.63L442.5 498.31L444.56 499.66L446.63 500.98L448.5 501.57L450.14 501.16L451.65 500.15L453.05 498.87L454.42 497.63L455.83 496.35L457.25 494.92L458.48 493.61L459.34 492.7" fill="none" stroke="#3f78f4" stroke-width="2.6" stroke-opacity="0.5" stroke-linecap="round" stroke-linejoin="round" />
<path d="M415 503.54L417.12 503.27L420.17 502.86L423.59 502.55L426.82 502.56L429.78 503.13L432.74 504.1L435.69 505.03L438.65 505.51L441.61 505.34L444.56 504.77L447.52 504.08L450.47 503.54L453.43 503.13L456.39 502.74L459.34 502.5L462.3 502.56L465.35 503.18L468.46 504.22L471.45 505.17L474.12 505.51L476.37 504.87L478.31 503.6L480.13 502.3L482.01 501.57L483.89 501.65L485.7 502.19L487.64 502.91L489.89 503.54L492.57 504.13L495.56 504.77L498.67 505.3L501.72 505.51L504.67 505.32L507.63 504.83L510.59 504.2L513.54 503.54L516.5 502.87L519.45 502.13L522.41 501.35L525.37 500.59L528.3 499.82L531.22 499.05L534.17 498.3L537.19 497.63L540.63 497.02L544.34 496.46L547.68 495.99L550 495.66" fill="none" stroke="#3f78f4" stroke-width="2.6" stroke-opacity="0.45" stroke-linecap="round" stroke-linejoin="round" />
<path d="M415 511.42L417.83 510.96L421.9 510.25L426.46 509.65L430.77 509.45L434.71 509.94L438.65 510.87L442.59 511.83L446.53 512.41L450.47 512.51L454.42 512.35L458.36 511.97L462.3 511.42L466.24 510.46L470.18 509.15L474.12 507.98L478.07 507.48L482.01 508.03L485.95 509.27L489.89 510.6L493.83 511.42L497.77 511.57L501.72 511.36L505.66 510.94L509.6 510.44L513.63 509.75L517.73 508.84L521.7 507.99L525.37 507.48L528.58 507.52L531.46 507.91L534.26 508.34L537.19 508.47L540.63 508.14L544.34 507.54L547.68 506.92L550 506.5" fill="none" stroke="#3f78f4" stroke-width="2.6" stroke-opacity="0.4" stroke-linecap="round" stroke-linejoin="round" />
<path d="M415 515.76L474.12 516.15L550 514.58" fill="none" stroke="#4353e6" stroke-width="2" stroke-opacity="0.4" stroke-linecap="round" stroke-linejoin="round" />
<path d="M415 517.73L474.12 518.13L550 516.55" fill="none" stroke="#4353e6" stroke-width="2" stroke-opacity="0.4" stroke-linecap="round" stroke-linejoin="round" />
<path d="M415 519.9L474.12 520.29L550 518.72" fill="none" stroke="#4353e6" stroke-width="2" stroke-opacity="0.4" stroke-linecap="round" stroke-linejoin="round" />
<path d="M545 514.58L604.12 515.37L667.19 515.76" fill="none" stroke="#4353e6" stroke-width="2" stroke-opacity="0.4" stroke-linecap="round" stroke-linejoin="round" />
<path d="M545 516.75L604.12 517.53L667.19 517.93" fill="none" stroke="#4353e6" stroke-width="2" stroke-opacity="0.4" stroke-linecap="round" stroke-linejoin="round" />
<path d="M545 519.31L604.12 520.1L667.19 520.49" fill="none" stroke="#4353e6" stroke-width="2" stroke-opacity="0.4" stroke-linecap="round" stroke-linejoin="round" />
<path d="M419.93 464.12L420.42 467.19L421.12 471.64L421.87 476.27L422.49 479.89L422.92 482.34L423.25 484.2L423.55 485.39L423.87 485.8L424.19 485.39L424.48 484.2L424.82 482.34L425.25 479.89L425.87 476.27L426.62 471.64L427.32 467.19L427.81 464.12" fill="none" stroke="#3f78f4" stroke-width="2.2" stroke-opacity="0.4" stroke-linecap="round" stroke-linejoin="round" />
<path d="M430.77 460.18L431.25 463.25L431.96 467.7L432.71 472.33L433.33 475.95L433.76 478.4L434.09 480.26L434.39 481.45L434.71 481.86L435.03 481.45L435.32 480.26L435.66 478.4L436.09 475.95L436.71 472.33L437.46 467.7L438.16 463.25L438.65 460.18" fill="none" stroke="#3f78f4" stroke-width="2.2" stroke-opacity="0.4" stroke-linecap="round" stroke-linejoin="round" />
<path d="M468.21 470.04L468.7 473.1L469.41 477.55L470.16 482.19L470.77 485.8L471.2 488.25L471.54 490.12L471.84 491.3L472.15 491.72L472.47 491.3L472.77 490.12L473.11 488.25L473.53 485.8L474.15 482.19L474.9 477.55L475.61 473.1L476.1 470.04" fill="none" stroke="#3f78f4" stroke-width="2.2" stroke-opacity="0.4" stroke-linecap="round" stroke-linejoin="round" />
<path d="M495.8 464.12L496.29 467.19L497 471.64L497.75 476.27L498.37 479.89L498.79 482.34L499.13 484.2L499.43 485.39L499.75 485.8L500.06 485.39L500.36 484.2L500.7 482.34L501.13 479.89L501.74 476.27L502.49 471.64L503.2 467.19L503.69 464.12" fill="none" stroke="#3f78f4" stroke-width="2.2" stroke-opacity="0.4" stroke-linecap="round" stroke-linejoin="round" />
<path d="M521.42 468.07L521.91 471.13L522.62 475.58L523.37 480.21L523.99 483.83L524.42 486.28L524.75 488.14L525.05 489.33L525.37 489.75L525.68 489.33L525.98 488.14L526.32 486.28L526.75 483.83L527.36 480.21L528.11 475.58L528.82 471.13L529.31 468.07" fill="none" stroke="#3f78f4" stroke-width="2.2" stroke-opacity="0.4" stroke-linecap="round" stroke-linejoin="round" />
<path d="M537.19 462.15L537.68 465.22L538.39 469.67L539.14 474.3L539.75 477.92L540.18 480.37L540.52 482.23L540.82 483.42L541.13 483.83L541.45 483.42L541.75 482.23L542.08 480.37L542.51 477.92L543.13 474.3L543.88 469.67L544.59 465.22L545.07 462.15" fill="none" stroke="#3f78f4" stroke-width="2.2" stroke-opacity="0.4" stroke-linecap="round" stroke-linejoin="round" />
<path d="M480.04 472.01L480.53 475.07L481.23 479.52L481.98 484.16L482.6 487.77L483.03 490.22L483.36 492.09L483.66 493.27L483.98 493.69L484.3 493.27L484.59 492.09L484.93 490.22L485.36 487.77L485.98 484.16L486.73 479.52L487.43 475.07L487.92 472.01" fill="none" stroke="#3f78f4" stroke-width="2.2" stroke-opacity="0.4" stroke-linecap="round" stroke-linejoin="round" />
<path d="M505.66 466.1L506.15 469.16L506.85 473.61L507.6 478.24L508.22 481.86L508.65 484.31L508.98 486.17L509.28 487.36L509.6 487.77L509.92 487.36L510.22 486.17L510.55 484.31L510.98 481.86L511.6 478.24L512.35 473.61L513.05 469.16L513.54 466.1" fill="none" stroke="#3f78f4" stroke-width="2.2" stroke-opacity="0.4" stroke-linecap="round" stroke-linejoin="round" />
<path d="M545 483.83L546.26 485.47L548.08 487.9L550.08 490.02L551.9 490.73L553.45 489.01L554.92 485.68L556.36 482.42L557.81 480.88L559.29 482.22L560.77 485.31L562.24 488.41L563.72 489.75L565.22 488.18L566.74 484.88L568.23 481.55L569.64 479.89L570.94 480.64L572.16 482.79L573.35 485.46L574.56 487.77L575.72 489.57L576.84 491.29L578.05 492.97L579.49 494.67L581.32 496.65L583.43 498.8L585.54 500.61L587.37 501.57L588.79 501.37L589.96 500.34L591.07 498.94L592.3 497.63L593.71 496.37L595.19 494.98L596.71 493.68L598.21 492.7L599.69 492.02L601.17 491.53L602.65 491.39L604.12 491.72L605.58 492.71L607.02 494.24L608.49 495.99L610.04 497.63L611.69 499.38L613.42 501.32L615.19 502.89L616.94 503.54L618.71 503.08L620.51 501.82L622.25 499.94L623.83 497.63L625.2 494.23L626.42 489.87L627.57 485.94L628.76 483.83L629.97 484.28L631.16 486.42L632.39 489.24L633.69 491.72L635.05 494.33L636.46 497.38L637.96 499.57L639.6 499.6L641.5 496.2L643.6 490.36L645.67 484.22L647.48 479.89L648.9 477.97L650.07 477.3L651.18 477.44L652.41 477.92L653.8 478.94L655.24 480.63L656.75 482.45L658.32 483.83L660.14 484.65L662.14 485.19L663.96 485.54L665.22 485.8" fill="none" stroke="#3f78f4" stroke-width="2.8" stroke-opacity="0.5" stroke-linecap="round" stroke-linejoin="round" />
<path d="M545 497.63L547.12 498.52L550.17 499.85L553.59 501.05L556.82 501.57L559.78 501.09L562.74 499.97L565.69 498.66L568.65 497.63L571.72 496.81L574.87 496.03L577.87 495.55L580.47 495.66L582.5 496.67L584.11 498.37L585.63 500.19L587.37 501.57L589.47 502.48L591.75 503.17L594.05 503.56L596.24 503.54L598.28 502.76L600.24 501.39L602.18 500.1L604.12 499.6L606 500.3L607.82 501.76L609.76 503.36L612.01 504.53L614.73 505.21L617.8 505.7L620.92 505.84L623.83 505.51L626.53 504.38L629.13 502.62L631.55 500.82L633.69 499.6L635.4 499.09L636.77 498.98L638.08 499.18L639.6 499.6L641.43 500.54L643.42 501.94L645.47 503.16L647.48 503.54L649.36 502.57L651.18 500.71L653.12 498.78L655.37 497.63L658.32 497.61L661.77 498.24L664.97 499.06L667.19 499.6" fill="none" stroke="#3f78f4" stroke-width="2.6" stroke-opacity="0.45" stroke-linecap="round" stroke-linejoin="round" />
<path d="M545 507.48L548.54 506.99L553.62 506.25L559.32 505.64L564.71 505.51L569.64 506.24L574.56 507.54L579.49 508.82L584.42 509.45L589.34 509.11L594.27 508.16L599.2 507.12L604.12 506.5L609.05 506.63L613.98 507.18L618.91 507.63L623.83 507.48L628.95 506.44L634.18 504.83L639.17 503.07L643.54 501.57L647.05 500.31L649.95 499.11L652.6 498.15L655.37 497.63L658.6 497.75L662.02 498.37L665.07 499.11L667.19 499.6" fill="none" stroke="#3f78f4" stroke-width="2.6" stroke-opacity="0.4" stroke-linecap="round" stroke-linejoin="round" />
<path d="M553.47 464.12L554 467.54L554.76 472.5L555.56 477.71L556.23 481.86L556.71 484.9L557.1 487.41L557.44 489.11L557.81 489.75L558.18 489.11L558.52 487.41L558.91 484.9L559.39 481.86L560.06 477.71L560.87 472.5L561.62 467.54L562.15 464.12" fill="none" stroke="#3f78f4" stroke-width="2.2" stroke-opacity="0.4" stroke-linecap="round" stroke-linejoin="round" />
<path d="M565.3 454.27L565.82 457.69L566.58 462.65L567.39 467.85L568.06 472.01L568.54 475.04L568.92 477.55L569.27 479.26L569.64 479.89L570 479.26L570.35 477.55L570.73 475.04L571.21 472.01L571.88 467.85L572.69 462.65L573.45 457.69L573.97 454.27" fill="none" stroke="#3f78f4" stroke-width="2.2" stroke-opacity="0.4" stroke-linecap="round" stroke-linejoin="round" />
<path d="M593.88 464.12L594.4 467.54L595.16 472.5L595.96 477.71L596.64 481.86L597.11 484.9L597.5 487.41L597.85 489.11L598.21 489.75L598.58 489.11L598.93 487.41L599.31 484.9L599.79 481.86L600.46 477.71L601.27 472.5L602.02 467.54L602.55 464.12" fill="none" stroke="#3f78f4" stroke-width="2.2" stroke-opacity="0.4" stroke-linecap="round" stroke-linejoin="round" />
<path d="M624.42 450.33L624.95 453.75L625.71 458.71L626.51 463.91L627.18 468.07L627.66 471.1L628.05 473.61L628.39 475.32L628.76 475.95L629.13 475.32L629.47 473.61L629.86 471.1L630.34 468.07L631.01 463.91L631.82 458.71L632.57 453.75L633.1 450.33" fill="none" stroke="#3f78f4" stroke-width="2.2" stroke-opacity="0.4" stroke-linecap="round" stroke-linejoin="round" />
<path d="M643.15 448.36L643.67 451.78L644.43 456.73L645.24 461.94L645.91 466.1L646.38 469.13L646.77 471.64L647.12 473.35L647.48 473.98L647.85 473.35L648.2 471.64L648.58 469.13L649.06 466.1L649.73 461.94L650.54 456.73L651.3 451.78L651.82 448.36" fill="none" stroke="#3f78f4" stroke-width="2.2" stroke-opacity="0.4" stroke-linecap="round" stroke-linejoin="round" />
<path d="M570.23 470.04L570.75 473.46L571.51 478.41L572.31 483.62L572.99 487.77L573.46 490.81L573.85 493.32L574.2 495.03L574.56 495.66L574.93 495.03L575.28 493.32L575.66 490.81L576.14 487.77L576.81 483.62L577.62 478.41L578.37 473.46L578.9 470.04" fill="none" stroke="#3f78f4" stroke-width="2.2" stroke-opacity="0.4" stroke-linecap="round" stroke-linejoin="round" />
<path d="M612.6 479.89L613.12 483.31L613.88 488.27L614.69 493.47L615.36 497.63L615.84 500.66L616.22 503.17L616.57 504.88L616.94 505.51L617.3 504.88L617.65 503.17L618.03 500.66L618.51 497.63L619.18 493.47L619.99 488.27L620.75 483.31L621.27 479.89" fill="none" stroke="#3f78f4" stroke-width="2.2" stroke-opacity="0.4" stroke-linecap="round" stroke-linejoin="round" />
<path d="M653.99 456.24L654.51 459.66L655.27 464.62L656.07 469.82L656.75 473.98L657.22 477.01L657.61 479.52L657.96 481.23L658.32 481.86L658.69 481.23L659.04 479.52L659.42 477.01L659.9 473.98L660.57 469.82L661.38 464.62L662.14 459.66L662.66 456.24" fill="none" stroke="#3f78f4" stroke-width="2.2" stroke-opacity="0.4" stroke-linecap="round" stroke-linejoin="round" />
<path d="M456.62 451.54L458.27 449L460.47 445.7L462.13 444.7L463.78 446.91L466.54 450.88L468.19 448.89L469.85 443.82L471.5 449L472.93 456.72L474.04 462.23" fill="none" stroke="#27a8e2" stroke-width="5.2" stroke-opacity="0.6" stroke-linecap="round" stroke-linejoin="round" />
<path d="M476.46 448.67L478.11 452.86L480.32 459.7L482.52 452.86L484.18 444.93L485.83 449L488.04 452.86L489.69 455.29L491.35 452.31L493.55 451.32L495.2 450L496.86 449.11" fill="none" stroke="#27a8e2" stroke-width="5.2" stroke-opacity="0.6" stroke-linecap="round" stroke-linejoin="round" />
<path d="M496.86 449.11L498.51 451.76L500.72 452.86L502.92 449.78L504.02 447.57L505.13 453.97L505.79 458.6" fill="none" stroke="#27a8e2" stroke-width="3.6" stroke-opacity="0.55" stroke-linecap="round" stroke-linejoin="round" />
<path d="M474.04 462.23L475.14 458.38L476.46 448.67" fill="none" stroke="#27a8e2" stroke-width="3.2" stroke-opacity="0.5" stroke-linecap="round" stroke-linejoin="round" />
<path d="M466.54 450.88L466.69 452.84L466.9 455.66L467.15 458.79L467.42 461.68L467.71 464.24L468.03 466.73L468.37 469.19L468.74 471.61L469.19 474.21L469.71 476.91L470.18 479.31L470.51 480.98" fill="none" stroke="#27a8e2" stroke-width="3.2" stroke-opacity="0.5" stroke-linecap="round" stroke-linejoin="round" />
<path d="M460.14 438.53L460.47 445.7" fill="none" stroke="#3f78f4" stroke-width="2.2" stroke-opacity="0.4" stroke-linecap="round" stroke-linejoin="round" />
<path d="M462.13 439.63L462.35 444.7" fill="none" stroke="#3f78f4" stroke-width="2.2" stroke-opacity="0.4" stroke-linecap="round" stroke-linejoin="round" />
<path d="M466.54 440.74L466.76 450.88" fill="none" stroke="#3f78f4" stroke-width="2.2" stroke-opacity="0.4" stroke-linecap="round" stroke-linejoin="round" />
<path d="M476.46 441.84L476.57 448.67" fill="none" stroke="#3f78f4" stroke-width="2.2" stroke-opacity="0.4" stroke-linecap="round" stroke-linejoin="round" />
<path d="M482.19 438.53L482.52 452.86" fill="none" stroke="#3f78f4" stroke-width="2.2" stroke-opacity="0.4" stroke-linecap="round" stroke-linejoin="round" />
<path d="M484.18 435.22L484.29 444.93" fill="none" stroke="#3f78f4" stroke-width="2.2" stroke-opacity="0.4" stroke-linecap="round" stroke-linejoin="round" />
<path d="M488.04 442.94L488.15 452.86" fill="none" stroke="#3f78f4" stroke-width="2.2" stroke-opacity="0.4" stroke-linecap="round" stroke-linejoin="round" />
<path d="M493.55 438.53L493.66 451.32" fill="none" stroke="#3f78f4" stroke-width="2.2" stroke-opacity="0.4" stroke-linecap="round" stroke-linejoin="round" />
<path d="M496.86 441.84L496.97 449.11" fill="none" stroke="#3f78f4" stroke-width="2.2" stroke-opacity="0.4" stroke-linecap="round" stroke-linejoin="round" />
<path d="M480.32 459.7L480.87 471.61L481.53 488.7" fill="none" stroke="#3f78f4" stroke-width="2.2" stroke-opacity="0.4" stroke-linecap="round" stroke-linejoin="round" />
<path d="M474.04 462.23L474.48 471.61" fill="none" stroke="#3f78f4" stroke-width="2.2" stroke-opacity="0.4" stroke-linecap="round" stroke-linejoin="round" />
<path d="M456.62 451.54L456.84 455.07" fill="none" stroke="#3f78f4" stroke-width="2.2" stroke-opacity="0.4" stroke-linecap="round" stroke-linejoin="round" />
<path d="M485.83 449L486.05 457.27" fill="none" stroke="#3f78f4" stroke-width="2.2" stroke-opacity="0.4" stroke-linecap="round" stroke-linejoin="round" />
<path d="M491.35 452.31L491.57 458.38" fill="none" stroke="#3f78f4" stroke-width="2.2" stroke-opacity="0.4" stroke-linecap="round" stroke-linejoin="round" />
<path d="M500.72 452.86L500.94 458.38" fill="none" stroke="#3f78f4" stroke-width="2.2" stroke-opacity="0.4" stroke-linecap="round" stroke-linejoin="round" />
<path d="M498.51 445.15L498.62 451.76" fill="none" stroke="#3f78f4" stroke-width="2.2" stroke-opacity="0.4" stroke-linecap="round" stroke-linejoin="round" />
<path d="M470.18 424.2L470.2 425.53L470.25 427.44L470.28 429.65L470.29 431.92L470.25 434.47L470.18 437.36L470.11 440L470.07 441.84" fill="none" stroke="#3f78f4" stroke-width="2.6" stroke-opacity="0.5" stroke-linecap="round" stroke-linejoin="round" />
<path d="M502.7 407.66L502.74 409.64L502.79 412.48L502.85 415.67L502.92 418.68L503 421.47L503.08 424.27L503.17 427.03L503.25 429.71L503.33 432.32L503.4 434.88L503.48 437.33L503.58 439.63L503.72 441.64L503.88 443.42L504.06 445.24L504.24 447.35L504.45 449.87L504.69 452.66L504.92 455.54L505.13 458.38L505.34 461.08L505.55 463.75L505.72 466.49L505.79 469.4L505.7 472.86L505.5 476.71L505.28 480.2L505.13 482.63" fill="none" stroke="#3f78f4" stroke-width="2.8" stroke-opacity="0.5" stroke-linecap="round" stroke-linejoin="round" />
<path d="M457.72 480.43L459.37 489.25L462.13 493.11L467.64 495.42L470.4 494.32L473.15 489.47L476.02 486.49L478.67 490.35L481.42 489.25L483.08 491.45L486.38 492.55L491.9 491.45L496.31 490.35L497.96 480.43L500.17 483.73L502.92 485.5L505.13 482.63L507.33 481.09L510.09 479.54L511.74 487.04L513.95 491.01L520.01 490.57" fill="none" stroke="#3f78f4" stroke-width="3" stroke-opacity="0.55" stroke-linecap="round" stroke-linejoin="round" />
<path d="M461.03 492.55L464.33 494.54L468.19 495.42" fill="none" stroke="#45c8a0" stroke-width="2.6" stroke-opacity="0.6" stroke-linecap="round" stroke-linejoin="round" />
<path d="M476.02 486.6L477.56 488.7L478.89 490.35" fill="none" stroke="#45c8a0" stroke-width="2.4" stroke-opacity="0.5" stroke-linecap="round" stroke-linejoin="round" />
<path d="M457.72 480.43L457.99 479.21L458.37 477.46L458.84 475.54L459.37 473.81L460 472.33L460.73 470.92L461.47 469.57L462.13 468.3L462.72 467.02L463.29 465.75L463.77 464.66L464.11 463.89" fill="none" stroke="#3f78f4" stroke-width="2.4" stroke-opacity="0.45" stroke-linecap="round" stroke-linejoin="round" />
<path d="M456.62 487.04L457.72 480.43" fill="none" stroke="#3f78f4" stroke-width="2.4" stroke-opacity="0.45" stroke-linecap="round" stroke-linejoin="round" />
<path d="M510.51 491.01L514.37 490.57L520.99 491.01" fill="none" stroke="#45c8a0" stroke-width="2.6" stroke-opacity="0.6" stroke-linecap="round" stroke-linejoin="round" />
<path d="M521.54 491.01L525.4 485.5L527.05 484.84L529.26 492.55L532.01 487.04L533.11 482.63" fill="none" stroke="#3f78f4" stroke-width="2.6" stroke-opacity="0.5" stroke-linecap="round" stroke-linejoin="round" />
<path d="M528.15 468.3L528.79 469.86L529.7 472.09L530.67 474.63L531.46 477.12L532.03 479.75L532.49 482.63L532.86 485.23L533.11 487.04" fill="none" stroke="#3f78f4" stroke-width="2.4" stroke-opacity="0.45" stroke-linecap="round" stroke-linejoin="round" />
<path d="M530.91 435.22L531.01 436.83L531.14 439.15L531.3 441.71L531.46 444.04L531.63 446.23L531.83 448.45L532 450.4L532.12 451.76" fill="none" stroke="#3f78f4" stroke-width="2.8" stroke-opacity="0.5" stroke-linecap="round" stroke-linejoin="round" />
<path d="M531.02 441.84L531.68 446.8" fill="none" stroke="#45c8a0" stroke-width="3.2" stroke-opacity="0.6" stroke-linecap="round" stroke-linejoin="round" />
<path d="M532.12 451.76L532.42 451.76L532.85 451.71L533.35 451.96L533.89 452.86L534.49 454.75L535.16 457.36L535.83 460.14L536.42 462.57L536.88 464.43L537.27 466.04L537.64 467.62L538.08 469.4L538.59 471.54L539.14 473.89L539.72 476.2L540.28 478.22L540.88 479.96L541.52 481.53L542.09 482.82L542.49 483.73" fill="none" stroke="#3f78f4" stroke-width="2.8" stroke-opacity="0.5" stroke-linecap="round" stroke-linejoin="round" />
<path d="M535.65 460.36L536.97 463.67" fill="none" stroke="#45c8a0" stroke-width="3" stroke-opacity="0.6" stroke-linecap="round" stroke-linejoin="round" />
<path d="M527.05 447.35L527.15 448.51L527.29 450.18L527.45 452.08L527.6 453.97L527.75 456L527.91 458.24L528.05 460.27L528.15 461.68" fill="none" stroke="#3f78f4" stroke-width="2.4" stroke-opacity="0.45" stroke-linecap="round" stroke-linejoin="round" />
<path d="M542.49 491.45L545.79 484.84L549.1 467.2L547.56 480.43L551.31 491.45" fill="none" stroke="#3f78f4" stroke-width="2.4" stroke-opacity="0.45" stroke-linecap="round" stroke-linejoin="round" />
<path d="M565.09 484.84L567.84 477.12L571.15 489.25L575.01 495.86" fill="none" stroke="#3f78f4" stroke-width="2.4" stroke-opacity="0.4" stroke-linecap="round" stroke-linejoin="round" />
<path d="M505.33 455.07L505.55 461.68" fill="none" stroke="#45c8a0" stroke-width="2.6" stroke-opacity="0.5" stroke-linecap="round" stroke-linejoin="round" />
<path d="M447.52 436.53L446.14 440.08" fill="none" stroke="#27a8e2" stroke-width="3.4" stroke-opacity="0.55" stroke-linecap="round" stroke-linejoin="round" />
<path d="M516.5 422.34L517.48 427.07" fill="none" stroke="#27a8e2" stroke-width="3.4" stroke-opacity="0.55" stroke-linecap="round" stroke-linejoin="round" />
<path d="M500.73 411.9L501.72 416.43" fill="none" stroke="#3f78f4" stroke-width="2.6" stroke-opacity="0.5" stroke-linecap="round" stroke-linejoin="round" />
<path d="M435.5 454.66L436.88 457.03" fill="none" stroke="#27a8e2" stroke-width="3.4" stroke-opacity="0.55" stroke-linecap="round" stroke-linejoin="round" />
<path d="M422.49 443.43L423.28 446.78" fill="none" stroke="#3f78f4" stroke-width="2.6" stroke-opacity="0.5" stroke-linecap="round" stroke-linejoin="round" />
<path d="M440.23 445.01L441.21 448.36" fill="none" stroke="#3f78f4" stroke-width="2.6" stroke-opacity="0.5" stroke-linecap="round" stroke-linejoin="round" />
<path d="M474.12 416.43L474.72 421.16" fill="none" stroke="#3f78f4" stroke-width="2.6" stroke-opacity="0.5" stroke-linecap="round" stroke-linejoin="round" />
<path d="M432.74 432.2L433.72 435.94" fill="none" stroke="#3f78f4" stroke-width="2.6" stroke-opacity="0.5" stroke-linecap="round" stroke-linejoin="round" />
<path d="M438.26 410.52L439.04 414.26" fill="none" stroke="#3f78f4" stroke-width="2.6" stroke-opacity="0.5" stroke-linecap="round" stroke-linejoin="round" />
<path d="M452.45 461.76L454.42 464.52" fill="none" stroke="#3f78f4" stroke-width="2.6" stroke-opacity="0.5" stroke-linecap="round" stroke-linejoin="round" />
<path d="M517.48 463.73L519.06 466.49" fill="none" stroke="#3f78f4" stroke-width="2.6" stroke-opacity="0.5" stroke-linecap="round" stroke-linejoin="round" />
<path d="M499.75 457.82L501.72 461.56" fill="none" stroke="#3f78f4" stroke-width="2.6" stroke-opacity="0.5" stroke-linecap="round" stroke-linejoin="round" />
<path d="M542.12 451.91L545.07 449.93L550 451.31" fill="none" stroke="#27a8e2" stroke-width="3.4" stroke-opacity="0.55" stroke-linecap="round" stroke-linejoin="round" />
<path d="M535.22 461.76L536.8 464.52" fill="none" stroke="#27a8e2" stroke-width="3.4" stroke-opacity="0.55" stroke-linecap="round" stroke-linejoin="round" />
<path d="M531.28 444.02L532.66 447.77" fill="none" stroke="#27a8e2" stroke-width="3.4" stroke-opacity="0.55" stroke-linecap="round" stroke-linejoin="round" />
<path d="M521.42 452.69L523 449.34L524.38 451.51" fill="none" stroke="#27a8e2" stroke-width="3.4" stroke-opacity="0.55" stroke-linecap="round" stroke-linejoin="round" />
<path d="M509.6 446.98L511.57 452.3L513.54 457.23L514.53 460.58" fill="none" stroke="#27a8e2" stroke-width="3.4" stroke-opacity="0.55" stroke-linecap="round" stroke-linejoin="round" />
<path d="M504.67 443.04L506.05 447.77" fill="none" stroke="#27a8e2" stroke-width="3.4" stroke-opacity="0.55" stroke-linecap="round" stroke-linejoin="round" />
<path d="M524.38 451.31L524.91 451.63L525.67 452.12L526.53 452.45L527.34 452.3L528.12 451.44L528.94 450.08L529.69 448.6L530.29 447.37L530.66 446.29L530.85 445.22L531.01 444.49L531.28 444.42L531.7 445.13L532.2 446.45L532.73 448.23L533.25 450.33L533.79 453.15L534.36 456.61L534.87 459.89L535.22 462.15" fill="none" stroke="#3f78f4" stroke-width="2.6" stroke-opacity="0.45" stroke-linecap="round" stroke-linejoin="round" />
<path d="M514.53 460.18L515.06 461.17L515.82 462.65L516.67 463.88L517.48 464.12L518.27 462.89L519.08 460.68L519.84 458.21L520.44 456.24L520.85 454.89L521.12 453.78L521.29 452.92L521.42 452.3" fill="none" stroke="#3f78f4" stroke-width="2.6" stroke-opacity="0.45" stroke-linecap="round" stroke-linejoin="round" />
<path d="M555.84 453.29L557.81 452.3L559.78 449.93L561.16 452.3L562.74 450.72" fill="none" stroke="#27a8e2" stroke-width="3.4" stroke-opacity="0.55" stroke-linecap="round" stroke-linejoin="round" />
<path d="M604.12 455.26L605.7 456.83" fill="none" stroke="#27a8e2" stroke-width="3.4" stroke-opacity="0.55" stroke-linecap="round" stroke-linejoin="round" />
<path d="M609.05 450.72L611.02 448.75L612.4 451.51" fill="none" stroke="#27a8e2" stroke-width="3.4" stroke-opacity="0.55" stroke-linecap="round" stroke-linejoin="round" />
<path d="M627.77 445.2L629.35 447.57" fill="none" stroke="#27a8e2" stroke-width="3.4" stroke-opacity="0.55" stroke-linecap="round" stroke-linejoin="round" />
<path d="M640.59 418.01L641.57 421.16" fill="none" stroke="#3f78f4" stroke-width="2.6" stroke-opacity="0.5" stroke-linecap="round" stroke-linejoin="round" />
<path d="M586.39 425.3L587.37 430.03" fill="none" stroke="#3f78f4" stroke-width="2.6" stroke-opacity="0.5" stroke-linecap="round" stroke-linejoin="round" />
<path d="M564.71 416.43L565.3 420.18" fill="none" stroke="#3f78f4" stroke-width="2.6" stroke-opacity="0.5" stroke-linecap="round" stroke-linejoin="round" />
<path d="M650.44 477.53L651.42 480.29" fill="none" stroke="#27a8e2" stroke-width="3.4" stroke-opacity="0.55" stroke-linecap="round" stroke-linejoin="round" />
<path d="M658.32 469.64L660.29 472.8" fill="none" stroke="#3f78f4" stroke-width="2.6" stroke-opacity="0.5" stroke-linecap="round" stroke-linejoin="round" />
<path d="M548.94 450.33L550.91 460.18" fill="none" stroke="#3f78f4" stroke-width="2.6" stroke-opacity="0.5" stroke-linecap="round" stroke-linejoin="round" />
<path d="M568.65 451.91L569.83 457.03" fill="none" stroke="#3f78f4" stroke-width="2.6" stroke-opacity="0.5" stroke-linecap="round" stroke-linejoin="round" />
<path d="M661.28 434.17L662.07 439.88" fill="none" stroke="#3f78f4" stroke-width="2.6" stroke-opacity="0.5" stroke-linecap="round" stroke-linejoin="round" />
<path d="M590.33 477.53L592.3 481.27" fill="none" stroke="#3f78f4" stroke-width="2.6" stroke-opacity="0.5" stroke-linecap="round" stroke-linejoin="round" />
<path d="M627.77 480.48L628.76 484.23" fill="none" stroke="#3f78f4" stroke-width="2.6" stroke-opacity="0.5" stroke-linecap="round" stroke-linejoin="round" />
<path d="M620.88 446.98L622.26 451.71" fill="none" stroke="#3f78f4" stroke-width="2.6" stroke-opacity="0.5" stroke-linecap="round" stroke-linejoin="round" />
<path d="M644.53 436.14L645.51 440.87" fill="none" stroke="#3f78f4" stroke-width="2.6" stroke-opacity="0.5" stroke-linecap="round" stroke-linejoin="round" />
</g>
<g filter="url(#b0)">
<path d="M456.62 451.54L458.27 449L460.47 445.7L462.13 444.7L463.78 446.91L466.54 450.88L468.19 448.89L469.85 443.82L471.5 449L472.93 456.72L474.04 462.23" fill="none" stroke="#45c8a0" stroke-width="3.8" stroke-opacity="0.7" stroke-linecap="round" stroke-linejoin="round" />
<path d="M476.46 448.67L478.11 452.86L480.32 459.7L482.52 452.86L484.18 444.93L485.83 449L488.04 452.86L489.69 455.29L491.35 452.31L493.55 451.32L495.2 450L496.86 449.11" fill="none" stroke="#45c8a0" stroke-width="3.8" stroke-opacity="0.7" stroke-linecap="round" stroke-linejoin="round" />
<path d="M496.86 449.11L498.51 451.76L500.72 452.86L502.92 449.78L504.02 447.57L505.13 453.97L505.79 458.6" fill="none" stroke="#45c8a0" stroke-width="2.2" stroke-opacity="0.7" stroke-linecap="round" stroke-linejoin="round" />
<path d="M466.54 450.88L466.69 452.84L466.9 455.66L467.15 458.79L467.42 461.68L467.71 464.24L468.03 466.73L468.37 469.19L468.74 471.61L469.19 474.21L469.71 476.91L470.18 479.31L470.51 480.98" fill="none" stroke="#45c8a0" stroke-width="1.9" stroke-opacity="0.7" stroke-linecap="round" stroke-linejoin="round" />
<path d="M457.72 480.43L459.37 489.25L462.13 493.11L467.64 495.42L470.4 494.32L473.15 489.47L476.02 486.49L478.67 490.35L481.42 489.25L483.08 491.45L486.38 492.55L491.9 491.45L496.31 490.35L497.96 480.43L500.17 483.73L502.92 485.5L505.13 482.63L507.33 481.09L510.09 479.54L511.74 487.04L513.95 491.01L520.01 490.57" fill="none" stroke="#27a8e2" stroke-width="1.7" stroke-opacity="0.45" stroke-linecap="round" stroke-linejoin="round" />
<path d="M447.52 436.53L446.14 440.08" fill="none" stroke="#45c8a0" stroke-width="2.4" stroke-opacity="0.6" stroke-linecap="round" stroke-linejoin="round" />
<path d="M516.5 422.34L517.48 427.07" fill="none" stroke="#45c8a0" stroke-width="2.4" stroke-opacity="0.6" stroke-linecap="round" stroke-linejoin="round" />
<path d="M435.5 454.66L436.88 457.03" fill="none" stroke="#45c8a0" stroke-width="2.4" stroke-opacity="0.6" stroke-linecap="round" stroke-linejoin="round" />
<path d="M542.12 451.91L545.07 449.93L550 451.31" fill="none" stroke="#45c8a0" stroke-width="2.4" stroke-opacity="0.6" stroke-linecap="round" stroke-linejoin="round" />
<path d="M535.22 461.76L536.8 464.52" fill="none" stroke="#45c8a0" stroke-width="2.4" stroke-opacity="0.6" stroke-linecap="round" stroke-linejoin="round" />
<path d="M531.28 444.02L532.66 447.77" fill="none" stroke="#45c8a0" stroke-width="2.4" stroke-opacity="0.6" stroke-linecap="round" stroke-linejoin="round" />
<path d="M521.42 452.69L523 449.34L524.38 451.51" fill="none" stroke="#45c8a0" stroke-width="2.4" stroke-opacity="0.6" stroke-linecap="round" stroke-linejoin="round" />
<path d="M509.6 446.98L511.57 452.3L513.54 457.23L514.53 460.58" fill="none" stroke="#45c8a0" stroke-width="2.4" stroke-opacity="0.6" stroke-linecap="round" stroke-linejoin="round" />
<path d="M504.67 443.04L506.05 447.77" fill="none" stroke="#45c8a0" stroke-width="2.4" stroke-opacity="0.6" stroke-linecap="round" stroke-linejoin="round" />
<path d="M555.84 453.29L557.81 452.3L559.78 449.93L561.16 452.3L562.74 450.72" fill="none" stroke="#45c8a0" stroke-width="2.4" stroke-opacity="0.6" stroke-linecap="round" stroke-linejoin="round" />
<path d="M604.12 455.26L605.7 456.83" fill="none" stroke="#45c8a0" stroke-width="2.4" stroke-opacity="0.6" stroke-linecap="round" stroke-linejoin="round" />
<path d="M609.05 450.72L611.02 448.75L612.4 451.51" fill="none" stroke="#45c8a0" stroke-width="2.4" stroke-opacity="0.6" stroke-linecap="round" stroke-linejoin="round" />
<path d="M627.77 445.2L629.35 447.57" fill="none" stroke="#45c8a0" stroke-width="2.4" stroke-opacity="0.6" stroke-linecap="round" stroke-linejoin="round" />
<path d="M650.44 477.53L651.42 480.29" fill="none" stroke="#45c8a0" stroke-width="2.4" stroke-opacity="0.6" stroke-linecap="round" stroke-linejoin="round" />
<path d="M415 480.88L415.69 480.27L416.66 479.34L417.79 478.68L418.94 478.91L420.13 480.48L421.41 482.97L422.68 485.65L423.87 487.77L424.92 489.29L425.9 490.55L426.85 491.4L427.81 491.72L428.82 491.31L429.84 490.3L430.84 489.01L431.75 487.77L432.54 486.29L433.23 484.51L433.92 483.13L434.71 482.85L435.65 484.49L436.68 487.47L437.71 490.35L438.65 491.72L439.46 490.99L440.19 489.01L440.89 486.4L441.61 483.83L442.35 481.12L443.08 478.04L443.82 475.15L444.56 472.99L445.28 471.99L445.98 471.76L446.71 471.65L447.52 471.02L448.48 469.53L449.55 467.57L450.59 465.62L451.46 464.12L452.14 463.24L452.69 462.71L453.12 462.39L453.43 462.15" fill="none" stroke="#4a90f6" stroke-width="0.9" stroke-opacity="0.85" stroke-linecap="round" stroke-linejoin="round" />
<path d="M418.94 499.6L420.36 498.91L422.39 497.88L424.67 496.97L426.82 496.64L428.84 497.31L430.89 498.61L432.88 499.92L434.71 500.59L436.28 500.17L437.66 499.11L439.05 498.04L440.62 497.63L442.5 498.31L444.56 499.66L446.63 500.98L448.5 501.57L450.14 501.16L451.65 500.15L453.05 498.87L454.42 497.63L455.83 496.35L457.25 494.92L458.48 493.61L459.34 492.7" fill="none" stroke="#4a90f6" stroke-width="0.9" stroke-opacity="0.85" stroke-linecap="round" stroke-linejoin="round" />
<path d="M415 503.54L417.12 503.27L420.17 502.86L423.59 502.55L426.82 502.56L429.78 503.13L432.74 504.1L435.69 505.03L438.65 505.51L441.61 505.34L444.56 504.77L447.52 504.08L450.47 503.54L453.43 503.13L456.39 502.74L459.34 502.5L462.3 502.56L465.35 503.18L468.46 504.22L471.45 505.17L474.12 505.51L476.37 504.87L478.31 503.6L480.13 502.3L482.01 501.57L483.89 501.65L485.7 502.19L487.64 502.91L489.89 503.54L492.57 504.13L495.56 504.77L498.67 505.3L501.72 505.51L504.67 505.32L507.63 504.83L510.59 504.2L513.54 503.54L516.5 502.87L519.45 502.13L522.41 501.35L525.37 500.59L528.3 499.82L531.22 499.05L534.17 498.3L537.19 497.63L540.63 497.02L544.34 496.46L547.68 495.99L550 495.66" fill="none" stroke="#4a90f6" stroke-width="0.9" stroke-opacity="0.75" stroke-linecap="round" stroke-linejoin="round" />
<path d="M415 511.42L417.83 510.96L421.9 510.25L426.46 509.65L430.77 509.45L434.71 509.94L438.65 510.87L442.59 511.83L446.53 512.41L450.47 512.51L454.42 512.35L458.36 511.97L462.3 511.42L466.24 510.46L470.18 509.15L474.12 507.98L478.07 507.48L482.01 508.03L485.95 509.27L489.89 510.6L493.83 511.42L497.77 511.57L501.72 511.36L505.66 510.94L509.6 510.44L513.63 509.75L517.73 508.84L521.7 507.99L525.37 507.48L528.58 507.52L531.46 507.91L534.26 508.34L537.19 508.47L540.63 508.14L544.34 507.54L547.68 506.92L550 506.5" fill="none" stroke="#4a90f6" stroke-width="0.9" stroke-opacity="0.65" stroke-linecap="round" stroke-linejoin="round" />
<path d="M415 515.76L474.12 516.15L550 514.58" fill="none" stroke="#4c7af0" stroke-width="0.8" stroke-opacity="0.6" stroke-linecap="round" stroke-linejoin="round" />
<path d="M415 517.73L474.12 518.13L550 516.55" fill="none" stroke="#4c7af0" stroke-width="0.8" stroke-opacity="0.6" stroke-linecap="round" stroke-linejoin="round" />
<path d="M415 519.9L474.12 520.29L550 518.72" fill="none" stroke="#4c7af0" stroke-width="0.8" stroke-opacity="0.6" stroke-linecap="round" stroke-linejoin="round" />
<path d="M545 514.58L604.12 515.37L667.19 515.76" fill="none" stroke="#4c7af0" stroke-width="0.8" stroke-opacity="0.6" stroke-linecap="round" stroke-linejoin="round" />
<path d="M545 516.75L604.12 517.53L667.19 517.93" fill="none" stroke="#4c7af0" stroke-width="0.8" stroke-opacity="0.6" stroke-linecap="round" stroke-linejoin="round" />
<path d="M545 519.31L604.12 520.1L667.19 520.49" fill="none" stroke="#4c7af0" stroke-width="0.8" stroke-opacity="0.6" stroke-linecap="round" stroke-linejoin="round" />
<path d="M419.93 464.12L420.42 467.19L421.12 471.64L421.87 476.27L422.49 479.89L422.92 482.34L423.25 484.2L423.55 485.39L423.87 485.8L424.19 485.39L424.48 484.2L424.82 482.34L425.25 479.89L425.87 476.27L426.62 471.64L427.32 467.19L427.81 464.12" fill="none" stroke="#4a90f6" stroke-width="0.8" stroke-opacity="0.6" stroke-linecap="round" stroke-linejoin="round" />
<path d="M430.77 460.18L431.25 463.25L431.96 467.7L432.71 472.33L433.33 475.95L433.76 478.4L434.09 480.26L434.39 481.45L434.71 481.86L435.03 481.45L435.32 480.26L435.66 478.4L436.09 475.95L436.71 472.33L437.46 467.7L438.16 463.25L438.65 460.18" fill="none" stroke="#4a90f6" stroke-width="0.8" stroke-opacity="0.6" stroke-linecap="round" stroke-linejoin="round" />
<path d="M468.21 470.04L468.7 473.1L469.41 477.55L470.16 482.19L470.77 485.8L471.2 488.25L471.54 490.12L471.84 491.3L472.15 491.72L472.47 491.3L472.77 490.12L473.11 488.25L473.53 485.8L474.15 482.19L474.9 477.55L475.61 473.1L476.1 470.04" fill="none" stroke="#4a90f6" stroke-width="0.8" stroke-opacity="0.6" stroke-linecap="round" stroke-linejoin="round" />
<path d="M495.8 464.12L496.29 467.19L497 471.64L497.75 476.27L498.37 479.89L498.79 482.34L499.13 484.2L499.43 485.39L499.75 485.8L500.06 485.39L500.36 484.2L500.7 482.34L501.13 479.89L501.74 476.27L502.49 471.64L503.2 467.19L503.69 464.12" fill="none" stroke="#4a90f6" stroke-width="0.8" stroke-opacity="0.6" stroke-linecap="round" stroke-linejoin="round" />
<path d="M521.42 468.07L521.91 471.13L522.62 475.58L523.37 480.21L523.99 483.83L524.42 486.28L524.75 488.14L525.05 489.33L525.37 489.75L525.68 489.33L525.98 488.14L526.32 486.28L526.75 483.83L527.36 480.21L528.11 475.58L528.82 471.13L529.31 468.07" fill="none" stroke="#4a90f6" stroke-width="0.8" stroke-opacity="0.6" stroke-linecap="round" stroke-linejoin="round" />
<path d="M537.19 462.15L537.68 465.22L538.39 469.67L539.14 474.3L539.75 477.92L540.18 480.37L540.52 482.23L540.82 483.42L541.13 483.83L541.45 483.42L541.75 482.23L542.08 480.37L542.51 477.92L543.13 474.3L543.88 469.67L544.59 465.22L545.07 462.15" fill="none" stroke="#4a90f6" stroke-width="0.8" stroke-opacity="0.6" stroke-linecap="round" stroke-linejoin="round" />
<path d="M480.04 472.01L480.53 475.07L481.23 479.52L481.98 484.16L482.6 487.77L483.03 490.22L483.36 492.09L483.66 493.27L483.98 493.69L484.3 493.27L484.59 492.09L484.93 490.22L485.36 487.77L485.98 484.16L486.73 479.52L487.43 475.07L487.92 472.01" fill="none" stroke="#4a90f6" stroke-width="0.8" stroke-opacity="0.6" stroke-linecap="round" stroke-linejoin="round" />
<path d="M505.66 466.1L506.15 469.16L506.85 473.61L507.6 478.24L508.22 481.86L508.65 484.31L508.98 486.17L509.28 487.36L509.6 487.77L509.92 487.36L510.22 486.17L510.55 484.31L510.98 481.86L511.6 478.24L512.35 473.61L513.05 469.16L513.54 466.1" fill="none" stroke="#4a90f6" stroke-width="0.8" stroke-opacity="0.6" stroke-linecap="round" stroke-linejoin="round" />
<path d="M545 483.83L546.26 485.47L548.08 487.9L550.08 490.02L551.9 490.73L553.45 489.01L554.92 485.68L556.36 482.42L557.81 480.88L559.29 482.22L560.77 485.31L562.24 488.41L563.72 489.75L565.22 488.18L566.74 484.88L568.23 481.55L569.64 479.89L570.94 480.64L572.16 482.79L573.35 485.46L574.56 487.77L575.72 489.57L576.84 491.29L578.05 492.97L579.49 494.67L581.32 496.65L583.43 498.8L585.54 500.61L587.37 501.57L588.79 501.37L589.96 500.34L591.07 498.94L592.3 497.63L593.71 496.37L595.19 494.98L596.71 493.68L598.21 492.7L599.69 492.02L601.17 491.53L602.65 491.39L604.12 491.72L605.58 492.71L607.02 494.24L608.49 495.99L610.04 497.63L611.69 499.38L613.42 501.32L615.19 502.89L616.94 503.54L618.71 503.08L620.51 501.82L622.25 499.94L623.83 497.63L625.2 494.23L626.42 489.87L627.57 485.94L628.76 483.83L629.97 484.28L631.16 486.42L632.39 489.24L633.69 491.72L635.05 494.33L636.46 497.38L637.96 499.57L639.6 499.6L641.5 496.2L643.6 490.36L645.67 484.22L647.48 479.89L648.9 477.97L650.07 477.3L651.18 477.44L652.41 477.92L653.8 478.94L655.24 480.63L656.75 482.45L658.32 483.83L660.14 484.65L662.14 485.19L663.96 485.54L665.22 485.8" fill="none" stroke="#44b0e8" stroke-width="0.9" stroke-opacity="0.9" stroke-linecap="round" stroke-linejoin="round" />
<path d="M545 497.63L547.12 498.52L550.17 499.85L553.59 501.05L556.82 501.57L559.78 501.09L562.74 499.97L565.69 498.66L568.65 497.63L571.72 496.81L574.87 496.03L577.87 495.55L580.47 495.66L582.5 496.67L584.11 498.37L585.63 500.19L587.37 501.57L589.47 502.48L591.75 503.17L594.05 503.56L596.24 503.54L598.28 502.76L600.24 501.39L602.18 500.1L604.12 499.6L606 500.3L607.82 501.76L609.76 503.36L612.01 504.53L614.73 505.21L617.8 505.7L620.92 505.84L623.83 505.51L626.53 504.38L629.13 502.62L631.55 500.82L633.69 499.6L635.4 499.09L636.77 498.98L638.08 499.18L639.6 499.6L641.43 500.54L643.42 501.94L645.47 503.16L647.48 503.54L649.36 502.57L651.18 500.71L653.12 498.78L655.37 497.63L658.32 497.61L661.77 498.24L664.97 499.06L667.19 499.6" fill="none" stroke="#4a90f6" stroke-width="0.9" stroke-opacity="0.8" stroke-linecap="round" stroke-linejoin="round" />
<path d="M545 507.48L548.54 506.99L553.62 506.25L559.32 505.64L564.71 505.51L569.64 506.24L574.56 507.54L579.49 508.82L584.42 509.45L589.34 509.11L594.27 508.16L599.2 507.12L604.12 506.5L609.05 506.63L613.98 507.18L618.91 507.63L623.83 507.48L628.95 506.44L634.18 504.83L639.17 503.07L643.54 501.57L647.05 500.31L649.95 499.11L652.6 498.15L655.37 497.63L658.6 497.75L662.02 498.37L665.07 499.11L667.19 499.6" fill="none" stroke="#4a90f6" stroke-width="0.9" stroke-opacity="0.65" stroke-linecap="round" stroke-linejoin="round" />
<path d="M553.47 464.12L554 467.54L554.76 472.5L555.56 477.71L556.23 481.86L556.71 484.9L557.1 487.41L557.44 489.11L557.81 489.75L558.18 489.11L558.52 487.41L558.91 484.9L559.39 481.86L560.06 477.71L560.87 472.5L561.62 467.54L562.15 464.12" fill="none" stroke="#4a90f6" stroke-width="0.8" stroke-opacity="0.65" stroke-linecap="round" stroke-linejoin="round" />
<path d="M565.3 454.27L565.82 457.69L566.58 462.65L567.39 467.85L568.06 472.01L568.54 475.04L568.92 477.55L569.27 479.26L569.64 479.89L570 479.26L570.35 477.55L570.73 475.04L571.21 472.01L571.88 467.85L572.69 462.65L573.45 457.69L573.97 454.27" fill="none" stroke="#4a90f6" stroke-width="0.8" stroke-opacity="0.65" stroke-linecap="round" stroke-linejoin="round" />
<path d="M593.88 464.12L594.4 467.54L595.16 472.5L595.96 477.71L596.64 481.86L597.11 484.9L597.5 487.41L597.85 489.11L598.21 489.75L598.58 489.11L598.93 487.41L599.31 484.9L599.79 481.86L600.46 477.71L601.27 472.5L602.02 467.54L602.55 464.12" fill="none" stroke="#4a90f6" stroke-width="0.8" stroke-opacity="0.65" stroke-linecap="round" stroke-linejoin="round" />
<path d="M624.42 450.33L624.95 453.75L625.71 458.71L626.51 463.91L627.18 468.07L627.66 471.1L628.05 473.61L628.39 475.32L628.76 475.95L629.13 475.32L629.47 473.61L629.86 471.1L630.34 468.07L631.01 463.91L631.82 458.71L632.57 453.75L633.1 450.33" fill="none" stroke="#4a90f6" stroke-width="0.8" stroke-opacity="0.65" stroke-linecap="round" stroke-linejoin="round" />
<path d="M643.15 448.36L643.67 451.78L644.43 456.73L645.24 461.94L645.91 466.1L646.38 469.13L646.77 471.64L647.12 473.35L647.48 473.98L647.85 473.35L648.2 471.64L648.58 469.13L649.06 466.1L649.73 461.94L650.54 456.73L651.3 451.78L651.82 448.36" fill="none" stroke="#4a90f6" stroke-width="0.8" stroke-opacity="0.65" stroke-linecap="round" stroke-linejoin="round" />
<path d="M570.23 470.04L570.75 473.46L571.51 478.41L572.31 483.62L572.99 487.77L573.46 490.81L573.85 493.32L574.2 495.03L574.56 495.66L574.93 495.03L575.28 493.32L575.66 490.81L576.14 487.77L576.81 483.62L577.62 478.41L578.37 473.46L578.9 470.04" fill="none" stroke="#4a90f6" stroke-width="0.8" stroke-opacity="0.65" stroke-linecap="round" stroke-linejoin="round" />
<path d="M612.6 479.89L613.12 483.31L613.88 488.27L614.69 493.47L615.36 497.63L615.84 500.66L616.22 503.17L616.57 504.88L616.94 505.51L617.3 504.88L617.65 503.17L618.03 500.66L618.51 497.63L619.18 493.47L619.99 488.27L620.75 483.31L621.27 479.89" fill="none" stroke="#4a90f6" stroke-width="0.8" stroke-opacity="0.65" stroke-linecap="round" stroke-linejoin="round" />
<path d="M653.99 456.24L654.51 459.66L655.27 464.62L656.07 469.82L656.75 473.98L657.22 477.01L657.61 479.52L657.96 481.23L658.32 481.86L658.69 481.23L659.04 479.52L659.42 477.01L659.9 473.98L660.57 469.82L661.38 464.62L662.14 459.66L662.66 456.24" fill="none" stroke="#4a90f6" stroke-width="0.8" stroke-opacity="0.65" stroke-linecap="round" stroke-linejoin="round" />
<path d="M456.62 451.54L458.27 449L460.47 445.7L462.13 444.7L463.78 446.91L466.54 450.88L468.19 448.89L469.85 443.82L471.5 449L472.93 456.72L474.04 462.23" fill="none" stroke="#f5ef22" stroke-width="1.9" stroke-opacity="1" stroke-linecap="round" stroke-linejoin="round" />
<path d="M476.46 448.67L478.11 452.86L480.32 459.7L482.52 452.86L484.18 444.93L485.83 449L488.04 452.86L489.69 455.29L491.35 452.31L493.55 451.32L495.2 450L496.86 449.11" fill="none" stroke="#f5ef22" stroke-width="1.9" stroke-opacity="1" stroke-linecap="round" stroke-linejoin="round" />
<path d="M496.86 449.11L498.51 451.76L500.72 452.86L502.92 449.78L504.02 447.57L505.13 453.97L505.79 458.6" fill="none" stroke="#b8cc30" stroke-width="1.3" stroke-opacity="1" stroke-linecap="round" stroke-linejoin="round" />
<path d="M474.04 462.23L475.14 458.38L476.46 448.67" fill="none" stroke="#45c8a0" stroke-width="1.2" stroke-opacity="1" stroke-linecap="round" stroke-linejoin="round" />
<ellipse cx="457.17" cy="451.21" rx="0.88" ry="1.54" fill="#f5ef22"/>
<ellipse cx="461.03" cy="445.37" rx="1.32" ry="1.32" fill="#f5ef22"/>
<ellipse cx="469.85" cy="444.93" rx="0.88" ry="2.43" fill="#f5ef22"/>
<ellipse cx="472.49" cy="454.85" rx="0.77" ry="2.65" fill="#f5ef22"/>
<ellipse cx="476.46" cy="448.89" rx="0.88" ry="1.43" fill="#f5ef22"/>
<ellipse cx="480.32" cy="458.38" rx="1.1" ry="2.43" fill="#f5ef22"/>
<ellipse cx="484.18" cy="446.03" rx="0.77" ry="1.76" fill="#f5ef22"/>
<ellipse cx="488.81" cy="453.52" rx="0.88" ry="1.43" fill="#f5ef22"/>
<ellipse cx="494.98" cy="450.22" rx="1.32" ry="1.1" fill="#f5ef22"/>
<ellipse cx="466.54" cy="450.44" rx="0.88" ry="1.32" fill="#f5ef22"/>
<ellipse cx="486.38" cy="450.11" rx="0.66" ry="1.32" fill="#f5ef22"/>
<path d="M466.54 450.88L466.69 452.84L466.9 455.66L467.15 458.79L467.42 461.68L467.71 464.24L468.03 466.73L468.37 469.19L468.74 471.61L469.19 474.21L469.71 476.91L470.18 479.31L470.51 480.98" fill="none" stroke="#e4e62c" stroke-width="1" stroke-opacity="1" stroke-linecap="round" stroke-linejoin="round" />
<path d="M460.14 438.53L460.47 445.7" fill="none" stroke="#34a8e6" stroke-width="0.8" stroke-opacity="0.8" stroke-linecap="round" stroke-linejoin="round" />
<path d="M462.13 439.63L462.35 444.7" fill="none" stroke="#34a8e6" stroke-width="0.8" stroke-opacity="0.8" stroke-linecap="round" stroke-linejoin="round" />
<path d="M466.54 440.74L466.76 450.88" fill="none" stroke="#34a8e6" stroke-width="0.8" stroke-opacity="0.8" stroke-linecap="round" stroke-linejoin="round" />
<path d="M476.46 441.84L476.57 448.67" fill="none" stroke="#34a8e6" stroke-width="0.8" stroke-opacity="0.8" stroke-linecap="round" stroke-linejoin="round" />
<path d="M482.19 438.53L482.52 452.86" fill="none" stroke="#34a8e6" stroke-width="0.8" stroke-opacity="0.8" stroke-linecap="round" stroke-linejoin="round" />
<path d="M484.18 435.22L484.29 444.93" fill="none" stroke="#34a8e6" stroke-width="0.8" stroke-opacity="0.8" stroke-linecap="round" stroke-linejoin="round" />
<path d="M488.04 442.94L488.15 452.86" fill="none" stroke="#34a8e6" stroke-width="0.8" stroke-opacity="0.8" stroke-linecap="round" stroke-linejoin="round" />
<path d="M493.55 438.53L493.66 451.32" fill="none" stroke="#34a8e6" stroke-width="0.8" stroke-opacity="0.8" stroke-linecap="round" stroke-linejoin="round" />
<path d="M496.86 441.84L496.97 449.11" fill="none" stroke="#34a8e6" stroke-width="0.8" stroke-opacity="0.8" stroke-linecap="round" stroke-linejoin="round" />
<path d="M480.32 459.7L480.87 471.61L481.53 488.7" fill="none" stroke="#34a8e6" stroke-width="0.8" stroke-opacity="0.8" stroke-linecap="round" stroke-linejoin="round" />
<path d="M474.04 462.23L474.48 471.61" fill="none" stroke="#34a8e6" stroke-width="0.8" stroke-opacity="0.8" stroke-linecap="round" stroke-linejoin="round" />
<path d="M456.62 451.54L456.84 455.07" fill="none" stroke="#34a8e6" stroke-width="0.8" stroke-opacity="0.8" stroke-linecap="round" stroke-linejoin="round" />
<path d="M485.83 449L486.05 457.27" fill="none" stroke="#34a8e6" stroke-width="0.8" stroke-opacity="0.8" stroke-linecap="round" stroke-linejoin="round" />
<path d="M491.35 452.31L491.57 458.38" fill="none" stroke="#34a8e6" stroke-width="0.8" stroke-opacity="0.8" stroke-linecap="round" stroke-linejoin="round" />
<path d="M500.72 452.86L500.94 458.38" fill="none" stroke="#34a8e6" stroke-width="0.8" stroke-opacity="0.8" stroke-linecap="round" stroke-linejoin="round" />
<path d="M498.51 445.15L498.62 451.76" fill="none" stroke="#34a8e6" stroke-width="0.8" stroke-opacity="0.8" stroke-linecap="round" stroke-linejoin="round" />
<path d="M470.18 424.2L470.2 425.53L470.25 427.44L470.28 429.65L470.29 431.92L470.25 434.47L470.18 437.36L470.11 440L470.07 441.84" fill="none" stroke="#3aaee4" stroke-width="1" stroke-opacity="0.9" stroke-linecap="round" stroke-linejoin="round" />
<path d="M502.7 407.66L502.74 409.64L502.79 412.48L502.85 415.67L502.92 418.68L503 421.47L503.08 424.27L503.17 427.03L503.25 429.71L503.33 432.32L503.4 434.88L503.48 437.33L503.58 439.63L503.72 441.64L503.88 443.42L504.06 445.24L504.24 447.35L504.45 449.87L504.69 452.66L504.92 455.54L505.13 458.38L505.34 461.08L505.55 463.75L505.72 466.49L505.79 469.4L505.7 472.86L505.5 476.71L505.28 480.2L505.13 482.63" fill="none" stroke="#38b6dc" stroke-width="1.1" stroke-opacity="0.95" stroke-linecap="round" stroke-linejoin="round" />
<path d="M457.72 480.43L459.37 489.25L462.13 493.11L467.64 495.42L470.4 494.32L473.15 489.47L476.02 486.49L478.67 490.35L481.42 489.25L483.08 491.45L486.38 492.55L491.9 491.45L496.31 490.35L497.96 480.43L500.17 483.73L502.92 485.5L505.13 482.63L507.33 481.09L510.09 479.54L511.74 487.04L513.95 491.01L520.01 490.57" fill="none" stroke="#3cc0d8" stroke-width="0.9" stroke-opacity="0.8" stroke-linecap="round" stroke-linejoin="round" />
<path d="M461.03 492.55L464.33 494.54L468.19 495.42" fill="none" stroke="#f5ef22" stroke-width="1.2" stroke-opacity="1" stroke-linecap="round" stroke-linejoin="round" />
<path d="M476.02 486.6L477.56 488.7L478.89 490.35" fill="none" stroke="#b8cc30" stroke-width="1.1" stroke-opacity="1" stroke-linecap="round" stroke-linejoin="round" />
<path d="M457.72 480.43L457.99 479.21L458.37 477.46L458.84 475.54L459.37 473.81L460 472.33L460.73 470.92L461.47 469.57L462.13 468.3L462.72 467.02L463.29 465.75L463.77 464.66L464.11 463.89" fill="none" stroke="#34a4e8" stroke-width="0.9" stroke-opacity="0.8" stroke-linecap="round" stroke-linejoin="round" />
<path d="M456.62 487.04L457.72 480.43" fill="none" stroke="#34a4e8" stroke-width="0.9" stroke-opacity="0.7" stroke-linecap="round" stroke-linejoin="round" />
<path d="M510.51 491.01L514.37 490.57L520.99 491.01" fill="none" stroke="#dde030" stroke-width="1" stroke-opacity="1" stroke-linecap="round" stroke-linejoin="round" />
<path d="M521.54 491.01L525.4 485.5L527.05 484.84L529.26 492.55L532.01 487.04L533.11 482.63" fill="none" stroke="#3cb8dc" stroke-width="0.9" stroke-opacity="1" stroke-linecap="round" stroke-linejoin="round" />
<path d="M528.15 468.3L528.79 469.86L529.7 472.09L530.67 474.63L531.46 477.12L532.03 479.75L532.49 482.63L532.86 485.23L533.11 487.04" fill="none" stroke="#38a8e6" stroke-width="0.9" stroke-opacity="1" stroke-linecap="round" stroke-linejoin="round" />
<path d="M530.91 435.22L531.01 436.83L531.14 439.15L531.3 441.71L531.46 444.04L531.63 446.23L531.83 448.45L532 450.4L532.12 451.76" fill="none" stroke="#38b0e0" stroke-width="1" stroke-opacity="1" stroke-linecap="round" stroke-linejoin="round" />
<path d="M531.02 441.84L531.68 446.8" fill="none" stroke="#b8cc30" stroke-width="1.6" stroke-opacity="1" stroke-linecap="round" stroke-linejoin="round" />
<path d="M532.12 451.76L532.42 451.76L532.85 451.71L533.35 451.96L533.89 452.86L534.49 454.75L535.16 457.36L535.83 460.14L536.42 462.57L536.88 464.43L537.27 466.04L537.64 467.62L538.08 469.4L538.59 471.54L539.14 473.89L539.72 476.2L540.28 478.22L540.88 479.96L541.52 481.53L542.09 482.82L542.49 483.73" fill="none" stroke="#46c0c0" stroke-width="1" stroke-opacity="1" stroke-linecap="round" stroke-linejoin="round" />
<path d="M535.65 460.36L536.97 463.67" fill="none" stroke="#b8cc30" stroke-width="1.5" stroke-opacity="1" stroke-linecap="round" stroke-linejoin="round" />
<path d="M527.05 447.35L527.15 448.51L527.29 450.18L527.45 452.08L527.6 453.97L527.75 456L527.91 458.24L528.05 460.27L528.15 461.68" fill="none" stroke="#34a8e6" stroke-width="0.9" stroke-opacity="1" stroke-linecap="round" stroke-linejoin="round" />
<path d="M542.49 491.45L545.79 484.84L549.1 467.2L547.56 480.43L551.31 491.45" fill="none" stroke="#3c98ee" stroke-width="0.9" stroke-opacity="1" stroke-linecap="round" stroke-linejoin="round" />
<path d="M565.09 484.84L567.84 477.12L571.15 489.25L575.01 495.86" fill="none" stroke="#3c98ee" stroke-width="0.9" stroke-opacity="1" stroke-linecap="round" stroke-linejoin="round" />
<path d="M505.33 455.07L505.55 461.68" fill="none" stroke="#b8cc30" stroke-width="1.2" stroke-opacity="1" stroke-linecap="round" stroke-linejoin="round" />
<path d="M447.52 436.53L446.14 440.08" fill="none" stroke="#f5ef22" stroke-width="1.5" stroke-opacity="1" stroke-linecap="round" stroke-linejoin="round" />
<path d="M516.5 422.34L517.48 427.07" fill="none" stroke="#b8cc30" stroke-width="1.5" stroke-opacity="1" stroke-linecap="round" stroke-linejoin="round" />
<path d="M500.73 411.9L501.72 416.43" fill="none" stroke="#45c8a0" stroke-width="1" stroke-opacity="0.9" stroke-linecap="round" stroke-linejoin="round" />
<path d="M435.5 454.66L436.88 457.03" fill="none" stroke="#b8cc30" stroke-width="1.5" stroke-opacity="1" stroke-linecap="round" stroke-linejoin="round" />
<path d="M422.49 443.43L423.28 446.78" fill="none" stroke="#27a8e2" stroke-width="1" stroke-opacity="0.9" stroke-linecap="round" stroke-linejoin="round" />
<path d="M440.23 445.01L441.21 448.36" fill="none" stroke="#27a8e2" stroke-width="1" stroke-opacity="0.9" stroke-linecap="round" stroke-linejoin="round" />
<path d="M474.12 416.43L474.72 421.16" fill="none" stroke="#27a8e2" stroke-width="1" stroke-opacity="0.9" stroke-linecap="round" stroke-linejoin="round" />
<path d="M432.74 432.2L433.72 435.94" fill="none" stroke="#27a8e2" stroke-width="1" stroke-opacity="0.9" stroke-linecap="round" stroke-linejoin="round" />
<path d="M438.26 410.52L439.04 414.26" fill="none" stroke="#27a8e2" stroke-width="1" stroke-opacity="0.9" stroke-linecap="round" stroke-linejoin="round" />
<path d="M452.45 461.76L454.42 464.52" fill="none" stroke="#27a8e2" stroke-width="1" stroke-opacity="0.9" stroke-linecap="round" stroke-linejoin="round" />
<path d="M517.48 463.73L519.06 466.49" fill="none" stroke="#45c8a0" stroke-width="1" stroke-opacity="0.9" stroke-linecap="round" stroke-linejoin="round" />
<path d="M499.75 457.82L501.72 461.56" fill="none" stroke="#27a8e2" stroke-width="1" stroke-opacity="0.9" stroke-linecap="round" stroke-linejoin="round" />
<path d="M542.12 451.91L545.07 449.93L550 451.31" fill="none" stroke="#f5ef22" stroke-width="1.5" stroke-opacity="1" stroke-linecap="round" stroke-linejoin="round" />
<path d="M535.22 461.76L536.8 464.52" fill="none" stroke="#f5ef22" stroke-width="1.5" stroke-opacity="1" stroke-linecap="round" stroke-linejoin="round" />
<path d="M531.28 444.02L532.66 447.77" fill="none" stroke="#f5ef22" stroke-width="1.5" stroke-opacity="1" stroke-linecap="round" stroke-linejoin="round" />
<path d="M521.42 452.69L523 449.34L524.38 451.51" fill="none" stroke="#f5ef22" stroke-width="1.5" stroke-opacity="1" stroke-linecap="round" stroke-linejoin="round" />
<path d="M509.6 446.98L511.57 452.3L513.54 457.23L514.53 460.58" fill="none" stroke="#f5ef22" stroke-width="1.5" stroke-opacity="1" stroke-linecap="round" stroke-linejoin="round" />
<path d="M504.67 443.04L506.05 447.77" fill="none" stroke="#b8cc30" stroke-width="1.5" stroke-opacity="1" stroke-linecap="round" stroke-linejoin="round" />
<path d="M524.38 451.31L524.91 451.63L525.67 452.12L526.53 452.45L527.34 452.3L528.12 451.44L528.94 450.08L529.69 448.6L530.29 447.37L530.66 446.29L530.85 445.22L531.01 444.49L531.28 444.42L531.7 445.13L532.2 446.45L532.73 448.23L533.25 450.33L533.79 453.15L534.36 456.61L534.87 459.89L535.22 462.15" fill="none" stroke="#38b0e4" stroke-width="1" stroke-opacity="0.8" stroke-linecap="round" stroke-linejoin="round" />
<path d="M514.53 460.18L515.06 461.17L515.82 462.65L516.67 463.88L517.48 464.12L518.27 462.89L519.08 460.68L519.84 458.21L520.44 456.24L520.85 454.89L521.12 453.78L521.29 452.92L521.42 452.3" fill="none" stroke="#38b0e4" stroke-width="1" stroke-opacity="0.8" stroke-linecap="round" stroke-linejoin="round" />
<path d="M555.84 453.29L557.81 452.3L559.78 449.93L561.16 452.3L562.74 450.72" fill="none" stroke="#f5ef22" stroke-width="1.5" stroke-opacity="1" stroke-linecap="round" stroke-linejoin="round" />
<path d="M604.12 455.26L605.7 456.83" fill="none" stroke="#b8cc30" stroke-width="1.5" stroke-opacity="1" stroke-linecap="round" stroke-linejoin="round" />
<path d="M609.05 450.72L611.02 448.75L612.4 451.51" fill="none" stroke="#f5ef22" stroke-width="1.5" stroke-opacity="1" stroke-linecap="round" stroke-linejoin="round" />
<path d="M627.77 445.2L629.35 447.57" fill="none" stroke="#b8cc30" stroke-width="1.5" stroke-opacity="1" stroke-linecap="round" stroke-linejoin="round" />
<path d="M640.59 418.01L641.57 421.16" fill="none" stroke="#45c8a0" stroke-width="1" stroke-opacity="0.9" stroke-linecap="round" stroke-linejoin="round" />
<path d="M586.39 425.3L587.37 430.03" fill="none" stroke="#45c8a0" stroke-width="1" stroke-opacity="0.9" stroke-linecap="round" stroke-linejoin="round" />
<path d="M564.71 416.43L565.3 420.18" fill="none" stroke="#45c8a0" stroke-width="1" stroke-opacity="0.9" stroke-linecap="round" stroke-linejoin="round" />
<path d="M650.44 477.53L651.42 480.29" fill="none" stroke="#b8cc30" stroke-width="1.5" stroke-opacity="1" stroke-linecap="round" stroke-linejoin="round" />
<path d="M658.32 469.64L660.29 472.8" fill="none" stroke="#27a8e2" stroke-width="1" stroke-opacity="0.9" stroke-linecap="round" stroke-linejoin="round" />
<path d="M548.94 450.33L550.91 460.18" fill="none" stroke="#27a8e2" stroke-width="1" stroke-opacity="0.9" stroke-linecap="round" stroke-linejoin="round" />
<path d="M568.65 451.91L569.83 457.03" fill="none" stroke="#27a8e2" stroke-width="1" stroke-opacity="0.9" stroke-linecap="round" stroke-linejoin="round" />
<path d="M661.28 434.17L662.07 439.88" fill="none" stroke="#27a8e2" stroke-width="1" stroke-opacity="0.9" stroke-linecap="round" stroke-linejoin="round" />
<path d="M590.33 477.53L592.3 481.27" fill="none" stroke="#27a8e2" stroke-width="1" stroke-opacity="0.9" stroke-linecap="round" stroke-linejoin="round" />
<path d="M627.77 480.48L628.76 484.23" fill="none" stroke="#45c8a0" stroke-width="1" stroke-opacity="0.9" stroke-linecap="round" stroke-linejoin="round" />
<path d="M620.88 446.98L622.26 451.71" fill="none" stroke="#27a8e2" stroke-width="1" stroke-opacity="0.9" stroke-linecap="round" stroke-linejoin="round" />
<path d="M644.53 436.14L645.51 440.87" fill="none" stroke="#27a8e2" stroke-width="1" stroke-opacity="0.9" stroke-linecap="round" stroke-linejoin="round" />
</g>
</g>
<clipPath id="s8"><rect x="418.4" y="574" width="256.4" height="114.8"/></clipPath>
<g clip-path="url(#s8)">
<rect x="417.4" y="573" width="258.4" height="116.8" fill="#3e26a8"/>
<g filter="url(#b1)">
<path d="M467.23 671.5L468.84 670.54L471.17 669.16L473.74 667.71L476.1 666.57L478.32 665.82L480.59 665.28L482.59 664.88L483.98 664.6" fill="none" stroke="#4353e6" stroke-width="2.6" stroke-opacity="0.45" stroke-linecap="round" stroke-linejoin="round" />
<path d="M474.12 662.63L475.21 663.5L476.77 664.78L478.49 665.98L480.04 666.57L481.45 666.25L482.87 665.34L484.1 664.31L484.96 663.61" fill="none" stroke="#4353e6" stroke-width="2.6" stroke-opacity="0.45" stroke-linecap="round" stroke-linejoin="round" />
<path d="M489.89 668.54L492.46 668.32L496.17 667.99L500.19 667.69L503.69 667.56L506.52 667.64L509.11 667.86L511.45 668.18L513.54 668.54L515.25 669.1L516.62 669.83L517.93 670.41L519.45 670.51L521.29 669.91L523.27 668.81L525.32 667.58L527.34 666.57L529.35 665.86L531.4 665.27L533.39 664.73L535.22 664.21L536.98 663.64L538.67 663.07L540.12 662.58L541.13 662.23" fill="none" stroke="#4353e6" stroke-width="2.6" stroke-opacity="0.45" stroke-linecap="round" stroke-linejoin="round" />
<path d="M480.04 679.38L482.52 679.07L486.07 678.64L490.06 678.09L493.83 677.41L497.37 676.42L500.98 675.19L504.46 674.08L507.63 673.47L510.6 673.59L513.42 674.21L515.8 674.95L517.48 675.44" fill="none" stroke="#4353e6" stroke-width="2.6" stroke-opacity="0.45" stroke-linecap="round" stroke-linejoin="round" />
<path d="M478.07 683.91L497.77 683.91" fill="none" stroke="#4353e6" stroke-width="2.6" stroke-opacity="0.45" stroke-linecap="round" stroke-linejoin="round" />
<path d="M528.32 672.48L530.72 672.73L534.17 673.1L537.91 673.41L541.13 673.47L543.84 673.14L546.37 672.54L548.5 671.92L550 671.5" fill="none" stroke="#4353e6" stroke-width="2.6" stroke-opacity="0.45" stroke-linecap="round" stroke-linejoin="round" />
<path d="M533.25 679.38L550 678.4" fill="none" stroke="#4353e6" stroke-width="2.6" stroke-opacity="0.45" stroke-linecap="round" stroke-linejoin="round" />
<path d="M505.66 683.32L533.25 682.34" fill="none" stroke="#4353e6" stroke-width="2.6" stroke-opacity="0.45" stroke-linecap="round" stroke-linejoin="round" />
<path d="M540 674.16L541.84 674.01L544.47 673.78L547.42 673.58L550.22 673.55L552.77 673.77L555.33 674.16L557.88 674.55L560.44 674.77L562.99 674.7L565.55 674.45L568.1 674.21L570.66 674.16L573.38 674.45L576.21 674.96L578.82 675.43L580.87 675.59L582.05 675.23L582.6 674.53L583.05 673.85L583.94 673.55L585.37 673.83L587.07 674.47L588.99 675.16L591.09 675.59L593.53 675.69L596.27 675.62L598.97 675.43L601.31 675.18L603.08 674.73L604.51 674.11L605.86 673.61L607.44 673.55L609.3 674.24L611.28 675.44L613.38 676.61L615.62 677.22L618.03 677L620.6 676.27L623.23 675.4L625.84 674.77L628.49 674.52L631.2 674.44L633.79 674.37L636.06 674.16L637.92 673.72L639.5 673.16L640.89 672.59L642.19 672.12L643.33 671.69L644.29 671.28L645.23 671.04L646.27 671.09L647.53 671.66L648.89 672.6L650.23 673.56L651.38 674.16L652.37 674.25L653.24 674.04L653.95 673.74L654.45 673.55" fill="none" stroke="#4353e6" stroke-width="2.6" stroke-opacity="0.45" stroke-linecap="round" stroke-linejoin="round" />
<path d="M600.29 669.05L601.21 668.38L602.53 667.39L604 666.46L605.4 665.98L606.7 666.09L608.02 666.56L609.3 667.25L610.51 668.03L611.6 669.1L612.62 670.45L613.6 671.62L614.6 672.12L615.64 671.6L616.7 670.39L617.73 669.03L618.68 668.03L619.54 667.48L620.32 667.13L621.05 666.97L621.75 667.01L622.46 667.35L623.17 667.96L623.78 668.61L624.2 669.05" fill="none" stroke="#4353e6" stroke-width="2.6" stroke-opacity="0.45" stroke-linecap="round" stroke-linejoin="round" />
<path d="M566.57 680.29L571.07 680.73L577.55 681.38L584.67 681.99L591.09 682.33L596.35 682.25L601.18 681.89L606.09 681.5L611.53 681.31L618.36 681.45L626.09 681.76L633.18 682.1L638.1 682.33" fill="none" stroke="#4353e6" stroke-width="2.6" stroke-opacity="0.45" stroke-linecap="round" stroke-linejoin="round" />
<path d="M576.79 683.36L585.35 683.41L597.74 683.48L610.89 683.6L621.75 683.76L629.89 684.04L636.82 684.4L642.35 684.75L646.27 684.99" fill="none" stroke="#4353e6" stroke-width="2.6" stroke-opacity="0.45" stroke-linecap="round" stroke-linejoin="round" />
<path d="M638.1 680.9L662.62 680.7" fill="none" stroke="#4353e6" stroke-width="2.6" stroke-opacity="0.45" stroke-linecap="round" stroke-linejoin="round" />
<path d="M540 679.27L562.48 679.68" fill="none" stroke="#4353e6" stroke-width="2.6" stroke-opacity="0.45" stroke-linecap="round" stroke-linejoin="round" />
<path d="M607.44 673.55L608.18 674.05L609.23 674.78L610.41 675.56L611.53 676.2L612.53 676.73L613.51 677.21L614.52 677.55L615.62 677.63L616.94 677.32L618.43 676.7L619.79 676.04L620.73 675.59" fill="none" stroke="#3f78f4" stroke-width="2.4" stroke-opacity="0.4" stroke-linecap="round" stroke-linejoin="round" />
<path d="M456.62 616.24L458.27 613.7L460.47 610.4L462.13 609.4L463.78 611.61L466.54 615.58L468.19 613.59L469.85 608.52L471.5 613.7L472.93 621.42L474.04 626.93" fill="none" stroke="#27a8e2" stroke-width="5.2" stroke-opacity="0.6" stroke-linecap="round" stroke-linejoin="round" />
<path d="M476.46 613.37L478.11 617.56L480.32 624.4L482.52 617.56L484.18 609.63L485.83 613.7L488.04 617.56L489.69 619.99L491.35 617.01L493.55 616.02L495.2 614.7L496.86 613.81" fill="none" stroke="#27a8e2" stroke-width="5.2" stroke-opacity="0.6" stroke-linecap="round" stroke-linejoin="round" />
<path d="M496.86 613.81L498.51 616.46L500.72 617.56L502.92 614.48L504.02 612.27L505.13 618.67L505.79 623.3" fill="none" stroke="#27a8e2" stroke-width="3.6" stroke-opacity="0.55" stroke-linecap="round" stroke-linejoin="round" />
<path d="M474.04 626.93L475.14 623.08L476.46 613.37" fill="none" stroke="#27a8e2" stroke-width="3.2" stroke-opacity="0.5" stroke-linecap="round" stroke-linejoin="round" />
<path d="M466.54 615.58L466.69 617.54L466.9 620.36L467.15 623.49L467.42 626.38L467.71 628.94L468.03 631.43L468.37 633.89L468.74 636.31L469.19 638.91L469.71 641.61L470.18 644.01L470.51 645.68" fill="none" stroke="#27a8e2" stroke-width="3.2" stroke-opacity="0.5" stroke-linecap="round" stroke-linejoin="round" />
<path d="M460.14 603.23L460.47 610.4" fill="none" stroke="#3f78f4" stroke-width="2.2" stroke-opacity="0.4" stroke-linecap="round" stroke-linejoin="round" />
<path d="M462.13 604.33L462.35 609.4" fill="none" stroke="#3f78f4" stroke-width="2.2" stroke-opacity="0.4" stroke-linecap="round" stroke-linejoin="round" />
<path d="M466.54 605.44L466.76 615.58" fill="none" stroke="#3f78f4" stroke-width="2.2" stroke-opacity="0.4" stroke-linecap="round" stroke-linejoin="round" />
<path d="M476.46 606.54L476.57 613.37" fill="none" stroke="#3f78f4" stroke-width="2.2" stroke-opacity="0.4" stroke-linecap="round" stroke-linejoin="round" />
<path d="M482.19 603.23L482.52 617.56" fill="none" stroke="#3f78f4" stroke-width="2.2" stroke-opacity="0.4" stroke-linecap="round" stroke-linejoin="round" />
<path d="M484.18 599.92L484.29 609.63" fill="none" stroke="#3f78f4" stroke-width="2.2" stroke-opacity="0.4" stroke-linecap="round" stroke-linejoin="round" />
<path d="M488.04 607.64L488.15 617.56" fill="none" stroke="#3f78f4" stroke-width="2.2" stroke-opacity="0.4" stroke-linecap="round" stroke-linejoin="round" />
<path d="M493.55 603.23L493.66 616.02" fill="none" stroke="#3f78f4" stroke-width="2.2" stroke-opacity="0.4" stroke-linecap="round" stroke-linejoin="round" />
<path d="M496.86 606.54L496.97 613.81" fill="none" stroke="#3f78f4" stroke-width="2.2" stroke-opacity="0.4" stroke-linecap="round" stroke-linejoin="round" />
<path d="M480.32 624.4L480.87 636.31L481.53 653.4" fill="none" stroke="#3f78f4" stroke-width="2.2" stroke-opacity="0.4" stroke-linecap="round" stroke-linejoin="round" />
<path d="M474.04 626.93L474.48 636.31" fill="none" stroke="#3f78f4" stroke-width="2.2" stroke-opacity="0.4" stroke-linecap="round" stroke-linejoin="round" />
<path d="M456.62 616.24L456.84 619.77" fill="none" stroke="#3f78f4" stroke-width="2.2" stroke-opacity="0.4" stroke-linecap="round" stroke-linejoin="round" />
<path d="M485.83 613.7L486.05 621.97" fill="none" stroke="#3f78f4" stroke-width="2.2" stroke-opacity="0.4" stroke-linecap="round" stroke-linejoin="round" />
<path d="M491.35 617.01L491.57 623.08" fill="none" stroke="#3f78f4" stroke-width="2.2" stroke-opacity="0.4" stroke-linecap="round" stroke-linejoin="round" />
<path d="M500.72 617.56L500.94 623.08" fill="none" stroke="#3f78f4" stroke-width="2.2" stroke-opacity="0.4" stroke-linecap="round" stroke-linejoin="round" />
<path d="M498.51 609.85L498.62 616.46" fill="none" stroke="#3f78f4" stroke-width="2.2" stroke-opacity="0.4" stroke-linecap="round" stroke-linejoin="round" />
<path d="M470.18 588.9L470.2 590.23L470.25 592.14L470.28 594.35L470.29 596.62L470.25 599.17L470.18 602.06L470.11 604.7L470.07 606.54" fill="none" stroke="#3f78f4" stroke-width="2.6" stroke-opacity="0.5" stroke-linecap="round" stroke-linejoin="round" />
<path d="M502.7 572.36L502.74 574.34L502.79 577.18L502.85 580.37L502.92 583.38L503 586.17L503.08 588.97L503.17 591.73L503.25 594.41L503.33 597.02L503.4 599.58L503.48 602.03L503.58 604.33L503.72 606.34L503.88 608.12L504.06 609.94L504.24 612.05L504.45 614.57L504.69 617.36L504.92 620.24L505.13 623.08L505.34 625.78L505.55 628.45L505.72 631.19L505.79 634.1L505.7 637.56L505.5 641.41L505.28 644.9L505.13 647.33" fill="none" stroke="#3f78f4" stroke-width="2.8" stroke-opacity="0.5" stroke-linecap="round" stroke-linejoin="round" />
<path d="M457.72 645.13L459.37 653.95L462.13 657.81L467.64 660.12L470.4 659.02L473.15 654.17L476.02 651.19L478.67 655.05L481.42 653.95L483.08 656.15L486.38 657.25L491.9 656.15L496.31 655.05L497.96 645.13L500.17 648.43L502.92 650.2L505.13 647.33L507.33 645.79L510.09 644.24L511.74 651.74L513.95 655.71L520.01 655.27" fill="none" stroke="#3f78f4" stroke-width="3" stroke-opacity="0.55" stroke-linecap="round" stroke-linejoin="round" />
<path d="M461.03 657.25L464.33 659.24L468.19 660.12" fill="none" stroke="#45c8a0" stroke-width="2.6" stroke-opacity="0.6" stroke-linecap="round" stroke-linejoin="round" />
<path d="M476.02 651.3L477.56 653.4L478.89 655.05" fill="none" stroke="#45c8a0" stroke-width="2.4" stroke-opacity="0.5" stroke-linecap="round" stroke-linejoin="round" />
<path d="M457.72 645.13L457.99 643.91L458.37 642.16L458.84 640.24L459.37 638.51L460 637.03L460.73 635.62L461.47 634.27L462.13 633L462.72 631.72L463.29 630.45L463.77 629.36L464.11 628.59" fill="none" stroke="#3f78f4" stroke-width="2.4" stroke-opacity="0.45" stroke-linecap="round" stroke-linejoin="round" />
<path d="M456.62 651.74L457.72 645.13" fill="none" stroke="#3f78f4" stroke-width="2.4" stroke-opacity="0.45" stroke-linecap="round" stroke-linejoin="round" />
<path d="M510.51 655.71L514.37 655.27L520.99 655.71" fill="none" stroke="#45c8a0" stroke-width="2.6" stroke-opacity="0.6" stroke-linecap="round" stroke-linejoin="round" />
<path d="M521.54 655.71L525.4 650.2L527.05 649.54L529.26 657.25L532.01 651.74L533.11 647.33" fill="none" stroke="#3f78f4" stroke-width="2.6" stroke-opacity="0.5" stroke-linecap="round" stroke-linejoin="round" />
<path d="M528.15 633L528.79 634.56L529.7 636.79L530.67 639.33L531.46 641.82L532.03 644.45L532.49 647.33L532.86 649.93L533.11 651.74" fill="none" stroke="#3f78f4" stroke-width="2.4" stroke-opacity="0.45" stroke-linecap="round" stroke-linejoin="round" />
<path d="M530.91 599.92L531.01 601.53L531.14 603.85L531.3 606.41L531.46 608.74L531.63 610.93L531.83 613.15L532 615.1L532.12 616.46" fill="none" stroke="#3f78f4" stroke-width="2.8" stroke-opacity="0.5" stroke-linecap="round" stroke-linejoin="round" />
<path d="M531.02 606.54L531.68 611.5" fill="none" stroke="#45c8a0" stroke-width="3.2" stroke-opacity="0.6" stroke-linecap="round" stroke-linejoin="round" />
<path d="M532.12 616.46L532.42 616.46L532.85 616.41L533.35 616.66L533.89 617.56L534.49 619.45L535.16 622.06L535.83 624.84L536.42 627.27L536.88 629.13L537.27 630.74L537.64 632.32L538.08 634.1L538.59 636.24L539.14 638.59L539.72 640.9L540.28 642.92L540.88 644.66L541.52 646.23L542.09 647.52L542.49 648.43" fill="none" stroke="#3f78f4" stroke-width="2.8" stroke-opacity="0.5" stroke-linecap="round" stroke-linejoin="round" />
<path d="M535.65 625.06L536.97 628.37" fill="none" stroke="#45c8a0" stroke-width="3" stroke-opacity="0.6" stroke-linecap="round" stroke-linejoin="round" />
<path d="M527.05 612.05L527.15 613.21L527.29 614.88L527.45 616.78L527.6 618.67L527.75 620.7L527.91 622.94L528.05 624.97L528.15 626.38" fill="none" stroke="#3f78f4" stroke-width="2.4" stroke-opacity="0.45" stroke-linecap="round" stroke-linejoin="round" />
<path d="M542.49 656.15L545.79 649.54L549.1 631.9L547.56 645.13L551.31 656.15" fill="none" stroke="#3f78f4" stroke-width="2.4" stroke-opacity="0.45" stroke-linecap="round" stroke-linejoin="round" />
<path d="M565.09 649.54L567.84 641.82L571.15 653.95L575.01 660.56" fill="none" stroke="#3f78f4" stroke-width="2.4" stroke-opacity="0.4" stroke-linecap="round" stroke-linejoin="round" />
<path d="M505.33 619.77L505.55 626.38" fill="none" stroke="#45c8a0" stroke-width="2.6" stroke-opacity="0.5" stroke-linecap="round" stroke-linejoin="round" />
<path d="M540 642.48L543.07 648.61" fill="none" stroke="#3f78f4" stroke-width="2" stroke-opacity="0.4" stroke-linecap="round" stroke-linejoin="round" />
<path d="M543.07 654.74L547.15 642.48L548.58 631.24L549.2 646.57L551.24 654.74" fill="none" stroke="#3f78f4" stroke-width="2.4" stroke-opacity="0.45" stroke-linecap="round" stroke-linejoin="round" />
<path d="M565.55 647.59L567.59 641.46L570.66 650.66L572.7 656.79L575.77 645.55L578.83 644.52L577.81 650.66L574.74 659.85L581.9 660.87L585.98 656.79" fill="none" stroke="#3f78f4" stroke-width="2.4" stroke-opacity="0.45" stroke-linecap="round" stroke-linejoin="round" />
<path d="M580.87 660.47L583.33 661.69" fill="none" stroke="#27a8e2" stroke-width="2.2" stroke-opacity="0.4" stroke-linecap="round" stroke-linejoin="round" />
<path d="M622.77 660.87L626.86 655.77L627.47 642.48L628.49 648.61L629.92 643.5L629.31 654.74L631.35 656.38" fill="none" stroke="#3f78f4" stroke-width="2.6" stroke-opacity="0.5" stroke-linecap="round" stroke-linejoin="round" />
<path d="M627.88 646.57L628.29 653.72" fill="none" stroke="#27a8e2" stroke-width="2.4" stroke-opacity="0.5" stroke-linecap="round" stroke-linejoin="round" />
</g>
<g filter="url(#b0)">
<path d="M456.62 616.24L458.27 613.7L460.47 610.4L462.13 609.4L463.78 611.61L466.54 615.58L468.19 613.59L469.85 608.52L471.5 613.7L472.93 621.42L474.04 626.93" fill="none" stroke="#45c8a0" stroke-width="3.8" stroke-opacity="0.7" stroke-linecap="round" stroke-linejoin="round" />
<path d="M476.46 613.37L478.11 617.56L480.32 624.4L482.52 617.56L484.18 609.63L485.83 613.7L488.04 617.56L489.69 619.99L491.35 617.01L493.55 616.02L495.2 614.7L496.86 613.81" fill="none" stroke="#45c8a0" stroke-width="3.8" stroke-opacity="0.7" stroke-linecap="round" stroke-linejoin="round" />
<path d="M496.86 613.81L498.51 616.46L500.72 617.56L502.92 614.48L504.02 612.27L505.13 618.67L505.79 623.3" fill="none" stroke="#45c8a0" stroke-width="2.2" stroke-opacity="0.7" stroke-linecap="round" stroke-linejoin="round" />
<path d="M466.54 615.58L466.69 617.54L466.9 620.36L467.15 623.49L467.42 626.38L467.71 628.94L468.03 631.43L468.37 633.89L468.74 636.31L469.19 638.91L469.71 641.61L470.18 644.01L470.51 645.68" fill="none" stroke="#45c8a0" stroke-width="1.9" stroke-opacity="0.7" stroke-linecap="round" stroke-linejoin="round" />
<path d="M457.72 645.13L459.37 653.95L462.13 657.81L467.64 660.12L470.4 659.02L473.15 654.17L476.02 651.19L478.67 655.05L481.42 653.95L483.08 656.15L486.38 657.25L491.9 656.15L496.31 655.05L497.96 645.13L500.17 648.43L502.92 650.2L505.13 647.33L507.33 645.79L510.09 644.24L511.74 651.74L513.95 655.71L520.01 655.27" fill="none" stroke="#27a8e2" stroke-width="1.7" stroke-opacity="0.45" stroke-linecap="round" stroke-linejoin="round" />
<path d="M467.23 671.5L468.84 670.54L471.17 669.16L473.74 667.71L476.1 666.57L478.32 665.82L480.59 665.28L482.59 664.88L483.98 664.6" fill="none" stroke="#4c80f2" stroke-width="0.9" stroke-opacity="0.6" stroke-linecap="round" stroke-linejoin="round" />
<path d="M474.12 662.63L475.21 663.5L476.77 664.78L478.49 665.98L480.04 666.57L481.45 666.25L482.87 665.34L484.1 664.31L484.96 663.61" fill="none" stroke="#4c80f2" stroke-width="0.9" stroke-opacity="0.6" stroke-linecap="round" stroke-linejoin="round" />
<path d="M489.89 668.54L492.46 668.32L496.17 667.99L500.19 667.69L503.69 667.56L506.52 667.64L509.11 667.86L511.45 668.18L513.54 668.54L515.25 669.1L516.62 669.83L517.93 670.41L519.45 670.51L521.29 669.91L523.27 668.81L525.32 667.58L527.34 666.57L529.35 665.86L531.4 665.27L533.39 664.73L535.22 664.21L536.98 663.64L538.67 663.07L540.12 662.58L541.13 662.23" fill="none" stroke="#4c80f2" stroke-width="0.9" stroke-opacity="0.6" stroke-linecap="round" stroke-linejoin="round" />
<path d="M480.04 679.38L482.52 679.07L486.07 678.64L490.06 678.09L493.83 677.41L497.37 676.42L500.98 675.19L504.46 674.08L507.63 673.47L510.6 673.59L513.42 674.21L515.8 674.95L517.48 675.44" fill="none" stroke="#4c80f2" stroke-width="0.9" stroke-opacity="0.6" stroke-linecap="round" stroke-linejoin="round" />
<path d="M478.07 683.91L497.77 683.91" fill="none" stroke="#4c80f2" stroke-width="0.9" stroke-opacity="0.6" stroke-linecap="round" stroke-linejoin="round" />
<path d="M528.32 672.48L530.72 672.73L534.17 673.1L537.91 673.41L541.13 673.47L543.84 673.14L546.37 672.54L548.5 671.92L550 671.5" fill="none" stroke="#4c80f2" stroke-width="0.9" stroke-opacity="0.6" stroke-linecap="round" stroke-linejoin="round" />
<path d="M533.25 679.38L550 678.4" fill="none" stroke="#4c80f2" stroke-width="0.9" stroke-opacity="0.6" stroke-linecap="round" stroke-linejoin="round" />
<path d="M505.66 683.32L533.25 682.34" fill="none" stroke="#4c80f2" stroke-width="0.9" stroke-opacity="0.6" stroke-linecap="round" stroke-linejoin="round" />
<path d="M540 674.16L541.84 674.01L544.47 673.78L547.42 673.58L550.22 673.55L552.77 673.77L555.33 674.16L557.88 674.55L560.44 674.77L562.99 674.7L565.55 674.45L568.1 674.21L570.66 674.16L573.38 674.45L576.21 674.96L578.82 675.43L580.87 675.59L582.05 675.23L582.6 674.53L583.05 673.85L583.94 673.55L585.37 673.83L587.07 674.47L588.99 675.16L591.09 675.59L593.53 675.69L596.27 675.62L598.97 675.43L601.31 675.18L603.08 674.73L604.51 674.11L605.86 673.61L607.44 673.55L609.3 674.24L611.28 675.44L613.38 676.61L615.62 677.22L618.03 677L620.6 676.27L623.23 675.4L625.84 674.77L628.49 674.52L631.2 674.44L633.79 674.37L636.06 674.16L637.92 673.72L639.5 673.16L640.89 672.59L642.19 672.12L643.33 671.69L644.29 671.28L645.23 671.04L646.27 671.09L647.53 671.66L648.89 672.6L650.23 673.56L651.38 674.16L652.37 674.25L653.24 674.04L653.95 673.74L654.45 673.55" fill="none" stroke="#4c80f2" stroke-width="0.9" stroke-opacity="0.6" stroke-linecap="round" stroke-linejoin="round" />
<path d="M600.29 669.05L601.21 668.38L602.53 667.39L604 666.46L605.4 665.98L606.7 666.09L608.02 666.56L609.3 667.25L610.51 668.03L611.6 669.1L612.62 670.45L613.6 671.62L614.6 672.12L615.64 671.6L616.7 670.39L617.73 669.03L618.68 668.03L619.54 667.48L620.32 667.13L621.05 666.97L621.75 667.01L622.46 667.35L623.17 667.96L623.78 668.61L624.2 669.05" fill="none" stroke="#4c80f2" stroke-width="0.9" stroke-opacity="0.6" stroke-linecap="round" stroke-linejoin="round" />
<path d="M566.57 680.29L571.07 680.73L577.55 681.38L584.67 681.99L591.09 682.33L596.35 682.25L601.18 681.89L606.09 681.5L611.53 681.31L618.36 681.45L626.09 681.76L633.18 682.1L638.1 682.33" fill="none" stroke="#4c80f2" stroke-width="0.9" stroke-opacity="0.6" stroke-linecap="round" stroke-linejoin="round" />
<path d="M576.79 683.36L585.35 683.41L597.74 683.48L610.89 683.6L621.75 683.76L629.89 684.04L636.82 684.4L642.35 684.75L646.27 684.99" fill="none" stroke="#4c80f2" stroke-width="0.9" stroke-opacity="0.6" stroke-linecap="round" stroke-linejoin="round" />
<path d="M638.1 680.9L662.62 680.7" fill="none" stroke="#4c80f2" stroke-width="0.9" stroke-opacity="0.6" stroke-linecap="round" stroke-linejoin="round" />
<path d="M540 679.27L562.48 679.68" fill="none" stroke="#4c80f2" stroke-width="0.9" stroke-opacity="0.6" stroke-linecap="round" stroke-linejoin="round" />
<path d="M607.44 673.55L608.18 674.05L609.23 674.78L610.41 675.56L611.53 676.2L612.53 676.73L613.51 677.21L614.52 677.55L615.62 677.63L616.94 677.32L618.43 676.7L619.79 676.04L620.73 675.59" fill="none" stroke="#46b4e4" stroke-width="1" stroke-opacity="0.8" stroke-linecap="round" stroke-linejoin="round" />
<path d="M456.62 616.24L458.27 613.7L460.47 610.4L462.13 609.4L463.78 611.61L466.54 615.58L468.19 613.59L469.85 608.52L471.5 613.7L472.93 621.42L474.04 626.93" fill="none" stroke="#f5ef22" stroke-width="1.9" stroke-opacity="1" stroke-linecap="round" stroke-linejoin="round" />
<path d="M476.46 613.37L478.11 617.56L480.32 624.4L482.52 617.56L484.18 609.63L485.83 613.7L488.04 617.56L489.69 619.99L491.35 617.01L493.55 616.02L495.2 614.7L496.86 613.81" fill="none" stroke="#f5ef22" stroke-width="1.9" stroke-opacity="1" stroke-linecap="round" stroke-linejoin="round" />
<path d="M496.86 613.81L498.51 616.46L500.72 617.56L502.92 614.48L504.02 612.27L505.13 618.67L505.79 623.3" fill="none" stroke="#b8cc30" stroke-width="1.3" stroke-opacity="1" stroke-linecap="round" stroke-linejoin="round" />
<path d="M474.04 626.93L475.14 623.08L476.46 613.37" fill="none" stroke="#45c8a0" stroke-width="1.2" stroke-opacity="1" stroke-linecap="round" stroke-linejoin="round" />
<ellipse cx="457.17" cy="615.91" rx="0.88" ry="1.54" fill="#f5ef22"/>
<ellipse cx="461.03" cy="610.07" rx="1.32" ry="1.32" fill="#f5ef22"/>
<ellipse cx="469.85" cy="609.63" rx="0.88" ry="2.43" fill="#f5ef22"/>
<ellipse cx="472.49" cy="619.55" rx="0.77" ry="2.65" fill="#f5ef22"/>
<ellipse cx="476.46" cy="613.59" rx="0.88" ry="1.43" fill="#f5ef22"/>
<ellipse cx="480.32" cy="623.08" rx="1.1" ry="2.43" fill="#f5ef22"/>
<ellipse cx="484.18" cy="610.73" rx="0.77" ry="1.76" fill="#f5ef22"/>
<ellipse cx="488.81" cy="618.22" rx="0.88" ry="1.43" fill="#f5ef22"/>
<ellipse cx="494.98" cy="614.92" rx="1.32" ry="1.1" fill="#f5ef22"/>
<ellipse cx="466.54" cy="615.14" rx="0.88" ry="1.32" fill="#f5ef22"/>
<ellipse cx="486.38" cy="614.81" rx="0.66" ry="1.32" fill="#f5ef22"/>
<path d="M466.54 615.58L466.69 617.54L466.9 620.36L467.15 623.49L467.42 626.38L467.71 628.94L468.03 631.43L468.37 633.89L468.74 636.31L469.19 638.91L469.71 641.61L470.18 644.01L470.51 645.68" fill="none" stroke="#e4e62c" stroke-width="1" stroke-opacity="1" stroke-linecap="round" stroke-linejoin="round" />
<path d="M460.14 603.23L460.47 610.4" fill="none" stroke="#34a8e6" stroke-width="0.8" stroke-opacity="0.8" stroke-linecap="round" stroke-linejoin="round" />
<path d="M462.13 604.33L462.35 609.4" fill="none" stroke="#34a8e6" stroke-width="0.8" stroke-opacity="0.8" stroke-linecap="round" stroke-linejoin="round" />
<path d="M466.54 605.44L466.76 615.58" fill="none" stroke="#34a8e6" stroke-width="0.8" stroke-opacity="0.8" stroke-linecap="round" stroke-linejoin="round" />
<path d="M476.46 606.54L476.57 613.37" fill="none" stroke="#34a8e6" stroke-width="0.8" stroke-opacity="0.8" stroke-linecap="round" stroke-linejoin="round" />
<path d="M482.19 603.23L482.52 617.56" fill="none" stroke="#34a8e6" stroke-width="0.8" stroke-opacity="0.8" stroke-linecap="round" stroke-linejoin="round" />
<path d="M484.18 599.92L484.29 609.63" fill="none" stroke="#34a8e6" stroke-width="0.8" stroke-opacity="0.8" stroke-linecap="round" stroke-linejoin="round" />
<path d="M488.04 607.64L488.15 617.56" fill="none" stroke="#34a8e6" stroke-width="0.8" stroke-opacity="0.8" stroke-linecap="round" stroke-linejoin="round" />
<path d="M493.55 603.23L493.66 616.02" fill="none" stroke="#34a8e6" stroke-width="0.8" stroke-opacity="0.8" stroke-linecap="round" stroke-linejoin="round" />
<path d="M496.86 606.54L496.97 613.81" fill="none" stroke="#34a8e6" stroke-width="0.8" stroke-opacity="0.8" stroke-linecap="round" stroke-linejoin="round" />
<path d="M480.32 624.4L480.87 636.31L481.53 653.4" fill="none" stroke="#34a8e6" stroke-width="0.8" stroke-opacity="0.8" stroke-linecap="round" stroke-linejoin="round" />
<path d="M474.04 626.93L474.48 636.31" fill="none" stroke="#34a8e6" stroke-width="0.8" stroke-opacity="0.8" stroke-linecap="round" stroke-linejoin="round" />
<path d="M456.62 616.24L456.84 619.77" fill="none" stroke="#34a8e6" stroke-width="0.8" stroke-opacity="0.8" stroke-linecap="round" stroke-linejoin="round" />
<path d="M485.83 613.7L486.05 621.97" fill="none" stroke="#34a8e6" stroke-width="0.8" stroke-opacity="0.8" stroke-linecap="round" stroke-linejoin="round" />
<path d="M491.35 617.01L491.57 623.08" fill="none" stroke="#34a8e6" stroke-width="0.8" stroke-opacity="0.8" stroke-linecap="round" stroke-linejoin="round" />
<path d="M500.72 617.56L500.94 623.08" fill="none" stroke="#34a8e6" stroke-width="0.8" stroke-opacity="0.8" stroke-linecap="round" stroke-linejoin="round" />
<path d="M498.51 609.85L498.62 616.46" fill="none" stroke="#34a8e6" stroke-width="0.8" stroke-opacity="0.8" stroke-linecap="round" stroke-linejoin="round" />
<path d="M470.18 588.9L470.2 590.23L470.25 592.14L470.28 594.35L470.29 596.62L470.25 599.17L470.18 602.06L470.11 604.7L470.07 606.54" fill="none" stroke="#3aaee4" stroke-width="1" stroke-opacity="0.9" stroke-linecap="round" stroke-linejoin="round" />
<path d="M502.7 572.36L502.74 574.34L502.79 577.18L502.85 580.37L502.92 583.38L503 586.17L503.08 588.97L503.17 591.73L503.25 594.41L503.33 597.02L503.4 599.58L503.48 602.03L503.58 604.33L503.72 606.34L503.88 608.12L504.06 609.94L504.24 612.05L504.45 614.57L504.69 617.36L504.92 620.24L505.13 623.08L505.34 625.78L505.55 628.45L505.72 631.19L505.79 634.1L505.7 637.56L505.5 641.41L505.28 644.9L505.13 647.33" fill="none" stroke="#38b6dc" stroke-width="1.1" stroke-opacity="0.95" stroke-linecap="round" stroke-linejoin="round" />
<path d="M457.72 645.13L459.37 653.95L462.13 657.81L467.64 660.12L470.4 659.02L473.15 654.17L476.02 651.19L478.67 655.05L481.42 653.95L483.08 656.15L486.38 657.25L491.9 656.15L496.31 655.05L497.96 645.13L500.17 648.43L502.92 650.2L505.13 647.33L507.33 645.79L510.09 644.24L511.74 651.74L513.95 655.71L520.01 655.27" fill="none" stroke="#3cc0d8" stroke-width="0.9" stroke-opacity="0.8" stroke-linecap="round" stroke-linejoin="round" />
<path d="M461.03 657.25L464.33 659.24L468.19 660.12" fill="none" stroke="#f5ef22" stroke-width="1.2" stroke-opacity="1" stroke-linecap="round" stroke-linejoin="round" />
<path d="M476.02 651.3L477.56 653.4L478.89 655.05" fill="none" stroke="#b8cc30" stroke-width="1.1" stroke-opacity="1" stroke-linecap="round" stroke-linejoin="round" />
<path d="M457.72 645.13L457.99 643.91L458.37 642.16L458.84 640.24L459.37 638.51L460 637.03L460.73 635.62L461.47 634.27L462.13 633L462.72 631.72L463.29 630.45L463.77 629.36L464.11 628.59" fill="none" stroke="#34a4e8" stroke-width="0.9" stroke-opacity="0.8" stroke-linecap="round" stroke-linejoin="round" />
<path d="M456.62 651.74L457.72 645.13" fill="none" stroke="#34a4e8" stroke-width="0.9" stroke-opacity="0.7" stroke-linecap="round" stroke-linejoin="round" />
<path d="M510.51 655.71L514.37 655.27L520.99 655.71" fill="none" stroke="#dde030" stroke-width="1" stroke-opacity="1" stroke-linecap="round" stroke-linejoin="round" />
<path d="M521.54 655.71L525.4 650.2L527.05 649.54L529.26 657.25L532.01 651.74L533.11 647.33" fill="none" stroke="#3cb8dc" stroke-width="0.9" stroke-opacity="1" stroke-linecap="round" stroke-linejoin="round" />
<path d="M528.15 633L528.79 634.56L529.7 636.79L530.67 639.33L531.46 641.82L532.03 644.45L532.49 647.33L532.86 649.93L533.11 651.74" fill="none" stroke="#38a8e6" stroke-width="0.9" stroke-opacity="1" stroke-linecap="round" stroke-linejoin="round" />
<path d="M530.91 599.92L531.01 601.53L531.14 603.85L531.3 606.41L531.46 608.74L531.63 610.93L531.83 613.15L532 615.1L532.12 616.46" fill="none" stroke="#38b0e0" stroke-width="1" stroke-opacity="1" stroke-linecap="round" stroke-linejoin="round" />
<path d="M531.02 606.54L531.68 611.5" fill="none" stroke="#b8cc30" stroke-width="1.6" stroke-opacity="1" stroke-linecap="round" stroke-linejoin="round" />
<path d="M532.12 616.46L532.42 616.46L532.85 616.41L533.35 616.66L533.89 617.56L534.49 619.45L535.16 622.06L535.83 624.84L536.42 627.27L536.88 629.13L537.27 630.74L537.64 632.32L538.08 634.1L538.59 636.24L539.14 638.59L539.72 640.9L540.28 642.92L540.88 644.66L541.52 646.23L542.09 647.52L542.49 648.43" fill="none" stroke="#46c0c0" stroke-width="1" stroke-opacity="1" stroke-linecap="round" stroke-linejoin="round" />
<path d="M535.65 625.06L536.97 628.37" fill="none" stroke="#b8cc30" stroke-width="1.5" stroke-opacity="1" stroke-linecap="round" stroke-linejoin="round" />
<path d="M527.05 612.05L527.15 613.21L527.29 614.88L527.45 616.78L527.6 618.67L527.75 620.7L527.91 622.94L528.05 624.97L528.15 626.38" fill="none" stroke="#34a8e6" stroke-width="0.9" stroke-opacity="1" stroke-linecap="round" stroke-linejoin="round" />
<path d="M542.49 656.15L545.79 649.54L549.1 631.9L547.56 645.13L551.31 656.15" fill="none" stroke="#3c98ee" stroke-width="0.9" stroke-opacity="1" stroke-linecap="round" stroke-linejoin="round" />
<path d="M565.09 649.54L567.84 641.82L571.15 653.95L575.01 660.56" fill="none" stroke="#3c98ee" stroke-width="0.9" stroke-opacity="1" stroke-linecap="round" stroke-linejoin="round" />
<path d="M505.33 619.77L505.55 626.38" fill="none" stroke="#b8cc30" stroke-width="1.2" stroke-opacity="1" stroke-linecap="round" stroke-linejoin="round" />
<path d="M540 642.48L543.07 648.61" fill="none" stroke="#3c98ee" stroke-width="0.8" stroke-opacity="1" stroke-linecap="round" stroke-linejoin="round" />
<path d="M543.07 654.74L547.15 642.48L548.58 631.24L549.2 646.57L551.24 654.74" fill="none" stroke="#38aae6" stroke-width="0.9" stroke-opacity="1" stroke-linecap="round" stroke-linejoin="round" />
<path d="M565.55 647.59L567.59 641.46L570.66 650.66L572.7 656.79L575.77 645.55L578.83 644.52L577.81 650.66L574.74 659.85L581.9 660.87L585.98 656.79" fill="none" stroke="#46a0f0" stroke-width="0.9" stroke-opacity="1" stroke-linecap="round" stroke-linejoin="round" />
<path d="M580.87 660.47L583.33 661.69" fill="none" stroke="#48c8d0" stroke-width="1" stroke-opacity="1" stroke-linecap="round" stroke-linejoin="round" />
<path d="M622.77 660.87L626.86 655.77L627.47 642.48L628.49 648.61L629.92 643.5L629.31 654.74L631.35 656.38" fill="none" stroke="#38b4e0" stroke-width="1" stroke-opacity="1" stroke-linecap="round" stroke-linejoin="round" />
<path d="M627.88 646.57L628.29 653.72" fill="none" stroke="#45c8a0" stroke-width="1.1" stroke-opacity="1" stroke-linecap="round" stroke-linejoin="round" />
</g>
</g>
<path d="M416.7 148.2v2.6M416.7 33.4v-2.6M459.55 148.2v2.6M459.55 33.4v-2.6M502.4 148.2v2.6M502.4 33.4v-2.6M545.25 148.2v2.6M545.25 33.4v-2.6M588.1 148.2v2.6M588.1 33.4v-2.6M630.95 148.2v2.6M630.95 33.4v-2.6M673.8 148.2v2.6M673.8 33.4v-2.6M416.7 148.2h-2.6M673.8 148.2h2.6M416.7 125.24h-2.6M673.8 125.24h2.6M416.7 102.28h-2.6M673.8 102.28h2.6M416.7 79.32h-2.6M673.8 79.32h2.6M416.7 56.36h-2.6M673.8 56.36h2.6M416.7 33.4h-2.6M673.8 33.4h2.6" stroke="#7a7a7a" stroke-width="0.8" fill="none"/>
<text x="416.7" y="164.5" font-family='"Liberation Sans", sans-serif' font-size="9.6" font-weight="normal" fill="#404040" text-anchor="middle" >0</text>
<text x="459.55" y="164.5" font-family='"Liberation Sans", sans-serif' font-size="9.6" font-weight="normal" fill="#404040" text-anchor="middle" >0.5</text>
<text x="502.4" y="164.5" font-family='"Liberation Sans", sans-serif' font-size="9.6" font-weight="normal" fill="#404040" text-anchor="middle" >1</text>
<text x="545.25" y="164.5" font-family='"Liberation Sans", sans-serif' font-size="9.6" font-weight="normal" fill="#404040" text-anchor="middle" >1.5</text>
<text x="588.1" y="164.5" font-family='"Liberation Sans", sans-serif' font-size="9.6" font-weight="normal" fill="#404040" text-anchor="middle" >2</text>
<text x="630.95" y="164.5" font-family='"Liberation Sans", sans-serif' font-size="9.6" font-weight="normal" fill="#404040" text-anchor="middle" >2.5</text>
<text x="673.8" y="164.5" font-family='"Liberation Sans", sans-serif' font-size="9.6" font-weight="normal" fill="#404040" text-anchor="middle" >3</text>
<text x="410.5" y="152" font-family='"Liberation Sans", sans-serif' font-size="9.6" font-weight="normal" fill="#404040" text-anchor="end" >0</text>
<text x="410.5" y="129.04" font-family='"Liberation Sans", sans-serif' font-size="9.6" font-weight="normal" fill="#404040" text-anchor="end" >200</text>
<text x="410.5" y="106.08" font-family='"Liberation Sans", sans-serif' font-size="9.6" font-weight="normal" fill="#404040" text-anchor="end" >400</text>
<text x="410.5" y="83.12" font-family='"Liberation Sans", sans-serif' font-size="9.6" font-weight="normal" fill="#404040" text-anchor="end" >600</text>
<text x="410.5" y="60.16" font-family='"Liberation Sans", sans-serif' font-size="9.6" font-weight="normal" fill="#404040" text-anchor="end" >800</text>
<text x="410.5" y="37.2" font-family='"Liberation Sans", sans-serif' font-size="9.6" font-weight="normal" fill="#404040" text-anchor="end" >1000</text>
<text x="545.25" y="178.4" font-family='"Liberation Sans", sans-serif' font-size="10.7" font-weight="bold" fill="#262626" text-anchor="middle" >Time (s)</text>
<text x="385.4" y="90.8" font-family='"Liberation Sans", sans-serif' font-size="10.7" font-weight="bold" fill="#262626" text-anchor="middle" transform="rotate(-90 385.4 90.8)">Frequency (Hz)</text>
<path d="M416.7 312.6v2.6M416.7 197.8v-2.6M459.55 312.6v2.6M459.55 197.8v-2.6M502.4 312.6v2.6M502.4 197.8v-2.6M545.25 312.6v2.6M545.25 197.8v-2.6M588.1 312.6v2.6M588.1 197.8v-2.6M630.95 312.6v2.6M630.95 197.8v-2.6M673.8 312.6v2.6M673.8 197.8v-2.6M416.7 312.6h-2.6M673.8 312.6h2.6M416.7 289.64h-2.6M673.8 289.64h2.6M416.7 266.68h-2.6M673.8 266.68h2.6M416.7 243.72h-2.6M673.8 243.72h2.6M416.7 220.76h-2.6M673.8 220.76h2.6M416.7 197.8h-2.6M673.8 197.8h2.6" stroke="#7a7a7a" stroke-width="0.8" fill="none"/>
<text x="416.7" y="328.9" font-family='"Liberation Sans", sans-serif' font-size="9.6" font-weight="normal" fill="#404040" text-anchor="middle" >0</text>
<text x="459.55" y="328.9" font-family='"Liberation Sans", sans-serif' font-size="9.6" font-weight="normal" fill="#404040" text-anchor="middle" >0.5</text>
<text x="502.4" y="328.9" font-family='"Liberation Sans", sans-serif' font-size="9.6" font-weight="normal" fill="#404040" text-anchor="middle" >1</text>
<text x="545.25" y="328.9" font-family='"Liberation Sans", sans-serif' font-size="9.6" font-weight="normal" fill="#404040" text-anchor="middle" >1.5</text>
<text x="588.1" y="328.9" font-family='"Liberation Sans", sans-serif' font-size="9.6" font-weight="normal" fill="#404040" text-anchor="middle" >2</text>
<text x="630.95" y="328.9" font-family='"Liberation Sans", sans-serif' font-size="9.6" font-weight="normal" fill="#404040" text-anchor="middle" >2.5</text>
<text x="673.8" y="328.9" font-family='"Liberation Sans", sans-serif' font-size="9.6" font-weight="normal" fill="#404040" text-anchor="middle" >3</text>
<text x="410.5" y="316.4" font-family='"Liberation Sans", sans-serif' font-size="9.6" font-weight="normal" fill="#404040" text-anchor="end" >0</text>
<text x="410.5" y="293.44" font-family='"Liberation Sans", sans-serif' font-size="9.6" font-weight="normal" fill="#404040" text-anchor="end" >200</text>
<text x="410.5" y="270.48" font-family='"Liberation Sans", sans-serif' font-size="9.6" font-weight="normal" fill="#404040" text-anchor="end" >400</text>
<text x="410.5" y="247.52" font-family='"Liberation Sans", sans-serif' font-size="9.6" font-weight="normal" fill="#404040" text-anchor="end" >600</text>
<text x="410.5" y="224.56" font-family='"Liberation Sans", sans-serif' font-size="9.6" font-weight="normal" fill="#404040" text-anchor="end" >800</text>
<text x="410.5" y="201.6" font-family='"Liberation Sans", sans-serif' font-size="9.6" font-weight="normal" fill="#404040" text-anchor="end" >1000</text>
<text x="545.25" y="342.8" font-family='"Liberation Sans", sans-serif' font-size="10.7" font-weight="bold" fill="#262626" text-anchor="middle" >Time (s)</text>
<text x="385.4" y="255.2" font-family='"Liberation Sans", sans-serif' font-size="10.7" font-weight="bold" fill="#262626" text-anchor="middle" transform="rotate(-90 385.4 255.2)">Frequency (Hz)</text>
<path d="M418.4 524.2v2.6M418.4 409.3v-2.6M482.5 524.2v2.6M482.5 409.3v-2.6M546.6 524.2v2.6M546.6 409.3v-2.6M610.7 524.2v2.6M610.7 409.3v-2.6M674.8 524.2v2.6M674.8 409.3v-2.6M418.4 524.2h-2.6M674.8 524.2h2.6M418.4 501.22h-2.6M674.8 501.22h2.6M418.4 478.24h-2.6M674.8 478.24h2.6M418.4 455.26h-2.6M674.8 455.26h2.6M418.4 432.28h-2.6M674.8 432.28h2.6M418.4 409.3h-2.6M674.8 409.3h2.6" stroke="#3c3c3c" stroke-width="0.8" fill="none"/>
<text x="418.4" y="540.5" font-family='"Liberation Sans", sans-serif' font-size="9.6" font-weight="normal" fill="#404040" text-anchor="middle" >0</text>
<text x="482.5" y="540.5" font-family='"Liberation Sans", sans-serif' font-size="9.6" font-weight="normal" fill="#404040" text-anchor="middle" >0.2</text>
<text x="546.6" y="540.5" font-family='"Liberation Sans", sans-serif' font-size="9.6" font-weight="normal" fill="#404040" text-anchor="middle" >0.4</text>
<text x="610.7" y="540.5" font-family='"Liberation Sans", sans-serif' font-size="9.6" font-weight="normal" fill="#404040" text-anchor="middle" >0.6</text>
<text x="674.8" y="540.5" font-family='"Liberation Sans", sans-serif' font-size="9.6" font-weight="normal" fill="#404040" text-anchor="middle" >0.8</text>
<text x="412.2" y="528" font-family='"Liberation Sans", sans-serif' font-size="9.6" font-weight="normal" fill="#404040" text-anchor="end" >0</text>
<text x="412.2" y="505.02" font-family='"Liberation Sans", sans-serif' font-size="9.6" font-weight="normal" fill="#404040" text-anchor="end" >100</text>
<text x="412.2" y="482.04" font-family='"Liberation Sans", sans-serif' font-size="9.6" font-weight="normal" fill="#404040" text-anchor="end" >200</text>
<text x="412.2" y="459.06" font-family='"Liberation Sans", sans-serif' font-size="9.6" font-weight="normal" fill="#404040" text-anchor="end" >300</text>
<text x="412.2" y="436.08" font-family='"Liberation Sans", sans-serif' font-size="9.6" font-weight="normal" fill="#404040" text-anchor="end" >400</text>
<text x="412.2" y="413.1" font-family='"Liberation Sans", sans-serif' font-size="9.6" font-weight="normal" fill="#404040" text-anchor="end" >500</text>
<text x="546.6" y="554.4" font-family='"Liberation Sans", sans-serif' font-size="10.7" font-weight="bold" fill="#262626" text-anchor="middle" >Time (ms)</text>
<text x="390.6" y="466.75" font-family='"Liberation Sans", sans-serif' font-size="10.7" font-weight="bold" fill="#262626" text-anchor="middle" transform="rotate(-90 390.6 466.75)">Frequency (kHz)</text>
<path d="M418.4 688.8v2.6M418.4 574v-2.6M482.5 688.8v2.6M482.5 574v-2.6M546.6 688.8v2.6M546.6 574v-2.6M610.7 688.8v2.6M610.7 574v-2.6M674.8 688.8v2.6M674.8 574v-2.6M418.4 688.8h-2.6M674.8 688.8h2.6M418.4 665.84h-2.6M674.8 665.84h2.6M418.4 642.88h-2.6M674.8 642.88h2.6M418.4 619.92h-2.6M674.8 619.92h2.6M418.4 596.96h-2.6M674.8 596.96h2.6M418.4 574h-2.6M674.8 574h2.6" stroke="#3c3c3c" stroke-width="0.8" fill="none"/>
<text x="418.4" y="705.1" font-family='"Liberation Sans", sans-serif' font-size="9.6" font-weight="normal" fill="#404040" text-anchor="middle" >0</text>
<text x="482.5" y="705.1" font-family='"Liberation Sans", sans-serif' font-size="9.6" font-weight="normal" fill="#404040" text-anchor="middle" >0.2</text>
<text x="546.6" y="705.1" font-family='"Liberation Sans", sans-serif' font-size="9.6" font-weight="normal" fill="#404040" text-anchor="middle" >0.4</text>
<text x="610.7" y="705.1" font-family='"Liberation Sans", sans-serif' font-size="9.6" font-weight="normal" fill="#404040" text-anchor="middle" >0.6</text>
<text x="674.8" y="705.1" font-family='"Liberation Sans", sans-serif' font-size="9.6" font-weight="normal" fill="#404040" text-anchor="middle" >0.8</text>
<text x="412.2" y="692.6" font-family='"Liberation Sans", sans-serif' font-size="9.6" font-weight="normal" fill="#404040" text-anchor="end" >0</text>
<text x="412.2" y="669.64" font-family='"Liberation Sans", sans-serif' font-size="9.6" font-weight="normal" fill="#404040" text-anchor="end" >100</text>
<text x="412.2" y="646.68" font-family='"Liberation Sans", sans-serif' font-size="9.6" font-weight="normal" fill="#404040" text-anchor="end" >200</text>
<text x="412.2" y="623.72" font-family='"Liberation Sans", sans-serif' font-size="9.6" font-weight="normal" fill="#404040" text-anchor="end" >300</text>
<text x="412.2" y="600.76" font-family='"Liberation Sans", sans-serif' font-size="9.6" font-weight="normal" fill="#404040" text-anchor="end" >400</text>
<text x="412.2" y="577.8" font-family='"Liberation Sans", sans-serif' font-size="9.6" font-weight="normal" fill="#404040" text-anchor="end" >500</text>
<text x="546.6" y="719" font-family='"Liberation Sans", sans-serif' font-size="10.7" font-weight="bold" fill="#262626" text-anchor="middle" >Time (ms)</text>
<text x="390.6" y="631.4" font-family='"Liberation Sans", sans-serif' font-size="10.7" font-weight="bold" fill="#262626" text-anchor="middle" transform="rotate(-90 390.6 631.4)">Frequency (kHz)</text>
<text x="600.2" y="56.6" font-family='"Liberation Serif", serif' font-size="12.8" font-weight="bold" fill="#fff" text-anchor="start" >SS-CWT</text>
<text x="602.8" y="218.5" font-family='"Liberation Serif", serif' font-size="12.8" font-weight="bold" fill="#fff" text-anchor="start" >SS-CWT</text>
<text x="600" y="429.6" font-family='"Liberation Serif", serif' font-size="12.8" font-weight="bold" fill="#fff" text-anchor="start" >SS-CWT</text>
<text x="604" y="595" font-family='"Liberation Serif", serif' font-size="12.8" font-weight="bold" fill="#fff" text-anchor="start" >SS-CWT</text>
</svg></body></html>
